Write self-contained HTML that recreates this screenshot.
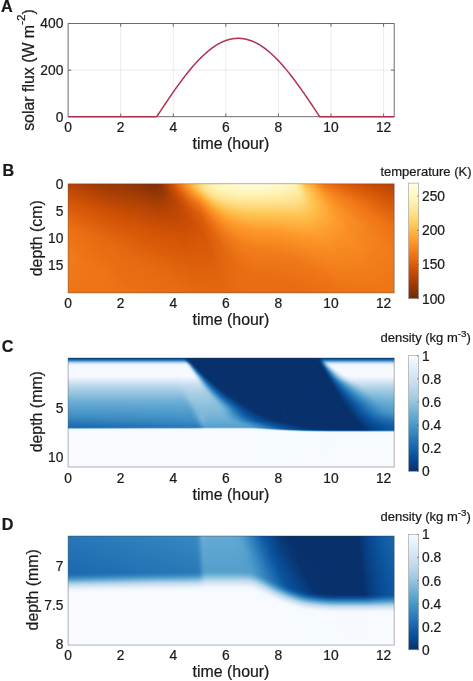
<!DOCTYPE html>
<html><head><meta charset="utf-8"><title>figure</title>
<style>html,body{margin:0;padding:0;background:#fff;}svg{display:block;will-change:transform;}text{font-family:"Liberation Sans", sans-serif;fill:#1a1a1a;stroke:#1a1a1a;stroke-width:0.22px;}</style>
</head><body>
<svg width="473" height="681" viewBox="0 0 473 681">
<rect width="473" height="681" fill="#ffffff"/>
<g stroke="#dedede" stroke-width="0.6"><line x1="120.68" y1="23.55" x2="120.68" y2="116.70"/><line x1="173.26" y1="23.55" x2="173.26" y2="116.70"/><line x1="225.84" y1="23.55" x2="225.84" y2="116.70"/><line x1="278.42" y1="23.55" x2="278.42" y2="116.70"/><line x1="331.00" y1="23.55" x2="331.00" y2="116.70"/><line x1="383.58" y1="23.55" x2="383.58" y2="116.70"/><line x1="68.10" y1="70.12" x2="394.20" y2="70.12"/></g>
<rect x="68.10" y="23.55" width="326.10" height="93.15" fill="none" stroke="#5c5c5c" stroke-width="0.90"/>
<g stroke="#5c5c5c" stroke-width="0.90"><line x1="120.68" y1="116.70" x2="120.68" y2="113.50"/><line x1="120.68" y1="23.55" x2="120.68" y2="26.75"/><line x1="173.26" y1="116.70" x2="173.26" y2="113.50"/><line x1="173.26" y1="23.55" x2="173.26" y2="26.75"/><line x1="225.84" y1="116.70" x2="225.84" y2="113.50"/><line x1="225.84" y1="23.55" x2="225.84" y2="26.75"/><line x1="278.42" y1="116.70" x2="278.42" y2="113.50"/><line x1="278.42" y1="23.55" x2="278.42" y2="26.75"/><line x1="331.00" y1="116.70" x2="331.00" y2="113.50"/><line x1="331.00" y1="23.55" x2="331.00" y2="26.75"/><line x1="383.58" y1="116.70" x2="383.58" y2="113.50"/><line x1="383.58" y1="23.55" x2="383.58" y2="26.75"/><line x1="68.10" y1="70.12" x2="71.30" y2="70.12"/><line x1="394.20" y1="70.12" x2="391.00" y2="70.12"/></g>
<polyline points="68.10,116.70 68.92,116.70 69.73,116.70 70.55,116.70 71.37,116.70 72.19,116.70 73.00,116.70 73.82,116.70 74.64,116.70 75.45,116.70 76.27,116.70 77.09,116.70 77.90,116.70 78.72,116.70 79.54,116.70 80.36,116.70 81.17,116.70 81.99,116.70 82.81,116.70 83.62,116.70 84.44,116.70 85.26,116.70 86.07,116.70 86.89,116.70 87.71,116.70 88.53,116.70 89.34,116.70 90.16,116.70 90.98,116.70 91.79,116.70 92.61,116.70 93.43,116.70 94.25,116.70 95.06,116.70 95.88,116.70 96.70,116.70 97.51,116.70 98.33,116.70 99.15,116.70 99.96,116.70 100.78,116.70 101.60,116.70 102.42,116.70 103.23,116.70 104.05,116.70 104.87,116.70 105.68,116.70 106.50,116.70 107.32,116.70 108.13,116.70 108.95,116.70 109.77,116.70 110.59,116.70 111.40,116.70 112.22,116.70 113.04,116.70 113.85,116.70 114.67,116.70 115.49,116.70 116.30,116.70 117.12,116.70 117.94,116.70 118.76,116.70 119.57,116.70 120.39,116.70 121.21,116.70 122.02,116.70 122.84,116.70 123.66,116.70 124.48,116.70 125.29,116.70 126.11,116.70 126.93,116.70 127.74,116.70 128.56,116.70 129.38,116.70 130.19,116.70 131.01,116.70 131.83,116.70 132.65,116.70 133.46,116.70 134.28,116.70 135.10,116.70 135.91,116.70 136.73,116.70 137.55,116.70 138.36,116.70 139.18,116.70 140.00,116.70 140.82,116.70 141.63,116.70 142.45,116.70 143.27,116.70 144.08,116.70 144.90,116.70 145.72,116.70 146.54,116.70 147.35,116.70 148.17,116.70 148.99,116.70 149.80,116.70 150.62,116.70 151.44,116.70 152.25,116.70 153.07,116.70 153.89,116.70 154.71,116.70 155.52,116.70 156.34,116.70 157.16,116.01 157.97,114.77 158.79,113.54 159.61,112.31 160.42,111.08 161.24,109.85 162.06,108.62 162.88,107.39 163.69,106.17 164.51,104.94 165.33,103.73 166.14,102.51 166.96,101.30 167.78,100.09 168.60,98.89 169.41,97.69 170.23,96.49 171.05,95.30 171.86,94.12 172.68,92.94 173.50,91.77 174.31,90.60 175.13,89.44 175.95,88.29 176.77,87.14 177.58,86.00 178.40,84.87 179.22,83.75 180.03,82.63 180.85,81.52 181.67,80.43 182.48,79.34 183.30,78.26 184.12,77.19 184.94,76.13 185.75,75.07 186.57,74.03 187.39,73.00 188.20,71.99 189.02,70.98 189.84,69.98 190.65,69.00 191.47,68.02 192.29,67.06 193.11,66.11 193.92,65.18 194.74,64.25 195.56,63.34 196.37,62.45 197.19,61.56 198.01,60.69 198.83,59.84 199.64,59.00 200.46,58.17 201.28,57.35 202.09,56.56 202.91,55.77 203.73,55.00 204.54,54.25 205.36,53.51 206.18,52.79 207.00,52.08 207.81,51.39 208.63,50.72 209.45,50.06 210.26,49.42 211.08,48.80 211.90,48.19 212.71,47.60 213.53,47.03 214.35,46.47 215.17,45.93 215.98,45.41 216.80,44.91 217.62,44.42 218.43,43.95 219.25,43.50 220.07,43.07 220.89,42.66 221.70,42.26 222.52,41.89 223.34,41.53 224.15,41.19 224.97,40.87 225.79,40.57 226.60,40.29 227.42,40.02 228.24,39.78 229.06,39.55 229.87,39.34 230.69,39.16 231.51,38.99 232.32,38.84 233.14,38.71 233.96,38.60 234.77,38.51 235.59,38.44 236.41,38.38 237.23,38.35 238.04,38.34 238.86,38.34 239.68,38.37 240.49,38.41 241.31,38.48 242.13,38.56 242.94,38.67 243.76,38.79 244.58,38.93 245.40,39.09 246.21,39.27 247.03,39.47 247.85,39.69 248.66,39.93 249.48,40.18 250.30,40.46 251.12,40.75 251.93,41.07 252.75,41.40 253.57,41.75 254.38,42.12 255.20,42.51 256.02,42.91 256.83,43.34 257.65,43.78 258.47,44.24 259.29,44.72 260.10,45.22 260.92,45.73 261.74,46.27 262.55,46.82 263.37,47.38 264.19,47.97 265.00,48.57 265.82,49.19 266.64,49.82 267.46,50.47 268.27,51.14 269.09,51.82 269.91,52.52 270.72,53.24 271.54,53.97 272.36,54.72 273.18,55.48 273.99,56.26 274.81,57.05 275.63,57.86 276.44,58.68 277.26,59.52 278.08,60.37 278.89,61.23 279.71,62.11 280.53,63.01 281.35,63.91 282.16,64.83 282.98,65.76 283.80,66.70 284.61,67.66 285.43,68.63 286.25,69.61 287.06,70.60 287.88,71.61 288.70,72.62 289.52,73.65 290.33,74.68 291.15,75.73 291.97,76.79 292.78,77.85 293.60,78.93 294.42,80.02 295.24,81.11 296.05,82.21 296.87,83.33 297.69,84.45 298.50,85.58 299.32,86.71 300.14,87.86 300.95,89.01 301.77,90.16 302.59,91.33 303.41,92.50 304.22,93.68 305.04,94.86 305.86,96.05 306.67,97.24 307.49,98.44 308.31,99.64 309.12,100.84 309.94,102.06 310.76,103.27 311.58,104.49 312.39,105.71 313.21,106.93 314.03,108.16 314.84,109.38 315.66,110.61 316.48,111.84 317.29,113.08 318.11,114.31 318.93,115.54 319.75,116.70 320.56,116.70 321.38,116.70 322.20,116.70 323.01,116.70 323.83,116.70 324.65,116.70 325.47,116.70 326.28,116.70 327.10,116.70 327.92,116.70 328.73,116.70 329.55,116.70 330.37,116.70 331.18,116.70 332.00,116.70 332.82,116.70 333.64,116.70 334.45,116.70 335.27,116.70 336.09,116.70 336.90,116.70 337.72,116.70 338.54,116.70 339.35,116.70 340.17,116.70 340.99,116.70 341.81,116.70 342.62,116.70 343.44,116.70 344.26,116.70 345.07,116.70 345.89,116.70 346.71,116.70 347.53,116.70 348.34,116.70 349.16,116.70 349.98,116.70 350.79,116.70 351.61,116.70 352.43,116.70 353.24,116.70 354.06,116.70 354.88,116.70 355.70,116.70 356.51,116.70 357.33,116.70 358.15,116.70 358.96,116.70 359.78,116.70 360.60,116.70 361.41,116.70 362.23,116.70 363.05,116.70 363.87,116.70 364.68,116.70 365.50,116.70 366.32,116.70 367.13,116.70 367.95,116.70 368.77,116.70 369.59,116.70 370.40,116.70 371.22,116.70 372.04,116.70 372.85,116.70 373.67,116.70 374.49,116.70 375.30,116.70 376.12,116.70 376.94,116.70 377.76,116.70 378.57,116.70 379.39,116.70 380.21,116.70 381.02,116.70 381.84,116.70 382.66,116.70 383.47,116.70 384.29,116.70 385.11,116.70 385.93,116.70 386.74,116.70 387.56,116.70 388.38,116.70 389.19,116.70 390.01,116.70 390.83,116.70 391.64,116.70 392.46,116.70 393.28,116.70 394.10,116.70" fill="none" stroke="#b3304f" stroke-width="1.50" stroke-linejoin="round"/>
<text x="63.40" y="121.64" font-size="13.80" text-anchor="end" >0</text>
<text x="63.40" y="75.07" font-size="13.80" text-anchor="end" >200</text>
<text x="63.40" y="28.49" font-size="13.80" text-anchor="end" >400</text>
<text x="68.10" y="132.20" font-size="13.80" text-anchor="middle" >0</text>
<text x="120.68" y="132.20" font-size="13.80" text-anchor="middle" >2</text>
<text x="173.26" y="132.20" font-size="13.80" text-anchor="middle" >4</text>
<text x="225.84" y="132.20" font-size="13.80" text-anchor="middle" >6</text>
<text x="278.42" y="132.20" font-size="13.80" text-anchor="middle" >8</text>
<text x="331.00" y="132.20" font-size="13.80" text-anchor="middle" >10</text>
<text x="383.58" y="132.20" font-size="13.80" text-anchor="middle" >12</text>
<text x="231.00" y="148.60" font-size="15.90" text-anchor="middle" >time (hour)</text>
<text transform="translate(33.50,70.00) rotate(-90)" font-size="15.90" text-anchor="middle">solar flux (W m<tspan dy="-8.43" font-size="11.77">-2</tspan><tspan dy="8.43">)</tspan></text>
<text x="0.90" y="11.50" font-size="16.20" text-anchor="start" font-weight="bold">A</text>
<defs><linearGradient id="gB0" x1="0" y1="0" x2="0" y2="1"><stop offset="0.00459" stop-color="#b34305"/><stop offset="0.161" stop-color="#d45506"/><stop offset="0.399" stop-color="#eb7014"/><stop offset="0.665" stop-color="#f17a19"/><stop offset="0.995" stop-color="#ee7516"/></linearGradient><linearGradient id="gB1" x1="0" y1="0" x2="0" y2="1"><stop offset="0.00459" stop-color="#b24205"/><stop offset="0.161" stop-color="#d35406"/><stop offset="0.408" stop-color="#eb7014"/><stop offset="0.674" stop-color="#f07a19"/><stop offset="0.995" stop-color="#ee7516"/></linearGradient><linearGradient id="gB2" x1="0" y1="0" x2="0" y2="1"><stop offset="0.00459" stop-color="#b14205"/><stop offset="0.17" stop-color="#d35406"/><stop offset="0.417" stop-color="#eb7014"/><stop offset="0.693" stop-color="#f07919"/><stop offset="0.995" stop-color="#ee7516"/></linearGradient><linearGradient id="gB3" x1="0" y1="0" x2="0" y2="1"><stop offset="0.00459" stop-color="#af4105"/><stop offset="0.17" stop-color="#d35306"/><stop offset="0.417" stop-color="#ea6f13"/><stop offset="0.693" stop-color="#f07918"/><stop offset="0.995" stop-color="#ee7516"/></linearGradient><linearGradient id="gB4" x1="0" y1="0" x2="0" y2="1"><stop offset="0.00459" stop-color="#ae4105"/><stop offset="0.179" stop-color="#d35406"/><stop offset="0.427" stop-color="#ea6f13"/><stop offset="0.711" stop-color="#f07818"/><stop offset="0.995" stop-color="#ee7516"/></linearGradient><linearGradient id="gB5" x1="0" y1="0" x2="0" y2="1"><stop offset="0.00459" stop-color="#ad4005"/><stop offset="0.179" stop-color="#d25305"/><stop offset="0.436" stop-color="#e96e13"/><stop offset="0.72" stop-color="#f07818"/><stop offset="0.995" stop-color="#ee7516"/></linearGradient><linearGradient id="gB6" x1="0" y1="0" x2="0" y2="1"><stop offset="0.00459" stop-color="#ac3f05"/><stop offset="0.188" stop-color="#d35306"/><stop offset="0.445" stop-color="#e96e13"/><stop offset="0.739" stop-color="#ef7718"/><stop offset="0.995" stop-color="#ee7416"/></linearGradient><linearGradient id="gB7" x1="0" y1="0" x2="0" y2="1"><stop offset="0.00459" stop-color="#aa3f05"/><stop offset="0.197" stop-color="#d35306"/><stop offset="0.454" stop-color="#e96e13"/><stop offset="0.748" stop-color="#ef7718"/><stop offset="0.995" stop-color="#ee7416"/></linearGradient><linearGradient id="gB8" x1="0" y1="0" x2="0" y2="1"><stop offset="0.00459" stop-color="#a93e05"/><stop offset="0.197" stop-color="#d25205"/><stop offset="0.454" stop-color="#e86d13"/><stop offset="0.748" stop-color="#ef7717"/><stop offset="0.995" stop-color="#ee7416"/></linearGradient><linearGradient id="gB9" x1="0" y1="0" x2="0" y2="1"><stop offset="0.00459" stop-color="#a83d05"/><stop offset="0.206" stop-color="#d25305"/><stop offset="0.463" stop-color="#e86d13"/><stop offset="0.766" stop-color="#ef7617"/><stop offset="0.995" stop-color="#ee7416"/></linearGradient><linearGradient id="gB10" x1="0" y1="0" x2="0" y2="1"><stop offset="0.00459" stop-color="#a63d05"/><stop offset="0.206" stop-color="#d25205"/><stop offset="0.463" stop-color="#e86c12"/><stop offset="0.766" stop-color="#ef7617"/><stop offset="0.995" stop-color="#ee7416"/></linearGradient><linearGradient id="gB11" x1="0" y1="0" x2="0" y2="1"><stop offset="0.00459" stop-color="#a53c05"/><stop offset="0.206" stop-color="#d15104"/><stop offset="0.472" stop-color="#e76c12"/><stop offset="0.784" stop-color="#ef7617"/><stop offset="0.995" stop-color="#ee7416"/></linearGradient><linearGradient id="gB12" x1="0" y1="0" x2="0" y2="1"><stop offset="0.00459" stop-color="#a33b05"/><stop offset="0.216" stop-color="#d15105"/><stop offset="0.482" stop-color="#e76c12"/><stop offset="0.794" stop-color="#ef7517"/><stop offset="0.995" stop-color="#ee7416"/></linearGradient><linearGradient id="gB13" x1="0" y1="0" x2="0" y2="1"><stop offset="0.00459" stop-color="#a13b05"/><stop offset="0.216" stop-color="#d05004"/><stop offset="0.482" stop-color="#e76b12"/><stop offset="0.794" stop-color="#ee7516"/><stop offset="0.995" stop-color="#ee7416"/></linearGradient><linearGradient id="gB14" x1="0" y1="0" x2="0" y2="1"><stop offset="0.00459" stop-color="#a03a05"/><stop offset="0.216" stop-color="#cf5004"/><stop offset="0.491" stop-color="#e76b12"/><stop offset="0.812" stop-color="#ee7516"/><stop offset="0.995" stop-color="#ee7416"/></linearGradient><linearGradient id="gB15" x1="0" y1="0" x2="0" y2="1"><stop offset="0.00459" stop-color="#9e3905"/><stop offset="0.225" stop-color="#d05004"/><stop offset="0.491" stop-color="#e66a11"/><stop offset="0.812" stop-color="#ee7416"/><stop offset="0.995" stop-color="#ee7416"/></linearGradient><linearGradient id="gB16" x1="0" y1="0" x2="0" y2="1"><stop offset="0.00459" stop-color="#9c3905"/><stop offset="0.225" stop-color="#ce4f04"/><stop offset="0.5" stop-color="#e66a11"/><stop offset="0.83" stop-color="#ee7416"/><stop offset="0.995" stop-color="#ed7316"/></linearGradient><linearGradient id="gB17" x1="0" y1="0" x2="0" y2="1"><stop offset="0.00459" stop-color="#9b3805"/><stop offset="0.225" stop-color="#cd4f04"/><stop offset="0.482" stop-color="#e46810"/><stop offset="0.803" stop-color="#ee7416"/><stop offset="0.995" stop-color="#ed7316"/></linearGradient><linearGradient id="gB18" x1="0" y1="0" x2="0" y2="1"><stop offset="0.00459" stop-color="#993805"/><stop offset="0.234" stop-color="#cd4f04"/><stop offset="0.491" stop-color="#e46810"/><stop offset="0.812" stop-color="#ed7316"/><stop offset="0.995" stop-color="#ed7316"/></linearGradient><linearGradient id="gB19" x1="0" y1="0" x2="0" y2="1"><stop offset="0.00459" stop-color="#993805"/><stop offset="0.243" stop-color="#ce4f04"/><stop offset="0.509" stop-color="#e56910"/><stop offset="0.839" stop-color="#ed7316"/><stop offset="0.995" stop-color="#ed7315"/></linearGradient><linearGradient id="gB20" x1="0" y1="0" x2="0" y2="1"><stop offset="0.00459" stop-color="#983705"/><stop offset="0.252" stop-color="#ce4f04"/><stop offset="0.528" stop-color="#e56911"/><stop offset="0.867" stop-color="#ed7315"/><stop offset="0.995" stop-color="#ed7315"/></linearGradient><linearGradient id="gB21" x1="0" y1="0" x2="0" y2="1"><stop offset="0.00459" stop-color="#973705"/><stop offset="0.261" stop-color="#cf4f04"/><stop offset="0.546" stop-color="#e56a11"/><stop offset="0.894" stop-color="#ed7315"/><stop offset="0.995" stop-color="#ed7315"/></linearGradient><linearGradient id="gB22" x1="0" y1="0" x2="0" y2="1"><stop offset="0.00459" stop-color="#973705"/><stop offset="0.271" stop-color="#cf5004"/><stop offset="0.555" stop-color="#e56a11"/><stop offset="0.913" stop-color="#ed7315"/><stop offset="0.995" stop-color="#ed7215"/></linearGradient><linearGradient id="gB23" x1="0" y1="0" x2="0" y2="1"><stop offset="0.00459" stop-color="#973705"/><stop offset="0.28" stop-color="#d05004"/><stop offset="0.564" stop-color="#e56911"/><stop offset="0.922" stop-color="#ed7215"/><stop offset="0.995" stop-color="#ed7215"/></linearGradient><linearGradient id="gB24" x1="0" y1="0" x2="0" y2="1"><stop offset="0.00459" stop-color="#963705"/><stop offset="0.289" stop-color="#d05004"/><stop offset="0.573" stop-color="#e56911"/><stop offset="0.94" stop-color="#ec7215"/><stop offset="0.995" stop-color="#ec7215"/></linearGradient><linearGradient id="gB25" x1="0" y1="0" x2="0" y2="1"><stop offset="0.00459" stop-color="#963705"/><stop offset="0.298" stop-color="#d05004"/><stop offset="0.583" stop-color="#e56911"/><stop offset="0.95" stop-color="#ec7215"/><stop offset="0.995" stop-color="#ec7215"/></linearGradient><linearGradient id="gB26" x1="0" y1="0" x2="0" y2="1"><stop offset="0.00459" stop-color="#963705"/><stop offset="0.307" stop-color="#d15104"/><stop offset="0.592" stop-color="#e56911"/><stop offset="0.968" stop-color="#ec7215"/><stop offset="0.995" stop-color="#ec7215"/></linearGradient><linearGradient id="gB27" x1="0" y1="0" x2="0" y2="1"><stop offset="0.00459" stop-color="#953705"/><stop offset="0.317" stop-color="#d15104"/><stop offset="0.601" stop-color="#e56911"/><stop offset="0.977" stop-color="#ec7215"/><stop offset="0.995" stop-color="#ec7215"/></linearGradient><linearGradient id="gB28" x1="0" y1="0" x2="0" y2="1"><stop offset="0.00459" stop-color="#953605"/><stop offset="0.317" stop-color="#d05004"/><stop offset="0.61" stop-color="#e56910"/><stop offset="0.995" stop-color="#ec7115"/></linearGradient><linearGradient id="gB29" x1="0" y1="0" x2="0" y2="1"><stop offset="0.00459" stop-color="#943605"/><stop offset="0.326" stop-color="#d05104"/><stop offset="0.619" stop-color="#e56910"/><stop offset="0.995" stop-color="#ec7115"/></linearGradient><linearGradient id="gB30" x1="0" y1="0" x2="0" y2="1"><stop offset="0.00459" stop-color="#933606"/><stop offset="0.326" stop-color="#d05004"/><stop offset="0.628" stop-color="#e56910"/><stop offset="0.995" stop-color="#ec7115"/></linearGradient><linearGradient id="gB31" x1="0" y1="0" x2="0" y2="1"><stop offset="0.00459" stop-color="#923606"/><stop offset="0.317" stop-color="#cd4f04"/><stop offset="0.61" stop-color="#e36710"/><stop offset="0.995" stop-color="#eb7114"/></linearGradient><linearGradient id="gB32" x1="0" y1="0" x2="0" y2="1"><stop offset="0.00459" stop-color="#903506"/><stop offset="0.289" stop-color="#c84c04"/><stop offset="0.454" stop-color="#da5c0a"/><stop offset="0.775" stop-color="#e96d13"/><stop offset="0.995" stop-color="#eb7114"/></linearGradient><linearGradient id="gB33" x1="0" y1="0" x2="0" y2="1"><stop offset="0.00459" stop-color="#8f3406"/><stop offset="0.252" stop-color="#c14904"/><stop offset="0.399" stop-color="#d55607"/><stop offset="0.711" stop-color="#e66b11"/><stop offset="0.995" stop-color="#eb7014"/></linearGradient><linearGradient id="gB34" x1="0" y1="0" x2="0" y2="1"><stop offset="0.00459" stop-color="#8c3406"/><stop offset="0.234" stop-color="#bd4704"/><stop offset="0.399" stop-color="#d45507"/><stop offset="0.711" stop-color="#e66a11"/><stop offset="0.995" stop-color="#eb7014"/></linearGradient><linearGradient id="gB35" x1="0" y1="0" x2="0" y2="1"><stop offset="0.00459" stop-color="#8a3306"/><stop offset="0.216" stop-color="#b94504"/><stop offset="0.399" stop-color="#d45406"/><stop offset="0.711" stop-color="#e66a11"/><stop offset="0.995" stop-color="#eb7014"/></linearGradient><linearGradient id="gB36" x1="0" y1="0" x2="0" y2="1"><stop offset="0.00459" stop-color="#883206"/><stop offset="0.206" stop-color="#b64405"/><stop offset="0.399" stop-color="#d35406"/><stop offset="0.72" stop-color="#e66a11"/><stop offset="0.995" stop-color="#ea7014"/></linearGradient><linearGradient id="gB37" x1="0" y1="0" x2="0" y2="1"><stop offset="0.00459" stop-color="#863206"/><stop offset="0.197" stop-color="#b34305"/><stop offset="0.399" stop-color="#d35306"/><stop offset="0.72" stop-color="#e56911"/><stop offset="0.995" stop-color="#ea7014"/></linearGradient><linearGradient id="gB38" x1="0" y1="0" x2="0" y2="1"><stop offset="0.00459" stop-color="#853106"/><stop offset="0.206" stop-color="#b44305"/><stop offset="0.408" stop-color="#d35306"/><stop offset="0.729" stop-color="#e56911"/><stop offset="0.995" stop-color="#ea6f14"/></linearGradient><linearGradient id="gB39" x1="0" y1="0" x2="0" y2="1"><stop offset="0.00459" stop-color="#833106"/><stop offset="0.216" stop-color="#b54305"/><stop offset="0.408" stop-color="#d25305"/><stop offset="0.729" stop-color="#e56910"/><stop offset="0.995" stop-color="#ea6f14"/></linearGradient><linearGradient id="gB40" x1="0" y1="0" x2="0" y2="1"><stop offset="0.00459" stop-color="#823006"/><stop offset="0.225" stop-color="#b54405"/><stop offset="0.417" stop-color="#d35306"/><stop offset="0.739" stop-color="#e56910"/><stop offset="0.995" stop-color="#ea6f13"/></linearGradient><linearGradient id="gB41" x1="0" y1="0" x2="0" y2="1"><stop offset="0.00459" stop-color="#813006"/><stop offset="0.225" stop-color="#b44305"/><stop offset="0.427" stop-color="#d35306"/><stop offset="0.748" stop-color="#e56910"/><stop offset="0.995" stop-color="#ea6f13"/></linearGradient><linearGradient id="gB42" x1="0" y1="0" x2="0" y2="1"><stop offset="0.00459" stop-color="#803006"/><stop offset="0.234" stop-color="#b54305"/><stop offset="0.427" stop-color="#d25305"/><stop offset="0.757" stop-color="#e56910"/><stop offset="0.995" stop-color="#e96e13"/></linearGradient><linearGradient id="gB43" x1="0" y1="0" x2="0" y2="1"><stop offset="0.00459" stop-color="#803006"/><stop offset="0.243" stop-color="#b54405"/><stop offset="0.436" stop-color="#d25305"/><stop offset="0.766" stop-color="#e56910"/><stop offset="0.995" stop-color="#e96e13"/></linearGradient><linearGradient id="gB44" x1="0" y1="0" x2="0" y2="1"><stop offset="0.00459" stop-color="#803006"/><stop offset="0.261" stop-color="#b84504"/><stop offset="0.445" stop-color="#d35306"/><stop offset="0.775" stop-color="#e56910"/><stop offset="0.995" stop-color="#e96e13"/></linearGradient><linearGradient id="gB45" x1="0" y1="0" x2="0" y2="1"><stop offset="0.00459" stop-color="#843106"/><stop offset="0.335" stop-color="#c44b04"/><stop offset="0.482" stop-color="#d55607"/><stop offset="0.821" stop-color="#e66a11"/><stop offset="0.995" stop-color="#e96e13"/></linearGradient><linearGradient id="gB46" x1="0" y1="0" x2="0" y2="1"><stop offset="0.00459" stop-color="#8c3406"/><stop offset="0.115" stop-color="#9c3905"/><stop offset="0.408" stop-color="#cf4f04"/><stop offset="0.748" stop-color="#e36710"/><stop offset="0.995" stop-color="#e96e13"/></linearGradient><linearGradient id="gB47" x1="0" y1="0" x2="0" y2="1"><stop offset="0.00459" stop-color="#983705"/><stop offset="0.0872" stop-color="#9a3805"/><stop offset="0.436" stop-color="#d15105"/><stop offset="0.766" stop-color="#e46810"/><stop offset="0.995" stop-color="#e96d13"/></linearGradient><linearGradient id="gB48" x1="0" y1="0" x2="0" y2="1"><stop offset="0.00459" stop-color="#a43c05"/><stop offset="0.0872" stop-color="#9f3a05"/><stop offset="0.271" stop-color="#b94504"/><stop offset="0.463" stop-color="#d35406"/><stop offset="0.803" stop-color="#e46910"/><stop offset="0.995" stop-color="#e86d13"/></linearGradient><linearGradient id="gB49" x1="0" y1="0" x2="0" y2="1"><stop offset="0.00459" stop-color="#af4105"/><stop offset="0.078" stop-color="#a53c05"/><stop offset="0.197" stop-color="#ae4005"/><stop offset="0.463" stop-color="#d35306"/><stop offset="0.812" stop-color="#e56910"/><stop offset="0.995" stop-color="#e86d13"/></linearGradient><linearGradient id="gB50" x1="0" y1="0" x2="0" y2="1"><stop offset="0.00459" stop-color="#bc4704"/><stop offset="0.078" stop-color="#ad4005"/><stop offset="0.179" stop-color="#ae4005"/><stop offset="0.482" stop-color="#d45406"/><stop offset="0.83" stop-color="#e56910"/><stop offset="0.995" stop-color="#e86d12"/></linearGradient><linearGradient id="gB51" x1="0" y1="0" x2="0" y2="1"><stop offset="0.00459" stop-color="#ca4d04"/><stop offset="0.078" stop-color="#b54405"/><stop offset="0.17" stop-color="#b04205"/><stop offset="0.408" stop-color="#cc4e04"/><stop offset="0.72" stop-color="#e1640e"/><stop offset="0.995" stop-color="#e86d12"/></linearGradient><linearGradient id="gB52" x1="0" y1="0" x2="0" y2="1"><stop offset="0.00459" stop-color="#d45507"/><stop offset="0.0872" stop-color="#bb4704"/><stop offset="0.179" stop-color="#b44305"/><stop offset="0.353" stop-color="#c54b04"/><stop offset="0.528" stop-color="#d65708"/><stop offset="0.894" stop-color="#e66a11"/><stop offset="0.995" stop-color="#e86c12"/></linearGradient><linearGradient id="gB53" x1="0" y1="0" x2="0" y2="1"><stop offset="0.00459" stop-color="#dc5f0b"/><stop offset="0.0688" stop-color="#c94d04"/><stop offset="0.151" stop-color="#b94504"/><stop offset="0.261" stop-color="#bb4604"/><stop offset="0.528" stop-color="#d65707"/><stop offset="0.894" stop-color="#e66a11"/><stop offset="0.995" stop-color="#e76c12"/></linearGradient><linearGradient id="gB54" x1="0" y1="0" x2="0" y2="1"><stop offset="0.00459" stop-color="#e56911"/><stop offset="0.0872" stop-color="#cd4f04"/><stop offset="0.17" stop-color="#bd4704"/><stop offset="0.289" stop-color="#be4804"/><stop offset="0.537" stop-color="#d65708"/><stop offset="0.904" stop-color="#e66a11"/><stop offset="0.995" stop-color="#e76c12"/></linearGradient><linearGradient id="gB55" x1="0" y1="0" x2="0" y2="1"><stop offset="0.00459" stop-color="#ed7416"/><stop offset="0.0963" stop-color="#d25305"/><stop offset="0.188" stop-color="#c04904"/><stop offset="0.307" stop-color="#c14904"/><stop offset="0.555" stop-color="#d75808"/><stop offset="0.931" stop-color="#e66a11"/><stop offset="0.995" stop-color="#e76c12"/></linearGradient><linearGradient id="gB56" x1="0" y1="0" x2="0" y2="1"><stop offset="0.00459" stop-color="#f37f1c"/><stop offset="0.106" stop-color="#d65708"/><stop offset="0.179" stop-color="#c64c04"/><stop offset="0.28" stop-color="#c14904"/><stop offset="0.555" stop-color="#d65808"/><stop offset="0.94" stop-color="#e66a11"/><stop offset="0.995" stop-color="#e76b12"/></linearGradient><linearGradient id="gB57" x1="0" y1="0" x2="0" y2="1"><stop offset="0.00459" stop-color="#f78a21"/><stop offset="0.078" stop-color="#e56911"/><stop offset="0.161" stop-color="#d05104"/><stop offset="0.252" stop-color="#c44b04"/><stop offset="0.399" stop-color="#ca4d04"/><stop offset="0.775" stop-color="#e1640e"/><stop offset="0.995" stop-color="#e76b12"/></linearGradient><linearGradient id="gB58" x1="0" y1="0" x2="0" y2="1"><stop offset="0.00459" stop-color="#fc9426"/><stop offset="0.0963" stop-color="#e66b11"/><stop offset="0.179" stop-color="#d25205"/><stop offset="0.28" stop-color="#c64c04"/><stop offset="0.445" stop-color="#cf4f04"/><stop offset="0.885" stop-color="#e46810"/><stop offset="0.995" stop-color="#e66b11"/></linearGradient><linearGradient id="gB59" x1="0" y1="0" x2="0" y2="1"><stop offset="0.00459" stop-color="#fe9e2e"/><stop offset="0.0872" stop-color="#f07818"/><stop offset="0.17" stop-color="#d85a09"/><stop offset="0.252" stop-color="#cc4e04"/><stop offset="0.372" stop-color="#ca4d04"/><stop offset="0.858" stop-color="#e3670f"/><stop offset="0.995" stop-color="#e66b11"/></linearGradient><linearGradient id="gB60" x1="0" y1="0" x2="0" y2="1"><stop offset="0.00459" stop-color="#fea937"/><stop offset="0.0596" stop-color="#fa9024"/><stop offset="0.142" stop-color="#e46810"/><stop offset="0.225" stop-color="#d35306"/><stop offset="0.344" stop-color="#cb4e04"/><stop offset="0.583" stop-color="#d75808"/><stop offset="0.995" stop-color="#e66a11"/></linearGradient><linearGradient id="gB61" x1="0" y1="0" x2="0" y2="1"><stop offset="0.00459" stop-color="#feb441"/><stop offset="0.0413" stop-color="#fea534"/><stop offset="0.0872" stop-color="#f88a22"/><stop offset="0.161" stop-color="#e56910"/><stop offset="0.243" stop-color="#d45506"/><stop offset="0.362" stop-color="#cd4e04"/><stop offset="0.647" stop-color="#da5c0a"/><stop offset="0.995" stop-color="#e66a11"/></linearGradient><linearGradient id="gB62" x1="0" y1="0" x2="0" y2="1"><stop offset="0.00459" stop-color="#febe4a"/><stop offset="0.0321" stop-color="#feb743"/><stop offset="0.0872" stop-color="#fc9426"/><stop offset="0.17" stop-color="#e76c12"/><stop offset="0.252" stop-color="#d65707"/><stop offset="0.372" stop-color="#cf4f04"/><stop offset="0.995" stop-color="#e66a11"/></linearGradient><linearGradient id="gB63" x1="0" y1="0" x2="0" y2="1"><stop offset="0.00459" stop-color="#fec755"/><stop offset="0.0229" stop-color="#fec553"/><stop offset="0.0596" stop-color="#feb23f"/><stop offset="0.106" stop-color="#fb9226"/><stop offset="0.179" stop-color="#e96f13"/><stop offset="0.261" stop-color="#d85909"/><stop offset="0.381" stop-color="#d05004"/><stop offset="0.995" stop-color="#e56a11"/></linearGradient><linearGradient id="gB64" x1="0" y1="0" x2="0" y2="1"><stop offset="0.00459" stop-color="#fece64"/><stop offset="0.0229" stop-color="#fece64"/><stop offset="0.0596" stop-color="#febe4a"/><stop offset="0.115" stop-color="#fd9627"/><stop offset="0.188" stop-color="#ec7115"/><stop offset="0.271" stop-color="#d95b0a"/><stop offset="0.39" stop-color="#d15205"/><stop offset="0.729" stop-color="#dd600c"/><stop offset="0.995" stop-color="#e56911"/></linearGradient><linearGradient id="gB65" x1="0" y1="0" x2="0" y2="1"><stop offset="0.00459" stop-color="#fed572"/><stop offset="0.0229" stop-color="#fed675"/><stop offset="0.0505" stop-color="#fecd62"/><stop offset="0.078" stop-color="#febc48"/><stop offset="0.124" stop-color="#fd9929"/><stop offset="0.197" stop-color="#ed7316"/><stop offset="0.28" stop-color="#db5d0b"/><stop offset="0.399" stop-color="#d25305"/><stop offset="0.702" stop-color="#dc5e0b"/><stop offset="0.995" stop-color="#e56911"/></linearGradient><linearGradient id="gB66" x1="0" y1="0" x2="0" y2="1"><stop offset="0.00459" stop-color="#fedb80"/><stop offset="0.0229" stop-color="#fede85"/><stop offset="0.0413" stop-color="#fed97c"/><stop offset="0.0872" stop-color="#fec04c"/><stop offset="0.142" stop-color="#fd9627"/><stop offset="0.216" stop-color="#ed7215"/><stop offset="0.307" stop-color="#da5c0a"/><stop offset="0.436" stop-color="#d35406"/><stop offset="0.995" stop-color="#e56910"/></linearGradient><linearGradient id="gB67" x1="0" y1="0" x2="0" y2="1"><stop offset="0.00459" stop-color="#fee18d"/><stop offset="0.0229" stop-color="#fee392"/><stop offset="0.0413" stop-color="#fee08b"/><stop offset="0.078" stop-color="#fecf67"/><stop offset="0.106" stop-color="#febe4a"/><stop offset="0.161" stop-color="#fd9627"/><stop offset="0.234" stop-color="#ed7416"/><stop offset="0.326" stop-color="#dc5e0b"/><stop offset="0.463" stop-color="#d55507"/><stop offset="0.995" stop-color="#e56910"/></linearGradient><linearGradient id="gB68" x1="0" y1="0" x2="0" y2="1"><stop offset="0.00459" stop-color="#fee596"/><stop offset="0.0321" stop-color="#fee799"/><stop offset="0.0596" stop-color="#fee08a"/><stop offset="0.115" stop-color="#fec34f"/><stop offset="0.179" stop-color="#fd9627"/><stop offset="0.261" stop-color="#ed7315"/><stop offset="0.362" stop-color="#db5e0b"/><stop offset="0.509" stop-color="#d65708"/><stop offset="0.995" stop-color="#e46810"/></linearGradient><linearGradient id="gB69" x1="0" y1="0" x2="0" y2="1"><stop offset="0.00459" stop-color="#fee99e"/><stop offset="0.0321" stop-color="#feeaa0"/><stop offset="0.0688" stop-color="#fee290"/><stop offset="0.133" stop-color="#fec14c"/><stop offset="0.197" stop-color="#fd9627"/><stop offset="0.28" stop-color="#ee7416"/><stop offset="0.381" stop-color="#dd600c"/><stop offset="0.528" stop-color="#d75908"/><stop offset="0.995" stop-color="#e46810"/></linearGradient><linearGradient id="gB70" x1="0" y1="0" x2="0" y2="1"><stop offset="0.00459" stop-color="#feeca5"/><stop offset="0.0321" stop-color="#ffeda7"/><stop offset="0.0688" stop-color="#fee799"/><stop offset="0.0963" stop-color="#fedc82"/><stop offset="0.142" stop-color="#fec451"/><stop offset="0.206" stop-color="#fe9b2b"/><stop offset="0.289" stop-color="#f07918"/><stop offset="0.39" stop-color="#e0630d"/><stop offset="0.537" stop-color="#d95a09"/><stop offset="0.995" stop-color="#e46810"/></linearGradient><linearGradient id="gB71" x1="0" y1="0" x2="0" y2="1"><stop offset="0.00459" stop-color="#ffefab"/><stop offset="0.0321" stop-color="#fff0ad"/><stop offset="0.078" stop-color="#fee89b"/><stop offset="0.106" stop-color="#fede86"/><stop offset="0.161" stop-color="#fec24d"/><stop offset="0.234" stop-color="#fd9627"/><stop offset="0.326" stop-color="#ee7516"/><stop offset="0.436" stop-color="#df620d"/><stop offset="0.61" stop-color="#da5c0a"/><stop offset="0.995" stop-color="#e46810"/></linearGradient><linearGradient id="gB72" x1="0" y1="0" x2="0" y2="1"><stop offset="0.00459" stop-color="#fff1b0"/><stop offset="0.0321" stop-color="#fff2b2"/><stop offset="0.078" stop-color="#feeaa1"/><stop offset="0.115" stop-color="#fedf88"/><stop offset="0.17" stop-color="#fec450"/><stop offset="0.243" stop-color="#fe992a"/><stop offset="0.344" stop-color="#ef7617"/><stop offset="0.463" stop-color="#e0630d"/><stop offset="0.647" stop-color="#db5e0b"/><stop offset="0.995" stop-color="#e46810"/></linearGradient><linearGradient id="gB73" x1="0" y1="0" x2="0" y2="1"><stop offset="0.00459" stop-color="#fff3b4"/><stop offset="0.0413" stop-color="#fff3b4"/><stop offset="0.0963" stop-color="#fee89c"/><stop offset="0.124" stop-color="#fedf88"/><stop offset="0.188" stop-color="#fec04c"/><stop offset="0.261" stop-color="#fd9829"/><stop offset="0.362" stop-color="#ef7718"/><stop offset="0.491" stop-color="#e0640e"/><stop offset="0.693" stop-color="#dd600c"/><stop offset="0.995" stop-color="#e46810"/></linearGradient><linearGradient id="gB74" x1="0" y1="0" x2="0" y2="1"><stop offset="0.00459" stop-color="#fff5b7"/><stop offset="0.0413" stop-color="#fff4b6"/><stop offset="0.0963" stop-color="#feeaa0"/><stop offset="0.133" stop-color="#fede87"/><stop offset="0.197" stop-color="#fec14d"/><stop offset="0.28" stop-color="#fd9728"/><stop offset="0.39" stop-color="#ef7617"/><stop offset="0.528" stop-color="#e1640e"/><stop offset="0.757" stop-color="#df620d"/><stop offset="0.995" stop-color="#e46810"/></linearGradient><linearGradient id="gB75" x1="0" y1="0" x2="0" y2="1"><stop offset="0.00459" stop-color="#fff6bb"/><stop offset="0.0413" stop-color="#fff6b9"/><stop offset="0.0963" stop-color="#feeca3"/><stop offset="0.133" stop-color="#fee28e"/><stop offset="0.206" stop-color="#fec24d"/><stop offset="0.289" stop-color="#fe9929"/><stop offset="0.399" stop-color="#f07818"/><stop offset="0.537" stop-color="#e2660f"/><stop offset="0.766" stop-color="#df620d"/><stop offset="0.995" stop-color="#e46810"/></linearGradient><linearGradient id="gB76" x1="0" y1="0" x2="0" y2="1"><stop offset="0.00459" stop-color="#fff7be"/><stop offset="0.0505" stop-color="#fff6b9"/><stop offset="0.124" stop-color="#fee698"/><stop offset="0.17" stop-color="#fed574"/><stop offset="0.216" stop-color="#fec24d"/><stop offset="0.307" stop-color="#fd9728"/><stop offset="0.427" stop-color="#ef7718"/><stop offset="0.573" stop-color="#e3660f"/><stop offset="0.839" stop-color="#e1640e"/><stop offset="0.995" stop-color="#e46810"/></linearGradient><linearGradient id="gB77" x1="0" y1="0" x2="0" y2="1"><stop offset="0.00459" stop-color="#fff8c1"/><stop offset="0.0505" stop-color="#fff7bb"/><stop offset="0.124" stop-color="#fee89b"/><stop offset="0.151" stop-color="#fee08a"/><stop offset="0.225" stop-color="#fec24d"/><stop offset="0.317" stop-color="#fe9829"/><stop offset="0.436" stop-color="#f07919"/><stop offset="0.583" stop-color="#e46810"/><stop offset="0.849" stop-color="#e2650f"/><stop offset="0.995" stop-color="#e46810"/></linearGradient><linearGradient id="gB78" x1="0" y1="0" x2="0" y2="1"><stop offset="0.00459" stop-color="#fff8c3"/><stop offset="0.0596" stop-color="#fff6ba"/><stop offset="0.142" stop-color="#fee494"/><stop offset="0.234" stop-color="#fec24d"/><stop offset="0.335" stop-color="#fd9628"/><stop offset="0.463" stop-color="#f07818"/><stop offset="0.628" stop-color="#e46810"/><stop offset="0.968" stop-color="#e46810"/><stop offset="0.995" stop-color="#e46810"/></linearGradient><linearGradient id="gB79" x1="0" y1="0" x2="0" y2="1"><stop offset="0.00459" stop-color="#fff9c6"/><stop offset="0.0596" stop-color="#fff7bb"/><stop offset="0.151" stop-color="#fee392"/><stop offset="0.243" stop-color="#fec14c"/><stop offset="0.344" stop-color="#fd9728"/><stop offset="0.472" stop-color="#f07919"/><stop offset="0.638" stop-color="#e56911"/><stop offset="0.968" stop-color="#e46810"/><stop offset="0.995" stop-color="#e46810"/></linearGradient><linearGradient id="gB80" x1="0" y1="0" x2="0" y2="1"><stop offset="0.00459" stop-color="#fff9c8"/><stop offset="0.0688" stop-color="#fff6b9"/><stop offset="0.161" stop-color="#fee28e"/><stop offset="0.243" stop-color="#fec450"/><stop offset="0.353" stop-color="#fd9828"/><stop offset="0.491" stop-color="#f07919"/><stop offset="0.665" stop-color="#e56a11"/><stop offset="0.995" stop-color="#e56910"/></linearGradient><linearGradient id="gB81" x1="0" y1="0" x2="0" y2="1"><stop offset="0.00459" stop-color="#fffaca"/><stop offset="0.0688" stop-color="#fff6bb"/><stop offset="0.161" stop-color="#fee391"/><stop offset="0.252" stop-color="#fec34e"/><stop offset="0.362" stop-color="#fe9828"/><stop offset="0.5" stop-color="#f17a19"/><stop offset="0.674" stop-color="#e66b11"/><stop offset="0.995" stop-color="#e56911"/></linearGradient><linearGradient id="gB82" x1="0" y1="0" x2="0" y2="1"><stop offset="0.00459" stop-color="#fffacc"/><stop offset="0.078" stop-color="#fff5b8"/><stop offset="0.17" stop-color="#fee18d"/><stop offset="0.261" stop-color="#fec14d"/><stop offset="0.372" stop-color="#fe9828"/><stop offset="0.518" stop-color="#f17a19"/><stop offset="0.702" stop-color="#e76b12"/><stop offset="0.995" stop-color="#e56a11"/></linearGradient><linearGradient id="gB83" x1="0" y1="0" x2="0" y2="1"><stop offset="0.00459" stop-color="#fffbce"/><stop offset="0.0872" stop-color="#fff4b5"/><stop offset="0.17" stop-color="#fee28f"/><stop offset="0.261" stop-color="#fec44f"/><stop offset="0.381" stop-color="#fd9828"/><stop offset="0.528" stop-color="#f17b1a"/><stop offset="0.72" stop-color="#e76c12"/><stop offset="0.995" stop-color="#e66a11"/></linearGradient><linearGradient id="gB84" x1="0" y1="0" x2="0" y2="1"><stop offset="0.00459" stop-color="#fffbd1"/><stop offset="0.0872" stop-color="#fff4b6"/><stop offset="0.179" stop-color="#fee08a"/><stop offset="0.271" stop-color="#fec24d"/><stop offset="0.39" stop-color="#fd9728"/><stop offset="0.546" stop-color="#f17a19"/><stop offset="0.748" stop-color="#e76c12"/><stop offset="0.995" stop-color="#e66a11"/></linearGradient><linearGradient id="gB85" x1="0" y1="0" x2="0" y2="1"><stop offset="0.00459" stop-color="#fffbd3"/><stop offset="0.0963" stop-color="#fff3b3"/><stop offset="0.179" stop-color="#fee08b"/><stop offset="0.271" stop-color="#fec34e"/><stop offset="0.399" stop-color="#fd9728"/><stop offset="0.555" stop-color="#f17b19"/><stop offset="0.757" stop-color="#e86d12"/><stop offset="0.995" stop-color="#e66b11"/></linearGradient><linearGradient id="gB86" x1="0" y1="0" x2="0" y2="1"><stop offset="0.00459" stop-color="#fffcd5"/><stop offset="0.0963" stop-color="#fff3b3"/><stop offset="0.179" stop-color="#fee18c"/><stop offset="0.271" stop-color="#fec450"/><stop offset="0.399" stop-color="#fe9829"/><stop offset="0.555" stop-color="#f27c1a"/><stop offset="0.757" stop-color="#e96e13"/><stop offset="0.995" stop-color="#e76b12"/></linearGradient><linearGradient id="gB87" x1="0" y1="0" x2="0" y2="1"><stop offset="0.00459" stop-color="#fffcd7"/><stop offset="0.0963" stop-color="#fff3b4"/><stop offset="0.179" stop-color="#fee18d"/><stop offset="0.28" stop-color="#fec24d"/><stop offset="0.408" stop-color="#fd9728"/><stop offset="0.573" stop-color="#f17b1a"/><stop offset="0.784" stop-color="#e96d13"/><stop offset="0.995" stop-color="#e76b12"/></linearGradient><linearGradient id="gB88" x1="0" y1="0" x2="0" y2="1"><stop offset="0.00459" stop-color="#fffdd8"/><stop offset="0.0963" stop-color="#fff4b5"/><stop offset="0.188" stop-color="#fedf88"/><stop offset="0.28" stop-color="#fec34e"/><stop offset="0.408" stop-color="#fe9929"/><stop offset="0.573" stop-color="#f27c1a"/><stop offset="0.784" stop-color="#e96e13"/><stop offset="0.995" stop-color="#e76c12"/></linearGradient><linearGradient id="gB89" x1="0" y1="0" x2="0" y2="1"><stop offset="0.00459" stop-color="#fffdda"/><stop offset="0.106" stop-color="#fff2b1"/><stop offset="0.188" stop-color="#fedf89"/><stop offset="0.28" stop-color="#fec34f"/><stop offset="0.417" stop-color="#fd9728"/><stop offset="0.583" stop-color="#f17c1a"/><stop offset="0.803" stop-color="#e96e13"/><stop offset="0.995" stop-color="#e76c12"/></linearGradient><linearGradient id="gB90" x1="0" y1="0" x2="0" y2="1"><stop offset="0.00459" stop-color="#fffddb"/><stop offset="0.106" stop-color="#fff2b1"/><stop offset="0.188" stop-color="#fedf89"/><stop offset="0.28" stop-color="#fec44f"/><stop offset="0.417" stop-color="#fe9829"/><stop offset="0.583" stop-color="#f27d1a"/><stop offset="0.803" stop-color="#e96e13"/><stop offset="0.995" stop-color="#e76c12"/></linearGradient><linearGradient id="gB91" x1="0" y1="0" x2="0" y2="1"><stop offset="0.00459" stop-color="#fffddb"/><stop offset="0.106" stop-color="#fff2b1"/><stop offset="0.188" stop-color="#fee08a"/><stop offset="0.289" stop-color="#fec14c"/><stop offset="0.427" stop-color="#fd9728"/><stop offset="0.601" stop-color="#f17b1a"/><stop offset="0.83" stop-color="#e96e13"/><stop offset="0.995" stop-color="#e86c12"/></linearGradient><linearGradient id="gB92" x1="0" y1="0" x2="0" y2="1"><stop offset="0.00459" stop-color="#fffddb"/><stop offset="0.106" stop-color="#fff2b1"/><stop offset="0.188" stop-color="#fee08a"/><stop offset="0.289" stop-color="#fec24d"/><stop offset="0.427" stop-color="#fd9728"/><stop offset="0.601" stop-color="#f17c1a"/><stop offset="0.83" stop-color="#e96e13"/><stop offset="0.995" stop-color="#e86c12"/></linearGradient><linearGradient id="gB93" x1="0" y1="0" x2="0" y2="1"><stop offset="0.00459" stop-color="#fffddb"/><stop offset="0.106" stop-color="#fff2b1"/><stop offset="0.188" stop-color="#fee08a"/><stop offset="0.289" stop-color="#fec24d"/><stop offset="0.427" stop-color="#fd9828"/><stop offset="0.601" stop-color="#f27c1a"/><stop offset="0.83" stop-color="#e96f13"/><stop offset="0.995" stop-color="#e86d12"/></linearGradient><linearGradient id="gB94" x1="0" y1="0" x2="0" y2="1"><stop offset="0.00459" stop-color="#fffddb"/><stop offset="0.106" stop-color="#fff2b1"/><stop offset="0.188" stop-color="#fee08a"/><stop offset="0.289" stop-color="#fec24d"/><stop offset="0.427" stop-color="#fe9829"/><stop offset="0.601" stop-color="#f27d1a"/><stop offset="0.83" stop-color="#ea6f13"/><stop offset="0.995" stop-color="#e86d12"/></linearGradient><linearGradient id="gB95" x1="0" y1="0" x2="0" y2="1"><stop offset="0.00459" stop-color="#fffdda"/><stop offset="0.106" stop-color="#fff2b1"/><stop offset="0.188" stop-color="#fee08a"/><stop offset="0.289" stop-color="#fec34e"/><stop offset="0.427" stop-color="#fe9929"/><stop offset="0.601" stop-color="#f27d1b"/><stop offset="0.83" stop-color="#ea6f13"/><stop offset="0.995" stop-color="#e86d12"/></linearGradient><linearGradient id="gB96" x1="0" y1="0" x2="0" y2="1"><stop offset="0.00459" stop-color="#fffdd9"/><stop offset="0.106" stop-color="#fff1b0"/><stop offset="0.188" stop-color="#fee08a"/><stop offset="0.289" stop-color="#fec34e"/><stop offset="0.436" stop-color="#fd9728"/><stop offset="0.619" stop-color="#f17b1a"/><stop offset="0.858" stop-color="#e96e13"/><stop offset="0.995" stop-color="#e86c12"/></linearGradient><linearGradient id="gB97" x1="0" y1="0" x2="0" y2="1"><stop offset="0.00459" stop-color="#fffdd9"/><stop offset="0.106" stop-color="#fff1b0"/><stop offset="0.188" stop-color="#fee08a"/><stop offset="0.289" stop-color="#fec34e"/><stop offset="0.436" stop-color="#fd9728"/><stop offset="0.619" stop-color="#f17c1a"/><stop offset="0.858" stop-color="#e96e13"/><stop offset="0.995" stop-color="#e86c12"/></linearGradient><linearGradient id="gB98" x1="0" y1="0" x2="0" y2="1"><stop offset="0.00459" stop-color="#fffcd8"/><stop offset="0.106" stop-color="#fff1af"/><stop offset="0.188" stop-color="#fedf89"/><stop offset="0.289" stop-color="#fec34e"/><stop offset="0.436" stop-color="#fd9828"/><stop offset="0.619" stop-color="#f17c1a"/><stop offset="0.858" stop-color="#e96e13"/><stop offset="0.995" stop-color="#e86c12"/></linearGradient><linearGradient id="gB99" x1="0" y1="0" x2="0" y2="1"><stop offset="0.00459" stop-color="#fffcd7"/><stop offset="0.106" stop-color="#fff1ae"/><stop offset="0.188" stop-color="#fedf89"/><stop offset="0.289" stop-color="#fec34e"/><stop offset="0.436" stop-color="#fe9828"/><stop offset="0.619" stop-color="#f17c1a"/><stop offset="0.858" stop-color="#e96e13"/><stop offset="0.995" stop-color="#e76c12"/></linearGradient><linearGradient id="gB100" x1="0" y1="0" x2="0" y2="1"><stop offset="0.00459" stop-color="#fffcd6"/><stop offset="0.0963" stop-color="#fff2b2"/><stop offset="0.188" stop-color="#fedf89"/><stop offset="0.289" stop-color="#fec34f"/><stop offset="0.436" stop-color="#fe9829"/><stop offset="0.619" stop-color="#f27c1a"/><stop offset="0.858" stop-color="#e96e13"/><stop offset="0.995" stop-color="#e76c12"/></linearGradient><linearGradient id="gB101" x1="0" y1="0" x2="0" y2="1"><stop offset="0.00459" stop-color="#fffcd5"/><stop offset="0.0963" stop-color="#fff2b1"/><stop offset="0.188" stop-color="#fedf88"/><stop offset="0.289" stop-color="#fec44f"/><stop offset="0.436" stop-color="#fe9929"/><stop offset="0.619" stop-color="#f27c1a"/><stop offset="0.858" stop-color="#e96e13"/><stop offset="0.995" stop-color="#e76c12"/></linearGradient><linearGradient id="gB102" x1="0" y1="0" x2="0" y2="1"><stop offset="0.00459" stop-color="#fffcd3"/><stop offset="0.0963" stop-color="#fff1b0"/><stop offset="0.188" stop-color="#fedf88"/><stop offset="0.289" stop-color="#fec44f"/><stop offset="0.445" stop-color="#fd9728"/><stop offset="0.638" stop-color="#f17b19"/><stop offset="0.885" stop-color="#e86d13"/><stop offset="0.995" stop-color="#e76c12"/></linearGradient><linearGradient id="gB103" x1="0" y1="0" x2="0" y2="1"><stop offset="0.00459" stop-color="#fffbd2"/><stop offset="0.0963" stop-color="#fff1af"/><stop offset="0.179" stop-color="#fee18d"/><stop offset="0.289" stop-color="#fec44f"/><stop offset="0.445" stop-color="#fd9728"/><stop offset="0.638" stop-color="#f17b1a"/><stop offset="0.885" stop-color="#e86d13"/><stop offset="0.995" stop-color="#e76c12"/></linearGradient><linearGradient id="gB104" x1="0" y1="0" x2="0" y2="1"><stop offset="0.00459" stop-color="#fffbd1"/><stop offset="0.0963" stop-color="#fff1ae"/><stop offset="0.179" stop-color="#fee18c"/><stop offset="0.298" stop-color="#fec14c"/><stop offset="0.445" stop-color="#fe9828"/><stop offset="0.638" stop-color="#f17b1a"/><stop offset="0.885" stop-color="#e86d13"/><stop offset="0.995" stop-color="#e76b12"/></linearGradient><linearGradient id="gB105" x1="0" y1="0" x2="0" y2="1"><stop offset="0.00459" stop-color="#fffbcf"/><stop offset="0.0963" stop-color="#fff0ad"/><stop offset="0.179" stop-color="#fee18c"/><stop offset="0.298" stop-color="#fec14d"/><stop offset="0.454" stop-color="#fd9628"/><stop offset="0.647" stop-color="#f17b19"/><stop offset="0.904" stop-color="#e86d12"/><stop offset="0.995" stop-color="#e76b12"/></linearGradient><linearGradient id="gB106" x1="0" y1="0" x2="0" y2="1"><stop offset="0.00459" stop-color="#ffface"/><stop offset="0.0963" stop-color="#fff0ad"/><stop offset="0.179" stop-color="#fee08b"/><stop offset="0.298" stop-color="#fec24d"/><stop offset="0.454" stop-color="#fd9728"/><stop offset="0.647" stop-color="#f17b1a"/><stop offset="0.894" stop-color="#e86d12"/><stop offset="0.995" stop-color="#e76b12"/></linearGradient><linearGradient id="gB107" x1="0" y1="0" x2="0" y2="1"><stop offset="0.00459" stop-color="#fffacc"/><stop offset="0.0963" stop-color="#ffefac"/><stop offset="0.179" stop-color="#fee08b"/><stop offset="0.298" stop-color="#fec24d"/><stop offset="0.454" stop-color="#fd9728"/><stop offset="0.656" stop-color="#f17a19"/><stop offset="0.913" stop-color="#e86c12"/><stop offset="0.995" stop-color="#e76b12"/></linearGradient><linearGradient id="gB108" x1="0" y1="0" x2="0" y2="1"><stop offset="0.00459" stop-color="#fffaca"/><stop offset="0.106" stop-color="#ffeda7"/><stop offset="0.179" stop-color="#fee08a"/><stop offset="0.298" stop-color="#fec24d"/><stop offset="0.454" stop-color="#fe9828"/><stop offset="0.656" stop-color="#f17b19"/><stop offset="0.913" stop-color="#e86d12"/><stop offset="0.995" stop-color="#e76b12"/></linearGradient><linearGradient id="gB109" x1="0" y1="0" x2="0" y2="1"><stop offset="0.00459" stop-color="#fff9c7"/><stop offset="0.115" stop-color="#feeba3"/><stop offset="0.179" stop-color="#fedf8a"/><stop offset="0.298" stop-color="#fec24d"/><stop offset="0.463" stop-color="#fd9728"/><stop offset="0.665" stop-color="#f17a19"/><stop offset="0.922" stop-color="#e86c12"/><stop offset="0.995" stop-color="#e76b12"/></linearGradient><linearGradient id="gB110" x1="0" y1="0" x2="0" y2="1"><stop offset="0.00459" stop-color="#fff9c4"/><stop offset="0.161" stop-color="#fee392"/><stop offset="0.298" stop-color="#fec34e"/><stop offset="0.463" stop-color="#fd9728"/><stop offset="0.665" stop-color="#f17b19"/><stop offset="0.922" stop-color="#e86c12"/><stop offset="0.995" stop-color="#e76b12"/></linearGradient><linearGradient id="gB111" x1="0" y1="0" x2="0" y2="1"><stop offset="0.00459" stop-color="#fff8c0"/><stop offset="0.161" stop-color="#fee391"/><stop offset="0.298" stop-color="#fec34e"/><stop offset="0.463" stop-color="#fd9828"/><stop offset="0.674" stop-color="#f17a19"/><stop offset="0.94" stop-color="#e76c12"/><stop offset="0.995" stop-color="#e76b12"/></linearGradient><linearGradient id="gB112" x1="0" y1="0" x2="0" y2="1"><stop offset="0.00459" stop-color="#fff7bc"/><stop offset="0.161" stop-color="#fee290"/><stop offset="0.298" stop-color="#fec34e"/><stop offset="0.472" stop-color="#fd9728"/><stop offset="0.683" stop-color="#f07a19"/><stop offset="0.95" stop-color="#e76c12"/><stop offset="0.995" stop-color="#e76b12"/></linearGradient><linearGradient id="gB113" x1="0" y1="0" x2="0" y2="1"><stop offset="0.00459" stop-color="#fff4b6"/><stop offset="0.115" stop-color="#fee99d"/><stop offset="0.179" stop-color="#fede85"/><stop offset="0.307" stop-color="#fec04c"/><stop offset="0.472" stop-color="#fd9728"/><stop offset="0.683" stop-color="#f17a19"/><stop offset="0.95" stop-color="#e76c12"/><stop offset="0.995" stop-color="#e76b12"/></linearGradient><linearGradient id="gB114" x1="0" y1="0" x2="0" y2="1"><stop offset="0.00459" stop-color="#ffeea9"/><stop offset="0.078" stop-color="#feeba3"/><stop offset="0.161" stop-color="#fee18c"/><stop offset="0.307" stop-color="#fec14c"/><stop offset="0.482" stop-color="#fd9627"/><stop offset="0.702" stop-color="#f07919"/><stop offset="0.977" stop-color="#e76c12"/><stop offset="0.995" stop-color="#e76b12"/></linearGradient><linearGradient id="gB115" x1="0" y1="0" x2="0" y2="1"><stop offset="0.00459" stop-color="#fee698"/><stop offset="0.0596" stop-color="#fee99d"/><stop offset="0.142" stop-color="#fee290"/><stop offset="0.307" stop-color="#fec14c"/><stop offset="0.482" stop-color="#fd9728"/><stop offset="0.702" stop-color="#f07a19"/><stop offset="0.977" stop-color="#e76c12"/><stop offset="0.995" stop-color="#e76c12"/></linearGradient><linearGradient id="gB116" x1="0" y1="0" x2="0" y2="1"><stop offset="0.00459" stop-color="#fed97d"/><stop offset="0.0413" stop-color="#fee18d"/><stop offset="0.0963" stop-color="#fee391"/><stop offset="0.161" stop-color="#fedd83"/><stop offset="0.307" stop-color="#fec14c"/><stop offset="0.491" stop-color="#fd9627"/><stop offset="0.711" stop-color="#f07919"/><stop offset="0.995" stop-color="#e76c12"/></linearGradient><linearGradient id="gB117" x1="0" y1="0" x2="0" y2="1"><stop offset="0.00459" stop-color="#fecc61"/><stop offset="0.0505" stop-color="#fed97b"/><stop offset="0.0963" stop-color="#fedd84"/><stop offset="0.161" stop-color="#fed97c"/><stop offset="0.317" stop-color="#febe4a"/><stop offset="0.491" stop-color="#fd9628"/><stop offset="0.72" stop-color="#f07919"/><stop offset="0.995" stop-color="#e76c12"/></linearGradient><linearGradient id="gB118" x1="0" y1="0" x2="0" y2="1"><stop offset="0.00459" stop-color="#fec24e"/><stop offset="0.0596" stop-color="#fed16b"/><stop offset="0.115" stop-color="#fed676"/><stop offset="0.179" stop-color="#fed470"/><stop offset="0.317" stop-color="#febd49"/><stop offset="0.5" stop-color="#fc9527"/><stop offset="0.729" stop-color="#f07918"/><stop offset="0.995" stop-color="#e76c12"/></linearGradient><linearGradient id="gB119" x1="0" y1="0" x2="0" y2="1"><stop offset="0.00459" stop-color="#feb945"/><stop offset="0.0596" stop-color="#feca5c"/><stop offset="0.115" stop-color="#fed06a"/><stop offset="0.179" stop-color="#fed068"/><stop offset="0.307" stop-color="#febf4a"/><stop offset="0.5" stop-color="#fd9627"/><stop offset="0.739" stop-color="#f07918"/><stop offset="0.995" stop-color="#e86c12"/></linearGradient><linearGradient id="gB120" x1="0" y1="0" x2="0" y2="1"><stop offset="0.00459" stop-color="#feb23f"/><stop offset="0.0688" stop-color="#fec652"/><stop offset="0.133" stop-color="#fecc60"/><stop offset="0.206" stop-color="#fecb5d"/><stop offset="0.317" stop-color="#febb47"/><stop offset="0.509" stop-color="#fc9527"/><stop offset="0.748" stop-color="#f07818"/><stop offset="0.995" stop-color="#e86c12"/></linearGradient><linearGradient id="gB121" x1="0" y1="0" x2="0" y2="1"><stop offset="0.00459" stop-color="#feaa38"/><stop offset="0.0872" stop-color="#fec34e"/><stop offset="0.161" stop-color="#fec858"/><stop offset="0.252" stop-color="#fec44f"/><stop offset="0.518" stop-color="#fc9426"/><stop offset="0.766" stop-color="#ef7718"/><stop offset="0.995" stop-color="#e86d12"/></linearGradient><linearGradient id="gB122" x1="0" y1="0" x2="0" y2="1"><stop offset="0.00459" stop-color="#fea332"/><stop offset="0.0872" stop-color="#febc48"/><stop offset="0.179" stop-color="#fec551"/><stop offset="0.298" stop-color="#febb47"/><stop offset="0.518" stop-color="#fc9426"/><stop offset="0.775" stop-color="#ef7718"/><stop offset="0.995" stop-color="#e86d12"/></linearGradient><linearGradient id="gB123" x1="0" y1="0" x2="0" y2="1"><stop offset="0.00459" stop-color="#fe9a2a"/><stop offset="0.0872" stop-color="#feb642"/><stop offset="0.179" stop-color="#fec04c"/><stop offset="0.298" stop-color="#feb945"/><stop offset="0.528" stop-color="#fb9326"/><stop offset="0.784" stop-color="#ef7718"/><stop offset="0.995" stop-color="#e86d13"/></linearGradient><linearGradient id="gB124" x1="0" y1="0" x2="0" y2="1"><stop offset="0.00459" stop-color="#fa9125"/><stop offset="0.0872" stop-color="#feaf3c"/><stop offset="0.179" stop-color="#febb47"/><stop offset="0.298" stop-color="#feb643"/><stop offset="0.537" stop-color="#fb9225"/><stop offset="0.803" stop-color="#ef7617"/><stop offset="0.995" stop-color="#e96e13"/></linearGradient><linearGradient id="gB125" x1="0" y1="0" x2="0" y2="1"><stop offset="0.00459" stop-color="#f68720"/><stop offset="0.0688" stop-color="#fea130"/><stop offset="0.151" stop-color="#feb441"/><stop offset="0.261" stop-color="#feb643"/><stop offset="0.445" stop-color="#fea02f"/><stop offset="0.647" stop-color="#f5851f"/><stop offset="0.922" stop-color="#eb7014"/><stop offset="0.995" stop-color="#e96e13"/></linearGradient><linearGradient id="gB126" x1="0" y1="0" x2="0" y2="1"><stop offset="0.00459" stop-color="#f27e1b"/><stop offset="0.0872" stop-color="#fe9f2e"/><stop offset="0.17" stop-color="#feb03e"/><stop offset="0.28" stop-color="#feb23f"/><stop offset="0.5" stop-color="#fd9728"/><stop offset="0.794" stop-color="#f07818"/><stop offset="0.995" stop-color="#e96e13"/></linearGradient><linearGradient id="gB127" x1="0" y1="0" x2="0" y2="1"><stop offset="0.00459" stop-color="#f07818"/><stop offset="0.0963" stop-color="#fe9b2a"/><stop offset="0.188" stop-color="#fead3b"/><stop offset="0.307" stop-color="#feae3b"/><stop offset="0.546" stop-color="#fb9125"/><stop offset="0.839" stop-color="#ef7517"/><stop offset="0.995" stop-color="#e96e13"/></linearGradient><linearGradient id="gB128" x1="0" y1="0" x2="0" y2="1"><stop offset="0.00459" stop-color="#ee7416"/><stop offset="0.106" stop-color="#fd9728"/><stop offset="0.206" stop-color="#feaa38"/><stop offset="0.326" stop-color="#feaa38"/><stop offset="0.546" stop-color="#fb9125"/><stop offset="0.849" stop-color="#ef7517"/><stop offset="0.995" stop-color="#ea6f13"/></linearGradient><linearGradient id="gB129" x1="0" y1="0" x2="0" y2="1"><stop offset="0.00459" stop-color="#eb7014"/><stop offset="0.115" stop-color="#fc9427"/><stop offset="0.225" stop-color="#fea735"/><stop offset="0.353" stop-color="#fea634"/><stop offset="0.564" stop-color="#fa8f24"/><stop offset="0.876" stop-color="#ee7416"/><stop offset="0.995" stop-color="#ea6f14"/></linearGradient><linearGradient id="gB130" x1="0" y1="0" x2="0" y2="1"><stop offset="0.00459" stop-color="#e86d13"/><stop offset="0.0963" stop-color="#f88b22"/><stop offset="0.206" stop-color="#fea130"/><stop offset="0.326" stop-color="#fea533"/><stop offset="0.555" stop-color="#fa9024"/><stop offset="0.885" stop-color="#ee7416"/><stop offset="0.995" stop-color="#ea6f14"/></linearGradient><linearGradient id="gB131" x1="0" y1="0" x2="0" y2="1"><stop offset="0.00459" stop-color="#e66a11"/><stop offset="0.078" stop-color="#f4821d"/><stop offset="0.197" stop-color="#fe9b2b"/><stop offset="0.317" stop-color="#fea231"/><stop offset="0.537" stop-color="#fb9225"/><stop offset="0.885" stop-color="#ee7416"/><stop offset="0.995" stop-color="#ea7014"/></linearGradient><linearGradient id="gB132" x1="0" y1="0" x2="0" y2="1"><stop offset="0.00459" stop-color="#e46810"/><stop offset="0.078" stop-color="#f37f1b"/><stop offset="0.197" stop-color="#fd9728"/><stop offset="0.326" stop-color="#fea02f"/><stop offset="0.555" stop-color="#fa9024"/><stop offset="0.913" stop-color="#ed7316"/><stop offset="0.995" stop-color="#eb7014"/></linearGradient><linearGradient id="gB133" x1="0" y1="0" x2="0" y2="1"><stop offset="0.00459" stop-color="#e2660f"/><stop offset="0.078" stop-color="#f17b1a"/><stop offset="0.206" stop-color="#fc9527"/><stop offset="0.344" stop-color="#fe9d2c"/><stop offset="0.61" stop-color="#f88a21"/><stop offset="0.959" stop-color="#ec7215"/><stop offset="0.995" stop-color="#eb7014"/></linearGradient><linearGradient id="gB134" x1="0" y1="0" x2="0" y2="1"><stop offset="0.00459" stop-color="#e0630e"/><stop offset="0.0872" stop-color="#f17b1a"/><stop offset="0.216" stop-color="#fb9326"/><stop offset="0.362" stop-color="#fe9a2a"/><stop offset="0.638" stop-color="#f78820"/><stop offset="0.986" stop-color="#eb7114"/><stop offset="0.995" stop-color="#eb7114"/></linearGradient><linearGradient id="gB135" x1="0" y1="0" x2="0" y2="1"><stop offset="0.00459" stop-color="#df620d"/><stop offset="0.0963" stop-color="#f17a19"/><stop offset="0.234" stop-color="#fb9226"/><stop offset="0.39" stop-color="#fe9828"/><stop offset="0.995" stop-color="#eb7114"/></linearGradient><linearGradient id="gB136" x1="0" y1="0" x2="0" y2="1"><stop offset="0.00459" stop-color="#dd600c"/><stop offset="0.106" stop-color="#f17a19"/><stop offset="0.243" stop-color="#fa9125"/><stop offset="0.399" stop-color="#fd9627"/><stop offset="0.995" stop-color="#ec7115"/></linearGradient><linearGradient id="gB137" x1="0" y1="0" x2="0" y2="1"><stop offset="0.00459" stop-color="#dc5e0b"/><stop offset="0.115" stop-color="#f07919"/><stop offset="0.261" stop-color="#fa9024"/><stop offset="0.427" stop-color="#fc9426"/><stop offset="0.995" stop-color="#ec7215"/></linearGradient><linearGradient id="gB138" x1="0" y1="0" x2="0" y2="1"><stop offset="0.00459" stop-color="#da5c0a"/><stop offset="0.124" stop-color="#f07919"/><stop offset="0.271" stop-color="#f98e23"/><stop offset="0.445" stop-color="#fb9225"/><stop offset="0.995" stop-color="#ec7215"/></linearGradient><linearGradient id="gB139" x1="0" y1="0" x2="0" y2="1"><stop offset="0.00459" stop-color="#d95a09"/><stop offset="0.133" stop-color="#f07818"/><stop offset="0.289" stop-color="#f98d23"/><stop offset="0.472" stop-color="#fa9024"/><stop offset="0.995" stop-color="#ec7215"/></linearGradient><linearGradient id="gB140" x1="0" y1="0" x2="0" y2="1"><stop offset="0.00459" stop-color="#d75908"/><stop offset="0.142" stop-color="#f07818"/><stop offset="0.298" stop-color="#f88c22"/><stop offset="0.482" stop-color="#fa8f24"/><stop offset="0.995" stop-color="#ed7215"/></linearGradient><linearGradient id="gB141" x1="0" y1="0" x2="0" y2="1"><stop offset="0.00459" stop-color="#d65708"/><stop offset="0.151" stop-color="#ef7718"/><stop offset="0.317" stop-color="#f88b22"/><stop offset="0.509" stop-color="#f98d23"/><stop offset="0.995" stop-color="#ed7315"/></linearGradient><linearGradient id="gB142" x1="0" y1="0" x2="0" y2="1"><stop offset="0.00459" stop-color="#d55607"/><stop offset="0.161" stop-color="#ef7717"/><stop offset="0.326" stop-color="#f88a21"/><stop offset="0.528" stop-color="#f88b22"/><stop offset="0.995" stop-color="#ed7315"/></linearGradient><linearGradient id="gB143" x1="0" y1="0" x2="0" y2="1"><stop offset="0.00459" stop-color="#d35406"/><stop offset="0.179" stop-color="#f07818"/><stop offset="0.353" stop-color="#f78a21"/><stop offset="0.573" stop-color="#f78921"/><stop offset="0.995" stop-color="#ed7316"/></linearGradient><linearGradient id="gB144" x1="0" y1="0" x2="0" y2="1"><stop offset="0.00459" stop-color="#d25305"/><stop offset="0.188" stop-color="#ef7718"/><stop offset="0.362" stop-color="#f78921"/><stop offset="0.583" stop-color="#f78820"/><stop offset="0.995" stop-color="#ed7316"/></linearGradient><linearGradient id="gB145" x1="0" y1="0" x2="0" y2="1"><stop offset="0.00459" stop-color="#d15105"/><stop offset="0.197" stop-color="#ef7717"/><stop offset="0.372" stop-color="#f68720"/><stop offset="0.601" stop-color="#f6861f"/><stop offset="0.995" stop-color="#ee7416"/></linearGradient><linearGradient id="gB146" x1="0" y1="0" x2="0" y2="1"><stop offset="0.00459" stop-color="#d05004"/><stop offset="0.206" stop-color="#ef7617"/><stop offset="0.39" stop-color="#f68720"/><stop offset="0.628" stop-color="#f5851f"/><stop offset="0.995" stop-color="#ee7416"/></linearGradient><linearGradient id="gB147" x1="0" y1="0" x2="0" y2="1"><stop offset="0.00459" stop-color="#ce4f04"/><stop offset="0.206" stop-color="#ee7416"/><stop offset="0.39" stop-color="#f5851f"/><stop offset="0.628" stop-color="#f5841e"/><stop offset="0.995" stop-color="#ee7416"/></linearGradient><linearGradient id="gB148" x1="0" y1="0" x2="0" y2="1"><stop offset="0.00459" stop-color="#cc4e04"/><stop offset="0.197" stop-color="#ec7115"/><stop offset="0.39" stop-color="#f5841e"/><stop offset="0.628" stop-color="#f5841e"/><stop offset="0.995" stop-color="#ee7416"/></linearGradient><linearGradient id="gB149" x1="0" y1="0" x2="0" y2="1"><stop offset="0.00459" stop-color="#ca4d04"/><stop offset="0.17" stop-color="#e76b12"/><stop offset="0.307" stop-color="#f27c1a"/><stop offset="0.518" stop-color="#f5851f"/><stop offset="0.995" stop-color="#ee7416"/></linearGradient><linearGradient id="gB150" x1="0" y1="0" x2="0" y2="1"><stop offset="0.00459" stop-color="#c84c04"/><stop offset="0.124" stop-color="#df610d"/><stop offset="0.289" stop-color="#f07918"/><stop offset="0.491" stop-color="#f5841e"/><stop offset="0.858" stop-color="#f07a19"/><stop offset="0.995" stop-color="#ee7416"/></linearGradient><linearGradient id="gB151" x1="0" y1="0" x2="0" y2="1"><stop offset="0.00459" stop-color="#c64b04"/><stop offset="0.0963" stop-color="#d95b09"/><stop offset="0.289" stop-color="#ef7718"/><stop offset="0.5" stop-color="#f4831e"/><stop offset="0.876" stop-color="#f07919"/><stop offset="0.995" stop-color="#ee7416"/></linearGradient><linearGradient id="gB152" x1="0" y1="0" x2="0" y2="1"><stop offset="0.00459" stop-color="#c44a04"/><stop offset="0.0963" stop-color="#d75908"/><stop offset="0.298" stop-color="#ef7617"/><stop offset="0.509" stop-color="#f4821d"/><stop offset="0.904" stop-color="#f07818"/><stop offset="0.995" stop-color="#ee7416"/></linearGradient><linearGradient id="gB153" x1="0" y1="0" x2="0" y2="1"><stop offset="0.00459" stop-color="#c24a04"/><stop offset="0.0963" stop-color="#d65708"/><stop offset="0.307" stop-color="#ef7617"/><stop offset="0.518" stop-color="#f4811d"/><stop offset="0.922" stop-color="#ef7718"/><stop offset="0.995" stop-color="#ee7516"/></linearGradient><linearGradient id="gB154" x1="0" y1="0" x2="0" y2="1"><stop offset="0.00459" stop-color="#c14904"/><stop offset="0.106" stop-color="#d65808"/><stop offset="0.326" stop-color="#ef7617"/><stop offset="0.546" stop-color="#f3801c"/><stop offset="0.995" stop-color="#ee7516"/></linearGradient><linearGradient id="gB155" x1="0" y1="0" x2="0" y2="1"><stop offset="0.00459" stop-color="#bf4804"/><stop offset="0.106" stop-color="#d55607"/><stop offset="0.326" stop-color="#ee7416"/><stop offset="0.546" stop-color="#f37f1c"/><stop offset="0.995" stop-color="#ee7516"/></linearGradient><linearGradient id="gB156" x1="0" y1="0" x2="0" y2="1"><stop offset="0.00459" stop-color="#be4804"/><stop offset="0.115" stop-color="#d55607"/><stop offset="0.335" stop-color="#ee7416"/><stop offset="0.564" stop-color="#f37f1b"/><stop offset="0.995" stop-color="#ee7516"/></linearGradient><linearGradient id="gB157" x1="0" y1="0" x2="0" y2="1"><stop offset="0.00459" stop-color="#bc4704"/><stop offset="0.124" stop-color="#d55607"/><stop offset="0.353" stop-color="#ee7416"/><stop offset="0.592" stop-color="#f27e1b"/><stop offset="0.995" stop-color="#ee7516"/></linearGradient><linearGradient id="gB158" x1="0" y1="0" x2="0" y2="1"><stop offset="0.00459" stop-color="#bb4604"/><stop offset="0.124" stop-color="#d45507"/><stop offset="0.353" stop-color="#ed7315"/><stop offset="0.592" stop-color="#f27d1b"/><stop offset="0.995" stop-color="#ee7516"/></linearGradient><linearGradient id="gB159" x1="0" y1="0" x2="0" y2="1"><stop offset="0.00459" stop-color="#b94504"/><stop offset="0.133" stop-color="#d45507"/><stop offset="0.362" stop-color="#ec7215"/><stop offset="0.601" stop-color="#f27c1a"/><stop offset="0.995" stop-color="#ee7516"/></linearGradient><linearGradient id="gB160" x1="0" y1="0" x2="0" y2="1"><stop offset="0.00459" stop-color="#b84505"/><stop offset="0.142" stop-color="#d45507"/><stop offset="0.381" stop-color="#ed7215"/><stop offset="0.628" stop-color="#f17c1a"/><stop offset="0.995" stop-color="#ee7516"/></linearGradient><linearGradient id="gB161" x1="0" y1="0" x2="0" y2="1"><stop offset="0.00459" stop-color="#b64405"/><stop offset="0.142" stop-color="#d35406"/><stop offset="0.381" stop-color="#ec7115"/><stop offset="0.628" stop-color="#f17b1a"/><stop offset="0.995" stop-color="#ee7516"/></linearGradient><linearGradient id="gB162" x1="0" y1="0" x2="0" y2="1"><stop offset="0.00459" stop-color="#b44305"/><stop offset="0.151" stop-color="#d45406"/><stop offset="0.39" stop-color="#eb7114"/><stop offset="0.647" stop-color="#f17b19"/><stop offset="0.995" stop-color="#ee7516"/></linearGradient><clipPath id="gBc"><rect x="68.10" y="183.70" width="326.10" height="109.20"/></clipPath><filter id="gBf" x="-2%" y="-2%" width="104%" height="104%" color-interpolation-filters="sRGB"><feGaussianBlur stdDeviation="1.10 0"/></filter></defs>
<g clip-path="url(#gBc)"><g filter="url(#gBf)"><rect x="63.10" y="183.70" width="8.30" height="109.20" fill="url(#gB0)"/><rect x="70.10" y="183.70" width="3.30" height="109.20" fill="url(#gB1)"/><rect x="72.10" y="183.70" width="3.30" height="109.20" fill="url(#gB2)"/><rect x="74.10" y="183.70" width="3.30" height="109.20" fill="url(#gB3)"/><rect x="76.10" y="183.70" width="3.30" height="109.20" fill="url(#gB4)"/><rect x="78.10" y="183.70" width="3.30" height="109.20" fill="url(#gB5)"/><rect x="80.10" y="183.70" width="3.30" height="109.20" fill="url(#gB6)"/><rect x="82.10" y="183.70" width="3.30" height="109.20" fill="url(#gB7)"/><rect x="84.10" y="183.70" width="3.30" height="109.20" fill="url(#gB8)"/><rect x="86.11" y="183.70" width="3.30" height="109.20" fill="url(#gB9)"/><rect x="88.11" y="183.70" width="3.30" height="109.20" fill="url(#gB10)"/><rect x="90.11" y="183.70" width="3.30" height="109.20" fill="url(#gB11)"/><rect x="92.11" y="183.70" width="3.30" height="109.20" fill="url(#gB12)"/><rect x="94.11" y="183.70" width="3.30" height="109.20" fill="url(#gB13)"/><rect x="96.11" y="183.70" width="3.30" height="109.20" fill="url(#gB14)"/><rect x="98.11" y="183.70" width="3.30" height="109.20" fill="url(#gB15)"/><rect x="100.11" y="183.70" width="3.30" height="109.20" fill="url(#gB16)"/><rect x="102.11" y="183.70" width="3.30" height="109.20" fill="url(#gB17)"/><rect x="104.11" y="183.70" width="3.30" height="109.20" fill="url(#gB18)"/><rect x="106.11" y="183.70" width="3.30" height="109.20" fill="url(#gB19)"/><rect x="108.11" y="183.70" width="3.30" height="109.20" fill="url(#gB20)"/><rect x="110.11" y="183.70" width="3.30" height="109.20" fill="url(#gB21)"/><rect x="112.11" y="183.70" width="3.30" height="109.20" fill="url(#gB22)"/><rect x="114.11" y="183.70" width="3.30" height="109.20" fill="url(#gB23)"/><rect x="116.11" y="183.70" width="3.30" height="109.20" fill="url(#gB24)"/><rect x="118.12" y="183.70" width="3.30" height="109.20" fill="url(#gB25)"/><rect x="120.12" y="183.70" width="3.30" height="109.20" fill="url(#gB26)"/><rect x="122.12" y="183.70" width="3.30" height="109.20" fill="url(#gB27)"/><rect x="124.12" y="183.70" width="3.30" height="109.20" fill="url(#gB28)"/><rect x="126.12" y="183.70" width="3.30" height="109.20" fill="url(#gB29)"/><rect x="128.12" y="183.70" width="3.30" height="109.20" fill="url(#gB30)"/><rect x="130.12" y="183.70" width="3.30" height="109.20" fill="url(#gB31)"/><rect x="132.12" y="183.70" width="3.30" height="109.20" fill="url(#gB32)"/><rect x="134.12" y="183.70" width="3.30" height="109.20" fill="url(#gB33)"/><rect x="136.12" y="183.70" width="3.30" height="109.20" fill="url(#gB34)"/><rect x="138.12" y="183.70" width="3.30" height="109.20" fill="url(#gB35)"/><rect x="140.12" y="183.70" width="3.30" height="109.20" fill="url(#gB36)"/><rect x="142.12" y="183.70" width="3.30" height="109.20" fill="url(#gB37)"/><rect x="144.12" y="183.70" width="3.30" height="109.20" fill="url(#gB38)"/><rect x="146.12" y="183.70" width="3.30" height="109.20" fill="url(#gB39)"/><rect x="148.12" y="183.70" width="3.30" height="109.20" fill="url(#gB40)"/><rect x="150.13" y="183.70" width="3.30" height="109.20" fill="url(#gB41)"/><rect x="152.13" y="183.70" width="3.30" height="109.20" fill="url(#gB42)"/><rect x="154.13" y="183.70" width="3.30" height="109.20" fill="url(#gB43)"/><rect x="156.13" y="183.70" width="3.30" height="109.20" fill="url(#gB44)"/><rect x="158.13" y="183.70" width="3.30" height="109.20" fill="url(#gB45)"/><rect x="160.13" y="183.70" width="3.30" height="109.20" fill="url(#gB46)"/><rect x="162.13" y="183.70" width="3.30" height="109.20" fill="url(#gB47)"/><rect x="164.13" y="183.70" width="3.30" height="109.20" fill="url(#gB48)"/><rect x="166.13" y="183.70" width="3.30" height="109.20" fill="url(#gB49)"/><rect x="168.13" y="183.70" width="3.30" height="109.20" fill="url(#gB50)"/><rect x="170.13" y="183.70" width="3.30" height="109.20" fill="url(#gB51)"/><rect x="172.13" y="183.70" width="3.30" height="109.20" fill="url(#gB52)"/><rect x="174.13" y="183.70" width="3.30" height="109.20" fill="url(#gB53)"/><rect x="176.13" y="183.70" width="3.30" height="109.20" fill="url(#gB54)"/><rect x="178.13" y="183.70" width="3.30" height="109.20" fill="url(#gB55)"/><rect x="180.13" y="183.70" width="3.30" height="109.20" fill="url(#gB56)"/><rect x="182.13" y="183.70" width="3.30" height="109.20" fill="url(#gB57)"/><rect x="184.14" y="183.70" width="3.30" height="109.20" fill="url(#gB58)"/><rect x="186.14" y="183.70" width="3.30" height="109.20" fill="url(#gB59)"/><rect x="188.14" y="183.70" width="3.30" height="109.20" fill="url(#gB60)"/><rect x="190.14" y="183.70" width="3.30" height="109.20" fill="url(#gB61)"/><rect x="192.14" y="183.70" width="3.30" height="109.20" fill="url(#gB62)"/><rect x="194.14" y="183.70" width="3.30" height="109.20" fill="url(#gB63)"/><rect x="196.14" y="183.70" width="3.30" height="109.20" fill="url(#gB64)"/><rect x="198.14" y="183.70" width="3.30" height="109.20" fill="url(#gB65)"/><rect x="200.14" y="183.70" width="3.30" height="109.20" fill="url(#gB66)"/><rect x="202.14" y="183.70" width="3.30" height="109.20" fill="url(#gB67)"/><rect x="204.14" y="183.70" width="3.30" height="109.20" fill="url(#gB68)"/><rect x="206.14" y="183.70" width="3.30" height="109.20" fill="url(#gB69)"/><rect x="208.14" y="183.70" width="3.30" height="109.20" fill="url(#gB70)"/><rect x="210.14" y="183.70" width="3.30" height="109.20" fill="url(#gB71)"/><rect x="212.14" y="183.70" width="3.30" height="109.20" fill="url(#gB72)"/><rect x="214.14" y="183.70" width="3.30" height="109.20" fill="url(#gB73)"/><rect x="216.15" y="183.70" width="3.30" height="109.20" fill="url(#gB74)"/><rect x="218.15" y="183.70" width="3.30" height="109.20" fill="url(#gB75)"/><rect x="220.15" y="183.70" width="3.30" height="109.20" fill="url(#gB76)"/><rect x="222.15" y="183.70" width="3.30" height="109.20" fill="url(#gB77)"/><rect x="224.15" y="183.70" width="3.30" height="109.20" fill="url(#gB78)"/><rect x="226.15" y="183.70" width="3.30" height="109.20" fill="url(#gB79)"/><rect x="228.15" y="183.70" width="3.30" height="109.20" fill="url(#gB80)"/><rect x="230.15" y="183.70" width="3.30" height="109.20" fill="url(#gB81)"/><rect x="232.15" y="183.70" width="3.30" height="109.20" fill="url(#gB82)"/><rect x="234.15" y="183.70" width="3.30" height="109.20" fill="url(#gB83)"/><rect x="236.15" y="183.70" width="3.30" height="109.20" fill="url(#gB84)"/><rect x="238.15" y="183.70" width="3.30" height="109.20" fill="url(#gB85)"/><rect x="240.15" y="183.70" width="3.30" height="109.20" fill="url(#gB86)"/><rect x="242.15" y="183.70" width="3.30" height="109.20" fill="url(#gB87)"/><rect x="244.15" y="183.70" width="3.30" height="109.20" fill="url(#gB88)"/><rect x="246.15" y="183.70" width="3.30" height="109.20" fill="url(#gB89)"/><rect x="248.16" y="183.70" width="3.30" height="109.20" fill="url(#gB90)"/><rect x="250.16" y="183.70" width="3.30" height="109.20" fill="url(#gB91)"/><rect x="252.16" y="183.70" width="3.30" height="109.20" fill="url(#gB92)"/><rect x="254.16" y="183.70" width="3.30" height="109.20" fill="url(#gB93)"/><rect x="256.16" y="183.70" width="3.30" height="109.20" fill="url(#gB94)"/><rect x="258.16" y="183.70" width="3.30" height="109.20" fill="url(#gB95)"/><rect x="260.16" y="183.70" width="3.30" height="109.20" fill="url(#gB96)"/><rect x="262.16" y="183.70" width="3.30" height="109.20" fill="url(#gB97)"/><rect x="264.16" y="183.70" width="3.30" height="109.20" fill="url(#gB98)"/><rect x="266.16" y="183.70" width="3.30" height="109.20" fill="url(#gB99)"/><rect x="268.16" y="183.70" width="3.30" height="109.20" fill="url(#gB100)"/><rect x="270.16" y="183.70" width="3.30" height="109.20" fill="url(#gB101)"/><rect x="272.16" y="183.70" width="3.30" height="109.20" fill="url(#gB102)"/><rect x="274.16" y="183.70" width="3.30" height="109.20" fill="url(#gB103)"/><rect x="276.16" y="183.70" width="3.30" height="109.20" fill="url(#gB104)"/><rect x="278.16" y="183.70" width="3.30" height="109.20" fill="url(#gB105)"/><rect x="280.17" y="183.70" width="3.30" height="109.20" fill="url(#gB106)"/><rect x="282.17" y="183.70" width="3.30" height="109.20" fill="url(#gB107)"/><rect x="284.17" y="183.70" width="3.30" height="109.20" fill="url(#gB108)"/><rect x="286.17" y="183.70" width="3.30" height="109.20" fill="url(#gB109)"/><rect x="288.17" y="183.70" width="3.30" height="109.20" fill="url(#gB110)"/><rect x="290.17" y="183.70" width="3.30" height="109.20" fill="url(#gB111)"/><rect x="292.17" y="183.70" width="3.30" height="109.20" fill="url(#gB112)"/><rect x="294.17" y="183.70" width="3.30" height="109.20" fill="url(#gB113)"/><rect x="296.17" y="183.70" width="3.30" height="109.20" fill="url(#gB114)"/><rect x="298.17" y="183.70" width="3.30" height="109.20" fill="url(#gB115)"/><rect x="300.17" y="183.70" width="3.30" height="109.20" fill="url(#gB116)"/><rect x="302.17" y="183.70" width="3.30" height="109.20" fill="url(#gB117)"/><rect x="304.17" y="183.70" width="3.30" height="109.20" fill="url(#gB118)"/><rect x="306.17" y="183.70" width="3.30" height="109.20" fill="url(#gB119)"/><rect x="308.17" y="183.70" width="3.30" height="109.20" fill="url(#gB120)"/><rect x="310.17" y="183.70" width="3.30" height="109.20" fill="url(#gB121)"/><rect x="312.17" y="183.70" width="3.30" height="109.20" fill="url(#gB122)"/><rect x="314.18" y="183.70" width="3.30" height="109.20" fill="url(#gB123)"/><rect x="316.18" y="183.70" width="3.30" height="109.20" fill="url(#gB124)"/><rect x="318.18" y="183.70" width="3.30" height="109.20" fill="url(#gB125)"/><rect x="320.18" y="183.70" width="3.30" height="109.20" fill="url(#gB126)"/><rect x="322.18" y="183.70" width="3.30" height="109.20" fill="url(#gB127)"/><rect x="324.18" y="183.70" width="3.30" height="109.20" fill="url(#gB128)"/><rect x="326.18" y="183.70" width="3.30" height="109.20" fill="url(#gB129)"/><rect x="328.18" y="183.70" width="3.30" height="109.20" fill="url(#gB130)"/><rect x="330.18" y="183.70" width="3.30" height="109.20" fill="url(#gB131)"/><rect x="332.18" y="183.70" width="3.30" height="109.20" fill="url(#gB132)"/><rect x="334.18" y="183.70" width="3.30" height="109.20" fill="url(#gB133)"/><rect x="336.18" y="183.70" width="3.30" height="109.20" fill="url(#gB134)"/><rect x="338.18" y="183.70" width="3.30" height="109.20" fill="url(#gB135)"/><rect x="340.18" y="183.70" width="3.30" height="109.20" fill="url(#gB136)"/><rect x="342.18" y="183.70" width="3.30" height="109.20" fill="url(#gB137)"/><rect x="344.18" y="183.70" width="3.30" height="109.20" fill="url(#gB138)"/><rect x="346.19" y="183.70" width="3.30" height="109.20" fill="url(#gB139)"/><rect x="348.19" y="183.70" width="3.30" height="109.20" fill="url(#gB140)"/><rect x="350.19" y="183.70" width="3.30" height="109.20" fill="url(#gB141)"/><rect x="352.19" y="183.70" width="3.30" height="109.20" fill="url(#gB142)"/><rect x="354.19" y="183.70" width="3.30" height="109.20" fill="url(#gB143)"/><rect x="356.19" y="183.70" width="3.30" height="109.20" fill="url(#gB144)"/><rect x="358.19" y="183.70" width="3.30" height="109.20" fill="url(#gB145)"/><rect x="360.19" y="183.70" width="3.30" height="109.20" fill="url(#gB146)"/><rect x="362.19" y="183.70" width="3.30" height="109.20" fill="url(#gB147)"/><rect x="364.19" y="183.70" width="3.30" height="109.20" fill="url(#gB148)"/><rect x="366.19" y="183.70" width="3.30" height="109.20" fill="url(#gB149)"/><rect x="368.19" y="183.70" width="3.30" height="109.20" fill="url(#gB150)"/><rect x="370.19" y="183.70" width="3.30" height="109.20" fill="url(#gB151)"/><rect x="372.19" y="183.70" width="3.30" height="109.20" fill="url(#gB152)"/><rect x="374.19" y="183.70" width="3.30" height="109.20" fill="url(#gB153)"/><rect x="376.19" y="183.70" width="3.30" height="109.20" fill="url(#gB154)"/><rect x="378.20" y="183.70" width="3.30" height="109.20" fill="url(#gB155)"/><rect x="380.20" y="183.70" width="3.30" height="109.20" fill="url(#gB156)"/><rect x="382.20" y="183.70" width="3.30" height="109.20" fill="url(#gB157)"/><rect x="384.20" y="183.70" width="3.30" height="109.20" fill="url(#gB158)"/><rect x="386.20" y="183.70" width="3.30" height="109.20" fill="url(#gB159)"/><rect x="388.20" y="183.70" width="3.30" height="109.20" fill="url(#gB160)"/><rect x="390.20" y="183.70" width="3.30" height="109.20" fill="url(#gB161)"/><rect x="392.20" y="183.70" width="8.30" height="109.20" fill="url(#gB162)"/></g></g>
<rect x="68.10" y="183.70" width="326.10" height="109.20" fill="none" stroke="#333333" stroke-opacity="0.42" stroke-width="0.9"/>
<text x="63.40" y="188.64" font-size="13.80" text-anchor="end" >0</text>
<text x="63.40" y="215.69" font-size="13.80" text-anchor="end" >5</text>
<text x="63.40" y="242.74" font-size="13.80" text-anchor="end" >10</text>
<text x="63.40" y="269.79" font-size="13.80" text-anchor="end" >15</text>
<text x="68.10" y="308.00" font-size="13.80" text-anchor="middle" >0</text>
<text x="120.68" y="308.00" font-size="13.80" text-anchor="middle" >2</text>
<text x="173.26" y="308.00" font-size="13.80" text-anchor="middle" >4</text>
<text x="225.84" y="308.00" font-size="13.80" text-anchor="middle" >6</text>
<text x="278.42" y="308.00" font-size="13.80" text-anchor="middle" >8</text>
<text x="331.00" y="308.00" font-size="13.80" text-anchor="middle" >10</text>
<text x="383.58" y="308.00" font-size="13.80" text-anchor="middle" >12</text>
<text x="231.00" y="325.40" font-size="15.90" text-anchor="middle" >time (hour)</text>
<text transform="translate(41.60,238.30) rotate(-90)" font-size="15.90" text-anchor="middle">depth (cm)</text>
<text x="2.50" y="175.80" font-size="16.20" text-anchor="start" font-weight="bold">B</text>
<defs><linearGradient id="cbB" x1="0" y1="0" x2="0" y2="1"><stop offset="0" stop-color="#ffffe5"/><stop offset="0.03125" stop-color="#fffddb"/><stop offset="0.0625" stop-color="#fffbd0"/><stop offset="0.09375" stop-color="#fff9c6"/><stop offset="0.125" stop-color="#fff7bc"/><stop offset="0.1562" stop-color="#fff2b1"/><stop offset="0.1875" stop-color="#feeda6"/><stop offset="0.2188" stop-color="#fee89c"/><stop offset="0.25" stop-color="#fee391"/><stop offset="0.2812" stop-color="#fedb80"/><stop offset="0.3125" stop-color="#fed470"/><stop offset="0.3438" stop-color="#fecc60"/><stop offset="0.375" stop-color="#fec44f"/><stop offset="0.4062" stop-color="#feb946"/><stop offset="0.4375" stop-color="#feae3c"/><stop offset="0.4688" stop-color="#fea432"/><stop offset="0.5" stop-color="#fe9929"/><stop offset="0.5312" stop-color="#fa9024"/><stop offset="0.5625" stop-color="#f68620"/><stop offset="0.5938" stop-color="#f27d1b"/><stop offset="0.625" stop-color="#ee7416"/><stop offset="0.6562" stop-color="#e66b12"/><stop offset="0.6875" stop-color="#df620d"/><stop offset="0.7188" stop-color="#d85908"/><stop offset="0.75" stop-color="#d05004"/><stop offset="0.7812" stop-color="#c44a04"/><stop offset="0.8125" stop-color="#b84504"/><stop offset="0.8438" stop-color="#ac4005"/><stop offset="0.875" stop-color="#a03a05"/><stop offset="0.9062" stop-color="#943606"/><stop offset="0.9375" stop-color="#873206"/><stop offset="0.9688" stop-color="#7a2e06"/><stop offset="1" stop-color="#6e2a07"/></linearGradient></defs><rect x="408.60" y="183.10" width="10.00" height="115.60" fill="url(#cbB)" stroke="#9a9a9a" stroke-width="0.6"/>
<text x="422.00" y="303.64" font-size="13.80" text-anchor="start" >100</text>
<text x="422.00" y="269.44" font-size="13.80" text-anchor="start" >150</text>
<text x="422.00" y="235.24" font-size="13.80" text-anchor="start" >200</text>
<text x="422.00" y="201.04" font-size="13.80" text-anchor="start" >250</text>
<g stroke="#555" stroke-width="0.6"><line x1="418.60" y1="298.70" x2="417.00" y2="298.70"/><line x1="418.60" y1="264.50" x2="417.00" y2="264.50"/><line x1="418.60" y1="230.30" x2="417.00" y2="230.30"/><line x1="418.60" y1="196.10" x2="417.00" y2="196.10"/></g>
<text x="471.50" y="176.30" font-size="13.00" text-anchor="end" >temperature (K)</text>
<defs><linearGradient id="gC0" x1="0" y1="0" x2="0" y2="1"><stop offset="0.00229" stop-color="#084387"/><stop offset="0.00688" stop-color="#084c95"/><stop offset="0.0115" stop-color="#0e59a2"/><stop offset="0.0206" stop-color="#2a7ab9"/><stop offset="0.0252" stop-color="#3d8dc3"/><stop offset="0.0298" stop-color="#58a1cf"/><stop offset="0.039" stop-color="#9bc8e0"/><stop offset="0.0482" stop-color="#ccdff1"/><stop offset="0.0573" stop-color="#e6f0fa"/><stop offset="0.0711" stop-color="#f3f9fe"/><stop offset="0.108" stop-color="#f7fbff"/><stop offset="0.167" stop-color="#f6faff"/><stop offset="0.273" stop-color="#b0d2e7"/><stop offset="0.397" stop-color="#6dafd6"/><stop offset="0.534" stop-color="#3f8fc5"/><stop offset="0.631" stop-color="#1b69af"/><stop offset="0.635" stop-color="#1a68ae"/><stop offset="0.64" stop-color="#2878b9"/><stop offset="0.644" stop-color="#5ea5d1"/><stop offset="0.649" stop-color="#b4d3e9"/><stop offset="0.654" stop-color="#e3eef9"/><stop offset="0.658" stop-color="#f7fbff"/><stop offset="0.998" stop-color="#f7fbff"/></linearGradient><linearGradient id="gC1" x1="0" y1="0" x2="0" y2="1"><stop offset="0.00229" stop-color="#084387"/><stop offset="0.00688" stop-color="#084c95"/><stop offset="0.0115" stop-color="#0e59a2"/><stop offset="0.0206" stop-color="#2a7ab9"/><stop offset="0.0252" stop-color="#3d8dc3"/><stop offset="0.0298" stop-color="#58a1cf"/><stop offset="0.039" stop-color="#9bc8e0"/><stop offset="0.0482" stop-color="#ccdff1"/><stop offset="0.0573" stop-color="#e6f0fa"/><stop offset="0.0711" stop-color="#f3f9fe"/><stop offset="0.108" stop-color="#f7fbff"/><stop offset="0.167" stop-color="#f6faff"/><stop offset="0.273" stop-color="#b0d2e7"/><stop offset="0.397" stop-color="#6dafd6"/><stop offset="0.534" stop-color="#3f8fc5"/><stop offset="0.631" stop-color="#1b69af"/><stop offset="0.635" stop-color="#1b69af"/><stop offset="0.64" stop-color="#2878b9"/><stop offset="0.644" stop-color="#5fa6d1"/><stop offset="0.649" stop-color="#b5d4e9"/><stop offset="0.654" stop-color="#e3eef9"/><stop offset="0.658" stop-color="#f7fbff"/><stop offset="0.998" stop-color="#f7fbff"/></linearGradient><linearGradient id="gC2" x1="0" y1="0" x2="0" y2="1"><stop offset="0.00229" stop-color="#084387"/><stop offset="0.00688" stop-color="#084c95"/><stop offset="0.0115" stop-color="#0e59a2"/><stop offset="0.0206" stop-color="#2a7ab9"/><stop offset="0.0252" stop-color="#3d8dc3"/><stop offset="0.0298" stop-color="#58a1cf"/><stop offset="0.039" stop-color="#9bc8e0"/><stop offset="0.0482" stop-color="#ccdff1"/><stop offset="0.0573" stop-color="#e6f0fa"/><stop offset="0.0711" stop-color="#f3f9fe"/><stop offset="0.108" stop-color="#f7fbff"/><stop offset="0.167" stop-color="#f6faff"/><stop offset="0.273" stop-color="#b0d2e7"/><stop offset="0.397" stop-color="#6dafd6"/><stop offset="0.539" stop-color="#3e8ec4"/><stop offset="0.631" stop-color="#1b6aaf"/><stop offset="0.635" stop-color="#1b69af"/><stop offset="0.64" stop-color="#2979b9"/><stop offset="0.644" stop-color="#60a6d2"/><stop offset="0.649" stop-color="#b5d4e9"/><stop offset="0.654" stop-color="#e3eef9"/><stop offset="0.658" stop-color="#f7fbff"/><stop offset="0.998" stop-color="#f7fbff"/></linearGradient><linearGradient id="gC3" x1="0" y1="0" x2="0" y2="1"><stop offset="0.00229" stop-color="#084387"/><stop offset="0.00688" stop-color="#084c95"/><stop offset="0.0115" stop-color="#0e59a2"/><stop offset="0.0206" stop-color="#2a7ab9"/><stop offset="0.0252" stop-color="#3d8dc3"/><stop offset="0.0298" stop-color="#58a1cf"/><stop offset="0.039" stop-color="#9bc8e0"/><stop offset="0.0482" stop-color="#ccdff1"/><stop offset="0.0573" stop-color="#e6f0fa"/><stop offset="0.0711" stop-color="#f3f9fe"/><stop offset="0.108" stop-color="#f7fbff"/><stop offset="0.167" stop-color="#f6faff"/><stop offset="0.273" stop-color="#b0d2e7"/><stop offset="0.397" stop-color="#6dafd6"/><stop offset="0.539" stop-color="#3e8ec4"/><stop offset="0.635" stop-color="#1b69af"/><stop offset="0.64" stop-color="#2979b9"/><stop offset="0.644" stop-color="#60a7d2"/><stop offset="0.649" stop-color="#b6d4e9"/><stop offset="0.654" stop-color="#e4eff9"/><stop offset="0.658" stop-color="#f7fbff"/><stop offset="0.998" stop-color="#f7fbff"/></linearGradient><linearGradient id="gC4" x1="0" y1="0" x2="0" y2="1"><stop offset="0.00229" stop-color="#084387"/><stop offset="0.00688" stop-color="#084c95"/><stop offset="0.0115" stop-color="#0e59a2"/><stop offset="0.0206" stop-color="#2a7ab9"/><stop offset="0.0252" stop-color="#3d8dc3"/><stop offset="0.0298" stop-color="#58a1cf"/><stop offset="0.039" stop-color="#9bc8e0"/><stop offset="0.0482" stop-color="#ccdff1"/><stop offset="0.0573" stop-color="#e6f0fa"/><stop offset="0.0711" stop-color="#f3f9fe"/><stop offset="0.108" stop-color="#f7fbff"/><stop offset="0.167" stop-color="#f6faff"/><stop offset="0.273" stop-color="#b0d2e7"/><stop offset="0.397" stop-color="#6dafd6"/><stop offset="0.539" stop-color="#3e8ec4"/><stop offset="0.635" stop-color="#1b69af"/><stop offset="0.64" stop-color="#2a7aba"/><stop offset="0.644" stop-color="#61a7d2"/><stop offset="0.649" stop-color="#b7d5ea"/><stop offset="0.654" stop-color="#e4eff9"/><stop offset="0.658" stop-color="#f7fbff"/><stop offset="0.998" stop-color="#f7fbff"/></linearGradient><linearGradient id="gC5" x1="0" y1="0" x2="0" y2="1"><stop offset="0.00229" stop-color="#084387"/><stop offset="0.00688" stop-color="#084c95"/><stop offset="0.0115" stop-color="#0e59a2"/><stop offset="0.0206" stop-color="#2a7ab9"/><stop offset="0.0252" stop-color="#3d8dc3"/><stop offset="0.0298" stop-color="#58a1cf"/><stop offset="0.039" stop-color="#9bc8e0"/><stop offset="0.0482" stop-color="#ccdff1"/><stop offset="0.0573" stop-color="#e6f0fa"/><stop offset="0.0711" stop-color="#f3f9fe"/><stop offset="0.108" stop-color="#f7fbff"/><stop offset="0.167" stop-color="#f6faff"/><stop offset="0.273" stop-color="#b0d2e7"/><stop offset="0.397" stop-color="#6dafd6"/><stop offset="0.539" stop-color="#3e8ec4"/><stop offset="0.635" stop-color="#1b6aaf"/><stop offset="0.64" stop-color="#2b7bba"/><stop offset="0.644" stop-color="#62a8d2"/><stop offset="0.649" stop-color="#b7d5ea"/><stop offset="0.654" stop-color="#e4eff9"/><stop offset="0.658" stop-color="#f7fbff"/><stop offset="0.998" stop-color="#f7fbff"/></linearGradient><linearGradient id="gC6" x1="0" y1="0" x2="0" y2="1"><stop offset="0.00229" stop-color="#084387"/><stop offset="0.00688" stop-color="#084c95"/><stop offset="0.0115" stop-color="#0e59a2"/><stop offset="0.0206" stop-color="#2a7ab9"/><stop offset="0.0252" stop-color="#3d8dc3"/><stop offset="0.0298" stop-color="#58a1cf"/><stop offset="0.039" stop-color="#9bc8e0"/><stop offset="0.0482" stop-color="#ccdff1"/><stop offset="0.0573" stop-color="#e6f0fa"/><stop offset="0.0711" stop-color="#f3f9fe"/><stop offset="0.108" stop-color="#f7fbff"/><stop offset="0.167" stop-color="#f6faff"/><stop offset="0.273" stop-color="#b0d2e7"/><stop offset="0.397" stop-color="#6dafd6"/><stop offset="0.539" stop-color="#3e8ec4"/><stop offset="0.635" stop-color="#1c6ab0"/><stop offset="0.64" stop-color="#2b7bba"/><stop offset="0.644" stop-color="#63a8d3"/><stop offset="0.649" stop-color="#b8d5ea"/><stop offset="0.654" stop-color="#e4eff9"/><stop offset="0.658" stop-color="#f7fbff"/><stop offset="0.998" stop-color="#f7fbff"/></linearGradient><linearGradient id="gC7" x1="0" y1="0" x2="0" y2="1"><stop offset="0.00229" stop-color="#084387"/><stop offset="0.00688" stop-color="#084c95"/><stop offset="0.0115" stop-color="#0e59a2"/><stop offset="0.0206" stop-color="#2a7ab9"/><stop offset="0.0252" stop-color="#3d8dc3"/><stop offset="0.0298" stop-color="#58a1cf"/><stop offset="0.039" stop-color="#9bc8e0"/><stop offset="0.0482" stop-color="#ccdff1"/><stop offset="0.0573" stop-color="#e6f0fa"/><stop offset="0.0711" stop-color="#f3f9fe"/><stop offset="0.108" stop-color="#f7fbff"/><stop offset="0.167" stop-color="#f6faff"/><stop offset="0.273" stop-color="#b0d2e7"/><stop offset="0.397" stop-color="#6dafd6"/><stop offset="0.544" stop-color="#3d8dc3"/><stop offset="0.635" stop-color="#1c6ab0"/><stop offset="0.64" stop-color="#2c7cba"/><stop offset="0.644" stop-color="#63a9d3"/><stop offset="0.649" stop-color="#b9d5ea"/><stop offset="0.654" stop-color="#e5eff9"/><stop offset="0.658" stop-color="#f7fbff"/><stop offset="0.998" stop-color="#f7fbff"/></linearGradient><linearGradient id="gC8" x1="0" y1="0" x2="0" y2="1"><stop offset="0.00229" stop-color="#084387"/><stop offset="0.00688" stop-color="#084c95"/><stop offset="0.0115" stop-color="#0e59a2"/><stop offset="0.0206" stop-color="#2a7ab9"/><stop offset="0.0252" stop-color="#3d8dc3"/><stop offset="0.0298" stop-color="#58a1cf"/><stop offset="0.039" stop-color="#9bc8e0"/><stop offset="0.0482" stop-color="#ccdff1"/><stop offset="0.0573" stop-color="#e6f0fa"/><stop offset="0.0711" stop-color="#f3f9fe"/><stop offset="0.108" stop-color="#f7fbff"/><stop offset="0.167" stop-color="#f6faff"/><stop offset="0.273" stop-color="#b0d2e7"/><stop offset="0.397" stop-color="#6dafd6"/><stop offset="0.544" stop-color="#3d8dc3"/><stop offset="0.635" stop-color="#1c6ab0"/><stop offset="0.64" stop-color="#2c7cbb"/><stop offset="0.644" stop-color="#64a9d3"/><stop offset="0.649" stop-color="#b9d6eb"/><stop offset="0.654" stop-color="#e5eff9"/><stop offset="0.658" stop-color="#f7fbff"/><stop offset="0.998" stop-color="#f7fbff"/></linearGradient><linearGradient id="gC9" x1="0" y1="0" x2="0" y2="1"><stop offset="0.00229" stop-color="#084387"/><stop offset="0.00688" stop-color="#084c95"/><stop offset="0.0115" stop-color="#0e59a2"/><stop offset="0.0206" stop-color="#2a7ab9"/><stop offset="0.0252" stop-color="#3d8dc3"/><stop offset="0.0298" stop-color="#58a1cf"/><stop offset="0.039" stop-color="#9bc8e0"/><stop offset="0.0482" stop-color="#ccdff1"/><stop offset="0.0573" stop-color="#e6f0fa"/><stop offset="0.0711" stop-color="#f3f9fe"/><stop offset="0.108" stop-color="#f7fbff"/><stop offset="0.167" stop-color="#f6faff"/><stop offset="0.273" stop-color="#b0d2e7"/><stop offset="0.397" stop-color="#6dafd6"/><stop offset="0.544" stop-color="#3d8dc4"/><stop offset="0.635" stop-color="#1c6bb0"/><stop offset="0.64" stop-color="#2d7dbb"/><stop offset="0.644" stop-color="#65aad4"/><stop offset="0.649" stop-color="#bad6eb"/><stop offset="0.654" stop-color="#e5f0f9"/><stop offset="0.658" stop-color="#f7fbff"/><stop offset="0.998" stop-color="#f7fbff"/></linearGradient><linearGradient id="gC10" x1="0" y1="0" x2="0" y2="1"><stop offset="0.00229" stop-color="#084387"/><stop offset="0.00688" stop-color="#084c95"/><stop offset="0.0115" stop-color="#0e59a2"/><stop offset="0.0206" stop-color="#2a7ab9"/><stop offset="0.0252" stop-color="#3d8dc3"/><stop offset="0.0298" stop-color="#58a1cf"/><stop offset="0.039" stop-color="#9bc8e0"/><stop offset="0.0482" stop-color="#ccdff1"/><stop offset="0.0573" stop-color="#e6f0fa"/><stop offset="0.0711" stop-color="#f3f9fe"/><stop offset="0.108" stop-color="#f7fbff"/><stop offset="0.167" stop-color="#f6faff"/><stop offset="0.273" stop-color="#b0d2e7"/><stop offset="0.397" stop-color="#6dafd6"/><stop offset="0.548" stop-color="#3c8cc3"/><stop offset="0.635" stop-color="#1c6bb0"/><stop offset="0.64" stop-color="#2d7dbb"/><stop offset="0.644" stop-color="#66aad4"/><stop offset="0.649" stop-color="#bbd6eb"/><stop offset="0.654" stop-color="#e6f0f9"/><stop offset="0.658" stop-color="#f7fbff"/><stop offset="0.998" stop-color="#f7fbff"/></linearGradient><linearGradient id="gC11" x1="0" y1="0" x2="0" y2="1"><stop offset="0.00229" stop-color="#084387"/><stop offset="0.00688" stop-color="#084c95"/><stop offset="0.0115" stop-color="#0e59a2"/><stop offset="0.0206" stop-color="#2a7ab9"/><stop offset="0.0252" stop-color="#3d8dc3"/><stop offset="0.0298" stop-color="#58a1cf"/><stop offset="0.039" stop-color="#9bc8e0"/><stop offset="0.0482" stop-color="#ccdff1"/><stop offset="0.0573" stop-color="#e6f0fa"/><stop offset="0.0711" stop-color="#f3f9fe"/><stop offset="0.108" stop-color="#f7fbff"/><stop offset="0.167" stop-color="#f6faff"/><stop offset="0.273" stop-color="#b0d2e7"/><stop offset="0.397" stop-color="#6dafd6"/><stop offset="0.548" stop-color="#3c8cc3"/><stop offset="0.635" stop-color="#1c6bb0"/><stop offset="0.64" stop-color="#2e7ebb"/><stop offset="0.644" stop-color="#66abd4"/><stop offset="0.649" stop-color="#bbd6eb"/><stop offset="0.654" stop-color="#e6f0f9"/><stop offset="0.658" stop-color="#f7fbff"/><stop offset="0.998" stop-color="#f7fbff"/></linearGradient><linearGradient id="gC12" x1="0" y1="0" x2="0" y2="1"><stop offset="0.00229" stop-color="#084387"/><stop offset="0.00688" stop-color="#084c95"/><stop offset="0.0115" stop-color="#0e59a2"/><stop offset="0.0206" stop-color="#2a7ab9"/><stop offset="0.0252" stop-color="#3d8dc3"/><stop offset="0.0298" stop-color="#58a1cf"/><stop offset="0.039" stop-color="#9bc8e0"/><stop offset="0.0482" stop-color="#ccdff1"/><stop offset="0.0573" stop-color="#e6f0fa"/><stop offset="0.0711" stop-color="#f3f9fe"/><stop offset="0.108" stop-color="#f7fbff"/><stop offset="0.167" stop-color="#f6faff"/><stop offset="0.273" stop-color="#b0d2e7"/><stop offset="0.397" stop-color="#6dafd6"/><stop offset="0.548" stop-color="#3c8cc3"/><stop offset="0.635" stop-color="#1d6bb1"/><stop offset="0.64" stop-color="#2e7ebc"/><stop offset="0.644" stop-color="#67abd4"/><stop offset="0.649" stop-color="#bcd7ec"/><stop offset="0.654" stop-color="#e6f0fa"/><stop offset="0.658" stop-color="#f7fbff"/><stop offset="0.998" stop-color="#f7fbff"/></linearGradient><linearGradient id="gC13" x1="0" y1="0" x2="0" y2="1"><stop offset="0.00229" stop-color="#084387"/><stop offset="0.00688" stop-color="#084c95"/><stop offset="0.0115" stop-color="#0e59a2"/><stop offset="0.0206" stop-color="#2a7ab9"/><stop offset="0.0252" stop-color="#3d8dc3"/><stop offset="0.0298" stop-color="#58a1cf"/><stop offset="0.039" stop-color="#9bc8e0"/><stop offset="0.0482" stop-color="#ccdff1"/><stop offset="0.0573" stop-color="#e6f0fa"/><stop offset="0.0711" stop-color="#f3f9fe"/><stop offset="0.108" stop-color="#f7fbff"/><stop offset="0.167" stop-color="#f6faff"/><stop offset="0.273" stop-color="#b0d2e7"/><stop offset="0.397" stop-color="#6dafd6"/><stop offset="0.553" stop-color="#3b8bc2"/><stop offset="0.635" stop-color="#1d6cb1"/><stop offset="0.64" stop-color="#2f7fbc"/><stop offset="0.644" stop-color="#68acd5"/><stop offset="0.649" stop-color="#bdd7ec"/><stop offset="0.654" stop-color="#e6f0fa"/><stop offset="0.658" stop-color="#f7fbff"/><stop offset="0.998" stop-color="#f7fbff"/></linearGradient><linearGradient id="gC14" x1="0" y1="0" x2="0" y2="1"><stop offset="0.00229" stop-color="#084387"/><stop offset="0.00688" stop-color="#084c95"/><stop offset="0.0115" stop-color="#0e59a2"/><stop offset="0.0206" stop-color="#2a7ab9"/><stop offset="0.0252" stop-color="#3d8dc3"/><stop offset="0.0298" stop-color="#58a1cf"/><stop offset="0.039" stop-color="#9bc8e0"/><stop offset="0.0482" stop-color="#ccdff1"/><stop offset="0.0573" stop-color="#e6f0fa"/><stop offset="0.0711" stop-color="#f3f9fe"/><stop offset="0.108" stop-color="#f7fbff"/><stop offset="0.167" stop-color="#f6faff"/><stop offset="0.273" stop-color="#b0d2e7"/><stop offset="0.397" stop-color="#6dafd6"/><stop offset="0.553" stop-color="#3b8bc2"/><stop offset="0.635" stop-color="#1d6cb1"/><stop offset="0.64" stop-color="#2f7fbc"/><stop offset="0.644" stop-color="#69acd5"/><stop offset="0.649" stop-color="#bdd7ec"/><stop offset="0.654" stop-color="#e6f0fa"/><stop offset="0.658" stop-color="#f7fbff"/><stop offset="0.998" stop-color="#f7fbff"/></linearGradient><linearGradient id="gC15" x1="0" y1="0" x2="0" y2="1"><stop offset="0.00229" stop-color="#084387"/><stop offset="0.00688" stop-color="#084c95"/><stop offset="0.0115" stop-color="#0e59a2"/><stop offset="0.0206" stop-color="#2a7ab9"/><stop offset="0.0252" stop-color="#3d8dc3"/><stop offset="0.0298" stop-color="#58a1cf"/><stop offset="0.039" stop-color="#9bc8e0"/><stop offset="0.0482" stop-color="#ccdff1"/><stop offset="0.0573" stop-color="#e6f0fa"/><stop offset="0.0711" stop-color="#f3f9fe"/><stop offset="0.108" stop-color="#f7fbff"/><stop offset="0.167" stop-color="#f6faff"/><stop offset="0.273" stop-color="#b0d2e7"/><stop offset="0.397" stop-color="#6dafd6"/><stop offset="0.553" stop-color="#3b8bc2"/><stop offset="0.635" stop-color="#1d6cb1"/><stop offset="0.64" stop-color="#3080bc"/><stop offset="0.644" stop-color="#69add5"/><stop offset="0.649" stop-color="#bed8ec"/><stop offset="0.654" stop-color="#e7f1fa"/><stop offset="0.658" stop-color="#f7fbff"/><stop offset="0.998" stop-color="#f7fbff"/></linearGradient><linearGradient id="gC16" x1="0" y1="0" x2="0" y2="1"><stop offset="0.00229" stop-color="#084387"/><stop offset="0.00688" stop-color="#084c95"/><stop offset="0.0115" stop-color="#0e59a2"/><stop offset="0.0206" stop-color="#2a7ab9"/><stop offset="0.0252" stop-color="#3d8dc3"/><stop offset="0.0298" stop-color="#58a1cf"/><stop offset="0.039" stop-color="#9bc8e0"/><stop offset="0.0482" stop-color="#ccdff1"/><stop offset="0.0573" stop-color="#e6f0fa"/><stop offset="0.0711" stop-color="#f3f9fe"/><stop offset="0.108" stop-color="#f7fbff"/><stop offset="0.167" stop-color="#f6faff"/><stop offset="0.273" stop-color="#b0d2e7"/><stop offset="0.397" stop-color="#6dafd6"/><stop offset="0.557" stop-color="#3a8ac2"/><stop offset="0.635" stop-color="#1d6cb1"/><stop offset="0.64" stop-color="#3080bd"/><stop offset="0.644" stop-color="#6aadd6"/><stop offset="0.649" stop-color="#bfd8ec"/><stop offset="0.654" stop-color="#e7f1fa"/><stop offset="0.658" stop-color="#f7fbff"/><stop offset="0.998" stop-color="#f7fbff"/></linearGradient><linearGradient id="gC17" x1="0" y1="0" x2="0" y2="1"><stop offset="0.00229" stop-color="#084387"/><stop offset="0.00688" stop-color="#084c95"/><stop offset="0.0115" stop-color="#0e59a2"/><stop offset="0.0206" stop-color="#2a7ab9"/><stop offset="0.0252" stop-color="#3d8dc3"/><stop offset="0.0298" stop-color="#58a1cf"/><stop offset="0.039" stop-color="#9bc8e0"/><stop offset="0.0482" stop-color="#ccdff1"/><stop offset="0.0573" stop-color="#e6f0fa"/><stop offset="0.0711" stop-color="#f3f9fe"/><stop offset="0.108" stop-color="#f7fbff"/><stop offset="0.167" stop-color="#f6faff"/><stop offset="0.273" stop-color="#b0d2e7"/><stop offset="0.397" stop-color="#6dafd6"/><stop offset="0.557" stop-color="#3a8ac2"/><stop offset="0.635" stop-color="#1e6db2"/><stop offset="0.64" stop-color="#3181bd"/><stop offset="0.644" stop-color="#6baed6"/><stop offset="0.649" stop-color="#bfd8ed"/><stop offset="0.654" stop-color="#e7f1fa"/><stop offset="0.658" stop-color="#f7fbff"/><stop offset="0.998" stop-color="#f7fbff"/></linearGradient><linearGradient id="gC18" x1="0" y1="0" x2="0" y2="1"><stop offset="0.00229" stop-color="#084387"/><stop offset="0.00688" stop-color="#084c95"/><stop offset="0.0115" stop-color="#0e59a2"/><stop offset="0.0206" stop-color="#2a7ab9"/><stop offset="0.0252" stop-color="#3d8dc3"/><stop offset="0.0298" stop-color="#58a1cf"/><stop offset="0.039" stop-color="#9bc8e0"/><stop offset="0.0482" stop-color="#ccdff1"/><stop offset="0.0573" stop-color="#e6f0fa"/><stop offset="0.0711" stop-color="#f3f9fe"/><stop offset="0.108" stop-color="#f7fbff"/><stop offset="0.167" stop-color="#f6faff"/><stop offset="0.273" stop-color="#b0d2e7"/><stop offset="0.397" stop-color="#6dafd6"/><stop offset="0.557" stop-color="#3a8ac2"/><stop offset="0.635" stop-color="#1e6db2"/><stop offset="0.64" stop-color="#3181bd"/><stop offset="0.644" stop-color="#6caed6"/><stop offset="0.649" stop-color="#c0d8ed"/><stop offset="0.654" stop-color="#e7f1fa"/><stop offset="0.658" stop-color="#f7fbff"/><stop offset="0.998" stop-color="#f7fbff"/></linearGradient><linearGradient id="gC19" x1="0" y1="0" x2="0" y2="1"><stop offset="0.00229" stop-color="#084387"/><stop offset="0.00688" stop-color="#084c95"/><stop offset="0.0115" stop-color="#0e59a2"/><stop offset="0.0206" stop-color="#2a7ab9"/><stop offset="0.0252" stop-color="#3d8dc3"/><stop offset="0.0298" stop-color="#58a1cf"/><stop offset="0.039" stop-color="#9bc8e0"/><stop offset="0.0482" stop-color="#ccdff1"/><stop offset="0.0573" stop-color="#e6f0fa"/><stop offset="0.0711" stop-color="#f3f9fe"/><stop offset="0.108" stop-color="#f7fbff"/><stop offset="0.167" stop-color="#f6faff"/><stop offset="0.273" stop-color="#b0d2e7"/><stop offset="0.397" stop-color="#6dafd6"/><stop offset="0.557" stop-color="#3a8ac2"/><stop offset="0.635" stop-color="#1e6db2"/><stop offset="0.64" stop-color="#3282be"/><stop offset="0.644" stop-color="#6cafd6"/><stop offset="0.649" stop-color="#c0d9ed"/><stop offset="0.654" stop-color="#e8f1fa"/><stop offset="0.658" stop-color="#f7fbff"/><stop offset="0.998" stop-color="#f7fbff"/></linearGradient><linearGradient id="gC20" x1="0" y1="0" x2="0" y2="1"><stop offset="0.00229" stop-color="#084387"/><stop offset="0.00688" stop-color="#084c95"/><stop offset="0.0115" stop-color="#0e59a2"/><stop offset="0.0206" stop-color="#2a7ab9"/><stop offset="0.0252" stop-color="#3d8dc3"/><stop offset="0.0298" stop-color="#58a1cf"/><stop offset="0.039" stop-color="#9bc8e0"/><stop offset="0.0482" stop-color="#ccdff1"/><stop offset="0.0573" stop-color="#e6f0fa"/><stop offset="0.0711" stop-color="#f3f9fe"/><stop offset="0.108" stop-color="#f7fbff"/><stop offset="0.167" stop-color="#f6faff"/><stop offset="0.273" stop-color="#b0d2e7"/><stop offset="0.397" stop-color="#6dafd6"/><stop offset="0.562" stop-color="#3989c1"/><stop offset="0.635" stop-color="#1e6db2"/><stop offset="0.64" stop-color="#3282be"/><stop offset="0.644" stop-color="#6dafd6"/><stop offset="0.649" stop-color="#c1d9ed"/><stop offset="0.654" stop-color="#e8f1fa"/><stop offset="0.658" stop-color="#f7fbff"/><stop offset="0.998" stop-color="#f7fbff"/></linearGradient><linearGradient id="gC21" x1="0" y1="0" x2="0" y2="1"><stop offset="0.00229" stop-color="#084387"/><stop offset="0.00688" stop-color="#084c95"/><stop offset="0.0115" stop-color="#0e59a2"/><stop offset="0.0206" stop-color="#2a7ab9"/><stop offset="0.0252" stop-color="#3d8dc3"/><stop offset="0.0298" stop-color="#58a1cf"/><stop offset="0.039" stop-color="#9bc8e0"/><stop offset="0.0482" stop-color="#ccdff1"/><stop offset="0.0573" stop-color="#e6f0fa"/><stop offset="0.0711" stop-color="#f3f9fe"/><stop offset="0.108" stop-color="#f7fbff"/><stop offset="0.167" stop-color="#f6faff"/><stop offset="0.273" stop-color="#b0d2e7"/><stop offset="0.397" stop-color="#6dafd6"/><stop offset="0.562" stop-color="#3989c2"/><stop offset="0.635" stop-color="#1e6eb2"/><stop offset="0.64" stop-color="#3383be"/><stop offset="0.644" stop-color="#6eb0d7"/><stop offset="0.649" stop-color="#c1d9ed"/><stop offset="0.654" stop-color="#e8f1fa"/><stop offset="0.658" stop-color="#f7fbff"/><stop offset="0.998" stop-color="#f7fbff"/></linearGradient><linearGradient id="gC22" x1="0" y1="0" x2="0" y2="1"><stop offset="0.00229" stop-color="#084387"/><stop offset="0.00688" stop-color="#084c95"/><stop offset="0.0115" stop-color="#0e59a2"/><stop offset="0.0206" stop-color="#2a7ab9"/><stop offset="0.0252" stop-color="#3d8dc3"/><stop offset="0.0298" stop-color="#58a1cf"/><stop offset="0.039" stop-color="#9bc8e0"/><stop offset="0.0482" stop-color="#ccdff1"/><stop offset="0.0573" stop-color="#e6f0fa"/><stop offset="0.0711" stop-color="#f3f9fe"/><stop offset="0.108" stop-color="#f7fbff"/><stop offset="0.167" stop-color="#f6faff"/><stop offset="0.273" stop-color="#b0d2e7"/><stop offset="0.397" stop-color="#6dafd6"/><stop offset="0.562" stop-color="#3a8ac2"/><stop offset="0.635" stop-color="#1f6eb3"/><stop offset="0.64" stop-color="#3383be"/><stop offset="0.644" stop-color="#6fb0d7"/><stop offset="0.649" stop-color="#c2d9ee"/><stop offset="0.654" stop-color="#e8f2fa"/><stop offset="0.658" stop-color="#f7fbff"/><stop offset="0.998" stop-color="#f7fbff"/></linearGradient><linearGradient id="gC23" x1="0" y1="0" x2="0" y2="1"><stop offset="0.00229" stop-color="#084387"/><stop offset="0.00688" stop-color="#084c95"/><stop offset="0.0115" stop-color="#0e59a2"/><stop offset="0.0206" stop-color="#2a7ab9"/><stop offset="0.0252" stop-color="#3d8dc3"/><stop offset="0.0298" stop-color="#58a1cf"/><stop offset="0.039" stop-color="#9bc8e0"/><stop offset="0.0482" stop-color="#ccdff1"/><stop offset="0.0573" stop-color="#e6f0fa"/><stop offset="0.0711" stop-color="#f3f9fe"/><stop offset="0.108" stop-color="#f7fbff"/><stop offset="0.167" stop-color="#f6faff"/><stop offset="0.273" stop-color="#b0d2e7"/><stop offset="0.397" stop-color="#6dafd6"/><stop offset="0.567" stop-color="#3888c1"/><stop offset="0.635" stop-color="#1f6eb3"/><stop offset="0.64" stop-color="#3484bf"/><stop offset="0.644" stop-color="#70b1d7"/><stop offset="0.649" stop-color="#c3daee"/><stop offset="0.654" stop-color="#e8f2fa"/><stop offset="0.658" stop-color="#f7fbff"/><stop offset="0.998" stop-color="#f7fbff"/></linearGradient><linearGradient id="gC24" x1="0" y1="0" x2="0" y2="1"><stop offset="0.00229" stop-color="#084387"/><stop offset="0.00688" stop-color="#084c95"/><stop offset="0.0115" stop-color="#0e59a2"/><stop offset="0.0206" stop-color="#2a7ab9"/><stop offset="0.0252" stop-color="#3d8dc3"/><stop offset="0.0298" stop-color="#58a1cf"/><stop offset="0.039" stop-color="#9bc8e0"/><stop offset="0.0482" stop-color="#ccdff1"/><stop offset="0.0573" stop-color="#e6f0fa"/><stop offset="0.0711" stop-color="#f3f9fe"/><stop offset="0.108" stop-color="#f7fbff"/><stop offset="0.167" stop-color="#f6faff"/><stop offset="0.273" stop-color="#b0d2e7"/><stop offset="0.397" stop-color="#6dafd6"/><stop offset="0.567" stop-color="#3888c1"/><stop offset="0.635" stop-color="#1f6eb3"/><stop offset="0.64" stop-color="#3484bf"/><stop offset="0.644" stop-color="#71b1d7"/><stop offset="0.649" stop-color="#c3daee"/><stop offset="0.654" stop-color="#e9f2fa"/><stop offset="0.658" stop-color="#f7fbff"/><stop offset="0.998" stop-color="#f7fbff"/></linearGradient><linearGradient id="gC25" x1="0" y1="0" x2="0" y2="1"><stop offset="0.00229" stop-color="#084387"/><stop offset="0.00688" stop-color="#084c95"/><stop offset="0.0115" stop-color="#0e59a2"/><stop offset="0.0206" stop-color="#2a7ab9"/><stop offset="0.0252" stop-color="#3d8dc3"/><stop offset="0.0298" stop-color="#58a1cf"/><stop offset="0.039" stop-color="#9bc8e0"/><stop offset="0.0482" stop-color="#ccdff1"/><stop offset="0.0573" stop-color="#e6f0fa"/><stop offset="0.0711" stop-color="#f3f9fe"/><stop offset="0.108" stop-color="#f7fbff"/><stop offset="0.167" stop-color="#f6faff"/><stop offset="0.273" stop-color="#b0d2e7"/><stop offset="0.397" stop-color="#6dafd6"/><stop offset="0.567" stop-color="#3989c1"/><stop offset="0.635" stop-color="#1f6fb3"/><stop offset="0.64" stop-color="#3484bf"/><stop offset="0.644" stop-color="#72b2d7"/><stop offset="0.649" stop-color="#c4daee"/><stop offset="0.654" stop-color="#e9f2fa"/><stop offset="0.658" stop-color="#f7fbff"/><stop offset="0.998" stop-color="#f7fbff"/></linearGradient><linearGradient id="gC26" x1="0" y1="0" x2="0" y2="1"><stop offset="0.00229" stop-color="#084387"/><stop offset="0.00688" stop-color="#084c95"/><stop offset="0.0115" stop-color="#0e59a2"/><stop offset="0.0206" stop-color="#2a7ab9"/><stop offset="0.0252" stop-color="#3d8dc3"/><stop offset="0.0298" stop-color="#58a1cf"/><stop offset="0.039" stop-color="#9bc8e0"/><stop offset="0.0482" stop-color="#ccdff1"/><stop offset="0.0573" stop-color="#e6f0fa"/><stop offset="0.0711" stop-color="#f3f9fe"/><stop offset="0.108" stop-color="#f7fbff"/><stop offset="0.167" stop-color="#f6faff"/><stop offset="0.273" stop-color="#b0d2e7"/><stop offset="0.397" stop-color="#6dafd6"/><stop offset="0.567" stop-color="#3989c1"/><stop offset="0.635" stop-color="#1f6fb3"/><stop offset="0.64" stop-color="#3585bf"/><stop offset="0.644" stop-color="#72b2d8"/><stop offset="0.649" stop-color="#c4daee"/><stop offset="0.654" stop-color="#e9f2fb"/><stop offset="0.658" stop-color="#f7fbff"/><stop offset="0.998" stop-color="#f7fbff"/></linearGradient><linearGradient id="gC27" x1="0" y1="0" x2="0" y2="1"><stop offset="0.00229" stop-color="#084387"/><stop offset="0.00688" stop-color="#084c95"/><stop offset="0.0115" stop-color="#0e59a2"/><stop offset="0.0206" stop-color="#2a7ab9"/><stop offset="0.0252" stop-color="#3d8dc3"/><stop offset="0.0298" stop-color="#58a1cf"/><stop offset="0.039" stop-color="#9bc8e0"/><stop offset="0.0482" stop-color="#ccdff1"/><stop offset="0.0573" stop-color="#e6f0fa"/><stop offset="0.0711" stop-color="#f3f9fe"/><stop offset="0.108" stop-color="#f7fbff"/><stop offset="0.167" stop-color="#f6faff"/><stop offset="0.273" stop-color="#b0d2e7"/><stop offset="0.397" stop-color="#6dafd6"/><stop offset="0.567" stop-color="#3989c1"/><stop offset="0.635" stop-color="#206fb4"/><stop offset="0.64" stop-color="#3585c0"/><stop offset="0.644" stop-color="#73b3d8"/><stop offset="0.649" stop-color="#c5dbef"/><stop offset="0.654" stop-color="#e9f2fb"/><stop offset="0.658" stop-color="#f7fbff"/><stop offset="0.998" stop-color="#f7fbff"/></linearGradient><linearGradient id="gC28" x1="0" y1="0" x2="0" y2="1"><stop offset="0.00229" stop-color="#084387"/><stop offset="0.00688" stop-color="#084c95"/><stop offset="0.0115" stop-color="#0e59a2"/><stop offset="0.0206" stop-color="#2a7ab9"/><stop offset="0.0252" stop-color="#3d8dc3"/><stop offset="0.0298" stop-color="#58a1cf"/><stop offset="0.039" stop-color="#9bc8e0"/><stop offset="0.0482" stop-color="#ccdff1"/><stop offset="0.0573" stop-color="#e6f0fa"/><stop offset="0.0711" stop-color="#f3f9fe"/><stop offset="0.108" stop-color="#f7fbff"/><stop offset="0.167" stop-color="#f6faff"/><stop offset="0.273" stop-color="#b0d2e7"/><stop offset="0.397" stop-color="#6dafd6"/><stop offset="0.571" stop-color="#3888c1"/><stop offset="0.635" stop-color="#206fb4"/><stop offset="0.64" stop-color="#3686c0"/><stop offset="0.644" stop-color="#74b3d8"/><stop offset="0.649" stop-color="#c5dbef"/><stop offset="0.654" stop-color="#e9f2fb"/><stop offset="0.658" stop-color="#f7fbff"/><stop offset="0.998" stop-color="#f7fbff"/></linearGradient><linearGradient id="gC29" x1="0" y1="0" x2="0" y2="1"><stop offset="0.00229" stop-color="#084387"/><stop offset="0.00688" stop-color="#084c95"/><stop offset="0.0115" stop-color="#0e59a2"/><stop offset="0.0206" stop-color="#2a7ab9"/><stop offset="0.0252" stop-color="#3d8dc3"/><stop offset="0.0298" stop-color="#58a1cf"/><stop offset="0.039" stop-color="#9bc8e0"/><stop offset="0.0482" stop-color="#ccdff1"/><stop offset="0.0573" stop-color="#e6f0fa"/><stop offset="0.0711" stop-color="#f3f9fe"/><stop offset="0.108" stop-color="#f7fbff"/><stop offset="0.167" stop-color="#f6faff"/><stop offset="0.273" stop-color="#b0d2e7"/><stop offset="0.397" stop-color="#6dafd6"/><stop offset="0.571" stop-color="#3888c1"/><stop offset="0.635" stop-color="#2070b4"/><stop offset="0.64" stop-color="#3686c0"/><stop offset="0.644" stop-color="#75b3d8"/><stop offset="0.649" stop-color="#c6dbef"/><stop offset="0.654" stop-color="#eaf2fb"/><stop offset="0.658" stop-color="#f7fbff"/><stop offset="0.998" stop-color="#f7fbff"/></linearGradient><linearGradient id="gC30" x1="0" y1="0" x2="0" y2="1"><stop offset="0.00229" stop-color="#084387"/><stop offset="0.00688" stop-color="#084c95"/><stop offset="0.0115" stop-color="#0e59a2"/><stop offset="0.0206" stop-color="#2a7ab9"/><stop offset="0.0252" stop-color="#3d8dc3"/><stop offset="0.0298" stop-color="#58a1cf"/><stop offset="0.039" stop-color="#9bc8e0"/><stop offset="0.0482" stop-color="#ccdff1"/><stop offset="0.0573" stop-color="#e6f0fa"/><stop offset="0.0711" stop-color="#f3f9fe"/><stop offset="0.108" stop-color="#f7fbff"/><stop offset="0.167" stop-color="#f6faff"/><stop offset="0.273" stop-color="#b0d2e7"/><stop offset="0.397" stop-color="#6dafd6"/><stop offset="0.571" stop-color="#3888c1"/><stop offset="0.635" stop-color="#2070b4"/><stop offset="0.64" stop-color="#3787c0"/><stop offset="0.644" stop-color="#76b4d8"/><stop offset="0.649" stop-color="#c6dbef"/><stop offset="0.654" stop-color="#eaf3fb"/><stop offset="0.658" stop-color="#f7fbff"/><stop offset="0.998" stop-color="#f7fbff"/></linearGradient><linearGradient id="gC31" x1="0" y1="0" x2="0" y2="1"><stop offset="0.00229" stop-color="#084387"/><stop offset="0.00688" stop-color="#084c95"/><stop offset="0.0115" stop-color="#0e59a2"/><stop offset="0.0206" stop-color="#2a7ab9"/><stop offset="0.0252" stop-color="#3d8dc3"/><stop offset="0.0298" stop-color="#58a1cf"/><stop offset="0.039" stop-color="#9bc8e0"/><stop offset="0.0482" stop-color="#ccdff1"/><stop offset="0.0573" stop-color="#e6f0fa"/><stop offset="0.0711" stop-color="#f3f9fe"/><stop offset="0.108" stop-color="#f7fbff"/><stop offset="0.167" stop-color="#f6faff"/><stop offset="0.273" stop-color="#b0d2e7"/><stop offset="0.397" stop-color="#6dafd6"/><stop offset="0.571" stop-color="#3989c1"/><stop offset="0.635" stop-color="#2070b4"/><stop offset="0.64" stop-color="#3787c1"/><stop offset="0.644" stop-color="#76b4d8"/><stop offset="0.649" stop-color="#c7dbef"/><stop offset="0.654" stop-color="#eaf3fb"/><stop offset="0.658" stop-color="#f7fbff"/><stop offset="0.998" stop-color="#f7fbff"/></linearGradient><linearGradient id="gC32" x1="0" y1="0" x2="0" y2="1"><stop offset="0.00229" stop-color="#084387"/><stop offset="0.00688" stop-color="#084c95"/><stop offset="0.0115" stop-color="#0e59a2"/><stop offset="0.0206" stop-color="#2a7ab9"/><stop offset="0.0252" stop-color="#3d8dc3"/><stop offset="0.0298" stop-color="#58a1cf"/><stop offset="0.039" stop-color="#9bc8e0"/><stop offset="0.0482" stop-color="#ccdff1"/><stop offset="0.0573" stop-color="#e6f0fa"/><stop offset="0.0711" stop-color="#f3f9fe"/><stop offset="0.108" stop-color="#f7fbff"/><stop offset="0.167" stop-color="#f6faff"/><stop offset="0.273" stop-color="#b0d2e7"/><stop offset="0.397" stop-color="#6dafd6"/><stop offset="0.571" stop-color="#3989c1"/><stop offset="0.635" stop-color="#2171b5"/><stop offset="0.64" stop-color="#3888c1"/><stop offset="0.644" stop-color="#77b5d9"/><stop offset="0.649" stop-color="#c7dcef"/><stop offset="0.654" stop-color="#eaf3fb"/><stop offset="0.658" stop-color="#f7fbff"/><stop offset="0.998" stop-color="#f7fbff"/></linearGradient><linearGradient id="gC33" x1="0" y1="0" x2="0" y2="1"><stop offset="0.00229" stop-color="#084387"/><stop offset="0.00688" stop-color="#084c95"/><stop offset="0.0115" stop-color="#0e59a2"/><stop offset="0.0206" stop-color="#2a7ab9"/><stop offset="0.0252" stop-color="#3d8dc3"/><stop offset="0.0298" stop-color="#58a1cf"/><stop offset="0.039" stop-color="#9bc8e0"/><stop offset="0.0482" stop-color="#ccdff1"/><stop offset="0.0573" stop-color="#e6f0fa"/><stop offset="0.0711" stop-color="#f3f9fe"/><stop offset="0.108" stop-color="#f7fbff"/><stop offset="0.167" stop-color="#f6faff"/><stop offset="0.273" stop-color="#b0d2e7"/><stop offset="0.397" stop-color="#6dafd6"/><stop offset="0.571" stop-color="#3989c1"/><stop offset="0.635" stop-color="#2171b5"/><stop offset="0.64" stop-color="#3888c1"/><stop offset="0.644" stop-color="#78b5d9"/><stop offset="0.649" stop-color="#c7dcef"/><stop offset="0.654" stop-color="#eaf3fb"/><stop offset="0.658" stop-color="#f7fbff"/><stop offset="0.998" stop-color="#f7fbff"/></linearGradient><linearGradient id="gC34" x1="0" y1="0" x2="0" y2="1"><stop offset="0.00229" stop-color="#084387"/><stop offset="0.00688" stop-color="#084c95"/><stop offset="0.0115" stop-color="#0e59a2"/><stop offset="0.0206" stop-color="#2a7ab9"/><stop offset="0.0252" stop-color="#3d8dc3"/><stop offset="0.0298" stop-color="#58a1cf"/><stop offset="0.039" stop-color="#9bc8e0"/><stop offset="0.0482" stop-color="#ccdff1"/><stop offset="0.0573" stop-color="#e6f0fa"/><stop offset="0.0711" stop-color="#f3f9fe"/><stop offset="0.108" stop-color="#f7fbff"/><stop offset="0.167" stop-color="#f6faff"/><stop offset="0.273" stop-color="#b0d2e7"/><stop offset="0.397" stop-color="#6dafd6"/><stop offset="0.571" stop-color="#3989c2"/><stop offset="0.635" stop-color="#2171b5"/><stop offset="0.64" stop-color="#3989c1"/><stop offset="0.644" stop-color="#79b6d9"/><stop offset="0.649" stop-color="#c8dcf0"/><stop offset="0.654" stop-color="#ebf3fb"/><stop offset="0.658" stop-color="#f7fbff"/><stop offset="0.998" stop-color="#f7fbff"/></linearGradient><linearGradient id="gC35" x1="0" y1="0" x2="0" y2="1"><stop offset="0.00229" stop-color="#084387"/><stop offset="0.00688" stop-color="#084c95"/><stop offset="0.0115" stop-color="#0e59a2"/><stop offset="0.0206" stop-color="#2a7ab9"/><stop offset="0.0252" stop-color="#3d8dc3"/><stop offset="0.0298" stop-color="#58a1cf"/><stop offset="0.039" stop-color="#9bc8e0"/><stop offset="0.0482" stop-color="#ccdff1"/><stop offset="0.0573" stop-color="#e6f0fa"/><stop offset="0.0711" stop-color="#f3f9fe"/><stop offset="0.108" stop-color="#f7fbff"/><stop offset="0.167" stop-color="#f6faff"/><stop offset="0.273" stop-color="#b0d2e7"/><stop offset="0.397" stop-color="#6dafd6"/><stop offset="0.576" stop-color="#3888c1"/><stop offset="0.635" stop-color="#2171b5"/><stop offset="0.64" stop-color="#3989c1"/><stop offset="0.644" stop-color="#7ab6d9"/><stop offset="0.649" stop-color="#c8dcf0"/><stop offset="0.654" stop-color="#ebf3fb"/><stop offset="0.658" stop-color="#f7fbff"/><stop offset="0.998" stop-color="#f7fbff"/></linearGradient><linearGradient id="gC36" x1="0" y1="0" x2="0" y2="1"><stop offset="0.00229" stop-color="#084387"/><stop offset="0.00688" stop-color="#084c95"/><stop offset="0.0115" stop-color="#0e59a2"/><stop offset="0.0206" stop-color="#2a7ab9"/><stop offset="0.0252" stop-color="#3d8dc3"/><stop offset="0.0298" stop-color="#58a1cf"/><stop offset="0.039" stop-color="#9bc8e0"/><stop offset="0.0482" stop-color="#ccdff1"/><stop offset="0.0573" stop-color="#e6f0fa"/><stop offset="0.0711" stop-color="#f3f9fe"/><stop offset="0.108" stop-color="#f7fbff"/><stop offset="0.167" stop-color="#f6faff"/><stop offset="0.273" stop-color="#b0d2e7"/><stop offset="0.397" stop-color="#6dafd6"/><stop offset="0.553" stop-color="#3f8fc5"/><stop offset="0.635" stop-color="#2272b5"/><stop offset="0.64" stop-color="#3a8ac2"/><stop offset="0.644" stop-color="#7ab6d9"/><stop offset="0.649" stop-color="#c8dcf0"/><stop offset="0.654" stop-color="#ebf3fb"/><stop offset="0.658" stop-color="#f7fbff"/><stop offset="0.998" stop-color="#f7fbff"/></linearGradient><linearGradient id="gC37" x1="0" y1="0" x2="0" y2="1"><stop offset="0.00229" stop-color="#084387"/><stop offset="0.00688" stop-color="#084c95"/><stop offset="0.0115" stop-color="#0e59a2"/><stop offset="0.0206" stop-color="#2a7ab9"/><stop offset="0.0252" stop-color="#3d8dc3"/><stop offset="0.0298" stop-color="#58a1cf"/><stop offset="0.039" stop-color="#9bc8e0"/><stop offset="0.0482" stop-color="#ccdff1"/><stop offset="0.0573" stop-color="#e6f0fa"/><stop offset="0.0711" stop-color="#f3f9fe"/><stop offset="0.108" stop-color="#f7fbff"/><stop offset="0.167" stop-color="#f6faff"/><stop offset="0.273" stop-color="#b0d2e7"/><stop offset="0.397" stop-color="#6dafd6"/><stop offset="0.548" stop-color="#4090c5"/><stop offset="0.635" stop-color="#2272b5"/><stop offset="0.64" stop-color="#3a8ac2"/><stop offset="0.644" stop-color="#7bb7d9"/><stop offset="0.649" stop-color="#c8ddf0"/><stop offset="0.654" stop-color="#ebf3fb"/><stop offset="0.658" stop-color="#f7fbff"/><stop offset="0.998" stop-color="#f7fbff"/></linearGradient><linearGradient id="gC38" x1="0" y1="0" x2="0" y2="1"><stop offset="0.00229" stop-color="#084387"/><stop offset="0.00688" stop-color="#084c95"/><stop offset="0.0115" stop-color="#0e59a2"/><stop offset="0.0206" stop-color="#2a7ab9"/><stop offset="0.0252" stop-color="#3d8dc3"/><stop offset="0.0298" stop-color="#58a1cf"/><stop offset="0.039" stop-color="#9bc8e0"/><stop offset="0.0482" stop-color="#ccdff1"/><stop offset="0.0573" stop-color="#e6f0fa"/><stop offset="0.0711" stop-color="#f3f9fe"/><stop offset="0.108" stop-color="#f7fbff"/><stop offset="0.167" stop-color="#f6faff"/><stop offset="0.273" stop-color="#b0d2e7"/><stop offset="0.397" stop-color="#6dafd6"/><stop offset="0.544" stop-color="#4292c6"/><stop offset="0.635" stop-color="#2272b6"/><stop offset="0.64" stop-color="#3b8bc2"/><stop offset="0.644" stop-color="#7cb7da"/><stop offset="0.649" stop-color="#c9ddf0"/><stop offset="0.654" stop-color="#ebf3fb"/><stop offset="0.658" stop-color="#f7fbff"/><stop offset="0.998" stop-color="#f7fbff"/></linearGradient><linearGradient id="gC39" x1="0" y1="0" x2="0" y2="1"><stop offset="0.00229" stop-color="#084387"/><stop offset="0.00688" stop-color="#084c95"/><stop offset="0.0115" stop-color="#0e59a2"/><stop offset="0.0206" stop-color="#2a7ab9"/><stop offset="0.0252" stop-color="#3d8dc3"/><stop offset="0.0298" stop-color="#58a1cf"/><stop offset="0.039" stop-color="#9bc8e0"/><stop offset="0.0482" stop-color="#ccdff1"/><stop offset="0.0573" stop-color="#e6f0fa"/><stop offset="0.0711" stop-color="#f3f9fe"/><stop offset="0.108" stop-color="#f7fbff"/><stop offset="0.167" stop-color="#f6faff"/><stop offset="0.273" stop-color="#b0d2e7"/><stop offset="0.397" stop-color="#6dafd6"/><stop offset="0.544" stop-color="#4292c6"/><stop offset="0.622" stop-color="#2676b8"/><stop offset="0.635" stop-color="#2272b6"/><stop offset="0.64" stop-color="#3b8bc2"/><stop offset="0.644" stop-color="#7db8da"/><stop offset="0.649" stop-color="#c9ddf0"/><stop offset="0.654" stop-color="#ebf4fb"/><stop offset="0.658" stop-color="#f7fbff"/><stop offset="0.998" stop-color="#f7fbff"/></linearGradient><linearGradient id="gC40" x1="0" y1="0" x2="0" y2="1"><stop offset="0.00229" stop-color="#084387"/><stop offset="0.00688" stop-color="#084c95"/><stop offset="0.0115" stop-color="#0e59a2"/><stop offset="0.0206" stop-color="#2a7ab9"/><stop offset="0.0252" stop-color="#3d8dc3"/><stop offset="0.0298" stop-color="#58a1cf"/><stop offset="0.039" stop-color="#9bc8e0"/><stop offset="0.0482" stop-color="#ccdff1"/><stop offset="0.0573" stop-color="#e6f0fa"/><stop offset="0.0711" stop-color="#f3f9fe"/><stop offset="0.108" stop-color="#f7fbff"/><stop offset="0.167" stop-color="#f6faff"/><stop offset="0.273" stop-color="#b0d2e7"/><stop offset="0.397" stop-color="#6dafd6"/><stop offset="0.539" stop-color="#4393c6"/><stop offset="0.603" stop-color="#2e7ebc"/><stop offset="0.635" stop-color="#2373b6"/><stop offset="0.64" stop-color="#3c8cc3"/><stop offset="0.644" stop-color="#7eb8da"/><stop offset="0.649" stop-color="#c9ddf0"/><stop offset="0.654" stop-color="#ecf4fb"/><stop offset="0.658" stop-color="#f7fbff"/><stop offset="0.998" stop-color="#f7fbff"/></linearGradient><linearGradient id="gC41" x1="0" y1="0" x2="0" y2="1"><stop offset="0.00229" stop-color="#084387"/><stop offset="0.00688" stop-color="#084c95"/><stop offset="0.0115" stop-color="#0e59a2"/><stop offset="0.0206" stop-color="#2a7ab9"/><stop offset="0.0252" stop-color="#3d8dc3"/><stop offset="0.0298" stop-color="#58a1cf"/><stop offset="0.039" stop-color="#9bc8e0"/><stop offset="0.0482" stop-color="#ccdff1"/><stop offset="0.0573" stop-color="#e6f0fa"/><stop offset="0.0711" stop-color="#f3f9fe"/><stop offset="0.108" stop-color="#f7fbff"/><stop offset="0.167" stop-color="#f6faff"/><stop offset="0.273" stop-color="#b0d2e7"/><stop offset="0.397" stop-color="#6dafd6"/><stop offset="0.534" stop-color="#4594c7"/><stop offset="0.589" stop-color="#3383be"/><stop offset="0.635" stop-color="#2373b6"/><stop offset="0.64" stop-color="#3c8cc3"/><stop offset="0.644" stop-color="#7eb9da"/><stop offset="0.649" stop-color="#caddf0"/><stop offset="0.654" stop-color="#ecf4fb"/><stop offset="0.658" stop-color="#f7fbff"/><stop offset="0.998" stop-color="#f7fbff"/></linearGradient><linearGradient id="gC42" x1="0" y1="0" x2="0" y2="1"><stop offset="0.00229" stop-color="#084387"/><stop offset="0.00688" stop-color="#084c95"/><stop offset="0.0115" stop-color="#0e59a2"/><stop offset="0.0206" stop-color="#2a7ab9"/><stop offset="0.0252" stop-color="#3d8dc3"/><stop offset="0.0298" stop-color="#58a1cf"/><stop offset="0.039" stop-color="#9bc8e0"/><stop offset="0.0482" stop-color="#ccdff1"/><stop offset="0.0573" stop-color="#e6f0fa"/><stop offset="0.0711" stop-color="#f3f9fe"/><stop offset="0.108" stop-color="#f7fbff"/><stop offset="0.167" stop-color="#f6faff"/><stop offset="0.273" stop-color="#b0d2e7"/><stop offset="0.397" stop-color="#6dafd6"/><stop offset="0.53" stop-color="#4695c7"/><stop offset="0.589" stop-color="#3484bf"/><stop offset="0.635" stop-color="#2373b6"/><stop offset="0.64" stop-color="#3d8dc3"/><stop offset="0.644" stop-color="#7fb9da"/><stop offset="0.649" stop-color="#cadef0"/><stop offset="0.654" stop-color="#ecf4fb"/><stop offset="0.658" stop-color="#f7fbff"/><stop offset="0.998" stop-color="#f7fbff"/></linearGradient><linearGradient id="gC43" x1="0" y1="0" x2="0" y2="1"><stop offset="0.00229" stop-color="#084387"/><stop offset="0.00688" stop-color="#084c95"/><stop offset="0.0115" stop-color="#0e59a2"/><stop offset="0.0206" stop-color="#2a7ab9"/><stop offset="0.0252" stop-color="#3d8dc3"/><stop offset="0.0298" stop-color="#58a1cf"/><stop offset="0.039" stop-color="#9bc8e0"/><stop offset="0.0482" stop-color="#ccdff1"/><stop offset="0.0573" stop-color="#e6f0fa"/><stop offset="0.0711" stop-color="#f3f9fe"/><stop offset="0.108" stop-color="#f7fbff"/><stop offset="0.167" stop-color="#f6faff"/><stop offset="0.273" stop-color="#b0d2e7"/><stop offset="0.397" stop-color="#6dafd6"/><stop offset="0.53" stop-color="#4695c8"/><stop offset="0.585" stop-color="#3686c0"/><stop offset="0.635" stop-color="#2474b6"/><stop offset="0.64" stop-color="#3d8dc3"/><stop offset="0.644" stop-color="#80b9da"/><stop offset="0.649" stop-color="#cadef0"/><stop offset="0.654" stop-color="#ecf4fb"/><stop offset="0.658" stop-color="#f7fbff"/><stop offset="0.998" stop-color="#f7fbff"/></linearGradient><linearGradient id="gC44" x1="0" y1="0" x2="0" y2="1"><stop offset="0.00229" stop-color="#084387"/><stop offset="0.00688" stop-color="#084c95"/><stop offset="0.0115" stop-color="#0e59a2"/><stop offset="0.0206" stop-color="#2a7ab9"/><stop offset="0.0252" stop-color="#3d8dc3"/><stop offset="0.0298" stop-color="#58a1cf"/><stop offset="0.039" stop-color="#9bc8e0"/><stop offset="0.0482" stop-color="#ccdff1"/><stop offset="0.0573" stop-color="#e6f0fa"/><stop offset="0.0711" stop-color="#f3f9fe"/><stop offset="0.108" stop-color="#f7fbff"/><stop offset="0.167" stop-color="#f6faff"/><stop offset="0.273" stop-color="#b0d2e7"/><stop offset="0.397" stop-color="#6dafd6"/><stop offset="0.525" stop-color="#4795c8"/><stop offset="0.585" stop-color="#3686c0"/><stop offset="0.635" stop-color="#2474b7"/><stop offset="0.64" stop-color="#3d8dc4"/><stop offset="0.644" stop-color="#80badb"/><stop offset="0.649" stop-color="#cadef0"/><stop offset="0.654" stop-color="#ecf4fc"/><stop offset="0.658" stop-color="#f7fbff"/><stop offset="0.998" stop-color="#f7fbff"/></linearGradient><linearGradient id="gC45" x1="0" y1="0" x2="0" y2="1"><stop offset="0.00229" stop-color="#084387"/><stop offset="0.00688" stop-color="#084c95"/><stop offset="0.0115" stop-color="#0e59a2"/><stop offset="0.0206" stop-color="#2a7ab9"/><stop offset="0.0252" stop-color="#3d8dc3"/><stop offset="0.0298" stop-color="#58a1cf"/><stop offset="0.039" stop-color="#9bc8e0"/><stop offset="0.0482" stop-color="#ccdff1"/><stop offset="0.0573" stop-color="#e6f0fa"/><stop offset="0.0711" stop-color="#f3f9fe"/><stop offset="0.108" stop-color="#f7fbff"/><stop offset="0.167" stop-color="#f6faff"/><stop offset="0.273" stop-color="#b0d2e7"/><stop offset="0.397" stop-color="#6dafd6"/><stop offset="0.525" stop-color="#4796c8"/><stop offset="0.585" stop-color="#3686c0"/><stop offset="0.635" stop-color="#2474b7"/><stop offset="0.64" stop-color="#3e8ec4"/><stop offset="0.644" stop-color="#81badb"/><stop offset="0.649" stop-color="#cbdef1"/><stop offset="0.654" stop-color="#ecf4fc"/><stop offset="0.658" stop-color="#f7fbff"/><stop offset="0.998" stop-color="#f7fbff"/></linearGradient><linearGradient id="gC46" x1="0" y1="0" x2="0" y2="1"><stop offset="0.00229" stop-color="#084387"/><stop offset="0.00688" stop-color="#084c95"/><stop offset="0.0115" stop-color="#0e59a2"/><stop offset="0.0206" stop-color="#2a7ab9"/><stop offset="0.0252" stop-color="#3d8dc3"/><stop offset="0.0298" stop-color="#58a1cf"/><stop offset="0.039" stop-color="#9bc8e0"/><stop offset="0.0482" stop-color="#ccdff1"/><stop offset="0.0573" stop-color="#e6f0fa"/><stop offset="0.0711" stop-color="#f3f9fe"/><stop offset="0.108" stop-color="#f7fbff"/><stop offset="0.167" stop-color="#f6faff"/><stop offset="0.273" stop-color="#b0d2e7"/><stop offset="0.397" stop-color="#6dafd6"/><stop offset="0.525" stop-color="#4796c8"/><stop offset="0.585" stop-color="#3787c0"/><stop offset="0.635" stop-color="#2575b7"/><stop offset="0.64" stop-color="#3e8ec4"/><stop offset="0.644" stop-color="#82bbdb"/><stop offset="0.649" stop-color="#cbdef1"/><stop offset="0.654" stop-color="#ecf4fc"/><stop offset="0.658" stop-color="#f7fbff"/><stop offset="0.998" stop-color="#f7fbff"/></linearGradient><linearGradient id="gC47" x1="0" y1="0" x2="0" y2="1"><stop offset="0.00229" stop-color="#084387"/><stop offset="0.00688" stop-color="#084c95"/><stop offset="0.0115" stop-color="#0e59a2"/><stop offset="0.0206" stop-color="#2a7ab9"/><stop offset="0.0252" stop-color="#3d8dc3"/><stop offset="0.0298" stop-color="#58a1cf"/><stop offset="0.039" stop-color="#9bc8e0"/><stop offset="0.0482" stop-color="#ccdff1"/><stop offset="0.0573" stop-color="#e6f0fa"/><stop offset="0.0711" stop-color="#f3f9fe"/><stop offset="0.108" stop-color="#f7fbff"/><stop offset="0.167" stop-color="#f6faff"/><stop offset="0.273" stop-color="#b0d2e7"/><stop offset="0.397" stop-color="#6dafd6"/><stop offset="0.521" stop-color="#4896c8"/><stop offset="0.58" stop-color="#3989c1"/><stop offset="0.635" stop-color="#2575b7"/><stop offset="0.64" stop-color="#3f8fc4"/><stop offset="0.644" stop-color="#82bbdb"/><stop offset="0.649" stop-color="#cbdef1"/><stop offset="0.654" stop-color="#edf4fc"/><stop offset="0.658" stop-color="#f7fbff"/><stop offset="0.998" stop-color="#f7fbff"/></linearGradient><linearGradient id="gC48" x1="0" y1="0" x2="0" y2="1"><stop offset="0.00229" stop-color="#084387"/><stop offset="0.00688" stop-color="#084c95"/><stop offset="0.0115" stop-color="#0e59a2"/><stop offset="0.0206" stop-color="#2a7ab9"/><stop offset="0.0252" stop-color="#3d8dc3"/><stop offset="0.0298" stop-color="#58a1cf"/><stop offset="0.039" stop-color="#9bc8e0"/><stop offset="0.0482" stop-color="#ccdff1"/><stop offset="0.0573" stop-color="#e6f0fa"/><stop offset="0.0711" stop-color="#f3f9fe"/><stop offset="0.108" stop-color="#f7fbff"/><stop offset="0.167" stop-color="#f6faff"/><stop offset="0.273" stop-color="#b0d2e7"/><stop offset="0.397" stop-color="#6dafd6"/><stop offset="0.521" stop-color="#4896c8"/><stop offset="0.58" stop-color="#3989c1"/><stop offset="0.635" stop-color="#2575b7"/><stop offset="0.64" stop-color="#3f8fc4"/><stop offset="0.644" stop-color="#83bbdb"/><stop offset="0.649" stop-color="#cbdff1"/><stop offset="0.654" stop-color="#edf4fc"/><stop offset="0.658" stop-color="#f7fbff"/><stop offset="0.998" stop-color="#f7fbff"/></linearGradient><linearGradient id="gC49" x1="0" y1="0" x2="0" y2="1"><stop offset="0.00229" stop-color="#084387"/><stop offset="0.00688" stop-color="#084c95"/><stop offset="0.0115" stop-color="#0e59a2"/><stop offset="0.0206" stop-color="#2a7ab9"/><stop offset="0.0252" stop-color="#3d8dc3"/><stop offset="0.0298" stop-color="#58a1cf"/><stop offset="0.039" stop-color="#9bc8e0"/><stop offset="0.0482" stop-color="#ccdff1"/><stop offset="0.0573" stop-color="#e6f0fa"/><stop offset="0.0711" stop-color="#f3f9fe"/><stop offset="0.108" stop-color="#f7fbff"/><stop offset="0.167" stop-color="#f6faff"/><stop offset="0.273" stop-color="#b0d2e7"/><stop offset="0.397" stop-color="#6dafd6"/><stop offset="0.521" stop-color="#4896c9"/><stop offset="0.58" stop-color="#3989c2"/><stop offset="0.635" stop-color="#2575b7"/><stop offset="0.64" stop-color="#3f8fc5"/><stop offset="0.644" stop-color="#84bbdb"/><stop offset="0.649" stop-color="#ccdff1"/><stop offset="0.654" stop-color="#edf4fc"/><stop offset="0.658" stop-color="#f7fbff"/><stop offset="0.998" stop-color="#f7fbff"/></linearGradient><linearGradient id="gC50" x1="0" y1="0" x2="0" y2="1"><stop offset="0.00229" stop-color="#084387"/><stop offset="0.00688" stop-color="#084c95"/><stop offset="0.0115" stop-color="#0e59a2"/><stop offset="0.0206" stop-color="#2a7ab9"/><stop offset="0.0252" stop-color="#3d8dc3"/><stop offset="0.0298" stop-color="#58a1cf"/><stop offset="0.039" stop-color="#9bc8e0"/><stop offset="0.0482" stop-color="#ccdff1"/><stop offset="0.0573" stop-color="#e6f0fa"/><stop offset="0.0711" stop-color="#f3f9fe"/><stop offset="0.108" stop-color="#f7fbff"/><stop offset="0.167" stop-color="#f6faff"/><stop offset="0.273" stop-color="#b0d2e7"/><stop offset="0.397" stop-color="#6dafd6"/><stop offset="0.521" stop-color="#4996c9"/><stop offset="0.58" stop-color="#3a8ac2"/><stop offset="0.635" stop-color="#2676b7"/><stop offset="0.64" stop-color="#4090c5"/><stop offset="0.644" stop-color="#84bcdb"/><stop offset="0.649" stop-color="#ccdff1"/><stop offset="0.654" stop-color="#edf5fc"/><stop offset="0.658" stop-color="#f7fbff"/><stop offset="0.998" stop-color="#f7fbff"/></linearGradient><linearGradient id="gC51" x1="0" y1="0" x2="0" y2="1"><stop offset="0.00229" stop-color="#084387"/><stop offset="0.00688" stop-color="#084c95"/><stop offset="0.0115" stop-color="#0e59a2"/><stop offset="0.0206" stop-color="#2a7ab9"/><stop offset="0.0252" stop-color="#3d8dc3"/><stop offset="0.0298" stop-color="#58a1cf"/><stop offset="0.039" stop-color="#9bc8e0"/><stop offset="0.0482" stop-color="#ccdff1"/><stop offset="0.0573" stop-color="#e6f0fa"/><stop offset="0.0711" stop-color="#f3f9fe"/><stop offset="0.108" stop-color="#f7fbff"/><stop offset="0.167" stop-color="#f6faff"/><stop offset="0.273" stop-color="#b0d2e7"/><stop offset="0.397" stop-color="#6dafd6"/><stop offset="0.516" stop-color="#4a97c9"/><stop offset="0.58" stop-color="#3a8ac2"/><stop offset="0.635" stop-color="#2676b8"/><stop offset="0.64" stop-color="#4090c5"/><stop offset="0.644" stop-color="#85bcdc"/><stop offset="0.649" stop-color="#ccdff1"/><stop offset="0.654" stop-color="#edf5fc"/><stop offset="0.658" stop-color="#f7fbff"/><stop offset="0.998" stop-color="#f7fbff"/></linearGradient><linearGradient id="gC52" x1="0" y1="0" x2="0" y2="1"><stop offset="0.00229" stop-color="#084387"/><stop offset="0.00688" stop-color="#084c95"/><stop offset="0.0115" stop-color="#0e59a2"/><stop offset="0.0206" stop-color="#2a7ab9"/><stop offset="0.0252" stop-color="#3d8dc3"/><stop offset="0.0298" stop-color="#58a1cf"/><stop offset="0.039" stop-color="#9bc8e0"/><stop offset="0.0482" stop-color="#ccdff1"/><stop offset="0.0573" stop-color="#e6f0fa"/><stop offset="0.0711" stop-color="#f3f9fe"/><stop offset="0.108" stop-color="#f7fbff"/><stop offset="0.167" stop-color="#f6faff"/><stop offset="0.273" stop-color="#b0d2e7"/><stop offset="0.397" stop-color="#6dafd6"/><stop offset="0.516" stop-color="#4a97c9"/><stop offset="0.58" stop-color="#3a8ac2"/><stop offset="0.635" stop-color="#2676b8"/><stop offset="0.64" stop-color="#4090c5"/><stop offset="0.644" stop-color="#85bcdc"/><stop offset="0.649" stop-color="#ccdff1"/><stop offset="0.654" stop-color="#edf5fc"/><stop offset="0.658" stop-color="#f7fbff"/><stop offset="0.998" stop-color="#f7fbff"/></linearGradient><linearGradient id="gC53" x1="0" y1="0" x2="0" y2="1"><stop offset="0.00229" stop-color="#084387"/><stop offset="0.00688" stop-color="#084c95"/><stop offset="0.0115" stop-color="#0e59a2"/><stop offset="0.0206" stop-color="#2a7ab9"/><stop offset="0.0252" stop-color="#3d8dc3"/><stop offset="0.0298" stop-color="#58a1cf"/><stop offset="0.039" stop-color="#9bc8e0"/><stop offset="0.0482" stop-color="#ccdff1"/><stop offset="0.0573" stop-color="#e6f0fa"/><stop offset="0.0711" stop-color="#f3f9fe"/><stop offset="0.108" stop-color="#f7fbff"/><stop offset="0.167" stop-color="#f6faff"/><stop offset="0.273" stop-color="#b0d2e7"/><stop offset="0.397" stop-color="#6dafd6"/><stop offset="0.516" stop-color="#4a97c9"/><stop offset="0.58" stop-color="#3a8ac2"/><stop offset="0.635" stop-color="#2676b8"/><stop offset="0.64" stop-color="#4191c5"/><stop offset="0.644" stop-color="#86bddc"/><stop offset="0.649" stop-color="#ccdff1"/><stop offset="0.654" stop-color="#edf5fc"/><stop offset="0.658" stop-color="#f7fbff"/><stop offset="0.998" stop-color="#f7fbff"/></linearGradient><linearGradient id="gC54" x1="0" y1="0" x2="0" y2="1"><stop offset="0.00229" stop-color="#084387"/><stop offset="0.00688" stop-color="#084c95"/><stop offset="0.0115" stop-color="#0e59a2"/><stop offset="0.0206" stop-color="#2a7ab9"/><stop offset="0.0252" stop-color="#3d8dc3"/><stop offset="0.0298" stop-color="#58a1cf"/><stop offset="0.039" stop-color="#9bc8e0"/><stop offset="0.0482" stop-color="#ccdff1"/><stop offset="0.0573" stop-color="#e6f0fa"/><stop offset="0.0711" stop-color="#f3f9fe"/><stop offset="0.108" stop-color="#f7fbff"/><stop offset="0.167" stop-color="#f6faff"/><stop offset="0.278" stop-color="#add0e6"/><stop offset="0.401" stop-color="#6baed6"/><stop offset="0.53" stop-color="#4796c8"/><stop offset="0.58" stop-color="#3b8bc2"/><stop offset="0.635" stop-color="#2777b8"/><stop offset="0.64" stop-color="#4191c6"/><stop offset="0.644" stop-color="#86bddc"/><stop offset="0.649" stop-color="#ccdff1"/><stop offset="0.654" stop-color="#edf5fc"/><stop offset="0.658" stop-color="#f7fbff"/><stop offset="0.998" stop-color="#f7fbff"/></linearGradient><linearGradient id="gC55" x1="0" y1="0" x2="0" y2="1"><stop offset="0.00229" stop-color="#084387"/><stop offset="0.00688" stop-color="#084c95"/><stop offset="0.0115" stop-color="#0e59a2"/><stop offset="0.0206" stop-color="#2a7ab9"/><stop offset="0.0252" stop-color="#3d8dc3"/><stop offset="0.0298" stop-color="#58a1cf"/><stop offset="0.039" stop-color="#9bc8e0"/><stop offset="0.0482" stop-color="#ccdff1"/><stop offset="0.0573" stop-color="#e6f0fa"/><stop offset="0.0711" stop-color="#f3f9fe"/><stop offset="0.108" stop-color="#f7fbff"/><stop offset="0.167" stop-color="#f6faff"/><stop offset="0.264" stop-color="#b9d5ea"/><stop offset="0.351" stop-color="#84bcdb"/><stop offset="0.424" stop-color="#63a8d3"/><stop offset="0.544" stop-color="#4594c7"/><stop offset="0.589" stop-color="#3787c0"/><stop offset="0.635" stop-color="#2777b8"/><stop offset="0.64" stop-color="#4191c6"/><stop offset="0.644" stop-color="#87bddc"/><stop offset="0.649" stop-color="#cddff1"/><stop offset="0.654" stop-color="#edf5fc"/><stop offset="0.658" stop-color="#f7fbff"/><stop offset="0.998" stop-color="#f7fbff"/></linearGradient><linearGradient id="gC56" x1="0" y1="0" x2="0" y2="1"><stop offset="0.00229" stop-color="#084387"/><stop offset="0.00688" stop-color="#084c95"/><stop offset="0.0115" stop-color="#0e59a2"/><stop offset="0.0206" stop-color="#2a7ab9"/><stop offset="0.0252" stop-color="#3d8dc3"/><stop offset="0.0298" stop-color="#58a1cf"/><stop offset="0.039" stop-color="#9bc8e0"/><stop offset="0.0482" stop-color="#ccdff1"/><stop offset="0.0573" stop-color="#e6f0fa"/><stop offset="0.0711" stop-color="#f3f9fe"/><stop offset="0.108" stop-color="#f7fbff"/><stop offset="0.167" stop-color="#f6faff"/><stop offset="0.273" stop-color="#b6d4e9"/><stop offset="0.36" stop-color="#7fb9da"/><stop offset="0.429" stop-color="#61a7d2"/><stop offset="0.544" stop-color="#4594c7"/><stop offset="0.589" stop-color="#3787c0"/><stop offset="0.635" stop-color="#2777b8"/><stop offset="0.64" stop-color="#4292c6"/><stop offset="0.644" stop-color="#87bddc"/><stop offset="0.649" stop-color="#cde0f1"/><stop offset="0.654" stop-color="#edf5fc"/><stop offset="0.658" stop-color="#f7fbff"/><stop offset="0.998" stop-color="#f7fbff"/></linearGradient><linearGradient id="gC57" x1="0" y1="0" x2="0" y2="1"><stop offset="0.00229" stop-color="#084286"/><stop offset="0.00688" stop-color="#084c95"/><stop offset="0.0115" stop-color="#0e59a2"/><stop offset="0.0206" stop-color="#2a7ab9"/><stop offset="0.0252" stop-color="#3d8dc3"/><stop offset="0.0298" stop-color="#58a1cf"/><stop offset="0.039" stop-color="#9bc8e0"/><stop offset="0.0482" stop-color="#ccdff1"/><stop offset="0.0573" stop-color="#e6f0fa"/><stop offset="0.0711" stop-color="#f3f9fe"/><stop offset="0.108" stop-color="#f7fbff"/><stop offset="0.167" stop-color="#f6faff"/><stop offset="0.25" stop-color="#c8dcf0"/><stop offset="0.346" stop-color="#8abfdd"/><stop offset="0.406" stop-color="#69add5"/><stop offset="0.53" stop-color="#4896c8"/><stop offset="0.58" stop-color="#3b8bc3"/><stop offset="0.635" stop-color="#2878b8"/><stop offset="0.64" stop-color="#4292c6"/><stop offset="0.644" stop-color="#88bedc"/><stop offset="0.649" stop-color="#cde0f1"/><stop offset="0.654" stop-color="#edf5fc"/><stop offset="0.658" stop-color="#f7fbff"/><stop offset="0.998" stop-color="#f7fbff"/></linearGradient><linearGradient id="gC58" x1="0" y1="0" x2="0" y2="1"><stop offset="0.00229" stop-color="#083978"/><stop offset="0.00688" stop-color="#084083"/><stop offset="0.0115" stop-color="#094c94"/><stop offset="0.0161" stop-color="#115ca5"/><stop offset="0.0206" stop-color="#206fb3"/><stop offset="0.0252" stop-color="#3585bf"/><stop offset="0.0298" stop-color="#539ecd"/><stop offset="0.039" stop-color="#9ac8e0"/><stop offset="0.0482" stop-color="#ccdff1"/><stop offset="0.0573" stop-color="#e6f0fa"/><stop offset="0.0711" stop-color="#f3f9fe"/><stop offset="0.108" stop-color="#f7fbff"/><stop offset="0.167" stop-color="#f6faff"/><stop offset="0.245" stop-color="#caddf0"/><stop offset="0.342" stop-color="#96c6df"/><stop offset="0.406" stop-color="#6aadd5"/><stop offset="0.521" stop-color="#4997c9"/><stop offset="0.58" stop-color="#3c8cc3"/><stop offset="0.635" stop-color="#2878b9"/><stop offset="0.64" stop-color="#4393c6"/><stop offset="0.644" stop-color="#88bedc"/><stop offset="0.649" stop-color="#cde0f1"/><stop offset="0.654" stop-color="#eef5fc"/><stop offset="0.658" stop-color="#f7fbff"/><stop offset="0.998" stop-color="#f7fbff"/></linearGradient><linearGradient id="gC59" x1="0" y1="0" x2="0" y2="1"><stop offset="0.00229" stop-color="#08316d"/><stop offset="0.0115" stop-color="#083674"/><stop offset="0.0161" stop-color="#083c7d"/><stop offset="0.0206" stop-color="#08468c"/><stop offset="0.0252" stop-color="#0e549b"/><stop offset="0.0298" stop-color="#1a67ac"/><stop offset="0.0344" stop-color="#3482bd"/><stop offset="0.039" stop-color="#59a0cd"/><stop offset="0.0482" stop-color="#afd1e8"/><stop offset="0.0528" stop-color="#cfe1f2"/><stop offset="0.0573" stop-color="#e1edf8"/><stop offset="0.0619" stop-color="#ebf4fb"/><stop offset="0.0803" stop-color="#f7fbff"/><stop offset="0.167" stop-color="#f6faff"/><stop offset="0.245" stop-color="#caddf0"/><stop offset="0.356" stop-color="#97c6df"/><stop offset="0.424" stop-color="#65aad4"/><stop offset="0.507" stop-color="#4c99ca"/><stop offset="0.576" stop-color="#3e8ec4"/><stop offset="0.635" stop-color="#2878b9"/><stop offset="0.64" stop-color="#4393c7"/><stop offset="0.644" stop-color="#89bedc"/><stop offset="0.649" stop-color="#cde0f1"/><stop offset="0.654" stop-color="#eef5fc"/><stop offset="0.658" stop-color="#f7fbff"/><stop offset="0.998" stop-color="#f7fbff"/></linearGradient><linearGradient id="gC60" x1="0" y1="0" x2="0" y2="1"><stop offset="0.00229" stop-color="#08306b"/><stop offset="0.0206" stop-color="#08316d"/><stop offset="0.0298" stop-color="#083a7a"/><stop offset="0.039" stop-color="#0c5097"/><stop offset="0.0436" stop-color="#1562a9"/><stop offset="0.0482" stop-color="#2b79b7"/><stop offset="0.0528" stop-color="#4992c6"/><stop offset="0.0573" stop-color="#70aed3"/><stop offset="0.0619" stop-color="#98c4e2"/><stop offset="0.0665" stop-color="#b7d6ea"/><stop offset="0.0711" stop-color="#d0e3f2"/><stop offset="0.0757" stop-color="#e1edf8"/><stop offset="0.0849" stop-color="#f1f7fd"/><stop offset="0.103" stop-color="#f7fbff"/><stop offset="0.167" stop-color="#f6faff"/><stop offset="0.245" stop-color="#caddf0"/><stop offset="0.333" stop-color="#a7cee4"/><stop offset="0.374" stop-color="#95c5df"/><stop offset="0.452" stop-color="#5fa6d1"/><stop offset="0.511" stop-color="#4b98c9"/><stop offset="0.576" stop-color="#3e8ec4"/><stop offset="0.635" stop-color="#2878b9"/><stop offset="0.64" stop-color="#4493c7"/><stop offset="0.644" stop-color="#8abfdd"/><stop offset="0.649" stop-color="#cee0f2"/><stop offset="0.654" stop-color="#eef5fc"/><stop offset="0.658" stop-color="#f7fbff"/><stop offset="0.998" stop-color="#f7fbff"/></linearGradient><linearGradient id="gC61" x1="0" y1="0" x2="0" y2="1"><stop offset="0.00229" stop-color="#08306b"/><stop offset="0.039" stop-color="#08306c"/><stop offset="0.0482" stop-color="#083a7a"/><stop offset="0.0573" stop-color="#0f5399"/><stop offset="0.0619" stop-color="#1663aa"/><stop offset="0.0665" stop-color="#2674b5"/><stop offset="0.0711" stop-color="#3b88c1"/><stop offset="0.0849" stop-color="#94c2e1"/><stop offset="0.0894" stop-color="#b1d3e9"/><stop offset="0.0986" stop-color="#d9e7f5"/><stop offset="0.108" stop-color="#ebf3fb"/><stop offset="0.122" stop-color="#f5fafe"/><stop offset="0.167" stop-color="#f6faff"/><stop offset="0.245" stop-color="#caddf0"/><stop offset="0.333" stop-color="#a7cee4"/><stop offset="0.388" stop-color="#95c5df"/><stop offset="0.493" stop-color="#539dcd"/><stop offset="0.539" stop-color="#4795c8"/><stop offset="0.585" stop-color="#3a8ac2"/><stop offset="0.635" stop-color="#2979b9"/><stop offset="0.64" stop-color="#4594c7"/><stop offset="0.644" stop-color="#8bbfdd"/><stop offset="0.649" stop-color="#cee0f2"/><stop offset="0.654" stop-color="#eef5fc"/><stop offset="0.658" stop-color="#f7fbff"/><stop offset="0.998" stop-color="#f7fbff"/></linearGradient><linearGradient id="gC62" x1="0" y1="0" x2="0" y2="1"><stop offset="0.00229" stop-color="#08306b"/><stop offset="0.0573" stop-color="#08306b"/><stop offset="0.0619" stop-color="#08326e"/><stop offset="0.0711" stop-color="#084184"/><stop offset="0.0803" stop-color="#125ba2"/><stop offset="0.0894" stop-color="#2978b7"/><stop offset="0.094" stop-color="#3c89c2"/><stop offset="0.108" stop-color="#8bbede"/><stop offset="0.112" stop-color="#a7cde6"/><stop offset="0.122" stop-color="#cde1f1"/><stop offset="0.131" stop-color="#e4eff9"/><stop offset="0.144" stop-color="#f3f8fe"/><stop offset="0.167" stop-color="#f6faff"/><stop offset="0.245" stop-color="#caddf0"/><stop offset="0.333" stop-color="#a7cee4"/><stop offset="0.424" stop-color="#8abfdd"/><stop offset="0.525" stop-color="#4d9aca"/><stop offset="0.589" stop-color="#3989c1"/><stop offset="0.635" stop-color="#2979b9"/><stop offset="0.64" stop-color="#4594c7"/><stop offset="0.644" stop-color="#8bc0dd"/><stop offset="0.649" stop-color="#cee1f2"/><stop offset="0.654" stop-color="#eef5fc"/><stop offset="0.658" stop-color="#f7fbff"/><stop offset="0.998" stop-color="#f7fbff"/></linearGradient><linearGradient id="gC63" x1="0" y1="0" x2="0" y2="1"><stop offset="0.00229" stop-color="#08306b"/><stop offset="0.0803" stop-color="#08316d"/><stop offset="0.0894" stop-color="#083d7f"/><stop offset="0.103" stop-color="#1561a9"/><stop offset="0.112" stop-color="#2c7bba"/><stop offset="0.122" stop-color="#539bcb"/><stop offset="0.131" stop-color="#86bcdc"/><stop offset="0.14" stop-color="#b5d4e9"/><stop offset="0.149" stop-color="#d3e4f3"/><stop offset="0.163" stop-color="#ebf3fb"/><stop offset="0.177" stop-color="#eef6fc"/><stop offset="0.25" stop-color="#c8dcf0"/><stop offset="0.328" stop-color="#a8cee5"/><stop offset="0.461" stop-color="#82bbdb"/><stop offset="0.571" stop-color="#4292c6"/><stop offset="0.631" stop-color="#2979b9"/><stop offset="0.635" stop-color="#2979b9"/><stop offset="0.64" stop-color="#4695c8"/><stop offset="0.644" stop-color="#8cc0dd"/><stop offset="0.649" stop-color="#cfe1f2"/><stop offset="0.654" stop-color="#eef6fc"/><stop offset="0.658" stop-color="#f7fbff"/><stop offset="0.998" stop-color="#f7fbff"/></linearGradient><linearGradient id="gC64" x1="0" y1="0" x2="0" y2="1"><stop offset="0.00229" stop-color="#08306b"/><stop offset="0.0986" stop-color="#08316c"/><stop offset="0.108" stop-color="#083b7c"/><stop offset="0.117" stop-color="#0d5298"/><stop offset="0.122" stop-color="#125da6"/><stop offset="0.135" stop-color="#3080bd"/><stop offset="0.144" stop-color="#559dcc"/><stop offset="0.158" stop-color="#9bc7e2"/><stop offset="0.163" stop-color="#b0d2e8"/><stop offset="0.177" stop-color="#d2e3f3"/><stop offset="0.19" stop-color="#ddeaf7"/><stop offset="0.213" stop-color="#d9e7f5"/><stop offset="0.31" stop-color="#aed1e7"/><stop offset="0.461" stop-color="#86bddc"/><stop offset="0.502" stop-color="#77b5d9"/><stop offset="0.571" stop-color="#4f9bcb"/><stop offset="0.608" stop-color="#3484bf"/><stop offset="0.635" stop-color="#2a7aba"/><stop offset="0.64" stop-color="#4795c8"/><stop offset="0.644" stop-color="#8ec1dd"/><stop offset="0.649" stop-color="#cfe1f2"/><stop offset="0.654" stop-color="#eff6fc"/><stop offset="0.658" stop-color="#f7fbff"/><stop offset="0.998" stop-color="#f7fbff"/></linearGradient><linearGradient id="gC65" x1="0" y1="0" x2="0" y2="1"><stop offset="0.00229" stop-color="#08306b"/><stop offset="0.117" stop-color="#08316c"/><stop offset="0.126" stop-color="#083b7c"/><stop offset="0.135" stop-color="#0c5097"/><stop offset="0.144" stop-color="#1765ab"/><stop offset="0.158" stop-color="#3585bf"/><stop offset="0.177" stop-color="#80b9da"/><stop offset="0.19" stop-color="#abcfe6"/><stop offset="0.204" stop-color="#c5dcef"/><stop offset="0.218" stop-color="#cfe1f2"/><stop offset="0.264" stop-color="#c2d9ed"/><stop offset="0.337" stop-color="#a6cde4"/><stop offset="0.466" stop-color="#86bddc"/><stop offset="0.539" stop-color="#74b3d8"/><stop offset="0.58" stop-color="#58a1cf"/><stop offset="0.626" stop-color="#3080bd"/><stop offset="0.635" stop-color="#2d7dbb"/><stop offset="0.64" stop-color="#4a98c9"/><stop offset="0.644" stop-color="#91c3de"/><stop offset="0.649" stop-color="#d0e2f2"/><stop offset="0.654" stop-color="#eff6fc"/><stop offset="0.658" stop-color="#f7fbff"/><stop offset="0.998" stop-color="#f7fbff"/></linearGradient><linearGradient id="gC66" x1="0" y1="0" x2="0" y2="1"><stop offset="0.00229" stop-color="#08306b"/><stop offset="0.135" stop-color="#08316d"/><stop offset="0.144" stop-color="#083c7d"/><stop offset="0.158" stop-color="#0f5aa3"/><stop offset="0.177" stop-color="#2d7dbb"/><stop offset="0.19" stop-color="#549ecd"/><stop offset="0.209" stop-color="#8ec1de"/><stop offset="0.227" stop-color="#b3d3e8"/><stop offset="0.241" stop-color="#c0d8ed"/><stop offset="0.259" stop-color="#c1d9ed"/><stop offset="0.356" stop-color="#a1cbe2"/><stop offset="0.47" stop-color="#85bcdc"/><stop offset="0.557" stop-color="#79b6d9"/><stop offset="0.585" stop-color="#66aad4"/><stop offset="0.631" stop-color="#3b8bc2"/><stop offset="0.635" stop-color="#3a8ac2"/><stop offset="0.64" stop-color="#59a2cf"/><stop offset="0.644" stop-color="#9ecae1"/><stop offset="0.649" stop-color="#d4e5f4"/><stop offset="0.654" stop-color="#f1f7fd"/><stop offset="0.658" stop-color="#f7fbff"/><stop offset="0.998" stop-color="#f7fbff"/></linearGradient><linearGradient id="gC67" x1="0" y1="0" x2="0" y2="1"><stop offset="0.00229" stop-color="#08306b"/><stop offset="0.149" stop-color="#08306b"/><stop offset="0.158" stop-color="#083775"/><stop offset="0.172" stop-color="#0b5098"/><stop offset="0.181" stop-color="#1461a8"/><stop offset="0.2" stop-color="#2e7ebb"/><stop offset="0.222" stop-color="#69acd4"/><stop offset="0.245" stop-color="#9bc8e1"/><stop offset="0.259" stop-color="#afd1e7"/><stop offset="0.278" stop-color="#b6d4ea"/><stop offset="0.461" stop-color="#86bddc"/><stop offset="0.53" stop-color="#7eb8da"/><stop offset="0.576" stop-color="#79b5d9"/><stop offset="0.622" stop-color="#56a0ce"/><stop offset="0.631" stop-color="#4d9aca"/><stop offset="0.635" stop-color="#4d9aca"/><stop offset="0.64" stop-color="#6fb0d7"/><stop offset="0.644" stop-color="#aed1e7"/><stop offset="0.649" stop-color="#dae8f6"/><stop offset="0.654" stop-color="#f3f8fe"/><stop offset="0.663" stop-color="#f7fbff"/><stop offset="0.998" stop-color="#f7fbff"/></linearGradient><linearGradient id="gC68" x1="0" y1="0" x2="0" y2="1"><stop offset="0.00229" stop-color="#08306b"/><stop offset="0.167" stop-color="#08316c"/><stop offset="0.177" stop-color="#083978"/><stop offset="0.19" stop-color="#0b5098"/><stop offset="0.204" stop-color="#1764ab"/><stop offset="0.222" stop-color="#2f7fbc"/><stop offset="0.245" stop-color="#62a8d2"/><stop offset="0.273" stop-color="#99c7e0"/><stop offset="0.287" stop-color="#a9cfe5"/><stop offset="0.305" stop-color="#acd0e6"/><stop offset="0.475" stop-color="#84bcdb"/><stop offset="0.576" stop-color="#72b2d7"/><stop offset="0.626" stop-color="#5aa2cf"/><stop offset="0.631" stop-color="#56a0ce"/><stop offset="0.635" stop-color="#59a2cf"/><stop offset="0.64" stop-color="#7db8da"/><stop offset="0.644" stop-color="#b8d5ea"/><stop offset="0.649" stop-color="#ddebf7"/><stop offset="0.654" stop-color="#f4f9fe"/><stop offset="0.672" stop-color="#f7fbff"/><stop offset="0.998" stop-color="#f7fbff"/></linearGradient><linearGradient id="gC69" x1="0" y1="0" x2="0" y2="1"><stop offset="0.00229" stop-color="#08306b"/><stop offset="0.181" stop-color="#08306b"/><stop offset="0.19" stop-color="#083573"/><stop offset="0.209" stop-color="#0a5099"/><stop offset="0.222" stop-color="#1561a9"/><stop offset="0.241" stop-color="#2978b9"/><stop offset="0.264" stop-color="#57a0ce"/><stop offset="0.296" stop-color="#93c4df"/><stop offset="0.314" stop-color="#a4cde3"/><stop offset="0.356" stop-color="#a1cbe2"/><stop offset="0.475" stop-color="#84bcdb"/><stop offset="0.576" stop-color="#6aaed6"/><stop offset="0.631" stop-color="#559fcd"/><stop offset="0.635" stop-color="#59a1cf"/><stop offset="0.64" stop-color="#7fb9da"/><stop offset="0.644" stop-color="#bad6eb"/><stop offset="0.649" stop-color="#deebf7"/><stop offset="0.654" stop-color="#f4f9fe"/><stop offset="0.677" stop-color="#f7fbff"/><stop offset="0.998" stop-color="#f7fbff"/></linearGradient><linearGradient id="gC70" x1="0" y1="0" x2="0" y2="1"><stop offset="0.00229" stop-color="#08306b"/><stop offset="0.2" stop-color="#08316c"/><stop offset="0.209" stop-color="#083876"/><stop offset="0.227" stop-color="#0a5099"/><stop offset="0.255" stop-color="#1f6eb2"/><stop offset="0.282" stop-color="#4f9bcb"/><stop offset="0.319" stop-color="#8fc2de"/><stop offset="0.333" stop-color="#9dc9e1"/><stop offset="0.356" stop-color="#9fcae1"/><stop offset="0.571" stop-color="#6cafd6"/><stop offset="0.631" stop-color="#559fcd"/><stop offset="0.635" stop-color="#59a2cf"/><stop offset="0.64" stop-color="#7fb9da"/><stop offset="0.644" stop-color="#bad6eb"/><stop offset="0.649" stop-color="#deebf7"/><stop offset="0.654" stop-color="#f4f9fe"/><stop offset="0.677" stop-color="#f7fbff"/><stop offset="0.998" stop-color="#f7fbff"/></linearGradient><linearGradient id="gC71" x1="0" y1="0" x2="0" y2="1"><stop offset="0.00229" stop-color="#08306b"/><stop offset="0.213" stop-color="#08306c"/><stop offset="0.227" stop-color="#083a7a"/><stop offset="0.245" stop-color="#0a519a"/><stop offset="0.273" stop-color="#1d6cb1"/><stop offset="0.305" stop-color="#529dcc"/><stop offset="0.342" stop-color="#8ec1dd"/><stop offset="0.36" stop-color="#9ac8e0"/><stop offset="0.557" stop-color="#71b1d7"/><stop offset="0.631" stop-color="#559fcd"/><stop offset="0.635" stop-color="#59a2cf"/><stop offset="0.64" stop-color="#7fb9da"/><stop offset="0.644" stop-color="#bad6eb"/><stop offset="0.649" stop-color="#deebf7"/><stop offset="0.654" stop-color="#f4f9fe"/><stop offset="0.677" stop-color="#f7fbff"/><stop offset="0.998" stop-color="#f7fbff"/></linearGradient><linearGradient id="gC72" x1="0" y1="0" x2="0" y2="1"><stop offset="0.00229" stop-color="#08306b"/><stop offset="0.232" stop-color="#08316d"/><stop offset="0.245" stop-color="#083d7e"/><stop offset="0.264" stop-color="#0a529b"/><stop offset="0.291" stop-color="#1d6bb0"/><stop offset="0.323" stop-color="#4f9bcb"/><stop offset="0.36" stop-color="#87bedc"/><stop offset="0.378" stop-color="#94c4df"/><stop offset="0.544" stop-color="#75b3d8"/><stop offset="0.631" stop-color="#559fcd"/><stop offset="0.635" stop-color="#59a2cf"/><stop offset="0.64" stop-color="#7fb9da"/><stop offset="0.644" stop-color="#bad6eb"/><stop offset="0.649" stop-color="#deebf7"/><stop offset="0.654" stop-color="#f4f9fe"/><stop offset="0.677" stop-color="#f7fbff"/><stop offset="0.998" stop-color="#f7fbff"/></linearGradient><linearGradient id="gC73" x1="0" y1="0" x2="0" y2="1"><stop offset="0.00229" stop-color="#08306b"/><stop offset="0.245" stop-color="#08316c"/><stop offset="0.259" stop-color="#083b7b"/><stop offset="0.282" stop-color="#0a539d"/><stop offset="0.31" stop-color="#1d6cb1"/><stop offset="0.342" stop-color="#4d9aca"/><stop offset="0.378" stop-color="#82badb"/><stop offset="0.397" stop-color="#8ec1de"/><stop offset="0.516" stop-color="#7bb7da"/><stop offset="0.608" stop-color="#5ea5d1"/><stop offset="0.631" stop-color="#559fcd"/><stop offset="0.635" stop-color="#59a2cf"/><stop offset="0.64" stop-color="#7fb9da"/><stop offset="0.644" stop-color="#bad6eb"/><stop offset="0.649" stop-color="#deebf7"/><stop offset="0.654" stop-color="#f4f9fe"/><stop offset="0.677" stop-color="#f7fbff"/><stop offset="0.998" stop-color="#f7fbff"/></linearGradient><linearGradient id="gC74" x1="0" y1="0" x2="0" y2="1"><stop offset="0.00229" stop-color="#08306b"/><stop offset="0.259" stop-color="#08316c"/><stop offset="0.273" stop-color="#083978"/><stop offset="0.3" stop-color="#0a549e"/><stop offset="0.328" stop-color="#1e6db2"/><stop offset="0.356" stop-color="#4694c7"/><stop offset="0.397" stop-color="#7cb8da"/><stop offset="0.415" stop-color="#88bedc"/><stop offset="0.498" stop-color="#7fb9da"/><stop offset="0.585" stop-color="#67abd4"/><stop offset="0.631" stop-color="#559fcd"/><stop offset="0.635" stop-color="#59a2cf"/><stop offset="0.64" stop-color="#7fb9da"/><stop offset="0.644" stop-color="#bad6eb"/><stop offset="0.649" stop-color="#deebf7"/><stop offset="0.654" stop-color="#f4f9fe"/><stop offset="0.677" stop-color="#f7fbff"/><stop offset="0.998" stop-color="#f7fbff"/></linearGradient><linearGradient id="gC75" x1="0" y1="0" x2="0" y2="1"><stop offset="0.00229" stop-color="#08306b"/><stop offset="0.273" stop-color="#08316c"/><stop offset="0.287" stop-color="#083877"/><stop offset="0.314" stop-color="#0a529c"/><stop offset="0.342" stop-color="#1b69af"/><stop offset="0.374" stop-color="#4694c7"/><stop offset="0.415" stop-color="#78b5d9"/><stop offset="0.438" stop-color="#85bcdc"/><stop offset="0.516" stop-color="#7ab6d9"/><stop offset="0.594" stop-color="#63a9d3"/><stop offset="0.631" stop-color="#559fcd"/><stop offset="0.635" stop-color="#59a2cf"/><stop offset="0.64" stop-color="#7fb9da"/><stop offset="0.644" stop-color="#bad6eb"/><stop offset="0.649" stop-color="#deebf7"/><stop offset="0.654" stop-color="#f4f9fe"/><stop offset="0.677" stop-color="#f7fbff"/><stop offset="0.998" stop-color="#f7fbff"/></linearGradient><linearGradient id="gC76" x1="0" y1="0" x2="0" y2="1"><stop offset="0.00229" stop-color="#08306b"/><stop offset="0.287" stop-color="#08306c"/><stop offset="0.3" stop-color="#083776"/><stop offset="0.328" stop-color="#09509a"/><stop offset="0.36" stop-color="#1d6bb1"/><stop offset="0.392" stop-color="#4694c7"/><stop offset="0.433" stop-color="#74b3d8"/><stop offset="0.456" stop-color="#80badb"/><stop offset="0.525" stop-color="#77b5d9"/><stop offset="0.608" stop-color="#5ea5d1"/><stop offset="0.631" stop-color="#559fcd"/><stop offset="0.635" stop-color="#59a2cf"/><stop offset="0.64" stop-color="#7fb9da"/><stop offset="0.644" stop-color="#bad6eb"/><stop offset="0.649" stop-color="#deebf7"/><stop offset="0.654" stop-color="#f4f9fe"/><stop offset="0.677" stop-color="#f7fbff"/><stop offset="0.998" stop-color="#f7fbff"/></linearGradient><linearGradient id="gC77" x1="0" y1="0" x2="0" y2="1"><stop offset="0.00229" stop-color="#08306b"/><stop offset="0.305" stop-color="#08326e"/><stop offset="0.328" stop-color="#084387"/><stop offset="0.346" stop-color="#0a539d"/><stop offset="0.374" stop-color="#1b69af"/><stop offset="0.406" stop-color="#4190c5"/><stop offset="0.452" stop-color="#70b1d7"/><stop offset="0.479" stop-color="#7ab6d9"/><stop offset="0.553" stop-color="#70b1d7"/><stop offset="0.631" stop-color="#559fcd"/><stop offset="0.635" stop-color="#59a2cf"/><stop offset="0.64" stop-color="#7fb9da"/><stop offset="0.644" stop-color="#bad6eb"/><stop offset="0.649" stop-color="#deebf7"/><stop offset="0.654" stop-color="#f4f9fe"/><stop offset="0.677" stop-color="#f7fbff"/><stop offset="0.998" stop-color="#f7fbff"/></linearGradient><linearGradient id="gC78" x1="0" y1="0" x2="0" y2="1"><stop offset="0.00229" stop-color="#08306b"/><stop offset="0.314" stop-color="#08316c"/><stop offset="0.333" stop-color="#083b7b"/><stop offset="0.36" stop-color="#09529c"/><stop offset="0.388" stop-color="#1967ad"/><stop offset="0.424" stop-color="#4291c6"/><stop offset="0.461" stop-color="#65aad4"/><stop offset="0.498" stop-color="#71b1d7"/><stop offset="0.553" stop-color="#6fb0d7"/><stop offset="0.631" stop-color="#559fcd"/><stop offset="0.635" stop-color="#59a2cf"/><stop offset="0.64" stop-color="#7fb9da"/><stop offset="0.644" stop-color="#bad6eb"/><stop offset="0.649" stop-color="#deebf7"/><stop offset="0.654" stop-color="#f4f9fe"/><stop offset="0.677" stop-color="#f7fbff"/><stop offset="0.998" stop-color="#f7fbff"/></linearGradient><linearGradient id="gC79" x1="0" y1="0" x2="0" y2="1"><stop offset="0.00229" stop-color="#08306b"/><stop offset="0.328" stop-color="#08316c"/><stop offset="0.346" stop-color="#083b7b"/><stop offset="0.374" stop-color="#09519c"/><stop offset="0.406" stop-color="#1b6aaf"/><stop offset="0.443" stop-color="#4292c6"/><stop offset="0.475" stop-color="#5ca3d0"/><stop offset="0.534" stop-color="#6baed6"/><stop offset="0.571" stop-color="#6aadd6"/><stop offset="0.631" stop-color="#559fcd"/><stop offset="0.635" stop-color="#59a2cf"/><stop offset="0.64" stop-color="#7fb9da"/><stop offset="0.644" stop-color="#bad6eb"/><stop offset="0.649" stop-color="#deebf7"/><stop offset="0.654" stop-color="#f4f9fe"/><stop offset="0.677" stop-color="#f7fbff"/><stop offset="0.998" stop-color="#f7fbff"/></linearGradient><linearGradient id="gC80" x1="0" y1="0" x2="0" y2="1"><stop offset="0.00229" stop-color="#08306b"/><stop offset="0.342" stop-color="#08316c"/><stop offset="0.36" stop-color="#083b7c"/><stop offset="0.388" stop-color="#09519b"/><stop offset="0.42" stop-color="#1a68ae"/><stop offset="0.452" stop-color="#3b8bc2"/><stop offset="0.493" stop-color="#549ecd"/><stop offset="0.562" stop-color="#69acd5"/><stop offset="0.608" stop-color="#5ea5d1"/><stop offset="0.631" stop-color="#559fcd"/><stop offset="0.635" stop-color="#59a2cf"/><stop offset="0.64" stop-color="#7fb9da"/><stop offset="0.644" stop-color="#bad6eb"/><stop offset="0.649" stop-color="#deebf7"/><stop offset="0.654" stop-color="#f4f9fe"/><stop offset="0.677" stop-color="#f7fbff"/><stop offset="0.998" stop-color="#f7fbff"/></linearGradient><linearGradient id="gC81" x1="0" y1="0" x2="0" y2="1"><stop offset="0.00229" stop-color="#08306b"/><stop offset="0.356" stop-color="#08316d"/><stop offset="0.378" stop-color="#084082"/><stop offset="0.401" stop-color="#09519b"/><stop offset="0.433" stop-color="#1967ad"/><stop offset="0.466" stop-color="#3686c0"/><stop offset="0.525" stop-color="#539ecd"/><stop offset="0.576" stop-color="#66aad4"/><stop offset="0.622" stop-color="#59a1cf"/><stop offset="0.631" stop-color="#559fcd"/><stop offset="0.635" stop-color="#59a2cf"/><stop offset="0.64" stop-color="#7fb9da"/><stop offset="0.644" stop-color="#bad6eb"/><stop offset="0.649" stop-color="#deebf7"/><stop offset="0.654" stop-color="#f4f9fe"/><stop offset="0.677" stop-color="#f7fbff"/><stop offset="0.998" stop-color="#f7fbff"/></linearGradient><linearGradient id="gC82" x1="0" y1="0" x2="0" y2="1"><stop offset="0.00229" stop-color="#08306b"/><stop offset="0.369" stop-color="#08326d"/><stop offset="0.42" stop-color="#0a539e"/><stop offset="0.452" stop-color="#1c6bb0"/><stop offset="0.489" stop-color="#3686c0"/><stop offset="0.585" stop-color="#63a9d3"/><stop offset="0.631" stop-color="#559fcd"/><stop offset="0.635" stop-color="#59a2cf"/><stop offset="0.64" stop-color="#7fb9da"/><stop offset="0.644" stop-color="#bad6eb"/><stop offset="0.649" stop-color="#deebf7"/><stop offset="0.654" stop-color="#f4f9fe"/><stop offset="0.677" stop-color="#f7fbff"/><stop offset="0.998" stop-color="#f7fbff"/></linearGradient><linearGradient id="gC83" x1="0" y1="0" x2="0" y2="1"><stop offset="0.00229" stop-color="#08306b"/><stop offset="0.378" stop-color="#08316c"/><stop offset="0.401" stop-color="#083e7f"/><stop offset="0.429" stop-color="#09519b"/><stop offset="0.475" stop-color="#206fb3"/><stop offset="0.525" stop-color="#3b8bc3"/><stop offset="0.589" stop-color="#61a8d2"/><stop offset="0.631" stop-color="#559fcd"/><stop offset="0.635" stop-color="#59a2cf"/><stop offset="0.64" stop-color="#7fb9da"/><stop offset="0.644" stop-color="#bad6eb"/><stop offset="0.649" stop-color="#deebf7"/><stop offset="0.654" stop-color="#f4f9fe"/><stop offset="0.677" stop-color="#f7fbff"/><stop offset="0.998" stop-color="#f7fbff"/></linearGradient><linearGradient id="gC84" x1="0" y1="0" x2="0" y2="1"><stop offset="0.00229" stop-color="#08306b"/><stop offset="0.392" stop-color="#08316d"/><stop offset="0.424" stop-color="#08468b"/><stop offset="0.447" stop-color="#0a539e"/><stop offset="0.511" stop-color="#2a7ab9"/><stop offset="0.571" stop-color="#4d9aca"/><stop offset="0.594" stop-color="#60a6d2"/><stop offset="0.631" stop-color="#559fcd"/><stop offset="0.635" stop-color="#59a2cf"/><stop offset="0.64" stop-color="#7fb9da"/><stop offset="0.644" stop-color="#bad6eb"/><stop offset="0.649" stop-color="#deebf7"/><stop offset="0.654" stop-color="#f4f9fe"/><stop offset="0.677" stop-color="#f7fbff"/><stop offset="0.998" stop-color="#f7fbff"/></linearGradient><linearGradient id="gC85" x1="0" y1="0" x2="0" y2="1"><stop offset="0.00229" stop-color="#08306b"/><stop offset="0.401" stop-color="#08316c"/><stop offset="0.429" stop-color="#084083"/><stop offset="0.456" stop-color="#09519c"/><stop offset="0.511" stop-color="#1e6db2"/><stop offset="0.58" stop-color="#4b98ca"/><stop offset="0.594" stop-color="#5ca4d0"/><stop offset="0.617" stop-color="#5aa2cf"/><stop offset="0.631" stop-color="#549fcd"/><stop offset="0.635" stop-color="#59a1cf"/><stop offset="0.64" stop-color="#7fb9da"/><stop offset="0.644" stop-color="#bad6eb"/><stop offset="0.649" stop-color="#deebf7"/><stop offset="0.654" stop-color="#f4f9fe"/><stop offset="0.677" stop-color="#f7fbff"/><stop offset="0.998" stop-color="#f7fbff"/></linearGradient><linearGradient id="gC86" x1="0" y1="0" x2="0" y2="1"><stop offset="0.00229" stop-color="#08306b"/><stop offset="0.415" stop-color="#08316d"/><stop offset="0.47" stop-color="#08519b"/><stop offset="0.521" stop-color="#1a68ae"/><stop offset="0.58" stop-color="#4291c6"/><stop offset="0.594" stop-color="#56a0ce"/><stop offset="0.608" stop-color="#5ca4d0"/><stop offset="0.631" stop-color="#549ecd"/><stop offset="0.635" stop-color="#58a1cf"/><stop offset="0.64" stop-color="#7fb9da"/><stop offset="0.644" stop-color="#bad6eb"/><stop offset="0.649" stop-color="#deebf7"/><stop offset="0.654" stop-color="#f4f9fe"/><stop offset="0.677" stop-color="#f7fbff"/><stop offset="0.998" stop-color="#f7fbff"/></linearGradient><linearGradient id="gC87" x1="0" y1="0" x2="0" y2="1"><stop offset="0.00229" stop-color="#08306b"/><stop offset="0.424" stop-color="#08316c"/><stop offset="0.461" stop-color="#08458a"/><stop offset="0.489" stop-color="#09529c"/><stop offset="0.53" stop-color="#1764ab"/><stop offset="0.58" stop-color="#3a8ac2"/><stop offset="0.599" stop-color="#549ecd"/><stop offset="0.612" stop-color="#59a2cf"/><stop offset="0.631" stop-color="#549ecd"/><stop offset="0.635" stop-color="#58a1cf"/><stop offset="0.64" stop-color="#7fb9da"/><stop offset="0.644" stop-color="#bad6eb"/><stop offset="0.649" stop-color="#deebf7"/><stop offset="0.654" stop-color="#f4f9fe"/><stop offset="0.677" stop-color="#f7fbff"/><stop offset="0.998" stop-color="#f7fbff"/></linearGradient><linearGradient id="gC88" x1="0" y1="0" x2="0" y2="1"><stop offset="0.00229" stop-color="#08306b"/><stop offset="0.438" stop-color="#08326e"/><stop offset="0.498" stop-color="#08509a"/><stop offset="0.539" stop-color="#1561a9"/><stop offset="0.58" stop-color="#3282be"/><stop offset="0.599" stop-color="#4d99ca"/><stop offset="0.612" stop-color="#56a0ce"/><stop offset="0.631" stop-color="#539ecd"/><stop offset="0.635" stop-color="#57a1ce"/><stop offset="0.64" stop-color="#7eb8da"/><stop offset="0.644" stop-color="#b9d6ea"/><stop offset="0.649" stop-color="#deebf7"/><stop offset="0.654" stop-color="#f4f9fe"/><stop offset="0.672" stop-color="#f7fbff"/><stop offset="0.998" stop-color="#f7fbff"/></linearGradient><linearGradient id="gC89" x1="0" y1="0" x2="0" y2="1"><stop offset="0.00229" stop-color="#08306b"/><stop offset="0.447" stop-color="#08316d"/><stop offset="0.511" stop-color="#084f9a"/><stop offset="0.553" stop-color="#1663aa"/><stop offset="0.585" stop-color="#3181bd"/><stop offset="0.599" stop-color="#4594c7"/><stop offset="0.617" stop-color="#539ecd"/><stop offset="0.631" stop-color="#539dcc"/><stop offset="0.635" stop-color="#56a0ce"/><stop offset="0.64" stop-color="#7bb7d9"/><stop offset="0.644" stop-color="#b7d5ea"/><stop offset="0.649" stop-color="#ddeaf7"/><stop offset="0.654" stop-color="#f3f9fe"/><stop offset="0.667" stop-color="#f7fbff"/><stop offset="0.998" stop-color="#f7fbff"/></linearGradient><linearGradient id="gC90" x1="0" y1="0" x2="0" y2="1"><stop offset="0.00229" stop-color="#08306b"/><stop offset="0.456" stop-color="#08316c"/><stop offset="0.53" stop-color="#08519c"/><stop offset="0.562" stop-color="#1562a9"/><stop offset="0.58" stop-color="#2373b6"/><stop offset="0.603" stop-color="#4292c6"/><stop offset="0.622" stop-color="#509bcb"/><stop offset="0.635" stop-color="#559fcd"/><stop offset="0.64" stop-color="#77b5d9"/><stop offset="0.644" stop-color="#b4d3e9"/><stop offset="0.649" stop-color="#dbe9f6"/><stop offset="0.654" stop-color="#f2f8fe"/><stop offset="0.663" stop-color="#f7fbff"/><stop offset="0.998" stop-color="#f7fbff"/></linearGradient><linearGradient id="gC91" x1="0" y1="0" x2="0" y2="1"><stop offset="0.00229" stop-color="#08306b"/><stop offset="0.47" stop-color="#08326d"/><stop offset="0.544" stop-color="#09529d"/><stop offset="0.571" stop-color="#1562a9"/><stop offset="0.585" stop-color="#2272b5"/><stop offset="0.603" stop-color="#3b8bc2"/><stop offset="0.626" stop-color="#4c99ca"/><stop offset="0.635" stop-color="#529dcc"/><stop offset="0.64" stop-color="#72b2d8"/><stop offset="0.644" stop-color="#afd1e7"/><stop offset="0.649" stop-color="#d9e8f5"/><stop offset="0.654" stop-color="#f1f7fd"/><stop offset="0.658" stop-color="#f7fbff"/><stop offset="0.998" stop-color="#f7fbff"/></linearGradient><linearGradient id="gC92" x1="0" y1="0" x2="0" y2="1"><stop offset="0.00229" stop-color="#08306b"/><stop offset="0.479" stop-color="#08316d"/><stop offset="0.557" stop-color="#0a539e"/><stop offset="0.58" stop-color="#1662aa"/><stop offset="0.594" stop-color="#2a7aba"/><stop offset="0.622" stop-color="#4493c7"/><stop offset="0.635" stop-color="#4d9aca"/><stop offset="0.64" stop-color="#6aadd5"/><stop offset="0.644" stop-color="#a7cee4"/><stop offset="0.649" stop-color="#d5e5f4"/><stop offset="0.654" stop-color="#eff6fc"/><stop offset="0.658" stop-color="#f7fbff"/><stop offset="0.998" stop-color="#f7fbff"/></linearGradient><linearGradient id="gC93" x1="0" y1="0" x2="0" y2="1"><stop offset="0.00229" stop-color="#08306b"/><stop offset="0.489" stop-color="#08316c"/><stop offset="0.53" stop-color="#084387"/><stop offset="0.571" stop-color="#0b559f"/><stop offset="0.585" stop-color="#1562a9"/><stop offset="0.599" stop-color="#2979b9"/><stop offset="0.631" stop-color="#4493c7"/><stop offset="0.635" stop-color="#4896c8"/><stop offset="0.64" stop-color="#5fa6d1"/><stop offset="0.644" stop-color="#9bc8e0"/><stop offset="0.649" stop-color="#cfe1f2"/><stop offset="0.654" stop-color="#ebf3fb"/><stop offset="0.658" stop-color="#f7fbff"/><stop offset="0.998" stop-color="#f7fbff"/></linearGradient><linearGradient id="gC94" x1="0" y1="0" x2="0" y2="1"><stop offset="0.00229" stop-color="#08306b"/><stop offset="0.502" stop-color="#08326d"/><stop offset="0.576" stop-color="#0a539e"/><stop offset="0.585" stop-color="#105ba4"/><stop offset="0.603" stop-color="#2777b8"/><stop offset="0.635" stop-color="#4292c6"/><stop offset="0.64" stop-color="#539ecd"/><stop offset="0.644" stop-color="#8abfdd"/><stop offset="0.649" stop-color="#c7dcef"/><stop offset="0.654" stop-color="#e6f0fa"/><stop offset="0.658" stop-color="#f6fbff"/><stop offset="0.998" stop-color="#f7fbff"/></linearGradient><linearGradient id="gC95" x1="0" y1="0" x2="0" y2="1"><stop offset="0.00229" stop-color="#08306b"/><stop offset="0.511" stop-color="#08316d"/><stop offset="0.58" stop-color="#09529d"/><stop offset="0.608" stop-color="#2676b7"/><stop offset="0.635" stop-color="#3d8dc3"/><stop offset="0.64" stop-color="#4896c8"/><stop offset="0.644" stop-color="#77b4d9"/><stop offset="0.649" stop-color="#bad6eb"/><stop offset="0.654" stop-color="#e0ecf8"/><stop offset="0.658" stop-color="#f5fafe"/><stop offset="0.998" stop-color="#f7fbff"/></linearGradient><linearGradient id="gC96" x1="0" y1="0" x2="0" y2="1"><stop offset="0.00229" stop-color="#08306b"/><stop offset="0.521" stop-color="#08316d"/><stop offset="0.562" stop-color="#08458b"/><stop offset="0.585" stop-color="#09529c"/><stop offset="0.612" stop-color="#2474b6"/><stop offset="0.635" stop-color="#3787c0"/><stop offset="0.64" stop-color="#3e8ec4"/><stop offset="0.644" stop-color="#65aad4"/><stop offset="0.649" stop-color="#acd0e6"/><stop offset="0.654" stop-color="#d9e8f5"/><stop offset="0.658" stop-color="#f2f8fd"/><stop offset="0.663" stop-color="#f7fbff"/><stop offset="0.998" stop-color="#f7fbff"/></linearGradient><linearGradient id="gC97" x1="0" y1="0" x2="0" y2="1"><stop offset="0.00229" stop-color="#08306b"/><stop offset="0.53" stop-color="#08326d"/><stop offset="0.576" stop-color="#084990"/><stop offset="0.594" stop-color="#0c56a0"/><stop offset="0.622" stop-color="#2575b7"/><stop offset="0.64" stop-color="#3787c0"/><stop offset="0.644" stop-color="#559fce"/><stop offset="0.649" stop-color="#9ac8e0"/><stop offset="0.654" stop-color="#d1e3f3"/><stop offset="0.658" stop-color="#eef5fc"/><stop offset="0.663" stop-color="#f7fbff"/><stop offset="0.998" stop-color="#f7fbff"/></linearGradient><linearGradient id="gC98" x1="0" y1="0" x2="0" y2="1"><stop offset="0.00229" stop-color="#08306b"/><stop offset="0.534" stop-color="#08316c"/><stop offset="0.567" stop-color="#083f82"/><stop offset="0.594" stop-color="#09529d"/><stop offset="0.631" stop-color="#2777b8"/><stop offset="0.64" stop-color="#3080bd"/><stop offset="0.644" stop-color="#4594c7"/><stop offset="0.649" stop-color="#83bbdb"/><stop offset="0.654" stop-color="#c8dcf0"/><stop offset="0.658" stop-color="#e8f2fa"/><stop offset="0.663" stop-color="#f7fbff"/><stop offset="0.998" stop-color="#f7fbff"/></linearGradient><linearGradient id="gC99" x1="0" y1="0" x2="0" y2="1"><stop offset="0.00229" stop-color="#08306b"/><stop offset="0.544" stop-color="#08316d"/><stop offset="0.576" stop-color="#084083"/><stop offset="0.599" stop-color="#09529d"/><stop offset="0.64" stop-color="#2b7bba"/><stop offset="0.644" stop-color="#3888c1"/><stop offset="0.649" stop-color="#6baed6"/><stop offset="0.654" stop-color="#b8d5ea"/><stop offset="0.658" stop-color="#e1edf8"/><stop offset="0.663" stop-color="#f5fafe"/><stop offset="0.998" stop-color="#f7fbff"/></linearGradient><linearGradient id="gC100" x1="0" y1="0" x2="0" y2="1"><stop offset="0.00229" stop-color="#08306b"/><stop offset="0.553" stop-color="#08316d"/><stop offset="0.58" stop-color="#083f82"/><stop offset="0.603" stop-color="#09529c"/><stop offset="0.64" stop-color="#2676b7"/><stop offset="0.644" stop-color="#2e7ebc"/><stop offset="0.649" stop-color="#57a0ce"/><stop offset="0.654" stop-color="#a5cde3"/><stop offset="0.658" stop-color="#d8e7f5"/><stop offset="0.663" stop-color="#f2f8fd"/><stop offset="0.672" stop-color="#f7fbff"/><stop offset="0.998" stop-color="#f7fbff"/></linearGradient><linearGradient id="gC101" x1="0" y1="0" x2="0" y2="1"><stop offset="0.00229" stop-color="#08306b"/><stop offset="0.557" stop-color="#08316c"/><stop offset="0.58" stop-color="#083b7c"/><stop offset="0.599" stop-color="#084c94"/><stop offset="0.617" stop-color="#0d58a1"/><stop offset="0.644" stop-color="#2676b7"/><stop offset="0.649" stop-color="#4493c7"/><stop offset="0.654" stop-color="#8dc0dd"/><stop offset="0.658" stop-color="#cfe1f2"/><stop offset="0.663" stop-color="#edf5fc"/><stop offset="0.667" stop-color="#f7fbff"/><stop offset="0.998" stop-color="#f7fbff"/></linearGradient><linearGradient id="gC102" x1="0" y1="0" x2="0" y2="1"><stop offset="0.00229" stop-color="#08306b"/><stop offset="0.567" stop-color="#08326d"/><stop offset="0.585" stop-color="#083c7c"/><stop offset="0.603" stop-color="#084b94"/><stop offset="0.622" stop-color="#0c56a0"/><stop offset="0.644" stop-color="#2070b4"/><stop offset="0.649" stop-color="#3686c0"/><stop offset="0.654" stop-color="#72b2d8"/><stop offset="0.658" stop-color="#c2daee"/><stop offset="0.663" stop-color="#e7f1fa"/><stop offset="0.667" stop-color="#f7fbff"/><stop offset="0.998" stop-color="#f7fbff"/></linearGradient><linearGradient id="gC103" x1="0" y1="0" x2="0" y2="1"><stop offset="0.00229" stop-color="#08306b"/><stop offset="0.571" stop-color="#08316d"/><stop offset="0.585" stop-color="#083877"/><stop offset="0.608" stop-color="#084b93"/><stop offset="0.626" stop-color="#0b559f"/><stop offset="0.644" stop-color="#1c6ab0"/><stop offset="0.649" stop-color="#2979b9"/><stop offset="0.654" stop-color="#5da4d0"/><stop offset="0.658" stop-color="#b0d2e7"/><stop offset="0.663" stop-color="#dfecf7"/><stop offset="0.667" stop-color="#f5fafe"/><stop offset="0.998" stop-color="#f7fbff"/></linearGradient><linearGradient id="gC104" x1="0" y1="0" x2="0" y2="1"><stop offset="0.00229" stop-color="#08306b"/><stop offset="0.576" stop-color="#08316c"/><stop offset="0.589" stop-color="#083979"/><stop offset="0.612" stop-color="#084a92"/><stop offset="0.631" stop-color="#0b549f"/><stop offset="0.644" stop-color="#1764ab"/><stop offset="0.649" stop-color="#1f6fb3"/><stop offset="0.654" stop-color="#4a97c9"/><stop offset="0.658" stop-color="#9dc9e1"/><stop offset="0.663" stop-color="#d7e6f5"/><stop offset="0.667" stop-color="#f2f8fe"/><stop offset="0.677" stop-color="#f7fbff"/><stop offset="0.998" stop-color="#f7fbff"/></linearGradient><linearGradient id="gC105" x1="0" y1="0" x2="0" y2="1"><stop offset="0.00229" stop-color="#08306b"/><stop offset="0.58" stop-color="#08316c"/><stop offset="0.617" stop-color="#084a92"/><stop offset="0.635" stop-color="#0a549e"/><stop offset="0.649" stop-color="#1866ac"/><stop offset="0.654" stop-color="#3a8ac2"/><stop offset="0.658" stop-color="#87bddc"/><stop offset="0.663" stop-color="#cfe1f2"/><stop offset="0.667" stop-color="#eef6fc"/><stop offset="0.672" stop-color="#f7fbff"/><stop offset="0.998" stop-color="#f7fbff"/></linearGradient><linearGradient id="gC106" x1="0" y1="0" x2="0" y2="1"><stop offset="0.00229" stop-color="#08306b"/><stop offset="0.585" stop-color="#08316c"/><stop offset="0.622" stop-color="#084991"/><stop offset="0.64" stop-color="#0a549e"/><stop offset="0.649" stop-color="#135fa7"/><stop offset="0.654" stop-color="#2c7cbb"/><stop offset="0.658" stop-color="#70b0d7"/><stop offset="0.663" stop-color="#c5dbef"/><stop offset="0.667" stop-color="#e9f2fb"/><stop offset="0.672" stop-color="#f7fbff"/><stop offset="0.998" stop-color="#f7fbff"/></linearGradient><linearGradient id="gC107" x1="0" y1="0" x2="0" y2="1"><stop offset="0.00229" stop-color="#08306b"/><stop offset="0.589" stop-color="#08316d"/><stop offset="0.631" stop-color="#084b93"/><stop offset="0.644" stop-color="#0a549e"/><stop offset="0.649" stop-color="#0f59a3"/><stop offset="0.654" stop-color="#206fb3"/><stop offset="0.658" stop-color="#5ca4d0"/><stop offset="0.663" stop-color="#b6d4e9"/><stop offset="0.667" stop-color="#e3eef9"/><stop offset="0.672" stop-color="#f7fbff"/><stop offset="0.998" stop-color="#f7fbff"/></linearGradient><linearGradient id="gC108" x1="0" y1="0" x2="0" y2="1"><stop offset="0.00229" stop-color="#08306b"/><stop offset="0.594" stop-color="#08326e"/><stop offset="0.649" stop-color="#0b559f"/><stop offset="0.654" stop-color="#1764ab"/><stop offset="0.658" stop-color="#4997c9"/><stop offset="0.663" stop-color="#a5cde4"/><stop offset="0.667" stop-color="#ddeaf7"/><stop offset="0.672" stop-color="#f5fafe"/><stop offset="0.998" stop-color="#f7fbff"/></linearGradient><linearGradient id="gC109" x1="0" y1="0" x2="0" y2="1"><stop offset="0.00229" stop-color="#08306b"/><stop offset="0.594" stop-color="#08306c"/><stop offset="0.649" stop-color="#08519b"/><stop offset="0.654" stop-color="#0f5ba3"/><stop offset="0.658" stop-color="#3989c1"/><stop offset="0.663" stop-color="#92c3de"/><stop offset="0.667" stop-color="#d6e5f4"/><stop offset="0.672" stop-color="#f3f8fe"/><stop offset="0.681" stop-color="#f7fbff"/><stop offset="0.998" stop-color="#f7fbff"/></linearGradient><linearGradient id="gC110" x1="0" y1="0" x2="0" y2="1"><stop offset="0.00229" stop-color="#08306b"/><stop offset="0.599" stop-color="#08316c"/><stop offset="0.649" stop-color="#084e97"/><stop offset="0.654" stop-color="#0a549e"/><stop offset="0.658" stop-color="#2b7bba"/><stop offset="0.663" stop-color="#7cb7da"/><stop offset="0.667" stop-color="#cee0f2"/><stop offset="0.672" stop-color="#eff6fd"/><stop offset="0.677" stop-color="#f7fbff"/><stop offset="0.998" stop-color="#f7fbff"/></linearGradient><linearGradient id="gC111" x1="0" y1="0" x2="0" y2="1"><stop offset="0.00229" stop-color="#08306b"/><stop offset="0.603" stop-color="#08316c"/><stop offset="0.649" stop-color="#084b93"/><stop offset="0.654" stop-color="#084f99"/><stop offset="0.658" stop-color="#206fb4"/><stop offset="0.663" stop-color="#67abd4"/><stop offset="0.667" stop-color="#c5dbef"/><stop offset="0.672" stop-color="#ebf3fb"/><stop offset="0.677" stop-color="#f7fbff"/><stop offset="0.998" stop-color="#f7fbff"/></linearGradient><linearGradient id="gC112" x1="0" y1="0" x2="0" y2="1"><stop offset="0.00229" stop-color="#08306b"/><stop offset="0.608" stop-color="#08316c"/><stop offset="0.649" stop-color="#084990"/><stop offset="0.654" stop-color="#084c94"/><stop offset="0.658" stop-color="#1866ac"/><stop offset="0.663" stop-color="#56a0ce"/><stop offset="0.667" stop-color="#b8d5ea"/><stop offset="0.672" stop-color="#e6f0fa"/><stop offset="0.677" stop-color="#f7fbff"/><stop offset="0.998" stop-color="#f7fbff"/></linearGradient><linearGradient id="gC113" x1="0" y1="0" x2="0" y2="1"><stop offset="0.00229" stop-color="#08306b"/><stop offset="0.612" stop-color="#08316c"/><stop offset="0.644" stop-color="#084387"/><stop offset="0.654" stop-color="#084991"/><stop offset="0.658" stop-color="#125da6"/><stop offset="0.663" stop-color="#4796c8"/><stop offset="0.667" stop-color="#aacfe5"/><stop offset="0.672" stop-color="#e1edf8"/><stop offset="0.677" stop-color="#f7fbff"/><stop offset="0.998" stop-color="#f7fbff"/></linearGradient><linearGradient id="gC114" x1="0" y1="0" x2="0" y2="1"><stop offset="0.00229" stop-color="#08306b"/><stop offset="0.617" stop-color="#08316c"/><stop offset="0.644" stop-color="#084083"/><stop offset="0.654" stop-color="#08478d"/><stop offset="0.658" stop-color="#0c56a0"/><stop offset="0.663" stop-color="#3b8bc2"/><stop offset="0.667" stop-color="#9bc8e0"/><stop offset="0.672" stop-color="#dbe9f6"/><stop offset="0.677" stop-color="#f5fafe"/><stop offset="0.998" stop-color="#f7fbff"/></linearGradient><linearGradient id="gC115" x1="0" y1="0" x2="0" y2="1"><stop offset="0.00229" stop-color="#08306b"/><stop offset="0.622" stop-color="#08316c"/><stop offset="0.644" stop-color="#083d7f"/><stop offset="0.654" stop-color="#084489"/><stop offset="0.658" stop-color="#084f99"/><stop offset="0.663" stop-color="#3080bd"/><stop offset="0.667" stop-color="#89bedc"/><stop offset="0.672" stop-color="#d5e5f4"/><stop offset="0.677" stop-color="#f3f9fe"/><stop offset="0.69" stop-color="#f7fbff"/><stop offset="0.998" stop-color="#f7fbff"/></linearGradient><linearGradient id="gC116" x1="0" y1="0" x2="0" y2="1"><stop offset="0.00229" stop-color="#08306b"/><stop offset="0.626" stop-color="#08316c"/><stop offset="0.649" stop-color="#083e7f"/><stop offset="0.654" stop-color="#084185"/><stop offset="0.658" stop-color="#084991"/><stop offset="0.663" stop-color="#2676b7"/><stop offset="0.667" stop-color="#78b5d9"/><stop offset="0.672" stop-color="#cee1f2"/><stop offset="0.677" stop-color="#f1f7fd"/><stop offset="0.681" stop-color="#f7fbff"/><stop offset="0.998" stop-color="#f7fbff"/></linearGradient><linearGradient id="gC117" x1="0" y1="0" x2="0" y2="1"><stop offset="0.00229" stop-color="#08306b"/><stop offset="0.631" stop-color="#08316d"/><stop offset="0.654" stop-color="#083e80"/><stop offset="0.658" stop-color="#084589"/><stop offset="0.663" stop-color="#1e6db2"/><stop offset="0.667" stop-color="#69acd5"/><stop offset="0.672" stop-color="#c8ddf0"/><stop offset="0.677" stop-color="#eef5fc"/><stop offset="0.681" stop-color="#f7fbff"/><stop offset="0.998" stop-color="#f7fbff"/></linearGradient><linearGradient id="gC118" x1="0" y1="0" x2="0" y2="1"><stop offset="0.00229" stop-color="#08306b"/><stop offset="0.635" stop-color="#08316d"/><stop offset="0.654" stop-color="#083c7c"/><stop offset="0.658" stop-color="#084083"/><stop offset="0.663" stop-color="#1865ac"/><stop offset="0.667" stop-color="#5ea5d1"/><stop offset="0.672" stop-color="#c1d9ed"/><stop offset="0.677" stop-color="#ebf3fb"/><stop offset="0.681" stop-color="#f7fbff"/><stop offset="0.998" stop-color="#f7fbff"/></linearGradient><linearGradient id="gC119" x1="0" y1="0" x2="0" y2="1"><stop offset="0.00229" stop-color="#08306b"/><stop offset="0.64" stop-color="#08316d"/><stop offset="0.658" stop-color="#083d7e"/><stop offset="0.663" stop-color="#135fa7"/><stop offset="0.667" stop-color="#569fce"/><stop offset="0.672" stop-color="#bad6eb"/><stop offset="0.677" stop-color="#e9f2fa"/><stop offset="0.681" stop-color="#f7fbff"/><stop offset="0.998" stop-color="#f7fbff"/></linearGradient><linearGradient id="gC120" x1="0" y1="0" x2="0" y2="1"><stop offset="0.00229" stop-color="#08306b"/><stop offset="0.644" stop-color="#08316d"/><stop offset="0.658" stop-color="#083a7a"/><stop offset="0.663" stop-color="#0f5aa3"/><stop offset="0.667" stop-color="#4f9bcb"/><stop offset="0.672" stop-color="#b5d4e9"/><stop offset="0.677" stop-color="#e7f1fa"/><stop offset="0.681" stop-color="#f7fbff"/><stop offset="0.998" stop-color="#f7fbff"/></linearGradient><linearGradient id="gC121" x1="0" y1="0" x2="0" y2="1"><stop offset="0.00229" stop-color="#08306b"/><stop offset="0.644" stop-color="#08306c"/><stop offset="0.658" stop-color="#083776"/><stop offset="0.663" stop-color="#0b559f"/><stop offset="0.667" stop-color="#4896c8"/><stop offset="0.672" stop-color="#afd1e7"/><stop offset="0.677" stop-color="#e5eff9"/><stop offset="0.681" stop-color="#f7fbff"/><stop offset="0.998" stop-color="#f7fbff"/></linearGradient><linearGradient id="gC122" x1="0" y1="0" x2="0" y2="1"><stop offset="0.00229" stop-color="#08306b"/><stop offset="0.649" stop-color="#08316c"/><stop offset="0.658" stop-color="#083572"/><stop offset="0.663" stop-color="#08519b"/><stop offset="0.667" stop-color="#4191c6"/><stop offset="0.672" stop-color="#aacfe5"/><stop offset="0.677" stop-color="#e3eef9"/><stop offset="0.681" stop-color="#f7fbff"/><stop offset="0.998" stop-color="#f7fbff"/></linearGradient><linearGradient id="gC123" x1="0" y1="0" x2="0" y2="1"><stop offset="0.00229" stop-color="#08306b"/><stop offset="0.654" stop-color="#08316c"/><stop offset="0.658" stop-color="#08336f"/><stop offset="0.663" stop-color="#084c95"/><stop offset="0.667" stop-color="#3c8cc3"/><stop offset="0.672" stop-color="#a4cde3"/><stop offset="0.677" stop-color="#e1edf8"/><stop offset="0.681" stop-color="#f7fbff"/><stop offset="0.998" stop-color="#f7fbff"/></linearGradient><linearGradient id="gC124" x1="0" y1="0" x2="0" y2="1"><stop offset="0.00229" stop-color="#08306b"/><stop offset="0.658" stop-color="#08316d"/><stop offset="0.663" stop-color="#08488f"/><stop offset="0.667" stop-color="#3787c0"/><stop offset="0.672" stop-color="#9fcae1"/><stop offset="0.677" stop-color="#dfecf7"/><stop offset="0.681" stop-color="#f7fbff"/><stop offset="0.998" stop-color="#f7fbff"/></linearGradient><linearGradient id="gC125" x1="0" y1="0" x2="0" y2="1"><stop offset="0.00229" stop-color="#083471"/><stop offset="0.0344" stop-color="#08306b"/><stop offset="0.658" stop-color="#08306b"/><stop offset="0.663" stop-color="#084489"/><stop offset="0.667" stop-color="#3282be"/><stop offset="0.672" stop-color="#99c7e0"/><stop offset="0.677" stop-color="#ddeaf7"/><stop offset="0.681" stop-color="#f6fbff"/><stop offset="0.998" stop-color="#f7fbff"/></linearGradient><linearGradient id="gC126" x1="0" y1="0" x2="0" y2="1"><stop offset="0.00229" stop-color="#083e80"/><stop offset="0.0161" stop-color="#084b92"/><stop offset="0.0298" stop-color="#0a498f"/><stop offset="0.0344" stop-color="#09468a"/><stop offset="0.0436" stop-color="#083b7c"/><stop offset="0.0482" stop-color="#083877"/><stop offset="0.0528" stop-color="#08306b"/><stop offset="0.658" stop-color="#08306b"/><stop offset="0.663" stop-color="#084285"/><stop offset="0.667" stop-color="#2e7ebc"/><stop offset="0.672" stop-color="#93c4df"/><stop offset="0.677" stop-color="#dbe9f6"/><stop offset="0.681" stop-color="#f6faff"/><stop offset="0.998" stop-color="#f7fbff"/></linearGradient><linearGradient id="gC127" x1="0" y1="0" x2="0" y2="1"><stop offset="0.00229" stop-color="#084387"/><stop offset="0.0115" stop-color="#0d57a1"/><stop offset="0.0252" stop-color="#2473b5"/><stop offset="0.0344" stop-color="#2e7ebb"/><stop offset="0.0436" stop-color="#2a79b8"/><stop offset="0.0573" stop-color="#1763aa"/><stop offset="0.0665" stop-color="#0e4f94"/><stop offset="0.0711" stop-color="#094285"/><stop offset="0.0894" stop-color="#08306b"/><stop offset="0.658" stop-color="#08306b"/><stop offset="0.663" stop-color="#084082"/><stop offset="0.667" stop-color="#2a7aba"/><stop offset="0.672" stop-color="#8dc1dd"/><stop offset="0.677" stop-color="#d9e8f5"/><stop offset="0.681" stop-color="#f6faff"/><stop offset="0.998" stop-color="#f7fbff"/></linearGradient><linearGradient id="gC128" x1="0" y1="0" x2="0" y2="1"><stop offset="0.00229" stop-color="#084387"/><stop offset="0.00688" stop-color="#084c95"/><stop offset="0.0115" stop-color="#0e59a2"/><stop offset="0.0206" stop-color="#2979b9"/><stop offset="0.0298" stop-color="#509ccc"/><stop offset="0.0344" stop-color="#63a9d3"/><stop offset="0.039" stop-color="#70b0d6"/><stop offset="0.0482" stop-color="#79b5d8"/><stop offset="0.0528" stop-color="#76b3d7"/><stop offset="0.0573" stop-color="#6cadd4"/><stop offset="0.0757" stop-color="#2f7ebb"/><stop offset="0.0894" stop-color="#125ca4"/><stop offset="0.0986" stop-color="#0b4b91"/><stop offset="0.103" stop-color="#084082"/><stop offset="0.117" stop-color="#083674"/><stop offset="0.122" stop-color="#08306b"/><stop offset="0.658" stop-color="#08306b"/><stop offset="0.663" stop-color="#083e80"/><stop offset="0.667" stop-color="#2777b8"/><stop offset="0.672" stop-color="#88bedc"/><stop offset="0.677" stop-color="#d8e7f5"/><stop offset="0.681" stop-color="#f5faff"/><stop offset="0.998" stop-color="#f7fbff"/></linearGradient><linearGradient id="gC129" x1="0" y1="0" x2="0" y2="1"><stop offset="0.00229" stop-color="#084387"/><stop offset="0.00688" stop-color="#084c95"/><stop offset="0.0115" stop-color="#0e59a2"/><stop offset="0.0206" stop-color="#2a7ab9"/><stop offset="0.0252" stop-color="#3d8dc3"/><stop offset="0.0298" stop-color="#58a1cf"/><stop offset="0.039" stop-color="#99c7e0"/><stop offset="0.0436" stop-color="#aed1e7"/><stop offset="0.0482" stop-color="#bed8ec"/><stop offset="0.0528" stop-color="#c4dbee"/><stop offset="0.0573" stop-color="#c4dbee"/><stop offset="0.0619" stop-color="#bcd8eb"/><stop offset="0.0665" stop-color="#afd1e7"/><stop offset="0.0849" stop-color="#61a6d1"/><stop offset="0.0986" stop-color="#3383be"/><stop offset="0.112" stop-color="#1764ab"/><stop offset="0.131" stop-color="#08478e"/><stop offset="0.135" stop-color="#083d7f"/><stop offset="0.149" stop-color="#083674"/><stop offset="0.154" stop-color="#08306b"/><stop offset="0.658" stop-color="#08306b"/><stop offset="0.663" stop-color="#083d7f"/><stop offset="0.667" stop-color="#2575b7"/><stop offset="0.672" stop-color="#83bbdb"/><stop offset="0.677" stop-color="#d6e6f4"/><stop offset="0.681" stop-color="#f5fafe"/><stop offset="0.998" stop-color="#f7fbff"/></linearGradient><linearGradient id="gC130" x1="0" y1="0" x2="0" y2="1"><stop offset="0.00229" stop-color="#084387"/><stop offset="0.00688" stop-color="#084c95"/><stop offset="0.0115" stop-color="#0e59a2"/><stop offset="0.0206" stop-color="#2a7ab9"/><stop offset="0.0252" stop-color="#3d8dc3"/><stop offset="0.0298" stop-color="#58a1cf"/><stop offset="0.039" stop-color="#9bc8e0"/><stop offset="0.0482" stop-color="#ccdff1"/><stop offset="0.0573" stop-color="#e3eef9"/><stop offset="0.0619" stop-color="#e4eff9"/><stop offset="0.0757" stop-color="#d2e3f3"/><stop offset="0.0849" stop-color="#b8d5ea"/><stop offset="0.108" stop-color="#59a2cf"/><stop offset="0.122" stop-color="#3383be"/><stop offset="0.14" stop-color="#1561a9"/><stop offset="0.158" stop-color="#084a91"/><stop offset="0.163" stop-color="#08458a"/><stop offset="0.167" stop-color="#083c7c"/><stop offset="0.181" stop-color="#083673"/><stop offset="0.186" stop-color="#08306b"/><stop offset="0.658" stop-color="#08306b"/><stop offset="0.663" stop-color="#083c7d"/><stop offset="0.667" stop-color="#2373b6"/><stop offset="0.672" stop-color="#80b9da"/><stop offset="0.677" stop-color="#d5e5f4"/><stop offset="0.681" stop-color="#f5fafe"/><stop offset="0.998" stop-color="#f7fbff"/></linearGradient><linearGradient id="gC131" x1="0" y1="0" x2="0" y2="1"><stop offset="0.00229" stop-color="#084387"/><stop offset="0.00688" stop-color="#084c95"/><stop offset="0.0115" stop-color="#0e59a2"/><stop offset="0.0206" stop-color="#2a7ab9"/><stop offset="0.0252" stop-color="#3d8dc3"/><stop offset="0.0298" stop-color="#58a1cf"/><stop offset="0.039" stop-color="#9bc8e0"/><stop offset="0.0482" stop-color="#ccdff1"/><stop offset="0.0573" stop-color="#e6f0fa"/><stop offset="0.0665" stop-color="#f0f7fd"/><stop offset="0.0757" stop-color="#eff6fc"/><stop offset="0.0894" stop-color="#d9e8f5"/><stop offset="0.103" stop-color="#b6d4e9"/><stop offset="0.126" stop-color="#5fa6d1"/><stop offset="0.14" stop-color="#3b8bc2"/><stop offset="0.158" stop-color="#1d6bb0"/><stop offset="0.177" stop-color="#0c539c"/><stop offset="0.195" stop-color="#084285"/><stop offset="0.2" stop-color="#083a79"/><stop offset="0.213" stop-color="#083573"/><stop offset="0.218" stop-color="#08306b"/><stop offset="0.658" stop-color="#08306b"/><stop offset="0.663" stop-color="#083c7c"/><stop offset="0.667" stop-color="#2171b5"/><stop offset="0.672" stop-color="#7db8da"/><stop offset="0.677" stop-color="#d4e4f4"/><stop offset="0.681" stop-color="#f4f9fe"/><stop offset="0.86" stop-color="#f7fbff"/><stop offset="0.998" stop-color="#f7fbff"/></linearGradient><linearGradient id="gC132" x1="0" y1="0" x2="0" y2="1"><stop offset="0.00229" stop-color="#084387"/><stop offset="0.00688" stop-color="#084c95"/><stop offset="0.0115" stop-color="#0e59a2"/><stop offset="0.0206" stop-color="#2a7ab9"/><stop offset="0.0252" stop-color="#3d8dc3"/><stop offset="0.0298" stop-color="#58a1cf"/><stop offset="0.039" stop-color="#9bc8e0"/><stop offset="0.0482" stop-color="#ccdff1"/><stop offset="0.0573" stop-color="#e6f0fa"/><stop offset="0.0711" stop-color="#f3f9fe"/><stop offset="0.0849" stop-color="#f5fafe"/><stop offset="0.0986" stop-color="#e5eff9"/><stop offset="0.112" stop-color="#cadef0"/><stop offset="0.126" stop-color="#a1cbe3"/><stop offset="0.144" stop-color="#63a8d2"/><stop offset="0.163" stop-color="#3989c1"/><stop offset="0.186" stop-color="#1865ac"/><stop offset="0.204" stop-color="#0a5099"/><stop offset="0.227" stop-color="#083f81"/><stop offset="0.232" stop-color="#083877"/><stop offset="0.245" stop-color="#083472"/><stop offset="0.25" stop-color="#08306b"/><stop offset="0.658" stop-color="#08306b"/><stop offset="0.663" stop-color="#083b7b"/><stop offset="0.667" stop-color="#2070b4"/><stop offset="0.672" stop-color="#7bb7d9"/><stop offset="0.677" stop-color="#d3e4f3"/><stop offset="0.681" stop-color="#f4f9fe"/><stop offset="0.718" stop-color="#f7fbff"/><stop offset="0.998" stop-color="#f7fbff"/></linearGradient><linearGradient id="gC133" x1="0" y1="0" x2="0" y2="1"><stop offset="0.00229" stop-color="#084387"/><stop offset="0.00688" stop-color="#084c95"/><stop offset="0.0115" stop-color="#0e59a2"/><stop offset="0.0206" stop-color="#2a7ab9"/><stop offset="0.0252" stop-color="#3d8dc3"/><stop offset="0.0298" stop-color="#58a1cf"/><stop offset="0.039" stop-color="#9bc8e0"/><stop offset="0.0482" stop-color="#ccdff1"/><stop offset="0.0573" stop-color="#e6f0fa"/><stop offset="0.0711" stop-color="#f3f9fe"/><stop offset="0.094" stop-color="#f7fbff"/><stop offset="0.108" stop-color="#ecf4fc"/><stop offset="0.131" stop-color="#c4dbee"/><stop offset="0.149" stop-color="#8fc2de"/><stop offset="0.167" stop-color="#5aa2cf"/><stop offset="0.186" stop-color="#3383be"/><stop offset="0.204" stop-color="#1a68ae"/><stop offset="0.227" stop-color="#0a519a"/><stop offset="0.264" stop-color="#083b7b"/><stop offset="0.268" stop-color="#083674"/><stop offset="0.278" stop-color="#083471"/><stop offset="0.282" stop-color="#08306b"/><stop offset="0.658" stop-color="#08306b"/><stop offset="0.663" stop-color="#083b7b"/><stop offset="0.667" stop-color="#2070b4"/><stop offset="0.672" stop-color="#7ab6d9"/><stop offset="0.677" stop-color="#d3e3f3"/><stop offset="0.681" stop-color="#f4f9fe"/><stop offset="0.704" stop-color="#f7fbff"/><stop offset="0.998" stop-color="#f7fbff"/></linearGradient><linearGradient id="gC134" x1="0" y1="0" x2="0" y2="1"><stop offset="0.00229" stop-color="#084387"/><stop offset="0.00688" stop-color="#084c95"/><stop offset="0.0115" stop-color="#0e59a2"/><stop offset="0.0206" stop-color="#2a7ab9"/><stop offset="0.0252" stop-color="#3d8dc3"/><stop offset="0.0298" stop-color="#58a1cf"/><stop offset="0.039" stop-color="#9bc8e0"/><stop offset="0.0482" stop-color="#ccdff1"/><stop offset="0.0573" stop-color="#e6f0fa"/><stop offset="0.0711" stop-color="#f3f9fe"/><stop offset="0.103" stop-color="#f7fbff"/><stop offset="0.117" stop-color="#f1f7fd"/><stop offset="0.144" stop-color="#c7ddef"/><stop offset="0.163" stop-color="#9ac7e1"/><stop offset="0.186" stop-color="#559fce"/><stop offset="0.204" stop-color="#3282be"/><stop offset="0.227" stop-color="#1764ab"/><stop offset="0.255" stop-color="#084e97"/><stop offset="0.296" stop-color="#083a79"/><stop offset="0.3" stop-color="#083573"/><stop offset="0.31" stop-color="#083471"/><stop offset="0.314" stop-color="#08306b"/><stop offset="0.658" stop-color="#08306b"/><stop offset="0.663" stop-color="#083a7a"/><stop offset="0.667" stop-color="#206fb4"/><stop offset="0.672" stop-color="#79b6d9"/><stop offset="0.677" stop-color="#d2e3f3"/><stop offset="0.681" stop-color="#f4f9fe"/><stop offset="0.7" stop-color="#f7fbff"/><stop offset="0.998" stop-color="#f7fbff"/></linearGradient><linearGradient id="gC135" x1="0" y1="0" x2="0" y2="1"><stop offset="0.00229" stop-color="#084387"/><stop offset="0.00688" stop-color="#084c95"/><stop offset="0.0115" stop-color="#0e59a2"/><stop offset="0.0206" stop-color="#2a7ab9"/><stop offset="0.0252" stop-color="#3d8dc3"/><stop offset="0.0298" stop-color="#58a1cf"/><stop offset="0.039" stop-color="#9bc8e0"/><stop offset="0.0482" stop-color="#ccdff1"/><stop offset="0.0573" stop-color="#e6f0fa"/><stop offset="0.0711" stop-color="#f3f9fe"/><stop offset="0.108" stop-color="#f7fbff"/><stop offset="0.126" stop-color="#f4f9fe"/><stop offset="0.154" stop-color="#d1e3f3"/><stop offset="0.167" stop-color="#b7d5ea"/><stop offset="0.186" stop-color="#7eb9da"/><stop offset="0.2" stop-color="#59a1cf"/><stop offset="0.218" stop-color="#3686c0"/><stop offset="0.241" stop-color="#1b6aaf"/><stop offset="0.273" stop-color="#09519a"/><stop offset="0.323" stop-color="#083a7a"/><stop offset="0.337" stop-color="#083471"/><stop offset="0.351" stop-color="#08306b"/><stop offset="0.658" stop-color="#08306b"/><stop offset="0.663" stop-color="#083a7a"/><stop offset="0.667" stop-color="#1f6fb3"/><stop offset="0.672" stop-color="#78b5d9"/><stop offset="0.677" stop-color="#d2e3f3"/><stop offset="0.681" stop-color="#f4f9fe"/><stop offset="0.7" stop-color="#f7fbff"/><stop offset="0.998" stop-color="#f7fbff"/></linearGradient><linearGradient id="gC136" x1="0" y1="0" x2="0" y2="1"><stop offset="0.00229" stop-color="#084387"/><stop offset="0.00688" stop-color="#084c95"/><stop offset="0.0115" stop-color="#0e59a2"/><stop offset="0.0206" stop-color="#2a7ab9"/><stop offset="0.0252" stop-color="#3d8dc3"/><stop offset="0.0298" stop-color="#58a1cf"/><stop offset="0.039" stop-color="#9bc8e0"/><stop offset="0.0482" stop-color="#ccdff1"/><stop offset="0.0573" stop-color="#e6f0fa"/><stop offset="0.0711" stop-color="#f3f9fe"/><stop offset="0.108" stop-color="#f7fbff"/><stop offset="0.135" stop-color="#f5fafe"/><stop offset="0.158" stop-color="#deebf7"/><stop offset="0.172" stop-color="#cbdef0"/><stop offset="0.19" stop-color="#99c7e0"/><stop offset="0.209" stop-color="#64a9d3"/><stop offset="0.227" stop-color="#3f8fc4"/><stop offset="0.255" stop-color="#1f6eb3"/><stop offset="0.296" stop-color="#09519b"/><stop offset="0.351" stop-color="#083a7b"/><stop offset="0.369" stop-color="#083470"/><stop offset="0.383" stop-color="#08306b"/><stop offset="0.658" stop-color="#08306b"/><stop offset="0.663" stop-color="#083a7a"/><stop offset="0.667" stop-color="#1f6fb3"/><stop offset="0.672" stop-color="#78b5d9"/><stop offset="0.677" stop-color="#d2e3f3"/><stop offset="0.681" stop-color="#f4f9fe"/><stop offset="0.7" stop-color="#f7fbff"/><stop offset="0.998" stop-color="#f7fbff"/></linearGradient><linearGradient id="gC137" x1="0" y1="0" x2="0" y2="1"><stop offset="0.00229" stop-color="#084387"/><stop offset="0.00688" stop-color="#084c95"/><stop offset="0.0115" stop-color="#0e59a2"/><stop offset="0.0206" stop-color="#2a7ab9"/><stop offset="0.0252" stop-color="#3d8dc3"/><stop offset="0.0298" stop-color="#58a1cf"/><stop offset="0.039" stop-color="#9bc8e0"/><stop offset="0.0482" stop-color="#ccdff1"/><stop offset="0.0573" stop-color="#e6f0fa"/><stop offset="0.0711" stop-color="#f3f9fe"/><stop offset="0.108" stop-color="#f7fbff"/><stop offset="0.149" stop-color="#f4f9fe"/><stop offset="0.167" stop-color="#e3eef9"/><stop offset="0.186" stop-color="#c4dbee"/><stop offset="0.209" stop-color="#86bddc"/><stop offset="0.222" stop-color="#62a8d2"/><stop offset="0.241" stop-color="#4090c5"/><stop offset="0.273" stop-color="#1f6eb3"/><stop offset="0.319" stop-color="#09519b"/><stop offset="0.388" stop-color="#083876"/><stop offset="0.397" stop-color="#083370"/><stop offset="0.411" stop-color="#08306b"/><stop offset="0.658" stop-color="#08306b"/><stop offset="0.663" stop-color="#083a7a"/><stop offset="0.667" stop-color="#1f6fb3"/><stop offset="0.672" stop-color="#78b5d9"/><stop offset="0.677" stop-color="#d2e3f3"/><stop offset="0.681" stop-color="#f4f9fe"/><stop offset="0.7" stop-color="#f7fbff"/><stop offset="0.998" stop-color="#f7fbff"/></linearGradient><linearGradient id="gC138" x1="0" y1="0" x2="0" y2="1"><stop offset="0.00229" stop-color="#084387"/><stop offset="0.00688" stop-color="#084c95"/><stop offset="0.0115" stop-color="#0e59a2"/><stop offset="0.0206" stop-color="#2a7ab9"/><stop offset="0.0252" stop-color="#3d8dc3"/><stop offset="0.0298" stop-color="#58a1cf"/><stop offset="0.039" stop-color="#9bc8e0"/><stop offset="0.0482" stop-color="#ccdff1"/><stop offset="0.0573" stop-color="#e6f0fa"/><stop offset="0.0711" stop-color="#f3f9fe"/><stop offset="0.108" stop-color="#f7fbff"/><stop offset="0.158" stop-color="#f6faff"/><stop offset="0.172" stop-color="#eaf2fb"/><stop offset="0.195" stop-color="#c5dbef"/><stop offset="0.218" stop-color="#8cc0dd"/><stop offset="0.232" stop-color="#68acd5"/><stop offset="0.255" stop-color="#4191c5"/><stop offset="0.287" stop-color="#2272b5"/><stop offset="0.337" stop-color="#0a539d"/><stop offset="0.411" stop-color="#083877"/><stop offset="0.424" stop-color="#083370"/><stop offset="0.443" stop-color="#08306b"/><stop offset="0.658" stop-color="#08306b"/><stop offset="0.663" stop-color="#083a7a"/><stop offset="0.667" stop-color="#1f6fb3"/><stop offset="0.672" stop-color="#78b5d9"/><stop offset="0.677" stop-color="#d2e3f3"/><stop offset="0.681" stop-color="#f4f9fe"/><stop offset="0.7" stop-color="#f7fbff"/><stop offset="0.998" stop-color="#f7fbff"/></linearGradient><linearGradient id="gC139" x1="0" y1="0" x2="0" y2="1"><stop offset="0.00229" stop-color="#084387"/><stop offset="0.00688" stop-color="#084c95"/><stop offset="0.0115" stop-color="#0e59a2"/><stop offset="0.0206" stop-color="#2a7ab9"/><stop offset="0.0252" stop-color="#3d8dc3"/><stop offset="0.0298" stop-color="#58a1cf"/><stop offset="0.039" stop-color="#9bc8e0"/><stop offset="0.0482" stop-color="#ccdff1"/><stop offset="0.0573" stop-color="#e6f0fa"/><stop offset="0.0711" stop-color="#f3f9fe"/><stop offset="0.108" stop-color="#f7fbff"/><stop offset="0.167" stop-color="#f5fafe"/><stop offset="0.186" stop-color="#e0edf8"/><stop offset="0.209" stop-color="#bcd7ec"/><stop offset="0.236" stop-color="#78b5d9"/><stop offset="0.255" stop-color="#559fce"/><stop offset="0.278" stop-color="#3888c1"/><stop offset="0.314" stop-color="#1c6bb0"/><stop offset="0.369" stop-color="#084e98"/><stop offset="0.433" stop-color="#083877"/><stop offset="0.447" stop-color="#083370"/><stop offset="0.466" stop-color="#08306b"/><stop offset="0.658" stop-color="#08306b"/><stop offset="0.663" stop-color="#083a7a"/><stop offset="0.667" stop-color="#1f6fb3"/><stop offset="0.672" stop-color="#78b5d9"/><stop offset="0.677" stop-color="#d2e3f3"/><stop offset="0.681" stop-color="#f4f9fe"/><stop offset="0.7" stop-color="#f7fbff"/><stop offset="0.998" stop-color="#f7fbff"/></linearGradient><linearGradient id="gC140" x1="0" y1="0" x2="0" y2="1"><stop offset="0.00229" stop-color="#084387"/><stop offset="0.00688" stop-color="#084c95"/><stop offset="0.0115" stop-color="#0e59a2"/><stop offset="0.0206" stop-color="#2a7ab9"/><stop offset="0.0252" stop-color="#3d8dc3"/><stop offset="0.0298" stop-color="#58a1cf"/><stop offset="0.039" stop-color="#9bc8e0"/><stop offset="0.0482" stop-color="#ccdff1"/><stop offset="0.0573" stop-color="#e6f0fa"/><stop offset="0.0711" stop-color="#f3f9fe"/><stop offset="0.108" stop-color="#f7fbff"/><stop offset="0.167" stop-color="#f6faff"/><stop offset="0.186" stop-color="#e8f1fa"/><stop offset="0.213" stop-color="#c4dbee"/><stop offset="0.245" stop-color="#7cb7da"/><stop offset="0.264" stop-color="#5ba3d0"/><stop offset="0.291" stop-color="#3a8ac2"/><stop offset="0.333" stop-color="#1c6bb0"/><stop offset="0.388" stop-color="#084f99"/><stop offset="0.452" stop-color="#083a79"/><stop offset="0.466" stop-color="#083775"/><stop offset="0.479" stop-color="#08306b"/><stop offset="0.658" stop-color="#08306b"/><stop offset="0.663" stop-color="#083a7a"/><stop offset="0.667" stop-color="#1f6fb3"/><stop offset="0.672" stop-color="#78b5d9"/><stop offset="0.677" stop-color="#d2e3f3"/><stop offset="0.681" stop-color="#f4f9fe"/><stop offset="0.7" stop-color="#f7fbff"/><stop offset="0.998" stop-color="#f7fbff"/></linearGradient><linearGradient id="gC141" x1="0" y1="0" x2="0" y2="1"><stop offset="0.00229" stop-color="#084387"/><stop offset="0.00688" stop-color="#084c95"/><stop offset="0.0115" stop-color="#0e59a2"/><stop offset="0.0206" stop-color="#2a7ab9"/><stop offset="0.0252" stop-color="#3d8dc3"/><stop offset="0.0298" stop-color="#58a1cf"/><stop offset="0.039" stop-color="#9bc8e0"/><stop offset="0.0482" stop-color="#ccdff1"/><stop offset="0.0573" stop-color="#e6f0fa"/><stop offset="0.0711" stop-color="#f3f9fe"/><stop offset="0.108" stop-color="#f7fbff"/><stop offset="0.167" stop-color="#f6faff"/><stop offset="0.2" stop-color="#deebf7"/><stop offset="0.222" stop-color="#c1d9ed"/><stop offset="0.268" stop-color="#66abd4"/><stop offset="0.3" stop-color="#3f8fc4"/><stop offset="0.346" stop-color="#1e6db2"/><stop offset="0.406" stop-color="#08509a"/><stop offset="0.466" stop-color="#083d7e"/><stop offset="0.489" stop-color="#083876"/><stop offset="0.502" stop-color="#08306b"/><stop offset="0.658" stop-color="#08306b"/><stop offset="0.663" stop-color="#083a7a"/><stop offset="0.667" stop-color="#1f6fb3"/><stop offset="0.672" stop-color="#78b5d9"/><stop offset="0.677" stop-color="#d2e3f3"/><stop offset="0.681" stop-color="#f4f9fe"/><stop offset="0.7" stop-color="#f7fbff"/><stop offset="0.998" stop-color="#f7fbff"/></linearGradient><linearGradient id="gC142" x1="0" y1="0" x2="0" y2="1"><stop offset="0.00229" stop-color="#084387"/><stop offset="0.00688" stop-color="#084c95"/><stop offset="0.0115" stop-color="#0e59a2"/><stop offset="0.0206" stop-color="#2a7ab9"/><stop offset="0.0252" stop-color="#3d8dc3"/><stop offset="0.0298" stop-color="#58a1cf"/><stop offset="0.039" stop-color="#9bc8e0"/><stop offset="0.0482" stop-color="#ccdff1"/><stop offset="0.0573" stop-color="#e6f0fa"/><stop offset="0.0711" stop-color="#f3f9fe"/><stop offset="0.108" stop-color="#f7fbff"/><stop offset="0.167" stop-color="#f6faff"/><stop offset="0.213" stop-color="#d5e5f4"/><stop offset="0.232" stop-color="#bdd7ec"/><stop offset="0.264" stop-color="#81badb"/><stop offset="0.287" stop-color="#5da5d1"/><stop offset="0.323" stop-color="#3888c1"/><stop offset="0.374" stop-color="#1a67ae"/><stop offset="0.429" stop-color="#084e98"/><stop offset="0.511" stop-color="#083877"/><stop offset="0.525" stop-color="#08306b"/><stop offset="0.658" stop-color="#08306b"/><stop offset="0.663" stop-color="#083a7a"/><stop offset="0.667" stop-color="#1f6fb3"/><stop offset="0.672" stop-color="#78b5d9"/><stop offset="0.677" stop-color="#d2e3f3"/><stop offset="0.681" stop-color="#f4f9fe"/><stop offset="0.7" stop-color="#f7fbff"/><stop offset="0.998" stop-color="#f7fbff"/></linearGradient><linearGradient id="gC143" x1="0" y1="0" x2="0" y2="1"><stop offset="0.00229" stop-color="#084387"/><stop offset="0.00688" stop-color="#084c95"/><stop offset="0.0115" stop-color="#0e59a2"/><stop offset="0.0206" stop-color="#2a7ab9"/><stop offset="0.0252" stop-color="#3d8dc3"/><stop offset="0.0298" stop-color="#58a1cf"/><stop offset="0.039" stop-color="#9bc8e0"/><stop offset="0.0482" stop-color="#ccdff1"/><stop offset="0.0573" stop-color="#e6f0fa"/><stop offset="0.0711" stop-color="#f3f9fe"/><stop offset="0.108" stop-color="#f7fbff"/><stop offset="0.167" stop-color="#f6faff"/><stop offset="0.222" stop-color="#d0e2f2"/><stop offset="0.236" stop-color="#c0d9ed"/><stop offset="0.273" stop-color="#83bbdb"/><stop offset="0.296" stop-color="#61a7d2"/><stop offset="0.333" stop-color="#3c8cc3"/><stop offset="0.388" stop-color="#1b69af"/><stop offset="0.447" stop-color="#084f99"/><stop offset="0.534" stop-color="#083877"/><stop offset="0.548" stop-color="#08306b"/><stop offset="0.658" stop-color="#08306b"/><stop offset="0.663" stop-color="#083a7a"/><stop offset="0.667" stop-color="#1f6fb3"/><stop offset="0.672" stop-color="#78b5d9"/><stop offset="0.677" stop-color="#d2e3f3"/><stop offset="0.681" stop-color="#f4f9fe"/><stop offset="0.7" stop-color="#f7fbff"/><stop offset="0.998" stop-color="#f7fbff"/></linearGradient><linearGradient id="gC144" x1="0" y1="0" x2="0" y2="1"><stop offset="0.00229" stop-color="#084387"/><stop offset="0.00688" stop-color="#084c95"/><stop offset="0.0115" stop-color="#0e59a2"/><stop offset="0.0206" stop-color="#2a7ab9"/><stop offset="0.0252" stop-color="#3d8dc3"/><stop offset="0.0298" stop-color="#58a1cf"/><stop offset="0.039" stop-color="#9bc8e0"/><stop offset="0.0482" stop-color="#ccdff1"/><stop offset="0.0573" stop-color="#e6f0fa"/><stop offset="0.0711" stop-color="#f3f9fe"/><stop offset="0.108" stop-color="#f7fbff"/><stop offset="0.167" stop-color="#f6faff"/><stop offset="0.236" stop-color="#c7dcef"/><stop offset="0.278" stop-color="#8bc0dd"/><stop offset="0.305" stop-color="#64a9d3"/><stop offset="0.346" stop-color="#3c8cc3"/><stop offset="0.401" stop-color="#1c6ab0"/><stop offset="0.466" stop-color="#09519c"/><stop offset="0.557" stop-color="#083876"/><stop offset="0.571" stop-color="#08306b"/><stop offset="0.658" stop-color="#08306b"/><stop offset="0.663" stop-color="#083a7a"/><stop offset="0.667" stop-color="#1f6fb3"/><stop offset="0.672" stop-color="#78b5d9"/><stop offset="0.677" stop-color="#d2e3f3"/><stop offset="0.681" stop-color="#f4f9fe"/><stop offset="0.7" stop-color="#f7fbff"/><stop offset="0.998" stop-color="#f7fbff"/></linearGradient><linearGradient id="gC145" x1="0" y1="0" x2="0" y2="1"><stop offset="0.00229" stop-color="#084387"/><stop offset="0.00688" stop-color="#084c95"/><stop offset="0.0115" stop-color="#0e59a2"/><stop offset="0.0206" stop-color="#2a7ab9"/><stop offset="0.0252" stop-color="#3d8dc3"/><stop offset="0.0298" stop-color="#58a1cf"/><stop offset="0.039" stop-color="#9bc8e0"/><stop offset="0.0482" stop-color="#ccdff1"/><stop offset="0.0573" stop-color="#e6f0fa"/><stop offset="0.0711" stop-color="#f3f9fe"/><stop offset="0.108" stop-color="#f7fbff"/><stop offset="0.167" stop-color="#f6faff"/><stop offset="0.245" stop-color="#c2d9ed"/><stop offset="0.282" stop-color="#92c4de"/><stop offset="0.319" stop-color="#61a7d2"/><stop offset="0.365" stop-color="#3989c1"/><stop offset="0.415" stop-color="#1c6bb0"/><stop offset="0.479" stop-color="#0b549f"/><stop offset="0.576" stop-color="#083877"/><stop offset="0.58" stop-color="#083471"/><stop offset="0.589" stop-color="#083370"/><stop offset="0.599" stop-color="#08306b"/><stop offset="0.658" stop-color="#08306b"/><stop offset="0.663" stop-color="#083a7a"/><stop offset="0.667" stop-color="#1f6fb3"/><stop offset="0.672" stop-color="#78b5d9"/><stop offset="0.677" stop-color="#d2e3f3"/><stop offset="0.681" stop-color="#f4f9fe"/><stop offset="0.7" stop-color="#f7fbff"/><stop offset="0.998" stop-color="#f7fbff"/></linearGradient><linearGradient id="gC146" x1="0" y1="0" x2="0" y2="1"><stop offset="0.00229" stop-color="#084387"/><stop offset="0.00688" stop-color="#084c95"/><stop offset="0.0115" stop-color="#0e59a2"/><stop offset="0.0206" stop-color="#2a7ab9"/><stop offset="0.0252" stop-color="#3d8dc3"/><stop offset="0.0298" stop-color="#58a1cf"/><stop offset="0.039" stop-color="#9bc8e0"/><stop offset="0.0482" stop-color="#ccdff1"/><stop offset="0.0573" stop-color="#e6f0fa"/><stop offset="0.0711" stop-color="#f3f9fe"/><stop offset="0.108" stop-color="#f7fbff"/><stop offset="0.167" stop-color="#f6faff"/><stop offset="0.255" stop-color="#bcd7eb"/><stop offset="0.296" stop-color="#8bbfdd"/><stop offset="0.333" stop-color="#5fa6d1"/><stop offset="0.378" stop-color="#3989c1"/><stop offset="0.433" stop-color="#1c6ab0"/><stop offset="0.521" stop-color="#084d96"/><stop offset="0.599" stop-color="#083776"/><stop offset="0.612" stop-color="#08306b"/><stop offset="0.658" stop-color="#08306b"/><stop offset="0.663" stop-color="#083a7a"/><stop offset="0.667" stop-color="#1f6fb3"/><stop offset="0.672" stop-color="#78b5d9"/><stop offset="0.677" stop-color="#d2e3f3"/><stop offset="0.681" stop-color="#f4f9fe"/><stop offset="0.7" stop-color="#f7fbff"/><stop offset="0.998" stop-color="#f7fbff"/></linearGradient><linearGradient id="gC147" x1="0" y1="0" x2="0" y2="1"><stop offset="0.00229" stop-color="#084387"/><stop offset="0.00688" stop-color="#084c95"/><stop offset="0.0115" stop-color="#0e59a2"/><stop offset="0.0206" stop-color="#2a7ab9"/><stop offset="0.0252" stop-color="#3d8dc3"/><stop offset="0.0298" stop-color="#58a1cf"/><stop offset="0.039" stop-color="#9bc8e0"/><stop offset="0.0482" stop-color="#ccdff1"/><stop offset="0.0573" stop-color="#e6f0fa"/><stop offset="0.0711" stop-color="#f3f9fe"/><stop offset="0.108" stop-color="#f7fbff"/><stop offset="0.167" stop-color="#f6faff"/><stop offset="0.264" stop-color="#b6d4e9"/><stop offset="0.3" stop-color="#90c2de"/><stop offset="0.342" stop-color="#60a7d2"/><stop offset="0.392" stop-color="#3888c1"/><stop offset="0.447" stop-color="#1d6cb1"/><stop offset="0.534" stop-color="#084e98"/><stop offset="0.622" stop-color="#083674"/><stop offset="0.64" stop-color="#08306b"/><stop offset="0.658" stop-color="#08306b"/><stop offset="0.663" stop-color="#083a7a"/><stop offset="0.667" stop-color="#1f6fb3"/><stop offset="0.672" stop-color="#78b5d9"/><stop offset="0.677" stop-color="#d2e3f3"/><stop offset="0.681" stop-color="#f4f9fe"/><stop offset="0.7" stop-color="#f7fbff"/><stop offset="0.998" stop-color="#f7fbff"/></linearGradient><linearGradient id="gC148" x1="0" y1="0" x2="0" y2="1"><stop offset="0.00229" stop-color="#084387"/><stop offset="0.00688" stop-color="#084c95"/><stop offset="0.0115" stop-color="#0e59a2"/><stop offset="0.0206" stop-color="#2a7ab9"/><stop offset="0.0252" stop-color="#3d8dc3"/><stop offset="0.0298" stop-color="#58a1cf"/><stop offset="0.039" stop-color="#9bc8e0"/><stop offset="0.0482" stop-color="#ccdff1"/><stop offset="0.0573" stop-color="#e6f0fa"/><stop offset="0.0711" stop-color="#f3f9fe"/><stop offset="0.108" stop-color="#f7fbff"/><stop offset="0.167" stop-color="#f6faff"/><stop offset="0.273" stop-color="#b0d2e7"/><stop offset="0.305" stop-color="#93c4df"/><stop offset="0.351" stop-color="#62a8d2"/><stop offset="0.401" stop-color="#3a8ac2"/><stop offset="0.461" stop-color="#1f6eb3"/><stop offset="0.553" stop-color="#084d97"/><stop offset="0.631" stop-color="#083877"/><stop offset="0.658" stop-color="#08306b"/><stop offset="0.663" stop-color="#083a7a"/><stop offset="0.667" stop-color="#1f6fb3"/><stop offset="0.672" stop-color="#78b5d9"/><stop offset="0.677" stop-color="#d2e3f3"/><stop offset="0.681" stop-color="#f4f9fe"/><stop offset="0.7" stop-color="#f7fbff"/><stop offset="0.998" stop-color="#f7fbff"/></linearGradient><linearGradient id="gC149" x1="0" y1="0" x2="0" y2="1"><stop offset="0.00229" stop-color="#084387"/><stop offset="0.00688" stop-color="#084c95"/><stop offset="0.0115" stop-color="#0e59a2"/><stop offset="0.0206" stop-color="#2a7ab9"/><stop offset="0.0252" stop-color="#3d8dc3"/><stop offset="0.0298" stop-color="#58a1cf"/><stop offset="0.039" stop-color="#9bc8e0"/><stop offset="0.0482" stop-color="#ccdff1"/><stop offset="0.0573" stop-color="#e6f0fa"/><stop offset="0.0711" stop-color="#f3f9fe"/><stop offset="0.108" stop-color="#f7fbff"/><stop offset="0.167" stop-color="#f6faff"/><stop offset="0.273" stop-color="#b0d2e7"/><stop offset="0.31" stop-color="#95c5df"/><stop offset="0.369" stop-color="#5aa3d0"/><stop offset="0.415" stop-color="#3989c2"/><stop offset="0.475" stop-color="#2171b5"/><stop offset="0.562" stop-color="#084f99"/><stop offset="0.631" stop-color="#083b7b"/><stop offset="0.658" stop-color="#083675"/><stop offset="0.663" stop-color="#084082"/><stop offset="0.667" stop-color="#2171b5"/><stop offset="0.672" stop-color="#7ab6d9"/><stop offset="0.677" stop-color="#d2e3f3"/><stop offset="0.681" stop-color="#f4f9fe"/><stop offset="0.7" stop-color="#f7fbff"/><stop offset="0.998" stop-color="#f7fbff"/></linearGradient><linearGradient id="gC150" x1="0" y1="0" x2="0" y2="1"><stop offset="0.00229" stop-color="#084387"/><stop offset="0.00688" stop-color="#084c95"/><stop offset="0.0115" stop-color="#0e59a2"/><stop offset="0.0206" stop-color="#2a7ab9"/><stop offset="0.0252" stop-color="#3d8dc3"/><stop offset="0.0298" stop-color="#58a1cf"/><stop offset="0.039" stop-color="#9bc8e0"/><stop offset="0.0482" stop-color="#ccdff1"/><stop offset="0.0573" stop-color="#e6f0fa"/><stop offset="0.0711" stop-color="#f3f9fe"/><stop offset="0.108" stop-color="#f7fbff"/><stop offset="0.167" stop-color="#f6faff"/><stop offset="0.273" stop-color="#b0d2e7"/><stop offset="0.319" stop-color="#91c3de"/><stop offset="0.388" stop-color="#549ecd"/><stop offset="0.433" stop-color="#3787c0"/><stop offset="0.511" stop-color="#1a68ae"/><stop offset="0.576" stop-color="#084e98"/><stop offset="0.644" stop-color="#083c7d"/><stop offset="0.658" stop-color="#083a7a"/><stop offset="0.663" stop-color="#084387"/><stop offset="0.667" stop-color="#2575b7"/><stop offset="0.672" stop-color="#7eb8da"/><stop offset="0.677" stop-color="#d3e4f3"/><stop offset="0.681" stop-color="#f4f9fe"/><stop offset="0.704" stop-color="#f7fbff"/><stop offset="0.998" stop-color="#f7fbff"/></linearGradient><linearGradient id="gC151" x1="0" y1="0" x2="0" y2="1"><stop offset="0.00229" stop-color="#084387"/><stop offset="0.00688" stop-color="#084c95"/><stop offset="0.0115" stop-color="#0e59a2"/><stop offset="0.0206" stop-color="#2a7ab9"/><stop offset="0.0252" stop-color="#3d8dc3"/><stop offset="0.0298" stop-color="#58a1cf"/><stop offset="0.039" stop-color="#9bc8e0"/><stop offset="0.0482" stop-color="#ccdff1"/><stop offset="0.0573" stop-color="#e6f0fa"/><stop offset="0.0711" stop-color="#f3f9fe"/><stop offset="0.108" stop-color="#f7fbff"/><stop offset="0.167" stop-color="#f6faff"/><stop offset="0.273" stop-color="#b0d2e7"/><stop offset="0.333" stop-color="#8abfdd"/><stop offset="0.401" stop-color="#519ccc"/><stop offset="0.447" stop-color="#3787c0"/><stop offset="0.516" stop-color="#1d6bb1"/><stop offset="0.585" stop-color="#084f99"/><stop offset="0.649" stop-color="#083e80"/><stop offset="0.658" stop-color="#083d7e"/><stop offset="0.663" stop-color="#08468c"/><stop offset="0.667" stop-color="#2878b8"/><stop offset="0.672" stop-color="#80badb"/><stop offset="0.677" stop-color="#d3e4f3"/><stop offset="0.681" stop-color="#f4f9fe"/><stop offset="0.704" stop-color="#f7fbff"/><stop offset="0.998" stop-color="#f7fbff"/></linearGradient><linearGradient id="gC152" x1="0" y1="0" x2="0" y2="1"><stop offset="0.00229" stop-color="#084387"/><stop offset="0.00688" stop-color="#084c95"/><stop offset="0.0115" stop-color="#0e59a2"/><stop offset="0.0206" stop-color="#2a7ab9"/><stop offset="0.0252" stop-color="#3d8dc3"/><stop offset="0.0298" stop-color="#58a1cf"/><stop offset="0.039" stop-color="#9bc8e0"/><stop offset="0.0482" stop-color="#ccdff1"/><stop offset="0.0573" stop-color="#e6f0fa"/><stop offset="0.0711" stop-color="#f3f9fe"/><stop offset="0.108" stop-color="#f7fbff"/><stop offset="0.167" stop-color="#f6faff"/><stop offset="0.273" stop-color="#b0d2e7"/><stop offset="0.351" stop-color="#7fb9da"/><stop offset="0.42" stop-color="#4b98ca"/><stop offset="0.475" stop-color="#3383be"/><stop offset="0.567" stop-color="#0f5aa3"/><stop offset="0.599" stop-color="#084d97"/><stop offset="0.654" stop-color="#084184"/><stop offset="0.658" stop-color="#084083"/><stop offset="0.663" stop-color="#084990"/><stop offset="0.667" stop-color="#2a7aba"/><stop offset="0.672" stop-color="#82bbdb"/><stop offset="0.677" stop-color="#d4e4f4"/><stop offset="0.681" stop-color="#f4f9fe"/><stop offset="0.704" stop-color="#f7fbff"/><stop offset="0.998" stop-color="#f7fbff"/></linearGradient><linearGradient id="gC153" x1="0" y1="0" x2="0" y2="1"><stop offset="0.00229" stop-color="#084387"/><stop offset="0.00688" stop-color="#084c95"/><stop offset="0.0115" stop-color="#0e59a2"/><stop offset="0.0206" stop-color="#2a7ab9"/><stop offset="0.0252" stop-color="#3d8dc3"/><stop offset="0.0298" stop-color="#58a1cf"/><stop offset="0.039" stop-color="#9bc8e0"/><stop offset="0.0482" stop-color="#ccdff1"/><stop offset="0.0573" stop-color="#e6f0fa"/><stop offset="0.0711" stop-color="#f3f9fe"/><stop offset="0.108" stop-color="#f7fbff"/><stop offset="0.167" stop-color="#f6faff"/><stop offset="0.273" stop-color="#b0d2e7"/><stop offset="0.365" stop-color="#78b5d9"/><stop offset="0.438" stop-color="#4796c8"/><stop offset="0.507" stop-color="#2a7aba"/><stop offset="0.589" stop-color="#0a549e"/><stop offset="0.654" stop-color="#084488"/><stop offset="0.658" stop-color="#084387"/><stop offset="0.663" stop-color="#084c94"/><stop offset="0.667" stop-color="#2c7cbb"/><stop offset="0.672" stop-color="#85bcdc"/><stop offset="0.677" stop-color="#d4e5f4"/><stop offset="0.681" stop-color="#f4f9fe"/><stop offset="0.709" stop-color="#f7fbff"/><stop offset="0.998" stop-color="#f7fbff"/></linearGradient><linearGradient id="gC154" x1="0" y1="0" x2="0" y2="1"><stop offset="0.00229" stop-color="#084387"/><stop offset="0.00688" stop-color="#084c95"/><stop offset="0.0115" stop-color="#0e59a2"/><stop offset="0.0206" stop-color="#2a7ab9"/><stop offset="0.0252" stop-color="#3d8dc3"/><stop offset="0.0298" stop-color="#58a1cf"/><stop offset="0.039" stop-color="#9bc8e0"/><stop offset="0.0482" stop-color="#ccdff1"/><stop offset="0.0573" stop-color="#e6f0fa"/><stop offset="0.0711" stop-color="#f3f9fe"/><stop offset="0.108" stop-color="#f7fbff"/><stop offset="0.167" stop-color="#f6faff"/><stop offset="0.273" stop-color="#b0d2e7"/><stop offset="0.383" stop-color="#6eb0d7"/><stop offset="0.456" stop-color="#4594c7"/><stop offset="0.507" stop-color="#2f7fbc"/><stop offset="0.567" stop-color="#1561a9"/><stop offset="0.612" stop-color="#084f99"/><stop offset="0.658" stop-color="#08468b"/><stop offset="0.663" stop-color="#084f98"/><stop offset="0.667" stop-color="#2e7ebc"/><stop offset="0.672" stop-color="#87bddc"/><stop offset="0.677" stop-color="#d5e5f4"/><stop offset="0.681" stop-color="#f4f9fe"/><stop offset="0.709" stop-color="#f7fbff"/><stop offset="0.998" stop-color="#f7fbff"/></linearGradient><linearGradient id="gC155" x1="0" y1="0" x2="0" y2="1"><stop offset="0.00229" stop-color="#084387"/><stop offset="0.00688" stop-color="#084c95"/><stop offset="0.0115" stop-color="#0e59a2"/><stop offset="0.0206" stop-color="#2a7ab9"/><stop offset="0.0252" stop-color="#3d8dc3"/><stop offset="0.0298" stop-color="#58a1cf"/><stop offset="0.039" stop-color="#9bc8e0"/><stop offset="0.0482" stop-color="#ccdff1"/><stop offset="0.0573" stop-color="#e6f0fa"/><stop offset="0.0711" stop-color="#f3f9fe"/><stop offset="0.108" stop-color="#f7fbff"/><stop offset="0.167" stop-color="#f6faff"/><stop offset="0.273" stop-color="#b0d2e7"/><stop offset="0.411" stop-color="#61a7d2"/><stop offset="0.502" stop-color="#3686c0"/><stop offset="0.562" stop-color="#1967ad"/><stop offset="0.617" stop-color="#08519b"/><stop offset="0.658" stop-color="#08488f"/><stop offset="0.663" stop-color="#08519c"/><stop offset="0.667" stop-color="#3080bd"/><stop offset="0.672" stop-color="#89bedc"/><stop offset="0.677" stop-color="#d5e5f4"/><stop offset="0.681" stop-color="#f4f9fe"/><stop offset="0.709" stop-color="#f7fbff"/><stop offset="0.998" stop-color="#f7fbff"/></linearGradient><linearGradient id="gC156" x1="0" y1="0" x2="0" y2="1"><stop offset="0.00229" stop-color="#084387"/><stop offset="0.00688" stop-color="#084c95"/><stop offset="0.0115" stop-color="#0e59a2"/><stop offset="0.0206" stop-color="#2a7ab9"/><stop offset="0.0252" stop-color="#3d8dc3"/><stop offset="0.0298" stop-color="#58a1cf"/><stop offset="0.039" stop-color="#9bc8e0"/><stop offset="0.0482" stop-color="#ccdff1"/><stop offset="0.0573" stop-color="#e6f0fa"/><stop offset="0.0711" stop-color="#f3f9fe"/><stop offset="0.108" stop-color="#f7fbff"/><stop offset="0.167" stop-color="#f6faff"/><stop offset="0.273" stop-color="#b0d2e7"/><stop offset="0.433" stop-color="#59a2cf"/><stop offset="0.498" stop-color="#3d8dc3"/><stop offset="0.567" stop-color="#1a68ae"/><stop offset="0.622" stop-color="#08529c"/><stop offset="0.658" stop-color="#084b93"/><stop offset="0.663" stop-color="#0a549e"/><stop offset="0.667" stop-color="#3282be"/><stop offset="0.672" stop-color="#8bbfdd"/><stop offset="0.677" stop-color="#d5e5f4"/><stop offset="0.681" stop-color="#f4f9fe"/><stop offset="0.713" stop-color="#f7fbff"/><stop offset="0.998" stop-color="#f7fbff"/></linearGradient><linearGradient id="gC157" x1="0" y1="0" x2="0" y2="1"><stop offset="0.00229" stop-color="#084387"/><stop offset="0.00688" stop-color="#084c95"/><stop offset="0.0115" stop-color="#0e59a2"/><stop offset="0.0206" stop-color="#2a7ab9"/><stop offset="0.0252" stop-color="#3d8dc3"/><stop offset="0.0298" stop-color="#58a1cf"/><stop offset="0.039" stop-color="#9bc8e0"/><stop offset="0.0482" stop-color="#ccdff1"/><stop offset="0.0573" stop-color="#e6f0fa"/><stop offset="0.0711" stop-color="#f3f9fe"/><stop offset="0.108" stop-color="#f7fbff"/><stop offset="0.167" stop-color="#f6faff"/><stop offset="0.273" stop-color="#b0d2e7"/><stop offset="0.401" stop-color="#6aaed6"/><stop offset="0.498" stop-color="#4191c5"/><stop offset="0.571" stop-color="#1a68ae"/><stop offset="0.622" stop-color="#0a549e"/><stop offset="0.658" stop-color="#084d97"/><stop offset="0.663" stop-color="#0c56a0"/><stop offset="0.667" stop-color="#3484bf"/><stop offset="0.672" stop-color="#8cc0dd"/><stop offset="0.677" stop-color="#d6e6f4"/><stop offset="0.681" stop-color="#f4f9fe"/><stop offset="0.713" stop-color="#f7fbff"/><stop offset="0.998" stop-color="#f7fbff"/></linearGradient><linearGradient id="gC158" x1="0" y1="0" x2="0" y2="1"><stop offset="0.00229" stop-color="#084387"/><stop offset="0.00688" stop-color="#084c95"/><stop offset="0.0115" stop-color="#0e59a2"/><stop offset="0.0206" stop-color="#2a7ab9"/><stop offset="0.0252" stop-color="#3d8dc3"/><stop offset="0.0298" stop-color="#58a1cf"/><stop offset="0.039" stop-color="#9bc8e0"/><stop offset="0.0482" stop-color="#ccdff1"/><stop offset="0.0573" stop-color="#e6f0fa"/><stop offset="0.0711" stop-color="#f3f9fe"/><stop offset="0.108" stop-color="#f7fbff"/><stop offset="0.167" stop-color="#f6faff"/><stop offset="0.273" stop-color="#b0d2e7"/><stop offset="0.397" stop-color="#6dafd6"/><stop offset="0.498" stop-color="#4493c7"/><stop offset="0.576" stop-color="#1a68ae"/><stop offset="0.631" stop-color="#0a539e"/><stop offset="0.658" stop-color="#08509a"/><stop offset="0.663" stop-color="#0d58a1"/><stop offset="0.667" stop-color="#3686c0"/><stop offset="0.672" stop-color="#8ec1de"/><stop offset="0.677" stop-color="#d6e6f4"/><stop offset="0.681" stop-color="#f4f9fe"/><stop offset="0.718" stop-color="#f7fbff"/><stop offset="0.998" stop-color="#f7fbff"/></linearGradient><linearGradient id="gC159" x1="0" y1="0" x2="0" y2="1"><stop offset="0.00229" stop-color="#084387"/><stop offset="0.00688" stop-color="#084c95"/><stop offset="0.0115" stop-color="#0e59a2"/><stop offset="0.0206" stop-color="#2a7ab9"/><stop offset="0.0252" stop-color="#3d8dc3"/><stop offset="0.0298" stop-color="#58a1cf"/><stop offset="0.039" stop-color="#9bc8e0"/><stop offset="0.0482" stop-color="#ccdff1"/><stop offset="0.0573" stop-color="#e6f0fa"/><stop offset="0.0711" stop-color="#f3f9fe"/><stop offset="0.108" stop-color="#f7fbff"/><stop offset="0.167" stop-color="#f6faff"/><stop offset="0.273" stop-color="#b0d2e7"/><stop offset="0.397" stop-color="#6dafd6"/><stop offset="0.498" stop-color="#4796c8"/><stop offset="0.58" stop-color="#1a68ae"/><stop offset="0.64" stop-color="#0a549e"/><stop offset="0.658" stop-color="#09529d"/><stop offset="0.663" stop-color="#0f5aa3"/><stop offset="0.667" stop-color="#3888c1"/><stop offset="0.672" stop-color="#90c2de"/><stop offset="0.677" stop-color="#d6e6f4"/><stop offset="0.681" stop-color="#f4f9fe"/><stop offset="0.722" stop-color="#f7fbff"/><stop offset="0.998" stop-color="#f7fbff"/></linearGradient><linearGradient id="gC160" x1="0" y1="0" x2="0" y2="1"><stop offset="0.00229" stop-color="#084387"/><stop offset="0.00688" stop-color="#084c95"/><stop offset="0.0115" stop-color="#0e59a2"/><stop offset="0.0206" stop-color="#2a7ab9"/><stop offset="0.0252" stop-color="#3d8dc3"/><stop offset="0.0298" stop-color="#58a1cf"/><stop offset="0.039" stop-color="#9bc8e0"/><stop offset="0.0482" stop-color="#ccdff1"/><stop offset="0.0573" stop-color="#e6f0fa"/><stop offset="0.0711" stop-color="#f3f9fe"/><stop offset="0.108" stop-color="#f7fbff"/><stop offset="0.167" stop-color="#f6faff"/><stop offset="0.273" stop-color="#b0d2e7"/><stop offset="0.397" stop-color="#6dafd6"/><stop offset="0.498" stop-color="#4a97c9"/><stop offset="0.585" stop-color="#1967ad"/><stop offset="0.644" stop-color="#0b559f"/><stop offset="0.658" stop-color="#0a549e"/><stop offset="0.663" stop-color="#105ca4"/><stop offset="0.667" stop-color="#3989c2"/><stop offset="0.672" stop-color="#91c3de"/><stop offset="0.677" stop-color="#d7e6f5"/><stop offset="0.681" stop-color="#f4f9fe"/><stop offset="0.722" stop-color="#f7fbff"/><stop offset="0.998" stop-color="#f7fbff"/></linearGradient><linearGradient id="gC161" x1="0" y1="0" x2="0" y2="1"><stop offset="0.00229" stop-color="#084387"/><stop offset="0.00688" stop-color="#084c95"/><stop offset="0.0115" stop-color="#0e59a2"/><stop offset="0.0206" stop-color="#2a7ab9"/><stop offset="0.0252" stop-color="#3d8dc3"/><stop offset="0.0298" stop-color="#58a1cf"/><stop offset="0.039" stop-color="#9bc8e0"/><stop offset="0.0482" stop-color="#ccdff1"/><stop offset="0.0573" stop-color="#e6f0fa"/><stop offset="0.0711" stop-color="#f3f9fe"/><stop offset="0.108" stop-color="#f7fbff"/><stop offset="0.167" stop-color="#f6faff"/><stop offset="0.273" stop-color="#b0d2e7"/><stop offset="0.397" stop-color="#6dafd6"/><stop offset="0.498" stop-color="#4b98ca"/><stop offset="0.589" stop-color="#1966ad"/><stop offset="0.644" stop-color="#0c57a0"/><stop offset="0.658" stop-color="#0b559f"/><stop offset="0.663" stop-color="#125ea6"/><stop offset="0.667" stop-color="#3b8bc2"/><stop offset="0.672" stop-color="#93c4df"/><stop offset="0.677" stop-color="#d7e6f5"/><stop offset="0.681" stop-color="#f4f9fe"/><stop offset="0.727" stop-color="#f7fbff"/><stop offset="0.998" stop-color="#f7fbff"/></linearGradient><linearGradient id="gC162" x1="0" y1="0" x2="0" y2="1"><stop offset="0.00229" stop-color="#084387"/><stop offset="0.00688" stop-color="#084c95"/><stop offset="0.0115" stop-color="#0e59a2"/><stop offset="0.0206" stop-color="#2a7ab9"/><stop offset="0.0252" stop-color="#3d8dc3"/><stop offset="0.0298" stop-color="#58a1cf"/><stop offset="0.039" stop-color="#9bc8e0"/><stop offset="0.0482" stop-color="#ccdff1"/><stop offset="0.0573" stop-color="#e6f0fa"/><stop offset="0.0711" stop-color="#f3f9fe"/><stop offset="0.108" stop-color="#f7fbff"/><stop offset="0.167" stop-color="#f6faff"/><stop offset="0.273" stop-color="#b0d2e7"/><stop offset="0.397" stop-color="#6dafd6"/><stop offset="0.498" stop-color="#4c99ca"/><stop offset="0.594" stop-color="#1865ac"/><stop offset="0.649" stop-color="#0d58a1"/><stop offset="0.658" stop-color="#0d57a1"/><stop offset="0.663" stop-color="#135fa7"/><stop offset="0.667" stop-color="#3c8cc3"/><stop offset="0.672" stop-color="#94c4df"/><stop offset="0.677" stop-color="#d7e6f5"/><stop offset="0.681" stop-color="#f4f9fe"/><stop offset="0.732" stop-color="#f7fbff"/><stop offset="0.998" stop-color="#f7fbff"/></linearGradient><clipPath id="gCc"><rect x="68.10" y="358.00" width="326.10" height="109.00"/></clipPath><filter id="gCf" x="-2%" y="-2%" width="104%" height="104%" color-interpolation-filters="sRGB"><feGaussianBlur stdDeviation="1.10 0"/></filter></defs>
<g clip-path="url(#gCc)"><g filter="url(#gCf)"><rect x="63.10" y="358.00" width="8.30" height="109.00" fill="url(#gC0)"/><rect x="70.10" y="358.00" width="3.30" height="109.00" fill="url(#gC1)"/><rect x="72.10" y="358.00" width="3.30" height="109.00" fill="url(#gC2)"/><rect x="74.10" y="358.00" width="3.30" height="109.00" fill="url(#gC3)"/><rect x="76.10" y="358.00" width="3.30" height="109.00" fill="url(#gC4)"/><rect x="78.10" y="358.00" width="3.30" height="109.00" fill="url(#gC5)"/><rect x="80.10" y="358.00" width="3.30" height="109.00" fill="url(#gC6)"/><rect x="82.10" y="358.00" width="3.30" height="109.00" fill="url(#gC7)"/><rect x="84.10" y="358.00" width="3.30" height="109.00" fill="url(#gC8)"/><rect x="86.11" y="358.00" width="3.30" height="109.00" fill="url(#gC9)"/><rect x="88.11" y="358.00" width="3.30" height="109.00" fill="url(#gC10)"/><rect x="90.11" y="358.00" width="3.30" height="109.00" fill="url(#gC11)"/><rect x="92.11" y="358.00" width="3.30" height="109.00" fill="url(#gC12)"/><rect x="94.11" y="358.00" width="3.30" height="109.00" fill="url(#gC13)"/><rect x="96.11" y="358.00" width="3.30" height="109.00" fill="url(#gC14)"/><rect x="98.11" y="358.00" width="3.30" height="109.00" fill="url(#gC15)"/><rect x="100.11" y="358.00" width="3.30" height="109.00" fill="url(#gC16)"/><rect x="102.11" y="358.00" width="3.30" height="109.00" fill="url(#gC17)"/><rect x="104.11" y="358.00" width="3.30" height="109.00" fill="url(#gC18)"/><rect x="106.11" y="358.00" width="3.30" height="109.00" fill="url(#gC19)"/><rect x="108.11" y="358.00" width="3.30" height="109.00" fill="url(#gC20)"/><rect x="110.11" y="358.00" width="3.30" height="109.00" fill="url(#gC21)"/><rect x="112.11" y="358.00" width="3.30" height="109.00" fill="url(#gC22)"/><rect x="114.11" y="358.00" width="3.30" height="109.00" fill="url(#gC23)"/><rect x="116.11" y="358.00" width="3.30" height="109.00" fill="url(#gC24)"/><rect x="118.12" y="358.00" width="3.30" height="109.00" fill="url(#gC25)"/><rect x="120.12" y="358.00" width="3.30" height="109.00" fill="url(#gC26)"/><rect x="122.12" y="358.00" width="3.30" height="109.00" fill="url(#gC27)"/><rect x="124.12" y="358.00" width="3.30" height="109.00" fill="url(#gC28)"/><rect x="126.12" y="358.00" width="3.30" height="109.00" fill="url(#gC29)"/><rect x="128.12" y="358.00" width="3.30" height="109.00" fill="url(#gC30)"/><rect x="130.12" y="358.00" width="3.30" height="109.00" fill="url(#gC31)"/><rect x="132.12" y="358.00" width="3.30" height="109.00" fill="url(#gC32)"/><rect x="134.12" y="358.00" width="3.30" height="109.00" fill="url(#gC33)"/><rect x="136.12" y="358.00" width="3.30" height="109.00" fill="url(#gC34)"/><rect x="138.12" y="358.00" width="3.30" height="109.00" fill="url(#gC35)"/><rect x="140.12" y="358.00" width="3.30" height="109.00" fill="url(#gC36)"/><rect x="142.12" y="358.00" width="3.30" height="109.00" fill="url(#gC37)"/><rect x="144.12" y="358.00" width="3.30" height="109.00" fill="url(#gC38)"/><rect x="146.12" y="358.00" width="3.30" height="109.00" fill="url(#gC39)"/><rect x="148.12" y="358.00" width="3.30" height="109.00" fill="url(#gC40)"/><rect x="150.13" y="358.00" width="3.30" height="109.00" fill="url(#gC41)"/><rect x="152.13" y="358.00" width="3.30" height="109.00" fill="url(#gC42)"/><rect x="154.13" y="358.00" width="3.30" height="109.00" fill="url(#gC43)"/><rect x="156.13" y="358.00" width="3.30" height="109.00" fill="url(#gC44)"/><rect x="158.13" y="358.00" width="3.30" height="109.00" fill="url(#gC45)"/><rect x="160.13" y="358.00" width="3.30" height="109.00" fill="url(#gC46)"/><rect x="162.13" y="358.00" width="3.30" height="109.00" fill="url(#gC47)"/><rect x="164.13" y="358.00" width="3.30" height="109.00" fill="url(#gC48)"/><rect x="166.13" y="358.00" width="3.30" height="109.00" fill="url(#gC49)"/><rect x="168.13" y="358.00" width="3.30" height="109.00" fill="url(#gC50)"/><rect x="170.13" y="358.00" width="3.30" height="109.00" fill="url(#gC51)"/><rect x="172.13" y="358.00" width="3.30" height="109.00" fill="url(#gC52)"/><rect x="174.13" y="358.00" width="3.30" height="109.00" fill="url(#gC53)"/><rect x="176.13" y="358.00" width="3.30" height="109.00" fill="url(#gC54)"/><rect x="178.13" y="358.00" width="3.30" height="109.00" fill="url(#gC55)"/><rect x="180.13" y="358.00" width="3.30" height="109.00" fill="url(#gC56)"/><rect x="182.13" y="358.00" width="3.30" height="109.00" fill="url(#gC57)"/><rect x="184.14" y="358.00" width="3.30" height="109.00" fill="url(#gC58)"/><rect x="186.14" y="358.00" width="3.30" height="109.00" fill="url(#gC59)"/><rect x="188.14" y="358.00" width="3.30" height="109.00" fill="url(#gC60)"/><rect x="190.14" y="358.00" width="3.30" height="109.00" fill="url(#gC61)"/><rect x="192.14" y="358.00" width="3.30" height="109.00" fill="url(#gC62)"/><rect x="194.14" y="358.00" width="3.30" height="109.00" fill="url(#gC63)"/><rect x="196.14" y="358.00" width="3.30" height="109.00" fill="url(#gC64)"/><rect x="198.14" y="358.00" width="3.30" height="109.00" fill="url(#gC65)"/><rect x="200.14" y="358.00" width="3.30" height="109.00" fill="url(#gC66)"/><rect x="202.14" y="358.00" width="3.30" height="109.00" fill="url(#gC67)"/><rect x="204.14" y="358.00" width="3.30" height="109.00" fill="url(#gC68)"/><rect x="206.14" y="358.00" width="3.30" height="109.00" fill="url(#gC69)"/><rect x="208.14" y="358.00" width="3.30" height="109.00" fill="url(#gC70)"/><rect x="210.14" y="358.00" width="3.30" height="109.00" fill="url(#gC71)"/><rect x="212.14" y="358.00" width="3.30" height="109.00" fill="url(#gC72)"/><rect x="214.14" y="358.00" width="3.30" height="109.00" fill="url(#gC73)"/><rect x="216.15" y="358.00" width="3.30" height="109.00" fill="url(#gC74)"/><rect x="218.15" y="358.00" width="3.30" height="109.00" fill="url(#gC75)"/><rect x="220.15" y="358.00" width="3.30" height="109.00" fill="url(#gC76)"/><rect x="222.15" y="358.00" width="3.30" height="109.00" fill="url(#gC77)"/><rect x="224.15" y="358.00" width="3.30" height="109.00" fill="url(#gC78)"/><rect x="226.15" y="358.00" width="3.30" height="109.00" fill="url(#gC79)"/><rect x="228.15" y="358.00" width="3.30" height="109.00" fill="url(#gC80)"/><rect x="230.15" y="358.00" width="3.30" height="109.00" fill="url(#gC81)"/><rect x="232.15" y="358.00" width="3.30" height="109.00" fill="url(#gC82)"/><rect x="234.15" y="358.00" width="3.30" height="109.00" fill="url(#gC83)"/><rect x="236.15" y="358.00" width="3.30" height="109.00" fill="url(#gC84)"/><rect x="238.15" y="358.00" width="3.30" height="109.00" fill="url(#gC85)"/><rect x="240.15" y="358.00" width="3.30" height="109.00" fill="url(#gC86)"/><rect x="242.15" y="358.00" width="3.30" height="109.00" fill="url(#gC87)"/><rect x="244.15" y="358.00" width="3.30" height="109.00" fill="url(#gC88)"/><rect x="246.15" y="358.00" width="3.30" height="109.00" fill="url(#gC89)"/><rect x="248.16" y="358.00" width="3.30" height="109.00" fill="url(#gC90)"/><rect x="250.16" y="358.00" width="3.30" height="109.00" fill="url(#gC91)"/><rect x="252.16" y="358.00" width="3.30" height="109.00" fill="url(#gC92)"/><rect x="254.16" y="358.00" width="3.30" height="109.00" fill="url(#gC93)"/><rect x="256.16" y="358.00" width="3.30" height="109.00" fill="url(#gC94)"/><rect x="258.16" y="358.00" width="3.30" height="109.00" fill="url(#gC95)"/><rect x="260.16" y="358.00" width="3.30" height="109.00" fill="url(#gC96)"/><rect x="262.16" y="358.00" width="3.30" height="109.00" fill="url(#gC97)"/><rect x="264.16" y="358.00" width="3.30" height="109.00" fill="url(#gC98)"/><rect x="266.16" y="358.00" width="3.30" height="109.00" fill="url(#gC99)"/><rect x="268.16" y="358.00" width="3.30" height="109.00" fill="url(#gC100)"/><rect x="270.16" y="358.00" width="3.30" height="109.00" fill="url(#gC101)"/><rect x="272.16" y="358.00" width="3.30" height="109.00" fill="url(#gC102)"/><rect x="274.16" y="358.00" width="3.30" height="109.00" fill="url(#gC103)"/><rect x="276.16" y="358.00" width="3.30" height="109.00" fill="url(#gC104)"/><rect x="278.16" y="358.00" width="3.30" height="109.00" fill="url(#gC105)"/><rect x="280.17" y="358.00" width="3.30" height="109.00" fill="url(#gC106)"/><rect x="282.17" y="358.00" width="3.30" height="109.00" fill="url(#gC107)"/><rect x="284.17" y="358.00" width="3.30" height="109.00" fill="url(#gC108)"/><rect x="286.17" y="358.00" width="3.30" height="109.00" fill="url(#gC109)"/><rect x="288.17" y="358.00" width="3.30" height="109.00" fill="url(#gC110)"/><rect x="290.17" y="358.00" width="3.30" height="109.00" fill="url(#gC111)"/><rect x="292.17" y="358.00" width="3.30" height="109.00" fill="url(#gC112)"/><rect x="294.17" y="358.00" width="3.30" height="109.00" fill="url(#gC113)"/><rect x="296.17" y="358.00" width="3.30" height="109.00" fill="url(#gC114)"/><rect x="298.17" y="358.00" width="3.30" height="109.00" fill="url(#gC115)"/><rect x="300.17" y="358.00" width="3.30" height="109.00" fill="url(#gC116)"/><rect x="302.17" y="358.00" width="3.30" height="109.00" fill="url(#gC117)"/><rect x="304.17" y="358.00" width="3.30" height="109.00" fill="url(#gC118)"/><rect x="306.17" y="358.00" width="3.30" height="109.00" fill="url(#gC119)"/><rect x="308.17" y="358.00" width="3.30" height="109.00" fill="url(#gC120)"/><rect x="310.17" y="358.00" width="3.30" height="109.00" fill="url(#gC121)"/><rect x="312.17" y="358.00" width="3.30" height="109.00" fill="url(#gC122)"/><rect x="314.18" y="358.00" width="3.30" height="109.00" fill="url(#gC123)"/><rect x="316.18" y="358.00" width="3.30" height="109.00" fill="url(#gC124)"/><rect x="318.18" y="358.00" width="3.30" height="109.00" fill="url(#gC125)"/><rect x="320.18" y="358.00" width="3.30" height="109.00" fill="url(#gC126)"/><rect x="322.18" y="358.00" width="3.30" height="109.00" fill="url(#gC127)"/><rect x="324.18" y="358.00" width="3.30" height="109.00" fill="url(#gC128)"/><rect x="326.18" y="358.00" width="3.30" height="109.00" fill="url(#gC129)"/><rect x="328.18" y="358.00" width="3.30" height="109.00" fill="url(#gC130)"/><rect x="330.18" y="358.00" width="3.30" height="109.00" fill="url(#gC131)"/><rect x="332.18" y="358.00" width="3.30" height="109.00" fill="url(#gC132)"/><rect x="334.18" y="358.00" width="3.30" height="109.00" fill="url(#gC133)"/><rect x="336.18" y="358.00" width="3.30" height="109.00" fill="url(#gC134)"/><rect x="338.18" y="358.00" width="3.30" height="109.00" fill="url(#gC135)"/><rect x="340.18" y="358.00" width="3.30" height="109.00" fill="url(#gC136)"/><rect x="342.18" y="358.00" width="3.30" height="109.00" fill="url(#gC137)"/><rect x="344.18" y="358.00" width="3.30" height="109.00" fill="url(#gC138)"/><rect x="346.19" y="358.00" width="3.30" height="109.00" fill="url(#gC139)"/><rect x="348.19" y="358.00" width="3.30" height="109.00" fill="url(#gC140)"/><rect x="350.19" y="358.00" width="3.30" height="109.00" fill="url(#gC141)"/><rect x="352.19" y="358.00" width="3.30" height="109.00" fill="url(#gC142)"/><rect x="354.19" y="358.00" width="3.30" height="109.00" fill="url(#gC143)"/><rect x="356.19" y="358.00" width="3.30" height="109.00" fill="url(#gC144)"/><rect x="358.19" y="358.00" width="3.30" height="109.00" fill="url(#gC145)"/><rect x="360.19" y="358.00" width="3.30" height="109.00" fill="url(#gC146)"/><rect x="362.19" y="358.00" width="3.30" height="109.00" fill="url(#gC147)"/><rect x="364.19" y="358.00" width="3.30" height="109.00" fill="url(#gC148)"/><rect x="366.19" y="358.00" width="3.30" height="109.00" fill="url(#gC149)"/><rect x="368.19" y="358.00" width="3.30" height="109.00" fill="url(#gC150)"/><rect x="370.19" y="358.00" width="3.30" height="109.00" fill="url(#gC151)"/><rect x="372.19" y="358.00" width="3.30" height="109.00" fill="url(#gC152)"/><rect x="374.19" y="358.00" width="3.30" height="109.00" fill="url(#gC153)"/><rect x="376.19" y="358.00" width="3.30" height="109.00" fill="url(#gC154)"/><rect x="378.20" y="358.00" width="3.30" height="109.00" fill="url(#gC155)"/><rect x="380.20" y="358.00" width="3.30" height="109.00" fill="url(#gC156)"/><rect x="382.20" y="358.00" width="3.30" height="109.00" fill="url(#gC157)"/><rect x="384.20" y="358.00" width="3.30" height="109.00" fill="url(#gC158)"/><rect x="386.20" y="358.00" width="3.30" height="109.00" fill="url(#gC159)"/><rect x="388.20" y="358.00" width="3.30" height="109.00" fill="url(#gC160)"/><rect x="390.20" y="358.00" width="3.30" height="109.00" fill="url(#gC161)"/><rect x="392.20" y="358.00" width="8.30" height="109.00" fill="url(#gC162)"/></g></g>
<rect x="68.10" y="358.00" width="326.10" height="109.00" fill="none" stroke="#333333" stroke-opacity="0.42" stroke-width="0.9"/>
<text x="63.40" y="412.54" font-size="13.80" text-anchor="end" >5</text>
<text x="63.40" y="462.14" font-size="13.80" text-anchor="end" >10</text>
<text x="68.10" y="482.80" font-size="13.80" text-anchor="middle" >0</text>
<text x="120.68" y="482.80" font-size="13.80" text-anchor="middle" >2</text>
<text x="173.26" y="482.80" font-size="13.80" text-anchor="middle" >4</text>
<text x="225.84" y="482.80" font-size="13.80" text-anchor="middle" >6</text>
<text x="278.42" y="482.80" font-size="13.80" text-anchor="middle" >8</text>
<text x="331.00" y="482.80" font-size="13.80" text-anchor="middle" >10</text>
<text x="383.58" y="482.80" font-size="13.80" text-anchor="middle" >12</text>
<text x="231.00" y="499.80" font-size="15.90" text-anchor="middle" >time (hour)</text>
<text transform="translate(42.00,411.70) rotate(-90)" font-size="15.90" text-anchor="middle">depth (mm)</text>
<text x="1.70" y="352.10" font-size="16.20" text-anchor="start" font-weight="bold">C</text>
<defs><linearGradient id="cbC" x1="0" y1="0" x2="0" y2="1"><stop offset="0" stop-color="#f7fbff"/><stop offset="0.03125" stop-color="#f1f7fd"/><stop offset="0.0625" stop-color="#eaf3fb"/><stop offset="0.09375" stop-color="#e4eff9"/><stop offset="0.125" stop-color="#deebf7"/><stop offset="0.1562" stop-color="#d8e7f5"/><stop offset="0.1875" stop-color="#d2e3f3"/><stop offset="0.2188" stop-color="#ccdff1"/><stop offset="0.25" stop-color="#c6dbef"/><stop offset="0.2812" stop-color="#bcd7ec"/><stop offset="0.3125" stop-color="#b2d2e8"/><stop offset="0.3438" stop-color="#a8cee4"/><stop offset="0.375" stop-color="#9ecae1"/><stop offset="0.4062" stop-color="#91c3de"/><stop offset="0.4375" stop-color="#84bcdc"/><stop offset="0.4688" stop-color="#78b5d9"/><stop offset="0.5" stop-color="#6baed6"/><stop offset="0.5312" stop-color="#61a7d2"/><stop offset="0.5625" stop-color="#56a0ce"/><stop offset="0.5938" stop-color="#4c99ca"/><stop offset="0.625" stop-color="#4292c6"/><stop offset="0.6562" stop-color="#3a8ac2"/><stop offset="0.6875" stop-color="#3282be"/><stop offset="0.7188" stop-color="#2979b9"/><stop offset="0.75" stop-color="#2171b5"/><stop offset="0.7812" stop-color="#1b69af"/><stop offset="0.8125" stop-color="#1461a8"/><stop offset="0.8438" stop-color="#0e59a2"/><stop offset="0.875" stop-color="#08519c"/><stop offset="0.9062" stop-color="#084990"/><stop offset="0.9375" stop-color="#084084"/><stop offset="0.9688" stop-color="#083877"/><stop offset="1" stop-color="#08306b"/></linearGradient></defs><rect x="408.60" y="355.70" width="10.00" height="115.60" fill="url(#cbC)" stroke="#9a9a9a" stroke-width="0.6"/>
<text x="422.00" y="476.24" font-size="13.80" text-anchor="start" >0</text>
<text x="422.00" y="453.12" font-size="13.80" text-anchor="start" >0.2</text>
<text x="422.00" y="430.00" font-size="13.80" text-anchor="start" >0.4</text>
<text x="422.00" y="406.88" font-size="13.80" text-anchor="start" >0.6</text>
<text x="422.00" y="383.76" font-size="13.80" text-anchor="start" >0.8</text>
<text x="422.00" y="360.64" font-size="13.80" text-anchor="start" >1</text>
<g stroke="#555" stroke-width="0.6"><line x1="418.60" y1="471.30" x2="417.00" y2="471.30"/><line x1="418.60" y1="448.18" x2="417.00" y2="448.18"/><line x1="418.60" y1="425.06" x2="417.00" y2="425.06"/><line x1="418.60" y1="401.94" x2="417.00" y2="401.94"/><line x1="418.60" y1="378.82" x2="417.00" y2="378.82"/><line x1="418.60" y1="355.70" x2="417.00" y2="355.70"/></g>
<text x="470.80" y="342.20" font-size="13.00" text-anchor="end" >density (kg m<tspan dy="-5.20" font-size="9.75">-3</tspan><tspan dy="5.20">)</tspan></text>
<defs><linearGradient id="gD0" x1="0" y1="0" x2="0" y2="1"><stop offset="0.00229" stop-color="#2777b8"/><stop offset="0.342" stop-color="#1a69ae"/><stop offset="0.365" stop-color="#2474b7"/><stop offset="0.392" stop-color="#4594c7"/><stop offset="0.415" stop-color="#75b3d8"/><stop offset="0.433" stop-color="#a4cce3"/><stop offset="0.452" stop-color="#c8dcf0"/><stop offset="0.489" stop-color="#ecf4fb"/><stop offset="0.516" stop-color="#f7fbff"/><stop offset="0.998" stop-color="#f7fbff"/></linearGradient><linearGradient id="gD1" x1="0" y1="0" x2="0" y2="1"><stop offset="0.00229" stop-color="#2777b8"/><stop offset="0.342" stop-color="#1b69af"/><stop offset="0.365" stop-color="#2575b7"/><stop offset="0.392" stop-color="#4695c8"/><stop offset="0.415" stop-color="#76b4d8"/><stop offset="0.433" stop-color="#a5cde3"/><stop offset="0.452" stop-color="#c8ddf0"/><stop offset="0.489" stop-color="#ecf4fb"/><stop offset="0.516" stop-color="#f7fbff"/><stop offset="0.998" stop-color="#f7fbff"/></linearGradient><linearGradient id="gD2" x1="0" y1="0" x2="0" y2="1"><stop offset="0.00229" stop-color="#2878b8"/><stop offset="0.342" stop-color="#1b69af"/><stop offset="0.365" stop-color="#2575b7"/><stop offset="0.392" stop-color="#4795c8"/><stop offset="0.415" stop-color="#77b4d8"/><stop offset="0.433" stop-color="#a5cde4"/><stop offset="0.452" stop-color="#c9ddf0"/><stop offset="0.489" stop-color="#ecf4fc"/><stop offset="0.516" stop-color="#f7fbff"/><stop offset="0.998" stop-color="#f7fbff"/></linearGradient><linearGradient id="gD3" x1="0" y1="0" x2="0" y2="1"><stop offset="0.00229" stop-color="#2878b9"/><stop offset="0.342" stop-color="#1b6aaf"/><stop offset="0.365" stop-color="#2676b7"/><stop offset="0.388" stop-color="#4090c5"/><stop offset="0.411" stop-color="#6caed6"/><stop offset="0.433" stop-color="#a6cde4"/><stop offset="0.452" stop-color="#c9ddf0"/><stop offset="0.489" stop-color="#ecf4fc"/><stop offset="0.516" stop-color="#f7fbff"/><stop offset="0.998" stop-color="#f7fbff"/></linearGradient><linearGradient id="gD4" x1="0" y1="0" x2="0" y2="1"><stop offset="0.00229" stop-color="#2878b9"/><stop offset="0.342" stop-color="#1b6aaf"/><stop offset="0.365" stop-color="#2676b8"/><stop offset="0.388" stop-color="#4191c5"/><stop offset="0.411" stop-color="#6dafd6"/><stop offset="0.433" stop-color="#a7cee4"/><stop offset="0.452" stop-color="#c9ddf0"/><stop offset="0.489" stop-color="#edf4fc"/><stop offset="0.516" stop-color="#f7fbff"/><stop offset="0.998" stop-color="#f7fbff"/></linearGradient><linearGradient id="gD5" x1="0" y1="0" x2="0" y2="1"><stop offset="0.00229" stop-color="#2878b9"/><stop offset="0.342" stop-color="#1c6ab0"/><stop offset="0.365" stop-color="#2777b8"/><stop offset="0.388" stop-color="#4191c6"/><stop offset="0.411" stop-color="#6eafd7"/><stop offset="0.433" stop-color="#a7cee4"/><stop offset="0.452" stop-color="#cadef0"/><stop offset="0.489" stop-color="#edf5fc"/><stop offset="0.516" stop-color="#f7fbff"/><stop offset="0.998" stop-color="#f7fbff"/></linearGradient><linearGradient id="gD6" x1="0" y1="0" x2="0" y2="1"><stop offset="0.00229" stop-color="#2979b9"/><stop offset="0.342" stop-color="#1c6ab0"/><stop offset="0.365" stop-color="#2777b8"/><stop offset="0.388" stop-color="#4292c6"/><stop offset="0.411" stop-color="#6fb0d7"/><stop offset="0.433" stop-color="#a8cee5"/><stop offset="0.452" stop-color="#cadef0"/><stop offset="0.489" stop-color="#edf5fc"/><stop offset="0.516" stop-color="#f7fbff"/><stop offset="0.998" stop-color="#f7fbff"/></linearGradient><linearGradient id="gD7" x1="0" y1="0" x2="0" y2="1"><stop offset="0.00229" stop-color="#2979b9"/><stop offset="0.342" stop-color="#1c6bb0"/><stop offset="0.365" stop-color="#2878b8"/><stop offset="0.388" stop-color="#4392c6"/><stop offset="0.411" stop-color="#6fb0d7"/><stop offset="0.433" stop-color="#a9cfe5"/><stop offset="0.447" stop-color="#c5daef"/><stop offset="0.484" stop-color="#eaf3fb"/><stop offset="0.511" stop-color="#f7fbff"/><stop offset="0.998" stop-color="#f7fbff"/></linearGradient><linearGradient id="gD8" x1="0" y1="0" x2="0" y2="1"><stop offset="0.00229" stop-color="#2979b9"/><stop offset="0.342" stop-color="#1c6bb0"/><stop offset="0.365" stop-color="#2878b9"/><stop offset="0.388" stop-color="#4393c6"/><stop offset="0.411" stop-color="#70b1d7"/><stop offset="0.433" stop-color="#a9cfe5"/><stop offset="0.447" stop-color="#c5dbef"/><stop offset="0.484" stop-color="#eaf3fb"/><stop offset="0.511" stop-color="#f7fbff"/><stop offset="0.998" stop-color="#f7fbff"/></linearGradient><linearGradient id="gD9" x1="0" y1="0" x2="0" y2="1"><stop offset="0.00229" stop-color="#2979b9"/><stop offset="0.342" stop-color="#1d6bb1"/><stop offset="0.365" stop-color="#2979b9"/><stop offset="0.388" stop-color="#4493c7"/><stop offset="0.411" stop-color="#71b1d7"/><stop offset="0.433" stop-color="#aacfe5"/><stop offset="0.447" stop-color="#c6dbef"/><stop offset="0.489" stop-color="#eef5fc"/><stop offset="0.516" stop-color="#f7fbff"/><stop offset="0.998" stop-color="#f7fbff"/></linearGradient><linearGradient id="gD10" x1="0" y1="0" x2="0" y2="1"><stop offset="0.00229" stop-color="#2a7aba"/><stop offset="0.342" stop-color="#1d6cb1"/><stop offset="0.365" stop-color="#2979b9"/><stop offset="0.388" stop-color="#4594c7"/><stop offset="0.411" stop-color="#72b2d8"/><stop offset="0.433" stop-color="#abcfe5"/><stop offset="0.447" stop-color="#c6dbef"/><stop offset="0.489" stop-color="#eef5fc"/><stop offset="0.516" stop-color="#f7fbff"/><stop offset="0.998" stop-color="#f7fbff"/></linearGradient><linearGradient id="gD11" x1="0" y1="0" x2="0" y2="1"><stop offset="0.00229" stop-color="#2a7aba"/><stop offset="0.342" stop-color="#1d6cb1"/><stop offset="0.365" stop-color="#2a7ab9"/><stop offset="0.388" stop-color="#4594c7"/><stop offset="0.411" stop-color="#73b3d8"/><stop offset="0.433" stop-color="#acd0e6"/><stop offset="0.447" stop-color="#c7dbef"/><stop offset="0.484" stop-color="#ebf3fb"/><stop offset="0.511" stop-color="#f7fbff"/><stop offset="0.998" stop-color="#f7fbff"/></linearGradient><linearGradient id="gD12" x1="0" y1="0" x2="0" y2="1"><stop offset="0.00229" stop-color="#2a7aba"/><stop offset="0.342" stop-color="#1d6cb1"/><stop offset="0.365" stop-color="#2a7aba"/><stop offset="0.388" stop-color="#4695c8"/><stop offset="0.411" stop-color="#74b3d8"/><stop offset="0.433" stop-color="#acd0e6"/><stop offset="0.447" stop-color="#c7dcef"/><stop offset="0.484" stop-color="#ebf3fb"/><stop offset="0.511" stop-color="#f7fbff"/><stop offset="0.998" stop-color="#f7fbff"/></linearGradient><linearGradient id="gD13" x1="0" y1="0" x2="0" y2="1"><stop offset="0.00229" stop-color="#2b7bba"/><stop offset="0.342" stop-color="#1e6db2"/><stop offset="0.365" stop-color="#2a7aba"/><stop offset="0.388" stop-color="#4795c8"/><stop offset="0.411" stop-color="#75b4d8"/><stop offset="0.433" stop-color="#add0e6"/><stop offset="0.447" stop-color="#c7dcef"/><stop offset="0.484" stop-color="#ebf3fb"/><stop offset="0.511" stop-color="#f7fbff"/><stop offset="0.998" stop-color="#f7fbff"/></linearGradient><linearGradient id="gD14" x1="0" y1="0" x2="0" y2="1"><stop offset="0.00229" stop-color="#2b7bba"/><stop offset="0.342" stop-color="#1e6db2"/><stop offset="0.365" stop-color="#2b7bba"/><stop offset="0.388" stop-color="#4896c8"/><stop offset="0.411" stop-color="#76b4d8"/><stop offset="0.429" stop-color="#a4cde3"/><stop offset="0.447" stop-color="#c8dcf0"/><stop offset="0.484" stop-color="#ebf4fb"/><stop offset="0.511" stop-color="#f7fbff"/><stop offset="0.998" stop-color="#f7fbff"/></linearGradient><linearGradient id="gD15" x1="0" y1="0" x2="0" y2="1"><stop offset="0.00229" stop-color="#2b7bba"/><stop offset="0.342" stop-color="#1e6db2"/><stop offset="0.365" stop-color="#2b7bba"/><stop offset="0.388" stop-color="#4896c8"/><stop offset="0.411" stop-color="#77b4d9"/><stop offset="0.429" stop-color="#a5cde3"/><stop offset="0.447" stop-color="#c8dcf0"/><stop offset="0.484" stop-color="#ecf4fb"/><stop offset="0.511" stop-color="#f7fbff"/><stop offset="0.998" stop-color="#f7fbff"/></linearGradient><linearGradient id="gD16" x1="0" y1="0" x2="0" y2="1"><stop offset="0.00229" stop-color="#2b7bba"/><stop offset="0.342" stop-color="#1e6db2"/><stop offset="0.365" stop-color="#2c7cbb"/><stop offset="0.388" stop-color="#4997c9"/><stop offset="0.411" stop-color="#78b5d9"/><stop offset="0.429" stop-color="#a5cde4"/><stop offset="0.447" stop-color="#c8ddf0"/><stop offset="0.484" stop-color="#ecf4fb"/><stop offset="0.511" stop-color="#f7fbff"/><stop offset="0.998" stop-color="#f7fbff"/></linearGradient><linearGradient id="gD17" x1="0" y1="0" x2="0" y2="1"><stop offset="0.00229" stop-color="#2c7cba"/><stop offset="0.342" stop-color="#1f6eb3"/><stop offset="0.365" stop-color="#2c7cbb"/><stop offset="0.388" stop-color="#4a97c9"/><stop offset="0.411" stop-color="#79b5d9"/><stop offset="0.429" stop-color="#a6cde4"/><stop offset="0.447" stop-color="#c9ddf0"/><stop offset="0.484" stop-color="#ecf4fb"/><stop offset="0.511" stop-color="#f7fbff"/><stop offset="0.998" stop-color="#f7fbff"/></linearGradient><linearGradient id="gD18" x1="0" y1="0" x2="0" y2="1"><stop offset="0.00229" stop-color="#2c7cbb"/><stop offset="0.337" stop-color="#1e6db2"/><stop offset="0.36" stop-color="#2979b9"/><stop offset="0.383" stop-color="#4292c6"/><stop offset="0.406" stop-color="#6eb0d7"/><stop offset="0.429" stop-color="#a7cee4"/><stop offset="0.447" stop-color="#c9ddf0"/><stop offset="0.484" stop-color="#ecf4fc"/><stop offset="0.511" stop-color="#f7fbff"/><stop offset="0.998" stop-color="#f7fbff"/></linearGradient><linearGradient id="gD19" x1="0" y1="0" x2="0" y2="1"><stop offset="0.00229" stop-color="#2c7cbb"/><stop offset="0.337" stop-color="#1e6db2"/><stop offset="0.36" stop-color="#2979b9"/><stop offset="0.383" stop-color="#4393c6"/><stop offset="0.406" stop-color="#6fb0d7"/><stop offset="0.429" stop-color="#a7cee4"/><stop offset="0.447" stop-color="#c9ddf0"/><stop offset="0.484" stop-color="#ecf4fc"/><stop offset="0.511" stop-color="#f7fbff"/><stop offset="0.998" stop-color="#f7fbff"/></linearGradient><linearGradient id="gD20" x1="0" y1="0" x2="0" y2="1"><stop offset="0.00229" stop-color="#2c7cbb"/><stop offset="0.337" stop-color="#1e6eb2"/><stop offset="0.36" stop-color="#2a7ab9"/><stop offset="0.383" stop-color="#4493c7"/><stop offset="0.406" stop-color="#70b1d7"/><stop offset="0.429" stop-color="#a8cee5"/><stop offset="0.447" stop-color="#cadef0"/><stop offset="0.484" stop-color="#edf4fc"/><stop offset="0.511" stop-color="#f7fbff"/><stop offset="0.998" stop-color="#f7fbff"/></linearGradient><linearGradient id="gD21" x1="0" y1="0" x2="0" y2="1"><stop offset="0.00229" stop-color="#2d7dbb"/><stop offset="0.337" stop-color="#1f6eb3"/><stop offset="0.36" stop-color="#2a7aba"/><stop offset="0.383" stop-color="#4494c7"/><stop offset="0.406" stop-color="#70b1d7"/><stop offset="0.429" stop-color="#a9cfe5"/><stop offset="0.447" stop-color="#cadef0"/><stop offset="0.484" stop-color="#edf4fc"/><stop offset="0.511" stop-color="#f7fbff"/><stop offset="0.998" stop-color="#f7fbff"/></linearGradient><linearGradient id="gD22" x1="0" y1="0" x2="0" y2="1"><stop offset="0.00229" stop-color="#2d7dbb"/><stop offset="0.337" stop-color="#1f6eb3"/><stop offset="0.36" stop-color="#2b7bba"/><stop offset="0.383" stop-color="#4594c7"/><stop offset="0.406" stop-color="#71b1d7"/><stop offset="0.429" stop-color="#a9cfe5"/><stop offset="0.443" stop-color="#c5daef"/><stop offset="0.479" stop-color="#eaf2fb"/><stop offset="0.507" stop-color="#f7fbff"/><stop offset="0.998" stop-color="#f7fbff"/></linearGradient><linearGradient id="gD23" x1="0" y1="0" x2="0" y2="1"><stop offset="0.00229" stop-color="#2d7dbb"/><stop offset="0.337" stop-color="#1f6fb3"/><stop offset="0.36" stop-color="#2b7bba"/><stop offset="0.383" stop-color="#4695c7"/><stop offset="0.406" stop-color="#72b2d8"/><stop offset="0.429" stop-color="#aacfe5"/><stop offset="0.443" stop-color="#c5dbef"/><stop offset="0.484" stop-color="#edf5fc"/><stop offset="0.511" stop-color="#f7fbff"/><stop offset="0.998" stop-color="#f7fbff"/></linearGradient><linearGradient id="gD24" x1="0" y1="0" x2="0" y2="1"><stop offset="0.00229" stop-color="#2d7dbb"/><stop offset="0.337" stop-color="#1f6fb3"/><stop offset="0.36" stop-color="#2b7bba"/><stop offset="0.383" stop-color="#4695c8"/><stop offset="0.406" stop-color="#73b2d8"/><stop offset="0.429" stop-color="#abcfe5"/><stop offset="0.443" stop-color="#c6dbef"/><stop offset="0.484" stop-color="#edf5fc"/><stop offset="0.511" stop-color="#f7fbff"/><stop offset="0.998" stop-color="#f7fbff"/></linearGradient><linearGradient id="gD25" x1="0" y1="0" x2="0" y2="1"><stop offset="0.00229" stop-color="#2e7ebb"/><stop offset="0.337" stop-color="#206fb4"/><stop offset="0.36" stop-color="#2c7cbb"/><stop offset="0.383" stop-color="#4795c8"/><stop offset="0.406" stop-color="#74b3d8"/><stop offset="0.429" stop-color="#abd0e6"/><stop offset="0.443" stop-color="#c6dbef"/><stop offset="0.484" stop-color="#edf5fc"/><stop offset="0.511" stop-color="#f7fbff"/><stop offset="0.998" stop-color="#f7fbff"/></linearGradient><linearGradient id="gD26" x1="0" y1="0" x2="0" y2="1"><stop offset="0.00229" stop-color="#2e7ebc"/><stop offset="0.337" stop-color="#206fb4"/><stop offset="0.36" stop-color="#2c7cbb"/><stop offset="0.383" stop-color="#4896c8"/><stop offset="0.406" stop-color="#75b3d8"/><stop offset="0.429" stop-color="#acd0e6"/><stop offset="0.443" stop-color="#c7dbef"/><stop offset="0.484" stop-color="#eef5fc"/><stop offset="0.511" stop-color="#f7fbff"/><stop offset="0.998" stop-color="#f7fbff"/></linearGradient><linearGradient id="gD27" x1="0" y1="0" x2="0" y2="1"><stop offset="0.00229" stop-color="#2e7ebc"/><stop offset="0.337" stop-color="#2070b4"/><stop offset="0.36" stop-color="#2d7dbb"/><stop offset="0.383" stop-color="#4896c8"/><stop offset="0.406" stop-color="#76b4d8"/><stop offset="0.429" stop-color="#acd0e6"/><stop offset="0.443" stop-color="#c7dcef"/><stop offset="0.484" stop-color="#eef5fc"/><stop offset="0.511" stop-color="#f7fbff"/><stop offset="0.998" stop-color="#f7fbff"/></linearGradient><linearGradient id="gD28" x1="0" y1="0" x2="0" y2="1"><stop offset="0.00229" stop-color="#2e7ebc"/><stop offset="0.337" stop-color="#2070b4"/><stop offset="0.36" stop-color="#2d7dbb"/><stop offset="0.383" stop-color="#4997c9"/><stop offset="0.406" stop-color="#76b4d8"/><stop offset="0.429" stop-color="#add0e6"/><stop offset="0.443" stop-color="#c7dcef"/><stop offset="0.484" stop-color="#eef5fc"/><stop offset="0.511" stop-color="#f7fbff"/><stop offset="0.998" stop-color="#f7fbff"/></linearGradient><linearGradient id="gD29" x1="0" y1="0" x2="0" y2="1"><stop offset="0.00229" stop-color="#2f7fbc"/><stop offset="0.337" stop-color="#2170b5"/><stop offset="0.36" stop-color="#2e7ebc"/><stop offset="0.383" stop-color="#4a97c9"/><stop offset="0.406" stop-color="#77b5d9"/><stop offset="0.424" stop-color="#a4cde3"/><stop offset="0.443" stop-color="#c8dcf0"/><stop offset="0.484" stop-color="#eef5fc"/><stop offset="0.511" stop-color="#f7fbff"/><stop offset="0.998" stop-color="#f7fbff"/></linearGradient><linearGradient id="gD30" x1="0" y1="0" x2="0" y2="1"><stop offset="0.00229" stop-color="#2f7fbc"/><stop offset="0.337" stop-color="#2171b5"/><stop offset="0.36" stop-color="#2e7ebc"/><stop offset="0.383" stop-color="#4a98c9"/><stop offset="0.406" stop-color="#78b5d9"/><stop offset="0.424" stop-color="#a5cde3"/><stop offset="0.443" stop-color="#c8dcf0"/><stop offset="0.484" stop-color="#eef5fc"/><stop offset="0.511" stop-color="#f7fbff"/><stop offset="0.998" stop-color="#f7fbff"/></linearGradient><linearGradient id="gD31" x1="0" y1="0" x2="0" y2="1"><stop offset="0.00229" stop-color="#2f7fbc"/><stop offset="0.337" stop-color="#2171b5"/><stop offset="0.36" stop-color="#2f7fbc"/><stop offset="0.383" stop-color="#4b98c9"/><stop offset="0.406" stop-color="#79b6d9"/><stop offset="0.424" stop-color="#a6cde4"/><stop offset="0.443" stop-color="#c8dcf0"/><stop offset="0.484" stop-color="#eef5fc"/><stop offset="0.511" stop-color="#f7fbff"/><stop offset="0.998" stop-color="#f7fbff"/></linearGradient><linearGradient id="gD32" x1="0" y1="0" x2="0" y2="1"><stop offset="0.00229" stop-color="#2f7fbc"/><stop offset="0.337" stop-color="#2171b5"/><stop offset="0.36" stop-color="#2f7fbc"/><stop offset="0.383" stop-color="#4c99ca"/><stop offset="0.401" stop-color="#6eb0d7"/><stop offset="0.424" stop-color="#a6cde4"/><stop offset="0.443" stop-color="#c8ddf0"/><stop offset="0.484" stop-color="#eff6fc"/><stop offset="0.511" stop-color="#f7fbff"/><stop offset="0.998" stop-color="#f7fbff"/></linearGradient><linearGradient id="gD33" x1="0" y1="0" x2="0" y2="1"><stop offset="0.00229" stop-color="#3080bd"/><stop offset="0.337" stop-color="#2272b5"/><stop offset="0.36" stop-color="#2f7fbc"/><stop offset="0.383" stop-color="#4c99ca"/><stop offset="0.401" stop-color="#6fb0d7"/><stop offset="0.424" stop-color="#a7cee4"/><stop offset="0.443" stop-color="#c9ddf0"/><stop offset="0.479" stop-color="#ecf4fb"/><stop offset="0.507" stop-color="#f7fbff"/><stop offset="0.998" stop-color="#f7fbff"/></linearGradient><linearGradient id="gD34" x1="0" y1="0" x2="0" y2="1"><stop offset="0.00229" stop-color="#3080bd"/><stop offset="0.337" stop-color="#2272b5"/><stop offset="0.36" stop-color="#3080bd"/><stop offset="0.383" stop-color="#4d99ca"/><stop offset="0.401" stop-color="#70b1d7"/><stop offset="0.424" stop-color="#a7cee4"/><stop offset="0.443" stop-color="#c9ddf0"/><stop offset="0.479" stop-color="#ecf4fb"/><stop offset="0.507" stop-color="#f7fbff"/><stop offset="0.998" stop-color="#f7fbff"/></linearGradient><linearGradient id="gD35" x1="0" y1="0" x2="0" y2="1"><stop offset="0.00229" stop-color="#3080bd"/><stop offset="0.337" stop-color="#2272b6"/><stop offset="0.36" stop-color="#3080bd"/><stop offset="0.378" stop-color="#4695c7"/><stop offset="0.401" stop-color="#71b1d7"/><stop offset="0.424" stop-color="#a8cee4"/><stop offset="0.443" stop-color="#c9ddf0"/><stop offset="0.479" stop-color="#ecf4fb"/><stop offset="0.507" stop-color="#f7fbff"/><stop offset="0.998" stop-color="#f7fbff"/></linearGradient><linearGradient id="gD36" x1="0" y1="0" x2="0" y2="1"><stop offset="0.00229" stop-color="#3080bd"/><stop offset="0.337" stop-color="#2373b6"/><stop offset="0.36" stop-color="#3181bd"/><stop offset="0.378" stop-color="#4695c8"/><stop offset="0.401" stop-color="#71b2d7"/><stop offset="0.424" stop-color="#a8cee5"/><stop offset="0.443" stop-color="#caddf0"/><stop offset="0.479" stop-color="#ecf4fc"/><stop offset="0.507" stop-color="#f7fbff"/><stop offset="0.998" stop-color="#f7fbff"/></linearGradient><linearGradient id="gD37" x1="0" y1="0" x2="0" y2="1"><stop offset="0.00229" stop-color="#3181bd"/><stop offset="0.337" stop-color="#2373b6"/><stop offset="0.36" stop-color="#3181bd"/><stop offset="0.378" stop-color="#4795c8"/><stop offset="0.401" stop-color="#72b2d8"/><stop offset="0.424" stop-color="#a9cfe5"/><stop offset="0.443" stop-color="#cadef0"/><stop offset="0.479" stop-color="#ecf4fc"/><stop offset="0.507" stop-color="#f7fbff"/><stop offset="0.998" stop-color="#f7fbff"/></linearGradient><linearGradient id="gD38" x1="0" y1="0" x2="0" y2="1"><stop offset="0.00229" stop-color="#3181bd"/><stop offset="0.337" stop-color="#2373b6"/><stop offset="0.36" stop-color="#3282be"/><stop offset="0.378" stop-color="#4896c8"/><stop offset="0.401" stop-color="#73b2d8"/><stop offset="0.424" stop-color="#aacfe5"/><stop offset="0.443" stop-color="#cadef0"/><stop offset="0.479" stop-color="#ecf4fc"/><stop offset="0.507" stop-color="#f7fbff"/><stop offset="0.998" stop-color="#f7fbff"/></linearGradient><linearGradient id="gD39" x1="0" y1="0" x2="0" y2="1"><stop offset="0.00229" stop-color="#3181bd"/><stop offset="0.337" stop-color="#2373b6"/><stop offset="0.36" stop-color="#3282be"/><stop offset="0.378" stop-color="#4896c8"/><stop offset="0.401" stop-color="#74b3d8"/><stop offset="0.424" stop-color="#aacfe5"/><stop offset="0.438" stop-color="#c5dbef"/><stop offset="0.479" stop-color="#edf4fc"/><stop offset="0.507" stop-color="#f7fbff"/><stop offset="0.998" stop-color="#f7fbff"/></linearGradient><linearGradient id="gD40" x1="0" y1="0" x2="0" y2="1"><stop offset="0.00229" stop-color="#3181bd"/><stop offset="0.337" stop-color="#2474b6"/><stop offset="0.36" stop-color="#3383be"/><stop offset="0.378" stop-color="#4997c9"/><stop offset="0.401" stop-color="#74b3d8"/><stop offset="0.424" stop-color="#abcfe5"/><stop offset="0.438" stop-color="#c5dbef"/><stop offset="0.479" stop-color="#edf4fc"/><stop offset="0.507" stop-color="#f7fbff"/><stop offset="0.998" stop-color="#f7fbff"/></linearGradient><linearGradient id="gD41" x1="0" y1="0" x2="0" y2="1"><stop offset="0.00229" stop-color="#3282be"/><stop offset="0.333" stop-color="#2373b6"/><stop offset="0.356" stop-color="#2f7fbc"/><stop offset="0.378" stop-color="#4997c9"/><stop offset="0.401" stop-color="#75b4d8"/><stop offset="0.424" stop-color="#abd0e6"/><stop offset="0.438" stop-color="#c6dbef"/><stop offset="0.479" stop-color="#edf5fc"/><stop offset="0.507" stop-color="#f7fbff"/><stop offset="0.998" stop-color="#f7fbff"/></linearGradient><linearGradient id="gD42" x1="0" y1="0" x2="0" y2="1"><stop offset="0.00229" stop-color="#3282be"/><stop offset="0.333" stop-color="#2373b6"/><stop offset="0.356" stop-color="#2f7fbc"/><stop offset="0.378" stop-color="#4a97c9"/><stop offset="0.401" stop-color="#76b4d8"/><stop offset="0.424" stop-color="#acd0e6"/><stop offset="0.438" stop-color="#c6dbef"/><stop offset="0.479" stop-color="#edf5fc"/><stop offset="0.507" stop-color="#f7fbff"/><stop offset="0.998" stop-color="#f7fbff"/></linearGradient><linearGradient id="gD43" x1="0" y1="0" x2="0" y2="1"><stop offset="0.00229" stop-color="#3282be"/><stop offset="0.333" stop-color="#2474b6"/><stop offset="0.356" stop-color="#3080bd"/><stop offset="0.378" stop-color="#4b98c9"/><stop offset="0.401" stop-color="#77b4d9"/><stop offset="0.424" stop-color="#acd0e6"/><stop offset="0.438" stop-color="#c7dbef"/><stop offset="0.479" stop-color="#edf5fc"/><stop offset="0.507" stop-color="#f7fbff"/><stop offset="0.998" stop-color="#f7fbff"/></linearGradient><linearGradient id="gD44" x1="0" y1="0" x2="0" y2="1"><stop offset="0.00229" stop-color="#3282be"/><stop offset="0.333" stop-color="#2474b7"/><stop offset="0.356" stop-color="#3080bd"/><stop offset="0.378" stop-color="#4b98ca"/><stop offset="0.401" stop-color="#77b5d9"/><stop offset="0.424" stop-color="#add0e6"/><stop offset="0.438" stop-color="#c7dcef"/><stop offset="0.479" stop-color="#edf5fc"/><stop offset="0.507" stop-color="#f7fbff"/><stop offset="0.998" stop-color="#f7fbff"/></linearGradient><linearGradient id="gD45" x1="0" y1="0" x2="0" y2="1"><stop offset="0.00229" stop-color="#3383be"/><stop offset="0.333" stop-color="#2474b7"/><stop offset="0.356" stop-color="#3080bd"/><stop offset="0.378" stop-color="#4c99ca"/><stop offset="0.401" stop-color="#78b5d9"/><stop offset="0.424" stop-color="#add1e6"/><stop offset="0.438" stop-color="#c7dcef"/><stop offset="0.479" stop-color="#eef5fc"/><stop offset="0.507" stop-color="#f7fbff"/><stop offset="0.998" stop-color="#f7fbff"/></linearGradient><linearGradient id="gD46" x1="0" y1="0" x2="0" y2="1"><stop offset="0.00229" stop-color="#3383be"/><stop offset="0.333" stop-color="#2575b7"/><stop offset="0.356" stop-color="#3181bd"/><stop offset="0.378" stop-color="#4c99ca"/><stop offset="0.401" stop-color="#79b6d9"/><stop offset="0.42" stop-color="#a5cde3"/><stop offset="0.438" stop-color="#c7dcef"/><stop offset="0.479" stop-color="#eef5fc"/><stop offset="0.507" stop-color="#f7fbff"/><stop offset="0.998" stop-color="#f7fbff"/></linearGradient><linearGradient id="gD47" x1="0" y1="0" x2="0" y2="1"><stop offset="0.00229" stop-color="#3383be"/><stop offset="0.333" stop-color="#2575b7"/><stop offset="0.356" stop-color="#3181bd"/><stop offset="0.374" stop-color="#4594c7"/><stop offset="0.397" stop-color="#6eb0d7"/><stop offset="0.42" stop-color="#a5cde4"/><stop offset="0.438" stop-color="#c8dcf0"/><stop offset="0.479" stop-color="#eef5fc"/><stop offset="0.507" stop-color="#f7fbff"/><stop offset="0.998" stop-color="#f7fbff"/></linearGradient><linearGradient id="gD48" x1="0" y1="0" x2="0" y2="1"><stop offset="0.00229" stop-color="#3383bf"/><stop offset="0.333" stop-color="#2575b7"/><stop offset="0.356" stop-color="#3282be"/><stop offset="0.374" stop-color="#4695c8"/><stop offset="0.397" stop-color="#6fb0d7"/><stop offset="0.42" stop-color="#a6cde4"/><stop offset="0.438" stop-color="#c8dcf0"/><stop offset="0.479" stop-color="#eef5fc"/><stop offset="0.507" stop-color="#f7fbff"/><stop offset="0.998" stop-color="#f7fbff"/></linearGradient><linearGradient id="gD49" x1="0" y1="0" x2="0" y2="1"><stop offset="0.00229" stop-color="#3484bf"/><stop offset="0.333" stop-color="#2575b7"/><stop offset="0.356" stop-color="#3282be"/><stop offset="0.374" stop-color="#4695c8"/><stop offset="0.397" stop-color="#70b0d7"/><stop offset="0.42" stop-color="#a6cde4"/><stop offset="0.438" stop-color="#c8dcf0"/><stop offset="0.479" stop-color="#eef5fc"/><stop offset="0.507" stop-color="#f7fbff"/><stop offset="0.998" stop-color="#f7fbff"/></linearGradient><linearGradient id="gD50" x1="0" y1="0" x2="0" y2="1"><stop offset="0.00229" stop-color="#3484bf"/><stop offset="0.333" stop-color="#2676b7"/><stop offset="0.356" stop-color="#3282be"/><stop offset="0.374" stop-color="#4795c8"/><stop offset="0.397" stop-color="#70b1d7"/><stop offset="0.42" stop-color="#a6cee4"/><stop offset="0.438" stop-color="#c8dcf0"/><stop offset="0.479" stop-color="#eef5fc"/><stop offset="0.507" stop-color="#f7fbff"/><stop offset="0.998" stop-color="#f7fbff"/></linearGradient><linearGradient id="gD51" x1="0" y1="0" x2="0" y2="1"><stop offset="0.00229" stop-color="#3484bf"/><stop offset="0.333" stop-color="#2676b8"/><stop offset="0.356" stop-color="#3383be"/><stop offset="0.374" stop-color="#4796c8"/><stop offset="0.397" stop-color="#71b1d7"/><stop offset="0.42" stop-color="#a7cee4"/><stop offset="0.438" stop-color="#c8ddf0"/><stop offset="0.479" stop-color="#eef5fc"/><stop offset="0.507" stop-color="#f7fbff"/><stop offset="0.998" stop-color="#f7fbff"/></linearGradient><linearGradient id="gD52" x1="0" y1="0" x2="0" y2="1"><stop offset="0.00229" stop-color="#3484bf"/><stop offset="0.333" stop-color="#2676b8"/><stop offset="0.356" stop-color="#3383be"/><stop offset="0.374" stop-color="#4896c8"/><stop offset="0.397" stop-color="#71b1d7"/><stop offset="0.42" stop-color="#a7cee4"/><stop offset="0.438" stop-color="#c9ddf0"/><stop offset="0.479" stop-color="#eef5fc"/><stop offset="0.507" stop-color="#f7fbff"/><stop offset="0.998" stop-color="#f7fbff"/></linearGradient><linearGradient id="gD53" x1="0" y1="0" x2="0" y2="1"><stop offset="0.00229" stop-color="#3585bf"/><stop offset="0.333" stop-color="#2676b8"/><stop offset="0.356" stop-color="#3383be"/><stop offset="0.374" stop-color="#4896c8"/><stop offset="0.397" stop-color="#72b2d7"/><stop offset="0.42" stop-color="#a7cee4"/><stop offset="0.438" stop-color="#c9ddf0"/><stop offset="0.479" stop-color="#eef5fc"/><stop offset="0.507" stop-color="#f7fbff"/><stop offset="0.998" stop-color="#f7fbff"/></linearGradient><linearGradient id="gD54" x1="0" y1="0" x2="0" y2="1"><stop offset="0.00229" stop-color="#3585bf"/><stop offset="0.333" stop-color="#2777b8"/><stop offset="0.356" stop-color="#3484bf"/><stop offset="0.374" stop-color="#4896c9"/><stop offset="0.397" stop-color="#72b2d8"/><stop offset="0.42" stop-color="#a8cee4"/><stop offset="0.438" stop-color="#c9ddf0"/><stop offset="0.479" stop-color="#eef5fc"/><stop offset="0.507" stop-color="#f7fbff"/><stop offset="0.998" stop-color="#f7fbff"/></linearGradient><linearGradient id="gD55" x1="0" y1="0" x2="0" y2="1"><stop offset="0.00229" stop-color="#3585bf"/><stop offset="0.333" stop-color="#2777b8"/><stop offset="0.356" stop-color="#3484bf"/><stop offset="0.374" stop-color="#4997c9"/><stop offset="0.397" stop-color="#73b2d8"/><stop offset="0.42" stop-color="#a8cee5"/><stop offset="0.438" stop-color="#c9ddf0"/><stop offset="0.479" stop-color="#eef5fc"/><stop offset="0.507" stop-color="#f7fbff"/><stop offset="0.998" stop-color="#f7fbff"/></linearGradient><linearGradient id="gD56" x1="0" y1="0" x2="0" y2="1"><stop offset="0.00229" stop-color="#3585c0"/><stop offset="0.333" stop-color="#2777b8"/><stop offset="0.356" stop-color="#3484bf"/><stop offset="0.374" stop-color="#4997c9"/><stop offset="0.397" stop-color="#73b2d8"/><stop offset="0.42" stop-color="#a9cee5"/><stop offset="0.438" stop-color="#c9ddf0"/><stop offset="0.479" stop-color="#eef6fc"/><stop offset="0.507" stop-color="#f7fbff"/><stop offset="0.998" stop-color="#f7fbff"/></linearGradient><linearGradient id="gD57" x1="0" y1="0" x2="0" y2="1"><stop offset="0.00229" stop-color="#3686c0"/><stop offset="0.333" stop-color="#2878b8"/><stop offset="0.356" stop-color="#3585bf"/><stop offset="0.374" stop-color="#4a97c9"/><stop offset="0.397" stop-color="#74b3d8"/><stop offset="0.42" stop-color="#a9cfe5"/><stop offset="0.438" stop-color="#c9ddf0"/><stop offset="0.479" stop-color="#eff6fc"/><stop offset="0.507" stop-color="#f7fbff"/><stop offset="0.998" stop-color="#f7fbff"/></linearGradient><linearGradient id="gD58" x1="0" y1="0" x2="0" y2="1"><stop offset="0.00229" stop-color="#3686c0"/><stop offset="0.333" stop-color="#2878b9"/><stop offset="0.356" stop-color="#3585bf"/><stop offset="0.374" stop-color="#4a98c9"/><stop offset="0.397" stop-color="#74b3d8"/><stop offset="0.42" stop-color="#a9cfe5"/><stop offset="0.438" stop-color="#caddf0"/><stop offset="0.479" stop-color="#eff6fc"/><stop offset="0.507" stop-color="#f7fbff"/><stop offset="0.998" stop-color="#f7fbff"/></linearGradient><linearGradient id="gD59" x1="0" y1="0" x2="0" y2="1"><stop offset="0.00229" stop-color="#3686c0"/><stop offset="0.333" stop-color="#2878b9"/><stop offset="0.356" stop-color="#3585c0"/><stop offset="0.374" stop-color="#4b98c9"/><stop offset="0.397" stop-color="#75b4d8"/><stop offset="0.42" stop-color="#aacfe5"/><stop offset="0.438" stop-color="#cadef0"/><stop offset="0.479" stop-color="#eff6fc"/><stop offset="0.507" stop-color="#f7fbff"/><stop offset="0.998" stop-color="#f7fbff"/></linearGradient><linearGradient id="gD60" x1="0" y1="0" x2="0" y2="1"><stop offset="0.00229" stop-color="#3787c0"/><stop offset="0.333" stop-color="#2878b9"/><stop offset="0.356" stop-color="#3686c0"/><stop offset="0.374" stop-color="#4c99ca"/><stop offset="0.397" stop-color="#76b4d8"/><stop offset="0.42" stop-color="#aacfe5"/><stop offset="0.438" stop-color="#cadef0"/><stop offset="0.479" stop-color="#eff6fc"/><stop offset="0.507" stop-color="#f7fbff"/><stop offset="0.998" stop-color="#f7fbff"/></linearGradient><linearGradient id="gD61" x1="0" y1="0" x2="0" y2="1"><stop offset="0.00229" stop-color="#3787c0"/><stop offset="0.333" stop-color="#2979b9"/><stop offset="0.356" stop-color="#3686c0"/><stop offset="0.374" stop-color="#4c99ca"/><stop offset="0.397" stop-color="#77b4d9"/><stop offset="0.42" stop-color="#abd0e6"/><stop offset="0.433" stop-color="#c5dbef"/><stop offset="0.475" stop-color="#ecf4fc"/><stop offset="0.502" stop-color="#f7fbff"/><stop offset="0.998" stop-color="#f7fbff"/></linearGradient><linearGradient id="gD62" x1="0" y1="0" x2="0" y2="1"><stop offset="0.00229" stop-color="#3787c0"/><stop offset="0.333" stop-color="#2979b9"/><stop offset="0.356" stop-color="#3787c0"/><stop offset="0.374" stop-color="#4d99ca"/><stop offset="0.397" stop-color="#78b5d9"/><stop offset="0.42" stop-color="#acd0e6"/><stop offset="0.433" stop-color="#c6dbef"/><stop offset="0.475" stop-color="#ecf4fc"/><stop offset="0.502" stop-color="#f7fbff"/><stop offset="0.998" stop-color="#f7fbff"/></linearGradient><linearGradient id="gD63" x1="0" y1="0" x2="0" y2="1"><stop offset="0.00229" stop-color="#3787c0"/><stop offset="0.333" stop-color="#2979b9"/><stop offset="0.356" stop-color="#3787c0"/><stop offset="0.374" stop-color="#4e9acb"/><stop offset="0.397" stop-color="#79b5d9"/><stop offset="0.42" stop-color="#add0e6"/><stop offset="0.433" stop-color="#c6dbef"/><stop offset="0.475" stop-color="#edf4fc"/><stop offset="0.502" stop-color="#f7fbff"/><stop offset="0.998" stop-color="#f7fbff"/></linearGradient><linearGradient id="gD64" x1="0" y1="0" x2="0" y2="1"><stop offset="0.00229" stop-color="#3c8cc3"/><stop offset="0.328" stop-color="#2979b9"/><stop offset="0.351" stop-color="#3484bf"/><stop offset="0.369" stop-color="#4796c8"/><stop offset="0.392" stop-color="#6fb0d7"/><stop offset="0.415" stop-color="#a5cde3"/><stop offset="0.433" stop-color="#c7dcef"/><stop offset="0.475" stop-color="#edf5fc"/><stop offset="0.502" stop-color="#f7fbff"/><stop offset="0.998" stop-color="#f7fbff"/></linearGradient><linearGradient id="gD65" x1="0" y1="0" x2="0" y2="1"><stop offset="0.00229" stop-color="#4b98c9"/><stop offset="0.328" stop-color="#2c7cbb"/><stop offset="0.351" stop-color="#3787c0"/><stop offset="0.369" stop-color="#4b98c9"/><stop offset="0.392" stop-color="#73b2d8"/><stop offset="0.415" stop-color="#a7cee4"/><stop offset="0.433" stop-color="#c8dcf0"/><stop offset="0.475" stop-color="#edf5fc"/><stop offset="0.502" stop-color="#f7fbff"/><stop offset="0.998" stop-color="#f7fbff"/></linearGradient><linearGradient id="gD66" x1="0" y1="0" x2="0" y2="1"><stop offset="0.00229" stop-color="#5ea5d1"/><stop offset="0.323" stop-color="#3989c1"/><stop offset="0.346" stop-color="#4190c5"/><stop offset="0.369" stop-color="#5aa2cf"/><stop offset="0.388" stop-color="#79b6d9"/><stop offset="0.415" stop-color="#b1d2e8"/><stop offset="0.433" stop-color="#ccdff1"/><stop offset="0.475" stop-color="#eff6fc"/><stop offset="0.502" stop-color="#f7fbff"/><stop offset="0.998" stop-color="#f7fbff"/></linearGradient><linearGradient id="gD67" x1="0" y1="0" x2="0" y2="1"><stop offset="0.00229" stop-color="#6dafd6"/><stop offset="0.328" stop-color="#4c99ca"/><stop offset="0.351" stop-color="#5aa2cf"/><stop offset="0.374" stop-color="#77b4d9"/><stop offset="0.406" stop-color="#b0d2e7"/><stop offset="0.424" stop-color="#cadef0"/><stop offset="0.47" stop-color="#eff6fc"/><stop offset="0.502" stop-color="#f7fbff"/><stop offset="0.998" stop-color="#f7fbff"/></linearGradient><linearGradient id="gD68" x1="0" y1="0" x2="0" y2="1"><stop offset="0.00229" stop-color="#6aadd5"/><stop offset="0.323" stop-color="#569fce"/><stop offset="0.346" stop-color="#62a8d2"/><stop offset="0.365" stop-color="#77b5d9"/><stop offset="0.401" stop-color="#b2d3e8"/><stop offset="0.42" stop-color="#cbdef1"/><stop offset="0.466" stop-color="#eef5fc"/><stop offset="0.498" stop-color="#f7fbff"/><stop offset="0.998" stop-color="#f7fbff"/></linearGradient><linearGradient id="gD69" x1="0" y1="0" x2="0" y2="1"><stop offset="0.00229" stop-color="#64a9d3"/><stop offset="0.323" stop-color="#559fcd"/><stop offset="0.351" stop-color="#67abd4"/><stop offset="0.378" stop-color="#90c2de"/><stop offset="0.415" stop-color="#c8dcf0"/><stop offset="0.466" stop-color="#eff6fc"/><stop offset="0.498" stop-color="#f7fbff"/><stop offset="0.998" stop-color="#f7fbff"/></linearGradient><linearGradient id="gD70" x1="0" y1="0" x2="0" y2="1"><stop offset="0.00229" stop-color="#64a9d3"/><stop offset="0.323" stop-color="#559fcd"/><stop offset="0.351" stop-color="#67abd4"/><stop offset="0.378" stop-color="#90c2de"/><stop offset="0.415" stop-color="#c8dcf0"/><stop offset="0.466" stop-color="#eff6fc"/><stop offset="0.498" stop-color="#f7fbff"/><stop offset="0.998" stop-color="#f7fbff"/></linearGradient><linearGradient id="gD71" x1="0" y1="0" x2="0" y2="1"><stop offset="0.00229" stop-color="#64a9d3"/><stop offset="0.323" stop-color="#559fcd"/><stop offset="0.351" stop-color="#67abd4"/><stop offset="0.378" stop-color="#90c2de"/><stop offset="0.415" stop-color="#c8dcf0"/><stop offset="0.466" stop-color="#eff6fc"/><stop offset="0.498" stop-color="#f7fbff"/><stop offset="0.998" stop-color="#f7fbff"/></linearGradient><linearGradient id="gD72" x1="0" y1="0" x2="0" y2="1"><stop offset="0.00229" stop-color="#64a9d3"/><stop offset="0.323" stop-color="#559fcd"/><stop offset="0.351" stop-color="#67abd4"/><stop offset="0.378" stop-color="#90c2de"/><stop offset="0.415" stop-color="#c8dcf0"/><stop offset="0.466" stop-color="#eff6fc"/><stop offset="0.498" stop-color="#f7fbff"/><stop offset="0.998" stop-color="#f7fbff"/></linearGradient><linearGradient id="gD73" x1="0" y1="0" x2="0" y2="1"><stop offset="0.00229" stop-color="#64a9d3"/><stop offset="0.323" stop-color="#559fcd"/><stop offset="0.351" stop-color="#67abd4"/><stop offset="0.378" stop-color="#90c2de"/><stop offset="0.415" stop-color="#c8dcf0"/><stop offset="0.466" stop-color="#eff6fc"/><stop offset="0.498" stop-color="#f7fbff"/><stop offset="0.998" stop-color="#f7fbff"/></linearGradient><linearGradient id="gD74" x1="0" y1="0" x2="0" y2="1"><stop offset="0.00229" stop-color="#64a9d3"/><stop offset="0.323" stop-color="#559fcd"/><stop offset="0.351" stop-color="#67abd4"/><stop offset="0.378" stop-color="#90c2de"/><stop offset="0.415" stop-color="#c8dcf0"/><stop offset="0.466" stop-color="#eff6fc"/><stop offset="0.498" stop-color="#f7fbff"/><stop offset="0.998" stop-color="#f7fbff"/></linearGradient><linearGradient id="gD75" x1="0" y1="0" x2="0" y2="1"><stop offset="0.00229" stop-color="#64a9d3"/><stop offset="0.323" stop-color="#559fcd"/><stop offset="0.351" stop-color="#67abd4"/><stop offset="0.378" stop-color="#90c2de"/><stop offset="0.415" stop-color="#c8dcf0"/><stop offset="0.466" stop-color="#eff6fc"/><stop offset="0.498" stop-color="#f7fbff"/><stop offset="0.998" stop-color="#f7fbff"/></linearGradient><linearGradient id="gD76" x1="0" y1="0" x2="0" y2="1"><stop offset="0.00229" stop-color="#64a9d3"/><stop offset="0.323" stop-color="#559fcd"/><stop offset="0.351" stop-color="#67abd4"/><stop offset="0.378" stop-color="#90c2de"/><stop offset="0.415" stop-color="#c8dcf0"/><stop offset="0.466" stop-color="#eff6fc"/><stop offset="0.498" stop-color="#f7fbff"/><stop offset="0.998" stop-color="#f7fbff"/></linearGradient><linearGradient id="gD77" x1="0" y1="0" x2="0" y2="1"><stop offset="0.00229" stop-color="#64a9d3"/><stop offset="0.323" stop-color="#559fcd"/><stop offset="0.351" stop-color="#67abd4"/><stop offset="0.378" stop-color="#90c2de"/><stop offset="0.415" stop-color="#c8dcf0"/><stop offset="0.466" stop-color="#eff6fc"/><stop offset="0.498" stop-color="#f7fbff"/><stop offset="0.998" stop-color="#f7fbff"/></linearGradient><linearGradient id="gD78" x1="0" y1="0" x2="0" y2="1"><stop offset="0.00229" stop-color="#64a9d3"/><stop offset="0.323" stop-color="#559fcd"/><stop offset="0.351" stop-color="#67abd4"/><stop offset="0.378" stop-color="#90c2de"/><stop offset="0.415" stop-color="#c8dcf0"/><stop offset="0.466" stop-color="#eff6fc"/><stop offset="0.498" stop-color="#f7fbff"/><stop offset="0.998" stop-color="#f7fbff"/></linearGradient><linearGradient id="gD79" x1="0" y1="0" x2="0" y2="1"><stop offset="0.00229" stop-color="#63a9d3"/><stop offset="0.323" stop-color="#559fcd"/><stop offset="0.351" stop-color="#67abd4"/><stop offset="0.378" stop-color="#90c2de"/><stop offset="0.415" stop-color="#c8dcf0"/><stop offset="0.466" stop-color="#eff6fc"/><stop offset="0.498" stop-color="#f7fbff"/><stop offset="0.998" stop-color="#f7fbff"/></linearGradient><linearGradient id="gD80" x1="0" y1="0" x2="0" y2="1"><stop offset="0.00229" stop-color="#63a9d3"/><stop offset="0.323" stop-color="#559fcd"/><stop offset="0.351" stop-color="#67abd4"/><stop offset="0.378" stop-color="#90c2de"/><stop offset="0.415" stop-color="#c8dcf0"/><stop offset="0.466" stop-color="#eff6fc"/><stop offset="0.498" stop-color="#f7fbff"/><stop offset="0.998" stop-color="#f7fbff"/></linearGradient><linearGradient id="gD81" x1="0" y1="0" x2="0" y2="1"><stop offset="0.00229" stop-color="#63a8d3"/><stop offset="0.323" stop-color="#559fcd"/><stop offset="0.351" stop-color="#67abd4"/><stop offset="0.378" stop-color="#90c2de"/><stop offset="0.415" stop-color="#c8dcf0"/><stop offset="0.466" stop-color="#eff6fc"/><stop offset="0.498" stop-color="#f7fbff"/><stop offset="0.998" stop-color="#f7fbff"/></linearGradient><linearGradient id="gD82" x1="0" y1="0" x2="0" y2="1"><stop offset="0.00229" stop-color="#62a8d3"/><stop offset="0.323" stop-color="#559fcd"/><stop offset="0.351" stop-color="#67abd4"/><stop offset="0.378" stop-color="#90c2de"/><stop offset="0.415" stop-color="#c8dcf0"/><stop offset="0.466" stop-color="#eff6fc"/><stop offset="0.498" stop-color="#f7fbff"/><stop offset="0.998" stop-color="#f7fbff"/></linearGradient><linearGradient id="gD83" x1="0" y1="0" x2="0" y2="1"><stop offset="0.00229" stop-color="#61a7d2"/><stop offset="0.323" stop-color="#559fcd"/><stop offset="0.351" stop-color="#67abd4"/><stop offset="0.378" stop-color="#90c2de"/><stop offset="0.415" stop-color="#c8dcf0"/><stop offset="0.466" stop-color="#eff6fc"/><stop offset="0.498" stop-color="#f7fbff"/><stop offset="0.998" stop-color="#f7fbff"/></linearGradient><linearGradient id="gD84" x1="0" y1="0" x2="0" y2="1"><stop offset="0.00229" stop-color="#60a6d2"/><stop offset="0.323" stop-color="#559fcd"/><stop offset="0.351" stop-color="#67abd4"/><stop offset="0.378" stop-color="#90c2de"/><stop offset="0.415" stop-color="#c8dcf0"/><stop offset="0.466" stop-color="#eff6fc"/><stop offset="0.498" stop-color="#f7fbff"/><stop offset="0.998" stop-color="#f7fbff"/></linearGradient><linearGradient id="gD85" x1="0" y1="0" x2="0" y2="1"><stop offset="0.00229" stop-color="#5ca4d0"/><stop offset="0.167" stop-color="#5ba3d0"/><stop offset="0.323" stop-color="#559fcd"/><stop offset="0.351" stop-color="#67abd4"/><stop offset="0.378" stop-color="#90c2de"/><stop offset="0.415" stop-color="#c8dcf0"/><stop offset="0.466" stop-color="#eff6fc"/><stop offset="0.498" stop-color="#f7fbff"/><stop offset="0.998" stop-color="#f7fbff"/></linearGradient><linearGradient id="gD86" x1="0" y1="0" x2="0" y2="1"><stop offset="0.00229" stop-color="#56a0ce"/><stop offset="0.126" stop-color="#5ca3d0"/><stop offset="0.323" stop-color="#559fcd"/><stop offset="0.351" stop-color="#67abd4"/><stop offset="0.378" stop-color="#90c2de"/><stop offset="0.415" stop-color="#c8dcf0"/><stop offset="0.466" stop-color="#eff6fc"/><stop offset="0.498" stop-color="#f7fbff"/><stop offset="0.998" stop-color="#f7fbff"/></linearGradient><linearGradient id="gD87" x1="0" y1="0" x2="0" y2="1"><stop offset="0.00229" stop-color="#4f9bcb"/><stop offset="0.131" stop-color="#59a2cf"/><stop offset="0.323" stop-color="#549fcd"/><stop offset="0.351" stop-color="#66abd4"/><stop offset="0.378" stop-color="#90c2de"/><stop offset="0.415" stop-color="#c8dcf0"/><stop offset="0.466" stop-color="#eff6fc"/><stop offset="0.498" stop-color="#f7fbff"/><stop offset="0.998" stop-color="#f7fbff"/></linearGradient><linearGradient id="gD88" x1="0" y1="0" x2="0" y2="1"><stop offset="0.00229" stop-color="#4695c8"/><stop offset="0.135" stop-color="#569fce"/><stop offset="0.328" stop-color="#559fce"/><stop offset="0.356" stop-color="#6aadd6"/><stop offset="0.401" stop-color="#b3d3e9"/><stop offset="0.42" stop-color="#ccdff1"/><stop offset="0.466" stop-color="#eef6fc"/><stop offset="0.498" stop-color="#f7fbff"/><stop offset="0.998" stop-color="#f7fbff"/></linearGradient><linearGradient id="gD89" x1="0" y1="0" x2="0" y2="1"><stop offset="0.00229" stop-color="#3e8ec4"/><stop offset="0.158" stop-color="#529dcc"/><stop offset="0.328" stop-color="#549ecd"/><stop offset="0.356" stop-color="#68acd5"/><stop offset="0.383" stop-color="#94c4df"/><stop offset="0.415" stop-color="#c6dbef"/><stop offset="0.466" stop-color="#eef5fc"/><stop offset="0.498" stop-color="#f7fbff"/><stop offset="0.998" stop-color="#f7fbff"/></linearGradient><linearGradient id="gD90" x1="0" y1="0" x2="0" y2="1"><stop offset="0.00229" stop-color="#3787c0"/><stop offset="0.163" stop-color="#4c99ca"/><stop offset="0.333" stop-color="#559fcd"/><stop offset="0.36" stop-color="#6baed6"/><stop offset="0.401" stop-color="#aed1e7"/><stop offset="0.42" stop-color="#c8ddf0"/><stop offset="0.47" stop-color="#eff6fc"/><stop offset="0.502" stop-color="#f7fbff"/><stop offset="0.998" stop-color="#f7fbff"/></linearGradient><linearGradient id="gD91" x1="0" y1="0" x2="0" y2="1"><stop offset="0.00229" stop-color="#3080bd"/><stop offset="0.19" stop-color="#4896c8"/><stop offset="0.333" stop-color="#529dcc"/><stop offset="0.36" stop-color="#67abd4"/><stop offset="0.388" stop-color="#92c4df"/><stop offset="0.42" stop-color="#c5dbef"/><stop offset="0.47" stop-color="#eef5fc"/><stop offset="0.502" stop-color="#f7fbff"/><stop offset="0.998" stop-color="#f7fbff"/></linearGradient><linearGradient id="gD92" x1="0" y1="0" x2="0" y2="1"><stop offset="0.00229" stop-color="#2979b9"/><stop offset="0.222" stop-color="#4493c7"/><stop offset="0.337" stop-color="#4f9bcb"/><stop offset="0.365" stop-color="#65aad4"/><stop offset="0.388" stop-color="#89bedc"/><stop offset="0.42" stop-color="#bed8ec"/><stop offset="0.447" stop-color="#dae8f6"/><stop offset="0.484" stop-color="#f2f8fd"/><stop offset="0.521" stop-color="#f7fbff"/><stop offset="0.998" stop-color="#f7fbff"/></linearGradient><linearGradient id="gD93" x1="0" y1="0" x2="0" y2="1"><stop offset="0.00229" stop-color="#2272b5"/><stop offset="0.232" stop-color="#3e8ec4"/><stop offset="0.342" stop-color="#4a97c9"/><stop offset="0.365" stop-color="#5ba3d0"/><stop offset="0.383" stop-color="#72b2d8"/><stop offset="0.415" stop-color="#acd0e6"/><stop offset="0.438" stop-color="#ccdff1"/><stop offset="0.484" stop-color="#eff6fc"/><stop offset="0.516" stop-color="#f7fbff"/><stop offset="0.998" stop-color="#f7fbff"/></linearGradient><linearGradient id="gD94" x1="0" y1="0" x2="0" y2="1"><stop offset="0.00229" stop-color="#1b6aaf"/><stop offset="0.172" stop-color="#3282be"/><stop offset="0.351" stop-color="#4695c8"/><stop offset="0.378" stop-color="#5ea5d1"/><stop offset="0.397" stop-color="#7ab6d9"/><stop offset="0.424" stop-color="#add0e6"/><stop offset="0.443" stop-color="#c8ddf0"/><stop offset="0.489" stop-color="#edf5fc"/><stop offset="0.521" stop-color="#f7fbff"/><stop offset="0.998" stop-color="#f7fbff"/></linearGradient><linearGradient id="gD95" x1="0" y1="0" x2="0" y2="1"><stop offset="0.00229" stop-color="#1662aa"/><stop offset="0.149" stop-color="#2a7ab9"/><stop offset="0.36" stop-color="#4292c6"/><stop offset="0.383" stop-color="#56a0ce"/><stop offset="0.401" stop-color="#70b1d7"/><stop offset="0.433" stop-color="#add0e6"/><stop offset="0.452" stop-color="#c9ddf0"/><stop offset="0.498" stop-color="#eef5fc"/><stop offset="0.53" stop-color="#f7fbff"/><stop offset="0.998" stop-color="#f7fbff"/></linearGradient><linearGradient id="gD96" x1="0" y1="0" x2="0" y2="1"><stop offset="0.00229" stop-color="#105ba4"/><stop offset="0.186" stop-color="#2878b8"/><stop offset="0.365" stop-color="#3c8cc3"/><stop offset="0.388" stop-color="#4e9acb"/><stop offset="0.411" stop-color="#6fb0d7"/><stop offset="0.443" stop-color="#aed1e7"/><stop offset="0.461" stop-color="#cadef0"/><stop offset="0.507" stop-color="#eff6fc"/><stop offset="0.539" stop-color="#f7fbff"/><stop offset="0.998" stop-color="#f7fbff"/></linearGradient><linearGradient id="gD97" x1="0" y1="0" x2="0" y2="1"><stop offset="0.00229" stop-color="#0c56a0"/><stop offset="0.236" stop-color="#2777b8"/><stop offset="0.374" stop-color="#3888c1"/><stop offset="0.397" stop-color="#4b98c9"/><stop offset="0.42" stop-color="#6cafd6"/><stop offset="0.452" stop-color="#aed1e6"/><stop offset="0.47" stop-color="#cadef0"/><stop offset="0.511" stop-color="#ecf4fc"/><stop offset="0.544" stop-color="#f7fbff"/><stop offset="0.998" stop-color="#f7fbff"/></linearGradient><linearGradient id="gD98" x1="0" y1="0" x2="0" y2="1"><stop offset="0.00229" stop-color="#09529d"/><stop offset="0.3" stop-color="#2878b8"/><stop offset="0.383" stop-color="#3484bf"/><stop offset="0.406" stop-color="#4695c8"/><stop offset="0.433" stop-color="#72b2d8"/><stop offset="0.461" stop-color="#acd0e6"/><stop offset="0.479" stop-color="#cadef0"/><stop offset="0.521" stop-color="#edf4fc"/><stop offset="0.553" stop-color="#f7fbff"/><stop offset="0.998" stop-color="#f7fbff"/></linearGradient><linearGradient id="gD99" x1="0" y1="0" x2="0" y2="1"><stop offset="0.00229" stop-color="#084f98"/><stop offset="0.186" stop-color="#1764ab"/><stop offset="0.388" stop-color="#2e7ebc"/><stop offset="0.411" stop-color="#3d8dc4"/><stop offset="0.433" stop-color="#5da5d1"/><stop offset="0.456" stop-color="#8dc1dd"/><stop offset="0.479" stop-color="#bbd6eb"/><stop offset="0.498" stop-color="#d2e3f3"/><stop offset="0.534" stop-color="#eff6fd"/><stop offset="0.567" stop-color="#f7fbff"/><stop offset="0.998" stop-color="#f7fbff"/></linearGradient><linearGradient id="gD100" x1="0" y1="0" x2="0" y2="1"><stop offset="0.00229" stop-color="#084b94"/><stop offset="0.149" stop-color="#0e59a2"/><stop offset="0.397" stop-color="#2a7aba"/><stop offset="0.42" stop-color="#3989c2"/><stop offset="0.443" stop-color="#59a2cf"/><stop offset="0.461" stop-color="#7fb9da"/><stop offset="0.484" stop-color="#b1d2e8"/><stop offset="0.498" stop-color="#c8ddf0"/><stop offset="0.539" stop-color="#ecf4fc"/><stop offset="0.571" stop-color="#f7fbff"/><stop offset="0.998" stop-color="#f7fbff"/></linearGradient><linearGradient id="gD101" x1="0" y1="0" x2="0" y2="1"><stop offset="0.00229" stop-color="#08488f"/><stop offset="0.177" stop-color="#0c56a0"/><stop offset="0.406" stop-color="#2676b8"/><stop offset="0.429" stop-color="#3686c0"/><stop offset="0.447" stop-color="#4d9aca"/><stop offset="0.466" stop-color="#70b0d7"/><stop offset="0.493" stop-color="#aed1e7"/><stop offset="0.511" stop-color="#ccdff1"/><stop offset="0.553" stop-color="#eff6fc"/><stop offset="0.585" stop-color="#f7fbff"/><stop offset="0.998" stop-color="#f7fbff"/></linearGradient><linearGradient id="gD102" x1="0" y1="0" x2="0" y2="1"><stop offset="0.00229" stop-color="#08458a"/><stop offset="0.213" stop-color="#0b559f"/><stop offset="0.415" stop-color="#2272b6"/><stop offset="0.438" stop-color="#3282be"/><stop offset="0.456" stop-color="#4a97c9"/><stop offset="0.479" stop-color="#77b4d9"/><stop offset="0.502" stop-color="#add0e6"/><stop offset="0.521" stop-color="#ccdff1"/><stop offset="0.557" stop-color="#ecf4fb"/><stop offset="0.585" stop-color="#f7fbff"/><stop offset="0.998" stop-color="#f7fbff"/></linearGradient><linearGradient id="gD103" x1="0" y1="0" x2="0" y2="1"><stop offset="0.00229" stop-color="#084184"/><stop offset="0.222" stop-color="#09529d"/><stop offset="0.397" stop-color="#1b69af"/><stop offset="0.433" stop-color="#2373b6"/><stop offset="0.461" stop-color="#4090c5"/><stop offset="0.484" stop-color="#6aadd5"/><stop offset="0.511" stop-color="#abd0e6"/><stop offset="0.53" stop-color="#cbdef1"/><stop offset="0.567" stop-color="#ecf4fc"/><stop offset="0.594" stop-color="#f7fbff"/><stop offset="0.998" stop-color="#f7fbff"/></linearGradient><linearGradient id="gD104" x1="0" y1="0" x2="0" y2="1"><stop offset="0.00229" stop-color="#083d7e"/><stop offset="0.204" stop-color="#084e97"/><stop offset="0.337" stop-color="#0f59a3"/><stop offset="0.438" stop-color="#1e6db2"/><stop offset="0.461" stop-color="#3282be"/><stop offset="0.479" stop-color="#4d9aca"/><stop offset="0.498" stop-color="#73b2d8"/><stop offset="0.521" stop-color="#abd0e6"/><stop offset="0.539" stop-color="#cbdff1"/><stop offset="0.576" stop-color="#edf4fc"/><stop offset="0.603" stop-color="#f7fbff"/><stop offset="0.998" stop-color="#f7fbff"/></linearGradient><linearGradient id="gD105" x1="0" y1="0" x2="0" y2="1"><stop offset="0.00229" stop-color="#083a79"/><stop offset="0.218" stop-color="#084c94"/><stop offset="0.356" stop-color="#0c57a0"/><stop offset="0.443" stop-color="#1967ad"/><stop offset="0.466" stop-color="#2a7aba"/><stop offset="0.489" stop-color="#4c99ca"/><stop offset="0.507" stop-color="#74b3d8"/><stop offset="0.525" stop-color="#a3cce3"/><stop offset="0.544" stop-color="#c7dcef"/><stop offset="0.58" stop-color="#eaf3fb"/><stop offset="0.608" stop-color="#f7fbff"/><stop offset="0.998" stop-color="#f7fbff"/></linearGradient><linearGradient id="gD106" x1="0" y1="0" x2="0" y2="1"><stop offset="0.00229" stop-color="#083674"/><stop offset="0.245" stop-color="#084b92"/><stop offset="0.388" stop-color="#0c56a0"/><stop offset="0.452" stop-color="#1663aa"/><stop offset="0.475" stop-color="#2878b9"/><stop offset="0.498" stop-color="#4c99ca"/><stop offset="0.516" stop-color="#76b4d8"/><stop offset="0.534" stop-color="#a6cde4"/><stop offset="0.553" stop-color="#c9ddf0"/><stop offset="0.589" stop-color="#ecf4fb"/><stop offset="0.617" stop-color="#f7fbff"/><stop offset="0.998" stop-color="#f7fbff"/></linearGradient><linearGradient id="gD107" x1="0" y1="0" x2="0" y2="1"><stop offset="0.00229" stop-color="#083470"/><stop offset="0.291" stop-color="#084b92"/><stop offset="0.42" stop-color="#0c56a0"/><stop offset="0.461" stop-color="#1460a8"/><stop offset="0.484" stop-color="#2777b8"/><stop offset="0.507" stop-color="#4d99ca"/><stop offset="0.525" stop-color="#78b5d9"/><stop offset="0.544" stop-color="#a8cee5"/><stop offset="0.562" stop-color="#cbdef1"/><stop offset="0.599" stop-color="#edf5fc"/><stop offset="0.626" stop-color="#f7fbff"/><stop offset="0.998" stop-color="#f7fbff"/></linearGradient><linearGradient id="gD108" x1="0" y1="0" x2="0" y2="1"><stop offset="0.00229" stop-color="#08316d"/><stop offset="0.438" stop-color="#0a549e"/><stop offset="0.466" stop-color="#0f5ba3"/><stop offset="0.489" stop-color="#2170b4"/><stop offset="0.511" stop-color="#4493c7"/><stop offset="0.534" stop-color="#7bb7d9"/><stop offset="0.553" stop-color="#abd0e6"/><stop offset="0.567" stop-color="#c7dcef"/><stop offset="0.603" stop-color="#ebf3fb"/><stop offset="0.631" stop-color="#f7fbff"/><stop offset="0.998" stop-color="#f7fbff"/></linearGradient><linearGradient id="gD109" x1="0" y1="0" x2="0" y2="1"><stop offset="0.00229" stop-color="#08306b"/><stop offset="0.466" stop-color="#0a549e"/><stop offset="0.489" stop-color="#1765ab"/><stop offset="0.507" stop-color="#2e7ebb"/><stop offset="0.525" stop-color="#509bcb"/><stop offset="0.544" stop-color="#7eb9da"/><stop offset="0.557" stop-color="#a5cde3"/><stop offset="0.576" stop-color="#c9ddf0"/><stop offset="0.612" stop-color="#edf5fc"/><stop offset="0.64" stop-color="#f7fbff"/><stop offset="0.998" stop-color="#f7fbff"/></linearGradient><linearGradient id="gD110" x1="0" y1="0" x2="0" y2="1"><stop offset="0.00229" stop-color="#08306b"/><stop offset="0.158" stop-color="#083877"/><stop offset="0.475" stop-color="#09529d"/><stop offset="0.498" stop-color="#1765ab"/><stop offset="0.516" stop-color="#2f7fbc"/><stop offset="0.534" stop-color="#539dcd"/><stop offset="0.553" stop-color="#83bbdb"/><stop offset="0.567" stop-color="#a9cfe5"/><stop offset="0.58" stop-color="#c6dbef"/><stop offset="0.612" stop-color="#e8f1fa"/><stop offset="0.64" stop-color="#f6faff"/><stop offset="0.998" stop-color="#f7fbff"/></linearGradient><linearGradient id="gD111" x1="0" y1="0" x2="0" y2="1"><stop offset="0.00229" stop-color="#08306b"/><stop offset="0.149" stop-color="#083472"/><stop offset="0.479" stop-color="#084f99"/><stop offset="0.502" stop-color="#1461a8"/><stop offset="0.521" stop-color="#2a7aba"/><stop offset="0.539" stop-color="#4c99ca"/><stop offset="0.557" stop-color="#7cb7da"/><stop offset="0.571" stop-color="#a4cce3"/><stop offset="0.589" stop-color="#caddf0"/><stop offset="0.626" stop-color="#eef5fc"/><stop offset="0.654" stop-color="#f7fbff"/><stop offset="0.998" stop-color="#f7fbff"/></linearGradient><linearGradient id="gD112" x1="0" y1="0" x2="0" y2="1"><stop offset="0.00229" stop-color="#08306b"/><stop offset="0.167" stop-color="#083370"/><stop offset="0.484" stop-color="#084d96"/><stop offset="0.502" stop-color="#0e59a2"/><stop offset="0.525" stop-color="#2676b7"/><stop offset="0.544" stop-color="#4795c8"/><stop offset="0.562" stop-color="#75b4d8"/><stop offset="0.58" stop-color="#aacfe5"/><stop offset="0.594" stop-color="#c7dcef"/><stop offset="0.626" stop-color="#e9f2fb"/><stop offset="0.654" stop-color="#f7fbff"/><stop offset="0.998" stop-color="#f7fbff"/></linearGradient><linearGradient id="gD113" x1="0" y1="0" x2="0" y2="1"><stop offset="0.00229" stop-color="#08306b"/><stop offset="0.195" stop-color="#08336f"/><stop offset="0.489" stop-color="#084b93"/><stop offset="0.507" stop-color="#0c56a0"/><stop offset="0.53" stop-color="#2373b6"/><stop offset="0.553" stop-color="#4e9acb"/><stop offset="0.571" stop-color="#7eb9da"/><stop offset="0.585" stop-color="#a6cde4"/><stop offset="0.599" stop-color="#c5dbef"/><stop offset="0.631" stop-color="#e8f2fa"/><stop offset="0.658" stop-color="#f6fbff"/><stop offset="0.998" stop-color="#f7fbff"/></linearGradient><linearGradient id="gD114" x1="0" y1="0" x2="0" y2="1"><stop offset="0.00229" stop-color="#08306b"/><stop offset="0.227" stop-color="#08336f"/><stop offset="0.493" stop-color="#08498f"/><stop offset="0.511" stop-color="#0a549e"/><stop offset="0.534" stop-color="#2070b4"/><stop offset="0.557" stop-color="#4a97c9"/><stop offset="0.576" stop-color="#7ab6d9"/><stop offset="0.594" stop-color="#aed1e6"/><stop offset="0.608" stop-color="#cadef0"/><stop offset="0.64" stop-color="#ebf3fb"/><stop offset="0.667" stop-color="#f7fbff"/><stop offset="0.998" stop-color="#f7fbff"/></linearGradient><linearGradient id="gD115" x1="0" y1="0" x2="0" y2="1"><stop offset="0.00229" stop-color="#08306b"/><stop offset="0.259" stop-color="#08326f"/><stop offset="0.498" stop-color="#08468c"/><stop offset="0.521" stop-color="#0c56a0"/><stop offset="0.544" stop-color="#2575b7"/><stop offset="0.562" stop-color="#4695c8"/><stop offset="0.58" stop-color="#76b4d8"/><stop offset="0.599" stop-color="#abcfe5"/><stop offset="0.612" stop-color="#c8dcf0"/><stop offset="0.644" stop-color="#ebf3fb"/><stop offset="0.672" stop-color="#f7fbff"/><stop offset="0.998" stop-color="#f7fbff"/></linearGradient><linearGradient id="gD116" x1="0" y1="0" x2="0" y2="1"><stop offset="0.00229" stop-color="#08306b"/><stop offset="0.291" stop-color="#08326e"/><stop offset="0.502" stop-color="#084489"/><stop offset="0.521" stop-color="#084f99"/><stop offset="0.544" stop-color="#1d6bb1"/><stop offset="0.567" stop-color="#4493c7"/><stop offset="0.585" stop-color="#73b2d8"/><stop offset="0.603" stop-color="#a9cfe5"/><stop offset="0.617" stop-color="#c7dcef"/><stop offset="0.649" stop-color="#eaf3fb"/><stop offset="0.677" stop-color="#f7fbff"/><stop offset="0.998" stop-color="#f7fbff"/></linearGradient><linearGradient id="gD117" x1="0" y1="0" x2="0" y2="1"><stop offset="0.00229" stop-color="#08306b"/><stop offset="0.323" stop-color="#08326e"/><stop offset="0.507" stop-color="#084285"/><stop offset="0.525" stop-color="#084d96"/><stop offset="0.539" stop-color="#115da5"/><stop offset="0.557" stop-color="#2979b9"/><stop offset="0.576" stop-color="#4e9acb"/><stop offset="0.594" stop-color="#80badb"/><stop offset="0.608" stop-color="#a8cee4"/><stop offset="0.622" stop-color="#c7dcef"/><stop offset="0.654" stop-color="#eaf3fb"/><stop offset="0.677" stop-color="#f6faff"/><stop offset="0.998" stop-color="#f7fbff"/></linearGradient><linearGradient id="gD118" x1="0" y1="0" x2="0" y2="1"><stop offset="0.00229" stop-color="#08306b"/><stop offset="0.356" stop-color="#08326e"/><stop offset="0.511" stop-color="#084082"/><stop offset="0.53" stop-color="#084c94"/><stop offset="0.544" stop-color="#115ca5"/><stop offset="0.562" stop-color="#2979b9"/><stop offset="0.58" stop-color="#4f9bcb"/><stop offset="0.599" stop-color="#82badb"/><stop offset="0.612" stop-color="#a9cfe5"/><stop offset="0.626" stop-color="#c8dcf0"/><stop offset="0.658" stop-color="#ebf3fb"/><stop offset="0.681" stop-color="#f6fbff"/><stop offset="0.998" stop-color="#f7fbff"/></linearGradient><linearGradient id="gD119" x1="0" y1="0" x2="0" y2="1"><stop offset="0.00229" stop-color="#08306b"/><stop offset="0.383" stop-color="#08326e"/><stop offset="0.516" stop-color="#083e7f"/><stop offset="0.534" stop-color="#084b93"/><stop offset="0.544" stop-color="#0c56a0"/><stop offset="0.567" stop-color="#2b7bba"/><stop offset="0.585" stop-color="#529dcc"/><stop offset="0.599" stop-color="#77b5d9"/><stop offset="0.617" stop-color="#add0e6"/><stop offset="0.631" stop-color="#caddf0"/><stop offset="0.663" stop-color="#ecf4fb"/><stop offset="0.686" stop-color="#f7fbff"/><stop offset="0.998" stop-color="#f7fbff"/></linearGradient><linearGradient id="gD120" x1="0" y1="0" x2="0" y2="1"><stop offset="0.00229" stop-color="#08306b"/><stop offset="0.415" stop-color="#08326e"/><stop offset="0.516" stop-color="#083a7a"/><stop offset="0.53" stop-color="#084286"/><stop offset="0.544" stop-color="#09519c"/><stop offset="0.567" stop-color="#2575b7"/><stop offset="0.585" stop-color="#4b98c9"/><stop offset="0.603" stop-color="#7eb8da"/><stop offset="0.617" stop-color="#a7cee4"/><stop offset="0.631" stop-color="#c7dbef"/><stop offset="0.663" stop-color="#eaf3fb"/><stop offset="0.686" stop-color="#f6fbff"/><stop offset="0.998" stop-color="#f7fbff"/></linearGradient><linearGradient id="gD121" x1="0" y1="0" x2="0" y2="1"><stop offset="0.00229" stop-color="#08306b"/><stop offset="0.443" stop-color="#08326e"/><stop offset="0.521" stop-color="#083978"/><stop offset="0.539" stop-color="#08478d"/><stop offset="0.548" stop-color="#09539d"/><stop offset="0.571" stop-color="#2878b9"/><stop offset="0.589" stop-color="#509bcb"/><stop offset="0.603" stop-color="#76b4d8"/><stop offset="0.622" stop-color="#add0e6"/><stop offset="0.635" stop-color="#cadef0"/><stop offset="0.667" stop-color="#ecf4fc"/><stop offset="0.69" stop-color="#f7fbff"/><stop offset="0.998" stop-color="#f7fbff"/></linearGradient><linearGradient id="gD122" x1="0" y1="0" x2="0" y2="1"><stop offset="0.00229" stop-color="#08306b"/><stop offset="0.47" stop-color="#08326e"/><stop offset="0.521" stop-color="#083674"/><stop offset="0.534" stop-color="#083e80"/><stop offset="0.553" stop-color="#0b549f"/><stop offset="0.576" stop-color="#2b7bba"/><stop offset="0.594" stop-color="#559fcd"/><stop offset="0.608" stop-color="#7db8da"/><stop offset="0.622" stop-color="#a7cee4"/><stop offset="0.635" stop-color="#c7dcef"/><stop offset="0.667" stop-color="#ebf3fb"/><stop offset="0.69" stop-color="#f6fbff"/><stop offset="0.998" stop-color="#f7fbff"/></linearGradient><linearGradient id="gD123" x1="0" y1="0" x2="0" y2="1"><stop offset="0.00229" stop-color="#08306b"/><stop offset="0.498" stop-color="#08326e"/><stop offset="0.525" stop-color="#083572"/><stop offset="0.544" stop-color="#084488"/><stop offset="0.553" stop-color="#08509a"/><stop offset="0.576" stop-color="#2676b8"/><stop offset="0.594" stop-color="#4e9bcb"/><stop offset="0.608" stop-color="#75b4d8"/><stop offset="0.622" stop-color="#a2cce2"/><stop offset="0.635" stop-color="#c3daee"/><stop offset="0.663" stop-color="#e5eff9"/><stop offset="0.686" stop-color="#f5fafe"/><stop offset="0.998" stop-color="#f7fbff"/></linearGradient><linearGradient id="gD124" x1="0" y1="0" x2="0" y2="1"><stop offset="0.00229" stop-color="#08306b"/><stop offset="0.521" stop-color="#08326e"/><stop offset="0.534" stop-color="#083876"/><stop offset="0.553" stop-color="#084c94"/><stop offset="0.562" stop-color="#0e59a2"/><stop offset="0.58" stop-color="#2a7aba"/><stop offset="0.599" stop-color="#559fcd"/><stop offset="0.612" stop-color="#7db8da"/><stop offset="0.626" stop-color="#a8cee4"/><stop offset="0.64" stop-color="#c8dcf0"/><stop offset="0.672" stop-color="#ebf4fb"/><stop offset="0.695" stop-color="#f7fbff"/><stop offset="0.998" stop-color="#f7fbff"/></linearGradient><linearGradient id="gD125" x1="0" y1="0" x2="0" y2="1"><stop offset="0.00229" stop-color="#08306b"/><stop offset="0.525" stop-color="#08316d"/><stop offset="0.539" stop-color="#083978"/><stop offset="0.557" stop-color="#084e98"/><stop offset="0.576" stop-color="#1e6db2"/><stop offset="0.594" stop-color="#4292c6"/><stop offset="0.612" stop-color="#76b4d8"/><stop offset="0.626" stop-color="#a3cce3"/><stop offset="0.64" stop-color="#c5daef"/><stop offset="0.672" stop-color="#eaf3fb"/><stop offset="0.695" stop-color="#f6fbff"/><stop offset="0.998" stop-color="#f7fbff"/></linearGradient><linearGradient id="gD126" x1="0" y1="0" x2="0" y2="1"><stop offset="0.00229" stop-color="#08306b"/><stop offset="0.53" stop-color="#08316d"/><stop offset="0.544" stop-color="#083b7b"/><stop offset="0.562" stop-color="#09529d"/><stop offset="0.585" stop-color="#2b7bba"/><stop offset="0.603" stop-color="#569fce"/><stop offset="0.622" stop-color="#8fc2de"/><stop offset="0.635" stop-color="#b5d4e9"/><stop offset="0.649" stop-color="#cfe1f2"/><stop offset="0.677" stop-color="#edf4fc"/><stop offset="0.7" stop-color="#f7fbff"/><stop offset="0.998" stop-color="#f7fbff"/></linearGradient><linearGradient id="gD127" x1="0" y1="0" x2="0" y2="1"><stop offset="0.00229" stop-color="#08306b"/><stop offset="0.53" stop-color="#08316c"/><stop offset="0.544" stop-color="#083978"/><stop offset="0.562" stop-color="#084f99"/><stop offset="0.58" stop-color="#1f6eb3"/><stop offset="0.599" stop-color="#4494c7"/><stop offset="0.617" stop-color="#7ab6d9"/><stop offset="0.631" stop-color="#a6cde4"/><stop offset="0.644" stop-color="#c7dcef"/><stop offset="0.677" stop-color="#ebf4fb"/><stop offset="0.7" stop-color="#f7fbff"/><stop offset="0.998" stop-color="#f7fbff"/></linearGradient><linearGradient id="gD128" x1="0" y1="0" x2="0" y2="1"><stop offset="0.00229" stop-color="#08306b"/><stop offset="0.53" stop-color="#08316c"/><stop offset="0.544" stop-color="#083877"/><stop offset="0.567" stop-color="#0a549e"/><stop offset="0.585" stop-color="#2474b7"/><stop offset="0.603" stop-color="#4d99ca"/><stop offset="0.622" stop-color="#84bcdb"/><stop offset="0.635" stop-color="#aed1e6"/><stop offset="0.644" stop-color="#c4daee"/><stop offset="0.672" stop-color="#e6f0fa"/><stop offset="0.695" stop-color="#f5fafe"/><stop offset="0.998" stop-color="#f7fbff"/></linearGradient><linearGradient id="gD129" x1="0" y1="0" x2="0" y2="1"><stop offset="0.00229" stop-color="#08306b"/><stop offset="0.53" stop-color="#08306c"/><stop offset="0.544" stop-color="#083776"/><stop offset="0.562" stop-color="#084c94"/><stop offset="0.571" stop-color="#0f59a3"/><stop offset="0.589" stop-color="#2b7bba"/><stop offset="0.608" stop-color="#569fce"/><stop offset="0.622" stop-color="#80b9da"/><stop offset="0.635" stop-color="#aacfe5"/><stop offset="0.649" stop-color="#c9ddf0"/><stop offset="0.681" stop-color="#edf5fc"/><stop offset="0.704" stop-color="#f7fbff"/><stop offset="0.998" stop-color="#f7fbff"/></linearGradient><linearGradient id="gD130" x1="0" y1="0" x2="0" y2="1"><stop offset="0.00229" stop-color="#08306b"/><stop offset="0.534" stop-color="#08316d"/><stop offset="0.553" stop-color="#083f81"/><stop offset="0.567" stop-color="#08519c"/><stop offset="0.589" stop-color="#2979b9"/><stop offset="0.608" stop-color="#539ecd"/><stop offset="0.622" stop-color="#7cb7da"/><stop offset="0.635" stop-color="#a7cee4"/><stop offset="0.649" stop-color="#c8dcf0"/><stop offset="0.681" stop-color="#ecf4fc"/><stop offset="0.704" stop-color="#f7fbff"/><stop offset="0.998" stop-color="#f7fbff"/></linearGradient><linearGradient id="gD131" x1="0" y1="0" x2="0" y2="1"><stop offset="0.00229" stop-color="#08306b"/><stop offset="0.534" stop-color="#08316d"/><stop offset="0.548" stop-color="#083a79"/><stop offset="0.567" stop-color="#08509a"/><stop offset="0.589" stop-color="#2777b8"/><stop offset="0.608" stop-color="#519ccc"/><stop offset="0.622" stop-color="#79b6d9"/><stop offset="0.635" stop-color="#a5cde4"/><stop offset="0.649" stop-color="#c7dcef"/><stop offset="0.681" stop-color="#ecf4fb"/><stop offset="0.704" stop-color="#f7fbff"/><stop offset="0.998" stop-color="#f7fbff"/></linearGradient><linearGradient id="gD132" x1="0" y1="0" x2="0" y2="1"><stop offset="0.00229" stop-color="#08306b"/><stop offset="0.534" stop-color="#08316c"/><stop offset="0.548" stop-color="#083979"/><stop offset="0.567" stop-color="#084f99"/><stop offset="0.589" stop-color="#2676b8"/><stop offset="0.608" stop-color="#4f9bcb"/><stop offset="0.622" stop-color="#77b5d9"/><stop offset="0.635" stop-color="#a4cce3"/><stop offset="0.649" stop-color="#c6dbef"/><stop offset="0.681" stop-color="#ebf3fb"/><stop offset="0.704" stop-color="#f7fbff"/><stop offset="0.998" stop-color="#f7fbff"/></linearGradient><linearGradient id="gD133" x1="0" y1="0" x2="0" y2="1"><stop offset="0.00229" stop-color="#08306b"/><stop offset="0.534" stop-color="#08316c"/><stop offset="0.548" stop-color="#083978"/><stop offset="0.567" stop-color="#084e98"/><stop offset="0.585" stop-color="#1e6db2"/><stop offset="0.603" stop-color="#4292c6"/><stop offset="0.622" stop-color="#76b4d8"/><stop offset="0.635" stop-color="#a3cce3"/><stop offset="0.649" stop-color="#c5daef"/><stop offset="0.681" stop-color="#ebf3fb"/><stop offset="0.704" stop-color="#f7fbff"/><stop offset="0.998" stop-color="#f7fbff"/></linearGradient><linearGradient id="gD134" x1="0" y1="0" x2="0" y2="1"><stop offset="0.00229" stop-color="#08306b"/><stop offset="0.534" stop-color="#08316c"/><stop offset="0.548" stop-color="#083978"/><stop offset="0.571" stop-color="#0b559f"/><stop offset="0.589" stop-color="#2575b7"/><stop offset="0.608" stop-color="#4e9aca"/><stop offset="0.622" stop-color="#75b3d8"/><stop offset="0.635" stop-color="#a2cce2"/><stop offset="0.649" stop-color="#c4daee"/><stop offset="0.681" stop-color="#ebf3fb"/><stop offset="0.704" stop-color="#f7fbff"/><stop offset="0.998" stop-color="#f7fbff"/></linearGradient><linearGradient id="gD135" x1="0" y1="0" x2="0" y2="1"><stop offset="0.00229" stop-color="#08306b"/><stop offset="0.534" stop-color="#08316c"/><stop offset="0.548" stop-color="#083978"/><stop offset="0.571" stop-color="#0b559f"/><stop offset="0.589" stop-color="#2575b7"/><stop offset="0.608" stop-color="#4d9aca"/><stop offset="0.622" stop-color="#75b3d8"/><stop offset="0.635" stop-color="#a2cce2"/><stop offset="0.649" stop-color="#c4daee"/><stop offset="0.677" stop-color="#e6f0fa"/><stop offset="0.7" stop-color="#f6faff"/><stop offset="0.998" stop-color="#f7fbff"/></linearGradient><linearGradient id="gD136" x1="0" y1="0" x2="0" y2="1"><stop offset="0.00229" stop-color="#08306b"/><stop offset="0.534" stop-color="#08316c"/><stop offset="0.548" stop-color="#083978"/><stop offset="0.571" stop-color="#0b559f"/><stop offset="0.589" stop-color="#2575b7"/><stop offset="0.608" stop-color="#4d9aca"/><stop offset="0.622" stop-color="#75b3d8"/><stop offset="0.635" stop-color="#a2cce2"/><stop offset="0.649" stop-color="#c4daee"/><stop offset="0.677" stop-color="#e6f0fa"/><stop offset="0.7" stop-color="#f6faff"/><stop offset="0.998" stop-color="#f7fbff"/></linearGradient><linearGradient id="gD137" x1="0" y1="0" x2="0" y2="1"><stop offset="0.00229" stop-color="#08306b"/><stop offset="0.534" stop-color="#08316c"/><stop offset="0.548" stop-color="#083978"/><stop offset="0.571" stop-color="#0b559f"/><stop offset="0.589" stop-color="#2575b7"/><stop offset="0.608" stop-color="#4d9aca"/><stop offset="0.622" stop-color="#75b3d8"/><stop offset="0.635" stop-color="#a2cce2"/><stop offset="0.649" stop-color="#c4daee"/><stop offset="0.677" stop-color="#e6f0fa"/><stop offset="0.7" stop-color="#f6faff"/><stop offset="0.998" stop-color="#f7fbff"/></linearGradient><linearGradient id="gD138" x1="0" y1="0" x2="0" y2="1"><stop offset="0.00229" stop-color="#08306b"/><stop offset="0.534" stop-color="#08316c"/><stop offset="0.548" stop-color="#083978"/><stop offset="0.571" stop-color="#0b559f"/><stop offset="0.589" stop-color="#2575b7"/><stop offset="0.608" stop-color="#4d9aca"/><stop offset="0.622" stop-color="#75b3d8"/><stop offset="0.635" stop-color="#a2cce2"/><stop offset="0.649" stop-color="#c4daee"/><stop offset="0.677" stop-color="#e6f0fa"/><stop offset="0.7" stop-color="#f6faff"/><stop offset="0.998" stop-color="#f7fbff"/></linearGradient><linearGradient id="gD139" x1="0" y1="0" x2="0" y2="1"><stop offset="0.00229" stop-color="#08306b"/><stop offset="0.534" stop-color="#08316c"/><stop offset="0.548" stop-color="#083978"/><stop offset="0.571" stop-color="#0b559f"/><stop offset="0.589" stop-color="#2575b7"/><stop offset="0.608" stop-color="#4d9aca"/><stop offset="0.622" stop-color="#75b3d8"/><stop offset="0.635" stop-color="#a2cce2"/><stop offset="0.649" stop-color="#c4daee"/><stop offset="0.677" stop-color="#e6f0fa"/><stop offset="0.7" stop-color="#f6faff"/><stop offset="0.998" stop-color="#f7fbff"/></linearGradient><linearGradient id="gD140" x1="0" y1="0" x2="0" y2="1"><stop offset="0.00229" stop-color="#08306b"/><stop offset="0.534" stop-color="#08316c"/><stop offset="0.548" stop-color="#083978"/><stop offset="0.571" stop-color="#0b559f"/><stop offset="0.589" stop-color="#2575b7"/><stop offset="0.608" stop-color="#4d9aca"/><stop offset="0.622" stop-color="#75b3d8"/><stop offset="0.635" stop-color="#a2cce2"/><stop offset="0.649" stop-color="#c4daee"/><stop offset="0.677" stop-color="#e6f0fa"/><stop offset="0.7" stop-color="#f6faff"/><stop offset="0.998" stop-color="#f7fbff"/></linearGradient><linearGradient id="gD141" x1="0" y1="0" x2="0" y2="1"><stop offset="0.00229" stop-color="#08306b"/><stop offset="0.534" stop-color="#08316c"/><stop offset="0.548" stop-color="#083978"/><stop offset="0.571" stop-color="#0b559f"/><stop offset="0.589" stop-color="#2575b7"/><stop offset="0.608" stop-color="#4d9aca"/><stop offset="0.622" stop-color="#75b3d8"/><stop offset="0.635" stop-color="#a2cce2"/><stop offset="0.649" stop-color="#c4daee"/><stop offset="0.677" stop-color="#e6f0fa"/><stop offset="0.7" stop-color="#f6faff"/><stop offset="0.998" stop-color="#f7fbff"/></linearGradient><linearGradient id="gD142" x1="0" y1="0" x2="0" y2="1"><stop offset="0.00229" stop-color="#08306b"/><stop offset="0.534" stop-color="#08316c"/><stop offset="0.548" stop-color="#083978"/><stop offset="0.571" stop-color="#0b559f"/><stop offset="0.589" stop-color="#2575b7"/><stop offset="0.608" stop-color="#4d9aca"/><stop offset="0.622" stop-color="#75b3d8"/><stop offset="0.635" stop-color="#a2cce2"/><stop offset="0.649" stop-color="#c4daee"/><stop offset="0.677" stop-color="#e6f0fa"/><stop offset="0.7" stop-color="#f6faff"/><stop offset="0.998" stop-color="#f7fbff"/></linearGradient><linearGradient id="gD143" x1="0" y1="0" x2="0" y2="1"><stop offset="0.00229" stop-color="#08306b"/><stop offset="0.534" stop-color="#08316c"/><stop offset="0.548" stop-color="#083978"/><stop offset="0.571" stop-color="#0b559f"/><stop offset="0.589" stop-color="#2575b7"/><stop offset="0.608" stop-color="#4d9aca"/><stop offset="0.622" stop-color="#75b3d8"/><stop offset="0.635" stop-color="#a2cce2"/><stop offset="0.649" stop-color="#c4daee"/><stop offset="0.677" stop-color="#e6f0fa"/><stop offset="0.7" stop-color="#f6faff"/><stop offset="0.998" stop-color="#f7fbff"/></linearGradient><linearGradient id="gD144" x1="0" y1="0" x2="0" y2="1"><stop offset="0.00229" stop-color="#08306b"/><stop offset="0.534" stop-color="#08316c"/><stop offset="0.548" stop-color="#083978"/><stop offset="0.571" stop-color="#0b559f"/><stop offset="0.589" stop-color="#2575b7"/><stop offset="0.608" stop-color="#4d9aca"/><stop offset="0.622" stop-color="#75b3d8"/><stop offset="0.635" stop-color="#a2cce2"/><stop offset="0.649" stop-color="#c4daee"/><stop offset="0.677" stop-color="#e6f0fa"/><stop offset="0.7" stop-color="#f6faff"/><stop offset="0.998" stop-color="#f7fbff"/></linearGradient><linearGradient id="gD145" x1="0" y1="0" x2="0" y2="1"><stop offset="0.00229" stop-color="#08306b"/><stop offset="0.534" stop-color="#08316c"/><stop offset="0.548" stop-color="#083978"/><stop offset="0.571" stop-color="#0b559f"/><stop offset="0.589" stop-color="#2575b7"/><stop offset="0.608" stop-color="#4d9aca"/><stop offset="0.622" stop-color="#75b3d8"/><stop offset="0.635" stop-color="#a2cce2"/><stop offset="0.649" stop-color="#c4daee"/><stop offset="0.677" stop-color="#e6f0fa"/><stop offset="0.7" stop-color="#f6faff"/><stop offset="0.998" stop-color="#f7fbff"/></linearGradient><linearGradient id="gD146" x1="0" y1="0" x2="0" y2="1"><stop offset="0.00229" stop-color="#083878"/><stop offset="0.0619" stop-color="#083775"/><stop offset="0.0711" stop-color="#083471"/><stop offset="0.149" stop-color="#08336f"/><stop offset="0.158" stop-color="#08306b"/><stop offset="0.534" stop-color="#08316c"/><stop offset="0.548" stop-color="#083978"/><stop offset="0.571" stop-color="#0b559f"/><stop offset="0.589" stop-color="#2575b7"/><stop offset="0.608" stop-color="#4d9aca"/><stop offset="0.622" stop-color="#75b3d8"/><stop offset="0.635" stop-color="#a2cce2"/><stop offset="0.649" stop-color="#c4daee"/><stop offset="0.677" stop-color="#e6f0fa"/><stop offset="0.7" stop-color="#f6faff"/><stop offset="0.998" stop-color="#f7fbff"/></linearGradient><linearGradient id="gD147" x1="0" y1="0" x2="0" y2="1"><stop offset="0.00229" stop-color="#083d7e"/><stop offset="0.232" stop-color="#083674"/><stop offset="0.245" stop-color="#083370"/><stop offset="0.314" stop-color="#08326f"/><stop offset="0.328" stop-color="#08306b"/><stop offset="0.534" stop-color="#08316c"/><stop offset="0.548" stop-color="#083978"/><stop offset="0.571" stop-color="#0b559f"/><stop offset="0.589" stop-color="#2575b7"/><stop offset="0.608" stop-color="#4d9aca"/><stop offset="0.622" stop-color="#75b3d8"/><stop offset="0.635" stop-color="#a2cce2"/><stop offset="0.649" stop-color="#c4daee"/><stop offset="0.677" stop-color="#e6f0fa"/><stop offset="0.7" stop-color="#f6faff"/><stop offset="0.998" stop-color="#f7fbff"/></linearGradient><linearGradient id="gD148" x1="0" y1="0" x2="0" y2="1"><stop offset="0.00229" stop-color="#084184"/><stop offset="0.397" stop-color="#083673"/><stop offset="0.411" stop-color="#083370"/><stop offset="0.479" stop-color="#08326e"/><stop offset="0.493" stop-color="#08306b"/><stop offset="0.534" stop-color="#08316c"/><stop offset="0.548" stop-color="#083978"/><stop offset="0.571" stop-color="#0b559f"/><stop offset="0.589" stop-color="#2575b7"/><stop offset="0.608" stop-color="#4d9aca"/><stop offset="0.622" stop-color="#75b3d8"/><stop offset="0.635" stop-color="#a2cce2"/><stop offset="0.649" stop-color="#c4daee"/><stop offset="0.677" stop-color="#e6f0fa"/><stop offset="0.7" stop-color="#f6faff"/><stop offset="0.998" stop-color="#f7fbff"/></linearGradient><linearGradient id="gD149" x1="0" y1="0" x2="0" y2="1"><stop offset="0.00229" stop-color="#084489"/><stop offset="0.53" stop-color="#083674"/><stop offset="0.544" stop-color="#083b7b"/><stop offset="0.567" stop-color="#09519b"/><stop offset="0.589" stop-color="#2777b8"/><stop offset="0.608" stop-color="#4f9bcb"/><stop offset="0.622" stop-color="#77b4d8"/><stop offset="0.635" stop-color="#a3cce3"/><stop offset="0.649" stop-color="#c4daee"/><stop offset="0.677" stop-color="#e6f0fa"/><stop offset="0.7" stop-color="#f6faff"/><stop offset="0.998" stop-color="#f7fbff"/></linearGradient><linearGradient id="gD150" x1="0" y1="0" x2="0" y2="1"><stop offset="0.00229" stop-color="#08488f"/><stop offset="0.53" stop-color="#083979"/><stop offset="0.544" stop-color="#083e80"/><stop offset="0.562" stop-color="#08509a"/><stop offset="0.585" stop-color="#2272b6"/><stop offset="0.603" stop-color="#4796c8"/><stop offset="0.622" stop-color="#7ab6d9"/><stop offset="0.635" stop-color="#a5cde3"/><stop offset="0.649" stop-color="#c6dbef"/><stop offset="0.681" stop-color="#ebf3fb"/><stop offset="0.704" stop-color="#f7fbff"/><stop offset="0.998" stop-color="#f7fbff"/></linearGradient><linearGradient id="gD151" x1="0" y1="0" x2="0" y2="1"><stop offset="0.00229" stop-color="#084b94"/><stop offset="0.502" stop-color="#083d7f"/><stop offset="0.534" stop-color="#083d7f"/><stop offset="0.553" stop-color="#08488f"/><stop offset="0.562" stop-color="#09529d"/><stop offset="0.585" stop-color="#2575b7"/><stop offset="0.603" stop-color="#4a97c9"/><stop offset="0.622" stop-color="#7db8da"/><stop offset="0.635" stop-color="#a6cee4"/><stop offset="0.649" stop-color="#c7dbef"/><stop offset="0.681" stop-color="#ebf3fb"/><stop offset="0.704" stop-color="#f7fbff"/><stop offset="0.998" stop-color="#f7fbff"/></linearGradient><linearGradient id="gD152" x1="0" y1="0" x2="0" y2="1"><stop offset="0.00229" stop-color="#084f99"/><stop offset="0.475" stop-color="#084184"/><stop offset="0.534" stop-color="#084083"/><stop offset="0.553" stop-color="#084b94"/><stop offset="0.562" stop-color="#0b559f"/><stop offset="0.585" stop-color="#2777b8"/><stop offset="0.603" stop-color="#4c99ca"/><stop offset="0.622" stop-color="#7fb9da"/><stop offset="0.635" stop-color="#a8cee4"/><stop offset="0.649" stop-color="#c7dcef"/><stop offset="0.681" stop-color="#ebf3fb"/><stop offset="0.704" stop-color="#f7fbff"/><stop offset="0.998" stop-color="#f7fbff"/></linearGradient><linearGradient id="gD153" x1="0" y1="0" x2="0" y2="1"><stop offset="0.00229" stop-color="#09529d"/><stop offset="0.479" stop-color="#084488"/><stop offset="0.534" stop-color="#084388"/><stop offset="0.553" stop-color="#084e98"/><stop offset="0.571" stop-color="#1764ab"/><stop offset="0.589" stop-color="#3282be"/><stop offset="0.603" stop-color="#4f9bcb"/><stop offset="0.622" stop-color="#81badb"/><stop offset="0.635" stop-color="#a9cfe5"/><stop offset="0.649" stop-color="#c8dcf0"/><stop offset="0.681" stop-color="#ebf3fb"/><stop offset="0.704" stop-color="#f7fbff"/><stop offset="0.998" stop-color="#f7fbff"/></linearGradient><linearGradient id="gD154" x1="0" y1="0" x2="0" y2="1"><stop offset="0.00229" stop-color="#0b559f"/><stop offset="0.53" stop-color="#08458b"/><stop offset="0.548" stop-color="#084d96"/><stop offset="0.562" stop-color="#0f5aa3"/><stop offset="0.58" stop-color="#2474b7"/><stop offset="0.599" stop-color="#4695c7"/><stop offset="0.617" stop-color="#75b3d8"/><stop offset="0.635" stop-color="#aacfe5"/><stop offset="0.649" stop-color="#c8ddf0"/><stop offset="0.681" stop-color="#ebf4fb"/><stop offset="0.704" stop-color="#f7fbff"/><stop offset="0.998" stop-color="#f7fbff"/></linearGradient><linearGradient id="gD155" x1="0" y1="0" x2="0" y2="1"><stop offset="0.00229" stop-color="#0d58a1"/><stop offset="0.369" stop-color="#084b93"/><stop offset="0.534" stop-color="#084990"/><stop offset="0.553" stop-color="#0a539e"/><stop offset="0.576" stop-color="#1f6fb3"/><stop offset="0.599" stop-color="#4896c8"/><stop offset="0.617" stop-color="#77b5d9"/><stop offset="0.635" stop-color="#acd0e6"/><stop offset="0.649" stop-color="#c9ddf0"/><stop offset="0.681" stop-color="#ebf4fb"/><stop offset="0.704" stop-color="#f7fbff"/><stop offset="0.998" stop-color="#f7fbff"/></linearGradient><linearGradient id="gD156" x1="0" y1="0" x2="0" y2="1"><stop offset="0.00229" stop-color="#0f5aa3"/><stop offset="0.378" stop-color="#084d96"/><stop offset="0.534" stop-color="#084b94"/><stop offset="0.553" stop-color="#0c56a0"/><stop offset="0.576" stop-color="#2171b5"/><stop offset="0.599" stop-color="#4a98c9"/><stop offset="0.617" stop-color="#79b6d9"/><stop offset="0.635" stop-color="#add0e6"/><stop offset="0.649" stop-color="#c9ddf0"/><stop offset="0.681" stop-color="#ecf4fb"/><stop offset="0.704" stop-color="#f7fbff"/><stop offset="0.998" stop-color="#f7fbff"/></linearGradient><linearGradient id="gD157" x1="0" y1="0" x2="0" y2="1"><stop offset="0.00229" stop-color="#115da5"/><stop offset="0.42" stop-color="#084f99"/><stop offset="0.534" stop-color="#084e97"/><stop offset="0.553" stop-color="#0d58a1"/><stop offset="0.576" stop-color="#2373b6"/><stop offset="0.599" stop-color="#4c99ca"/><stop offset="0.617" stop-color="#7bb7da"/><stop offset="0.635" stop-color="#aed1e7"/><stop offset="0.649" stop-color="#cadef0"/><stop offset="0.681" stop-color="#ecf4fb"/><stop offset="0.704" stop-color="#f7fbff"/><stop offset="0.998" stop-color="#f7fbff"/></linearGradient><linearGradient id="gD158" x1="0" y1="0" x2="0" y2="1"><stop offset="0.00229" stop-color="#135fa7"/><stop offset="0.479" stop-color="#08509b"/><stop offset="0.539" stop-color="#08519c"/><stop offset="0.562" stop-color="#1663aa"/><stop offset="0.58" stop-color="#2c7cbb"/><stop offset="0.599" stop-color="#4e9acb"/><stop offset="0.617" stop-color="#7db8da"/><stop offset="0.631" stop-color="#a4cde3"/><stop offset="0.644" stop-color="#c3daee"/><stop offset="0.677" stop-color="#e8f1fa"/><stop offset="0.704" stop-color="#f7fbff"/><stop offset="0.998" stop-color="#f7fbff"/></linearGradient><linearGradient id="gD159" x1="0" y1="0" x2="0" y2="1"><stop offset="0.00229" stop-color="#1461a8"/><stop offset="0.47" stop-color="#09529d"/><stop offset="0.539" stop-color="#0a549e"/><stop offset="0.562" stop-color="#1865ac"/><stop offset="0.58" stop-color="#2e7ebc"/><stop offset="0.599" stop-color="#509ccb"/><stop offset="0.617" stop-color="#7fb9da"/><stop offset="0.631" stop-color="#a6cde4"/><stop offset="0.644" stop-color="#c4daee"/><stop offset="0.677" stop-color="#e8f2fa"/><stop offset="0.704" stop-color="#f7fbff"/><stop offset="0.998" stop-color="#f7fbff"/></linearGradient><linearGradient id="gD160" x1="0" y1="0" x2="0" y2="1"><stop offset="0.00229" stop-color="#1663aa"/><stop offset="0.461" stop-color="#0b549f"/><stop offset="0.539" stop-color="#0b559f"/><stop offset="0.562" stop-color="#1967ad"/><stop offset="0.58" stop-color="#3080bc"/><stop offset="0.599" stop-color="#529dcc"/><stop offset="0.617" stop-color="#81badb"/><stop offset="0.631" stop-color="#a7cee4"/><stop offset="0.644" stop-color="#c5dbef"/><stop offset="0.681" stop-color="#ecf4fb"/><stop offset="0.704" stop-color="#f7fbff"/><stop offset="0.998" stop-color="#f7fbff"/></linearGradient><linearGradient id="gD161" x1="0" y1="0" x2="0" y2="1"><stop offset="0.00229" stop-color="#1764ab"/><stop offset="0.456" stop-color="#0c56a0"/><stop offset="0.539" stop-color="#0d57a1"/><stop offset="0.562" stop-color="#1a69ae"/><stop offset="0.58" stop-color="#3181bd"/><stop offset="0.599" stop-color="#539ecd"/><stop offset="0.612" stop-color="#75b3d8"/><stop offset="0.631" stop-color="#a8cee4"/><stop offset="0.644" stop-color="#c6dbef"/><stop offset="0.681" stop-color="#ecf4fc"/><stop offset="0.704" stop-color="#f7fbff"/><stop offset="0.998" stop-color="#f7fbff"/></linearGradient><linearGradient id="gD162" x1="0" y1="0" x2="0" y2="1"><stop offset="0.00229" stop-color="#1866ac"/><stop offset="0.452" stop-color="#0d58a1"/><stop offset="0.539" stop-color="#0e59a2"/><stop offset="0.562" stop-color="#1c6ab0"/><stop offset="0.585" stop-color="#3a8ac2"/><stop offset="0.608" stop-color="#69add5"/><stop offset="0.631" stop-color="#a8cee5"/><stop offset="0.644" stop-color="#c6dbef"/><stop offset="0.681" stop-color="#ecf4fc"/><stop offset="0.704" stop-color="#f7fbff"/><stop offset="0.998" stop-color="#f7fbff"/></linearGradient><clipPath id="gDc"><rect x="68.10" y="536.00" width="326.10" height="109.10"/></clipPath><filter id="gDf" x="-2%" y="-2%" width="104%" height="104%" color-interpolation-filters="sRGB"><feGaussianBlur stdDeviation="1.10 0"/></filter></defs>
<g clip-path="url(#gDc)"><g filter="url(#gDf)"><rect x="63.10" y="536.00" width="8.30" height="109.10" fill="url(#gD0)"/><rect x="70.10" y="536.00" width="3.30" height="109.10" fill="url(#gD1)"/><rect x="72.10" y="536.00" width="3.30" height="109.10" fill="url(#gD2)"/><rect x="74.10" y="536.00" width="3.30" height="109.10" fill="url(#gD3)"/><rect x="76.10" y="536.00" width="3.30" height="109.10" fill="url(#gD4)"/><rect x="78.10" y="536.00" width="3.30" height="109.10" fill="url(#gD5)"/><rect x="80.10" y="536.00" width="3.30" height="109.10" fill="url(#gD6)"/><rect x="82.10" y="536.00" width="3.30" height="109.10" fill="url(#gD7)"/><rect x="84.10" y="536.00" width="3.30" height="109.10" fill="url(#gD8)"/><rect x="86.11" y="536.00" width="3.30" height="109.10" fill="url(#gD9)"/><rect x="88.11" y="536.00" width="3.30" height="109.10" fill="url(#gD10)"/><rect x="90.11" y="536.00" width="3.30" height="109.10" fill="url(#gD11)"/><rect x="92.11" y="536.00" width="3.30" height="109.10" fill="url(#gD12)"/><rect x="94.11" y="536.00" width="3.30" height="109.10" fill="url(#gD13)"/><rect x="96.11" y="536.00" width="3.30" height="109.10" fill="url(#gD14)"/><rect x="98.11" y="536.00" width="3.30" height="109.10" fill="url(#gD15)"/><rect x="100.11" y="536.00" width="3.30" height="109.10" fill="url(#gD16)"/><rect x="102.11" y="536.00" width="3.30" height="109.10" fill="url(#gD17)"/><rect x="104.11" y="536.00" width="3.30" height="109.10" fill="url(#gD18)"/><rect x="106.11" y="536.00" width="3.30" height="109.10" fill="url(#gD19)"/><rect x="108.11" y="536.00" width="3.30" height="109.10" fill="url(#gD20)"/><rect x="110.11" y="536.00" width="3.30" height="109.10" fill="url(#gD21)"/><rect x="112.11" y="536.00" width="3.30" height="109.10" fill="url(#gD22)"/><rect x="114.11" y="536.00" width="3.30" height="109.10" fill="url(#gD23)"/><rect x="116.11" y="536.00" width="3.30" height="109.10" fill="url(#gD24)"/><rect x="118.12" y="536.00" width="3.30" height="109.10" fill="url(#gD25)"/><rect x="120.12" y="536.00" width="3.30" height="109.10" fill="url(#gD26)"/><rect x="122.12" y="536.00" width="3.30" height="109.10" fill="url(#gD27)"/><rect x="124.12" y="536.00" width="3.30" height="109.10" fill="url(#gD28)"/><rect x="126.12" y="536.00" width="3.30" height="109.10" fill="url(#gD29)"/><rect x="128.12" y="536.00" width="3.30" height="109.10" fill="url(#gD30)"/><rect x="130.12" y="536.00" width="3.30" height="109.10" fill="url(#gD31)"/><rect x="132.12" y="536.00" width="3.30" height="109.10" fill="url(#gD32)"/><rect x="134.12" y="536.00" width="3.30" height="109.10" fill="url(#gD33)"/><rect x="136.12" y="536.00" width="3.30" height="109.10" fill="url(#gD34)"/><rect x="138.12" y="536.00" width="3.30" height="109.10" fill="url(#gD35)"/><rect x="140.12" y="536.00" width="3.30" height="109.10" fill="url(#gD36)"/><rect x="142.12" y="536.00" width="3.30" height="109.10" fill="url(#gD37)"/><rect x="144.12" y="536.00" width="3.30" height="109.10" fill="url(#gD38)"/><rect x="146.12" y="536.00" width="3.30" height="109.10" fill="url(#gD39)"/><rect x="148.12" y="536.00" width="3.30" height="109.10" fill="url(#gD40)"/><rect x="150.13" y="536.00" width="3.30" height="109.10" fill="url(#gD41)"/><rect x="152.13" y="536.00" width="3.30" height="109.10" fill="url(#gD42)"/><rect x="154.13" y="536.00" width="3.30" height="109.10" fill="url(#gD43)"/><rect x="156.13" y="536.00" width="3.30" height="109.10" fill="url(#gD44)"/><rect x="158.13" y="536.00" width="3.30" height="109.10" fill="url(#gD45)"/><rect x="160.13" y="536.00" width="3.30" height="109.10" fill="url(#gD46)"/><rect x="162.13" y="536.00" width="3.30" height="109.10" fill="url(#gD47)"/><rect x="164.13" y="536.00" width="3.30" height="109.10" fill="url(#gD48)"/><rect x="166.13" y="536.00" width="3.30" height="109.10" fill="url(#gD49)"/><rect x="168.13" y="536.00" width="3.30" height="109.10" fill="url(#gD50)"/><rect x="170.13" y="536.00" width="3.30" height="109.10" fill="url(#gD51)"/><rect x="172.13" y="536.00" width="3.30" height="109.10" fill="url(#gD52)"/><rect x="174.13" y="536.00" width="3.30" height="109.10" fill="url(#gD53)"/><rect x="176.13" y="536.00" width="3.30" height="109.10" fill="url(#gD54)"/><rect x="178.13" y="536.00" width="3.30" height="109.10" fill="url(#gD55)"/><rect x="180.13" y="536.00" width="3.30" height="109.10" fill="url(#gD56)"/><rect x="182.13" y="536.00" width="3.30" height="109.10" fill="url(#gD57)"/><rect x="184.14" y="536.00" width="3.30" height="109.10" fill="url(#gD58)"/><rect x="186.14" y="536.00" width="3.30" height="109.10" fill="url(#gD59)"/><rect x="188.14" y="536.00" width="3.30" height="109.10" fill="url(#gD60)"/><rect x="190.14" y="536.00" width="3.30" height="109.10" fill="url(#gD61)"/><rect x="192.14" y="536.00" width="3.30" height="109.10" fill="url(#gD62)"/><rect x="194.14" y="536.00" width="3.30" height="109.10" fill="url(#gD63)"/><rect x="196.14" y="536.00" width="3.30" height="109.10" fill="url(#gD64)"/><rect x="198.14" y="536.00" width="3.30" height="109.10" fill="url(#gD65)"/><rect x="200.14" y="536.00" width="3.30" height="109.10" fill="url(#gD66)"/><rect x="202.14" y="536.00" width="3.30" height="109.10" fill="url(#gD67)"/><rect x="204.14" y="536.00" width="3.30" height="109.10" fill="url(#gD68)"/><rect x="206.14" y="536.00" width="3.30" height="109.10" fill="url(#gD69)"/><rect x="208.14" y="536.00" width="3.30" height="109.10" fill="url(#gD70)"/><rect x="210.14" y="536.00" width="3.30" height="109.10" fill="url(#gD71)"/><rect x="212.14" y="536.00" width="3.30" height="109.10" fill="url(#gD72)"/><rect x="214.14" y="536.00" width="3.30" height="109.10" fill="url(#gD73)"/><rect x="216.15" y="536.00" width="3.30" height="109.10" fill="url(#gD74)"/><rect x="218.15" y="536.00" width="3.30" height="109.10" fill="url(#gD75)"/><rect x="220.15" y="536.00" width="3.30" height="109.10" fill="url(#gD76)"/><rect x="222.15" y="536.00" width="3.30" height="109.10" fill="url(#gD77)"/><rect x="224.15" y="536.00" width="3.30" height="109.10" fill="url(#gD78)"/><rect x="226.15" y="536.00" width="3.30" height="109.10" fill="url(#gD79)"/><rect x="228.15" y="536.00" width="3.30" height="109.10" fill="url(#gD80)"/><rect x="230.15" y="536.00" width="3.30" height="109.10" fill="url(#gD81)"/><rect x="232.15" y="536.00" width="3.30" height="109.10" fill="url(#gD82)"/><rect x="234.15" y="536.00" width="3.30" height="109.10" fill="url(#gD83)"/><rect x="236.15" y="536.00" width="3.30" height="109.10" fill="url(#gD84)"/><rect x="238.15" y="536.00" width="3.30" height="109.10" fill="url(#gD85)"/><rect x="240.15" y="536.00" width="3.30" height="109.10" fill="url(#gD86)"/><rect x="242.15" y="536.00" width="3.30" height="109.10" fill="url(#gD87)"/><rect x="244.15" y="536.00" width="3.30" height="109.10" fill="url(#gD88)"/><rect x="246.15" y="536.00" width="3.30" height="109.10" fill="url(#gD89)"/><rect x="248.16" y="536.00" width="3.30" height="109.10" fill="url(#gD90)"/><rect x="250.16" y="536.00" width="3.30" height="109.10" fill="url(#gD91)"/><rect x="252.16" y="536.00" width="3.30" height="109.10" fill="url(#gD92)"/><rect x="254.16" y="536.00" width="3.30" height="109.10" fill="url(#gD93)"/><rect x="256.16" y="536.00" width="3.30" height="109.10" fill="url(#gD94)"/><rect x="258.16" y="536.00" width="3.30" height="109.10" fill="url(#gD95)"/><rect x="260.16" y="536.00" width="3.30" height="109.10" fill="url(#gD96)"/><rect x="262.16" y="536.00" width="3.30" height="109.10" fill="url(#gD97)"/><rect x="264.16" y="536.00" width="3.30" height="109.10" fill="url(#gD98)"/><rect x="266.16" y="536.00" width="3.30" height="109.10" fill="url(#gD99)"/><rect x="268.16" y="536.00" width="3.30" height="109.10" fill="url(#gD100)"/><rect x="270.16" y="536.00" width="3.30" height="109.10" fill="url(#gD101)"/><rect x="272.16" y="536.00" width="3.30" height="109.10" fill="url(#gD102)"/><rect x="274.16" y="536.00" width="3.30" height="109.10" fill="url(#gD103)"/><rect x="276.16" y="536.00" width="3.30" height="109.10" fill="url(#gD104)"/><rect x="278.16" y="536.00" width="3.30" height="109.10" fill="url(#gD105)"/><rect x="280.17" y="536.00" width="3.30" height="109.10" fill="url(#gD106)"/><rect x="282.17" y="536.00" width="3.30" height="109.10" fill="url(#gD107)"/><rect x="284.17" y="536.00" width="3.30" height="109.10" fill="url(#gD108)"/><rect x="286.17" y="536.00" width="3.30" height="109.10" fill="url(#gD109)"/><rect x="288.17" y="536.00" width="3.30" height="109.10" fill="url(#gD110)"/><rect x="290.17" y="536.00" width="3.30" height="109.10" fill="url(#gD111)"/><rect x="292.17" y="536.00" width="3.30" height="109.10" fill="url(#gD112)"/><rect x="294.17" y="536.00" width="3.30" height="109.10" fill="url(#gD113)"/><rect x="296.17" y="536.00" width="3.30" height="109.10" fill="url(#gD114)"/><rect x="298.17" y="536.00" width="3.30" height="109.10" fill="url(#gD115)"/><rect x="300.17" y="536.00" width="3.30" height="109.10" fill="url(#gD116)"/><rect x="302.17" y="536.00" width="3.30" height="109.10" fill="url(#gD117)"/><rect x="304.17" y="536.00" width="3.30" height="109.10" fill="url(#gD118)"/><rect x="306.17" y="536.00" width="3.30" height="109.10" fill="url(#gD119)"/><rect x="308.17" y="536.00" width="3.30" height="109.10" fill="url(#gD120)"/><rect x="310.17" y="536.00" width="3.30" height="109.10" fill="url(#gD121)"/><rect x="312.17" y="536.00" width="3.30" height="109.10" fill="url(#gD122)"/><rect x="314.18" y="536.00" width="3.30" height="109.10" fill="url(#gD123)"/><rect x="316.18" y="536.00" width="3.30" height="109.10" fill="url(#gD124)"/><rect x="318.18" y="536.00" width="3.30" height="109.10" fill="url(#gD125)"/><rect x="320.18" y="536.00" width="3.30" height="109.10" fill="url(#gD126)"/><rect x="322.18" y="536.00" width="3.30" height="109.10" fill="url(#gD127)"/><rect x="324.18" y="536.00" width="3.30" height="109.10" fill="url(#gD128)"/><rect x="326.18" y="536.00" width="3.30" height="109.10" fill="url(#gD129)"/><rect x="328.18" y="536.00" width="3.30" height="109.10" fill="url(#gD130)"/><rect x="330.18" y="536.00" width="3.30" height="109.10" fill="url(#gD131)"/><rect x="332.18" y="536.00" width="3.30" height="109.10" fill="url(#gD132)"/><rect x="334.18" y="536.00" width="3.30" height="109.10" fill="url(#gD133)"/><rect x="336.18" y="536.00" width="3.30" height="109.10" fill="url(#gD134)"/><rect x="338.18" y="536.00" width="3.30" height="109.10" fill="url(#gD135)"/><rect x="340.18" y="536.00" width="3.30" height="109.10" fill="url(#gD136)"/><rect x="342.18" y="536.00" width="3.30" height="109.10" fill="url(#gD137)"/><rect x="344.18" y="536.00" width="3.30" height="109.10" fill="url(#gD138)"/><rect x="346.19" y="536.00" width="3.30" height="109.10" fill="url(#gD139)"/><rect x="348.19" y="536.00" width="3.30" height="109.10" fill="url(#gD140)"/><rect x="350.19" y="536.00" width="3.30" height="109.10" fill="url(#gD141)"/><rect x="352.19" y="536.00" width="3.30" height="109.10" fill="url(#gD142)"/><rect x="354.19" y="536.00" width="3.30" height="109.10" fill="url(#gD143)"/><rect x="356.19" y="536.00" width="3.30" height="109.10" fill="url(#gD144)"/><rect x="358.19" y="536.00" width="3.30" height="109.10" fill="url(#gD145)"/><rect x="360.19" y="536.00" width="3.30" height="109.10" fill="url(#gD146)"/><rect x="362.19" y="536.00" width="3.30" height="109.10" fill="url(#gD147)"/><rect x="364.19" y="536.00" width="3.30" height="109.10" fill="url(#gD148)"/><rect x="366.19" y="536.00" width="3.30" height="109.10" fill="url(#gD149)"/><rect x="368.19" y="536.00" width="3.30" height="109.10" fill="url(#gD150)"/><rect x="370.19" y="536.00" width="3.30" height="109.10" fill="url(#gD151)"/><rect x="372.19" y="536.00" width="3.30" height="109.10" fill="url(#gD152)"/><rect x="374.19" y="536.00" width="3.30" height="109.10" fill="url(#gD153)"/><rect x="376.19" y="536.00" width="3.30" height="109.10" fill="url(#gD154)"/><rect x="378.20" y="536.00" width="3.30" height="109.10" fill="url(#gD155)"/><rect x="380.20" y="536.00" width="3.30" height="109.10" fill="url(#gD156)"/><rect x="382.20" y="536.00" width="3.30" height="109.10" fill="url(#gD157)"/><rect x="384.20" y="536.00" width="3.30" height="109.10" fill="url(#gD158)"/><rect x="386.20" y="536.00" width="3.30" height="109.10" fill="url(#gD159)"/><rect x="388.20" y="536.00" width="3.30" height="109.10" fill="url(#gD160)"/><rect x="390.20" y="536.00" width="3.30" height="109.10" fill="url(#gD161)"/><rect x="392.20" y="536.00" width="8.30" height="109.10" fill="url(#gD162)"/></g></g>
<rect x="68.10" y="536.00" width="326.10" height="109.10" fill="none" stroke="#333333" stroke-opacity="0.42" stroke-width="0.9"/>
<text x="63.40" y="571.44" font-size="13.80" text-anchor="end" >7</text>
<text x="63.40" y="610.44" font-size="13.80" text-anchor="end" >7.5</text>
<text x="63.40" y="649.44" font-size="13.80" text-anchor="end" >8</text>
<text x="68.10" y="660.10" font-size="13.80" text-anchor="middle" >0</text>
<text x="120.68" y="660.10" font-size="13.80" text-anchor="middle" >2</text>
<text x="173.26" y="660.10" font-size="13.80" text-anchor="middle" >4</text>
<text x="225.84" y="660.10" font-size="13.80" text-anchor="middle" >6</text>
<text x="278.42" y="660.10" font-size="13.80" text-anchor="middle" >8</text>
<text x="331.00" y="660.10" font-size="13.80" text-anchor="middle" >10</text>
<text x="383.58" y="660.10" font-size="13.80" text-anchor="middle" >12</text>
<text x="231.00" y="677.20" font-size="15.90" text-anchor="middle" >time (hour)</text>
<text transform="translate(37.70,589.80) rotate(-90)" font-size="15.90" text-anchor="middle">depth (mm)</text>
<text x="1.80" y="529.50" font-size="16.20" text-anchor="start" font-weight="bold">D</text>
<defs><linearGradient id="cbD" x1="0" y1="0" x2="0" y2="1"><stop offset="0" stop-color="#f7fbff"/><stop offset="0.03125" stop-color="#f1f7fd"/><stop offset="0.0625" stop-color="#eaf3fb"/><stop offset="0.09375" stop-color="#e4eff9"/><stop offset="0.125" stop-color="#deebf7"/><stop offset="0.1562" stop-color="#d8e7f5"/><stop offset="0.1875" stop-color="#d2e3f3"/><stop offset="0.2188" stop-color="#ccdff1"/><stop offset="0.25" stop-color="#c6dbef"/><stop offset="0.2812" stop-color="#bcd7ec"/><stop offset="0.3125" stop-color="#b2d2e8"/><stop offset="0.3438" stop-color="#a8cee4"/><stop offset="0.375" stop-color="#9ecae1"/><stop offset="0.4062" stop-color="#91c3de"/><stop offset="0.4375" stop-color="#84bcdc"/><stop offset="0.4688" stop-color="#78b5d9"/><stop offset="0.5" stop-color="#6baed6"/><stop offset="0.5312" stop-color="#61a7d2"/><stop offset="0.5625" stop-color="#56a0ce"/><stop offset="0.5938" stop-color="#4c99ca"/><stop offset="0.625" stop-color="#4292c6"/><stop offset="0.6562" stop-color="#3a8ac2"/><stop offset="0.6875" stop-color="#3282be"/><stop offset="0.7188" stop-color="#2979b9"/><stop offset="0.75" stop-color="#2171b5"/><stop offset="0.7812" stop-color="#1b69af"/><stop offset="0.8125" stop-color="#1461a8"/><stop offset="0.8438" stop-color="#0e59a2"/><stop offset="0.875" stop-color="#08519c"/><stop offset="0.9062" stop-color="#084990"/><stop offset="0.9375" stop-color="#084084"/><stop offset="0.9688" stop-color="#083877"/><stop offset="1" stop-color="#08306b"/></linearGradient></defs><rect x="408.60" y="534.40" width="10.00" height="115.40" fill="url(#cbD)" stroke="#9a9a9a" stroke-width="0.6"/>
<text x="422.00" y="654.74" font-size="13.80" text-anchor="start" >0</text>
<text x="422.00" y="631.66" font-size="13.80" text-anchor="start" >0.2</text>
<text x="422.00" y="608.58" font-size="13.80" text-anchor="start" >0.4</text>
<text x="422.00" y="585.50" font-size="13.80" text-anchor="start" >0.6</text>
<text x="422.00" y="562.42" font-size="13.80" text-anchor="start" >0.8</text>
<text x="422.00" y="539.34" font-size="13.80" text-anchor="start" >1</text>
<g stroke="#555" stroke-width="0.6"><line x1="418.60" y1="649.80" x2="417.00" y2="649.80"/><line x1="418.60" y1="626.72" x2="417.00" y2="626.72"/><line x1="418.60" y1="603.64" x2="417.00" y2="603.64"/><line x1="418.60" y1="580.56" x2="417.00" y2="580.56"/><line x1="418.60" y1="557.48" x2="417.00" y2="557.48"/><line x1="418.60" y1="534.40" x2="417.00" y2="534.40"/></g>
<text x="470.80" y="521.20" font-size="13.00" text-anchor="end" >density (kg m<tspan dy="-5.20" font-size="9.75">-3</tspan><tspan dy="5.20">)</tspan></text>
</svg>
</body></html>
